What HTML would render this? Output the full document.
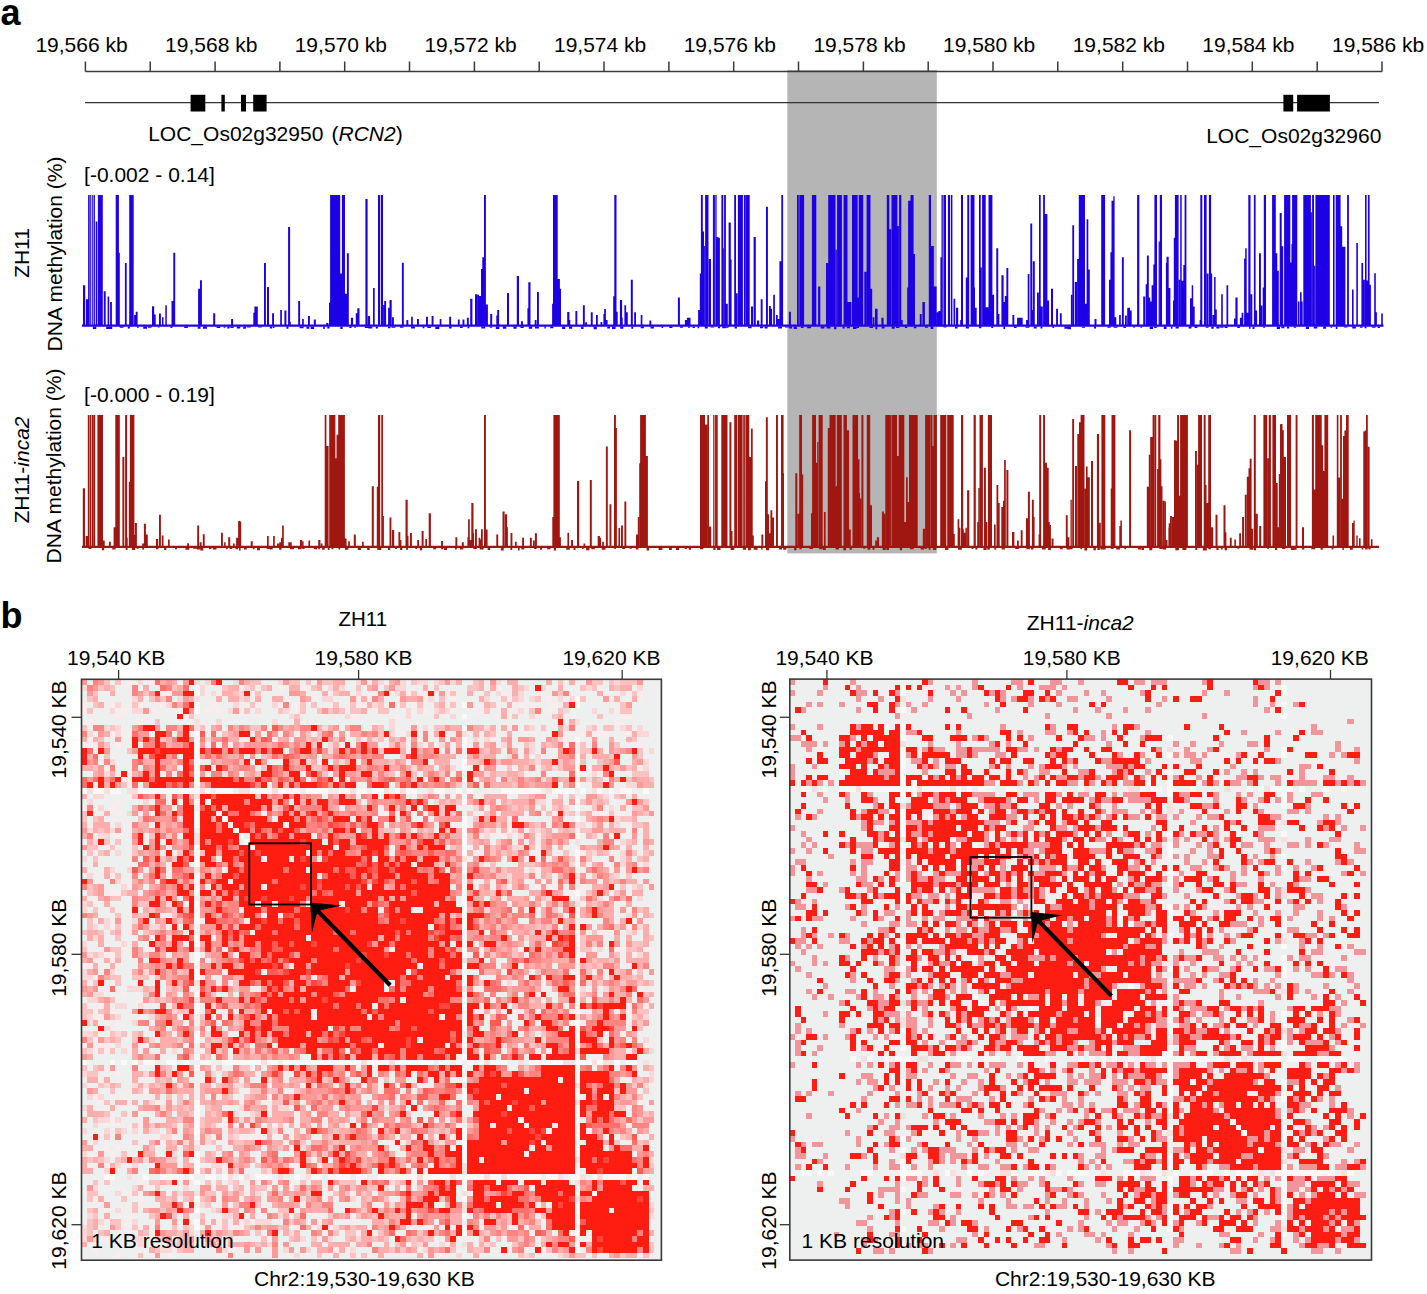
<!DOCTYPE html>
<html><head><meta charset="utf-8"><title>Figure</title>
<style>html,body{margin:0;padding:0;background:#fff;width:1427px;height:1294px;overflow:hidden}svg{display:block;position:absolute;left:0;top:0}text{font-family:"Liberation Sans",sans-serif;fill:#000}</style>
</head><body><svg width="1427" height="1294" viewBox="0 0 1427 1294"><text x="0.5" y="24.5" font-size="36" font-weight="bold" font-family="Liberation Sans, sans-serif">a</text><text x="35.4" y="52" font-size="21" font-family="Liberation Sans, sans-serif">19,566 kb</text><text x="165.1" y="52" font-size="21" font-family="Liberation Sans, sans-serif">19,568 kb</text><text x="294.7" y="52" font-size="21" font-family="Liberation Sans, sans-serif">19,570 kb</text><text x="424.4" y="52" font-size="21" font-family="Liberation Sans, sans-serif">19,572 kb</text><text x="554.0" y="52" font-size="21" font-family="Liberation Sans, sans-serif">19,574 kb</text><text x="683.7" y="52" font-size="21" font-family="Liberation Sans, sans-serif">19,576 kb</text><text x="813.4" y="52" font-size="21" font-family="Liberation Sans, sans-serif">19,578 kb</text><text x="943.0" y="52" font-size="21" font-family="Liberation Sans, sans-serif">19,580 kb</text><text x="1072.7" y="52" font-size="21" font-family="Liberation Sans, sans-serif">19,582 kb</text><text x="1202.3" y="52" font-size="21" font-family="Liberation Sans, sans-serif">19,584 kb</text><text x="1332.0" y="52" font-size="21" font-family="Liberation Sans, sans-serif">19,586 kb</text><rect x="787.3" y="69.9" width="149.5" height="483.5" fill="#b4b5b4"/><path d="M85.4 71.6H1382M85.4 61.6V71.6M150.2 61.6V71.6M215.1 61.6V71.6M279.9 61.6V71.6M344.7 61.6V71.6M409.5 61.6V71.6M474.4 61.6V71.6M539.2 61.6V71.6M604.0 61.6V71.6M668.9 61.6V71.6M733.7 61.6V71.6M798.5 61.6V71.6M863.4 61.6V71.6M928.2 61.6V71.6M993.0 61.6V71.6M1057.8 61.6V71.6M1122.7 61.6V71.6M1187.5 61.6V71.6M1252.3 61.6V71.6M1317.2 61.6V71.6M1382.0 61.6V71.6" stroke="#3a3a3a" stroke-width="1.5" fill="none"/><path d="M85 102.6H1379" stroke="#333" stroke-width="1.4" fill="none"/><rect x="190.6" y="94.8" width="14.7" height="16.7" fill="#000"/><rect x="221.4" y="94.8" width="3.4" height="16.7" fill="#000"/><rect x="241" y="94.8" width="5.0" height="16.7" fill="#000"/><rect x="253.2" y="94.8" width="13.4" height="16.7" fill="#000"/><rect x="1283.4" y="94.8" width="9.8" height="16.7" fill="#000"/><rect x="1297.1" y="94.8" width="32.8" height="16.7" fill="#000"/><text x="148.2" y="140.5" font-size="21" font-family="Liberation Sans, sans-serif">LOC_Os02g32950</text><text x="331.5" y="140.5" font-size="21" font-family="Liberation Sans, sans-serif">(<tspan font-style="italic">RCN2</tspan>)</text><text x="1206.2" y="142.5" font-size="21" font-family="Liberation Sans, sans-serif">LOC_Os02g32960</text><text x="84.1" y="182.4" font-size="21" font-family="Liberation Sans, sans-serif">[-0.002 - 0.14]</text><text x="84.1" y="401.5" font-size="21" font-family="Liberation Sans, sans-serif">[-0.000 - 0.19]</text><text transform="translate(28.9,253) rotate(-90)" text-anchor="middle" font-size="21" font-family="Liberation Sans, sans-serif">ZH11</text><text transform="translate(62,254) rotate(-90)" text-anchor="middle" font-size="21" font-family="Liberation Sans, sans-serif">DNA methylation (%)</text><text transform="translate(29.2,470) rotate(-90)" text-anchor="middle" font-size="21" font-family="Liberation Sans, sans-serif">ZH11-<tspan font-style="italic">inca2</tspan></text><text transform="translate(61.3,466) rotate(-90)" text-anchor="middle" font-size="21" font-family="Liberation Sans, sans-serif">DNA methylation (%)</text><path d="M83.0 285.2h2.2V326.0h-2.2zM86.0 299.3h2.2V326.0h-2.2zM88.1 195.0h1.1V326.0h-1.1zM89.5 195.0h1.3V326.0h-1.3zM91.7 195.0h1.1V326.0h-1.1zM93.5 195.0h1.4V326.0h-1.4zM95.7 221.4h1.6V326.0h-1.6zM97.9 195.0h4.9V326.0h-4.9zM103.8 291.2h1.9V326.0h-1.9zM107.6 296.6h1.6V326.0h-1.6zM110.1 302.0h1.8V326.0h-1.8zM115.7 195.0h3.2V326.0h-3.2zM118.4 252.8h1.4V326.0h-1.4zM124.9 263.1h1.8V326.0h-1.8zM129.2 195.0h4.5V326.0h-4.5zM134.1 315.0h1.6V326.0h-1.6zM135.7 311.8h1.9V326.0h-1.9zM152.0 306.3h2.2V326.0h-2.2zM154.1 314.5h1.6V326.0h-1.6zM159.0 313.4h1.9V326.0h-1.9zM162.0 317.2h1.5V326.0h-1.5zM165.3 305.3h1.5V326.0h-1.5zM171.5 300.9h1.8V326.0h-1.8zM173.3 252.8h1.9V326.0h-1.9zM198.1 288.7h1.9V326.0h-1.9zM200.0 280.3h1.9V326.0h-1.9zM213.2 313.3h2.0V326.0h-2.0zM231.1 318.9h2.0V326.0h-2.0zM253.3 312.8h1.7V326.0h-1.7zM254.4 306.6h3.4V326.0h-3.4zM264.0 262.9h1.9V326.0h-1.9zM267.0 287.0h2.0V326.0h-2.0zM272.1 313.3h1.9V326.0h-1.9zM280.2 310.0h1.7V326.0h-1.7zM284.4 310.5h2.0V326.0h-2.0zM288.1 227.0h2.0V326.0h-2.0zM289.7 321.7h1.1V326.0h-1.1zM298.2 301.0h1.9V326.0h-1.9zM302.1 318.9h1.7V326.0h-1.7zM308.0 316.1h1.9V326.0h-1.9zM313.8 319.5h2.0V326.0h-2.0zM326.2 322.9h2.2V326.0h-2.2zM329.0 302.7h1.7V326.0h-1.7zM330.1 195.0h10.1V326.0h-10.1zM340.2 273.5h1.7V326.0h-1.7zM341.9 195.0h3.1V326.0h-3.1zM345.0 293.7h1.9V326.0h-1.9zM346.9 253.3h1.9V326.0h-1.9zM351.1 317.8h2.0V326.0h-2.0zM350.9 317.8h2.2V326.0h-2.2zM355.8 313.3h1.5V326.0h-1.5zM357.3 308.3h2.2V326.0h-2.2zM365.4 199.0h2.2V326.0h-2.2zM367.9 316.1h2.2V326.0h-2.2zM373.0 288.1h1.7V326.0h-1.7zM378.0 195.0h2.0V326.0h-2.0zM380.8 195.0h2.2V326.0h-2.2zM383.1 304.9h1.1V326.0h-1.1zM384.2 301.0h1.9V326.0h-1.9zM388.1 307.7h1.7V326.0h-1.7zM389.5 299.9h2.2V326.0h-2.2zM392.0 317.3h1.9V326.0h-1.9zM401.9 262.7h1.9V326.0h-1.9zM406.4 320.1h1.9V326.0h-1.9zM411.1 316.7h1.7V326.0h-1.7zM417.0 318.9h1.9V326.0h-1.9zM426.0 316.7h1.9V326.0h-1.9zM431.6 316.1h1.9V326.0h-1.9zM439.7 318.9h1.7V326.0h-1.7zM449.2 316.7h1.9V326.0h-1.9zM457.9 319.5h1.8V326.0h-1.8zM462.5 319.5h1.9V326.0h-1.9zM466.9 317.8h1.9V326.0h-1.9zM470.2 298.8h2.2V326.0h-2.2zM475.0 294.3h2.2V326.0h-2.2zM477.3 294.8h1.7V326.0h-1.7zM478.9 296.0h2.2V326.0h-2.2zM481.0 269.0h1.3V326.0h-1.3zM482.3 257.3h2.2V326.0h-2.2zM484.0 195.0h1.9V326.0h-1.9zM485.9 304.4h2.0V326.0h-2.0zM490.2 313.9h2.0V326.0h-2.0zM496.3 315.6h1.5V326.0h-1.5zM497.2 310.0h1.9V326.0h-1.9zM507.0 292.9h2.0V326.0h-2.0zM507.0 292.9h1.9V326.0h-1.9zM516.8 276.1h2.2V326.0h-2.2zM521.0 321.2h1.9V326.0h-1.9zM527.4 308.3h1.3V326.0h-1.3zM528.3 282.2h2.2V326.0h-2.2zM534.7 320.1h1.9V326.0h-1.9zM537.0 292.0h1.9V326.0h-1.9zM552.1 303.8h1.3V326.0h-1.3zM553.0 195.0h4.7V326.0h-4.7zM557.7 278.9h2.2V326.0h-2.2zM559.7 288.7h1.3V326.0h-1.3zM567.2 312.0h2.2V326.0h-2.2zM568.7 320.1h1.6V326.0h-1.6zM575.4 310.9h1.9V326.0h-1.9zM582.9 305.3h1.9V326.0h-1.9zM585.2 322.3h1.9V326.0h-1.9zM590.8 312.2h1.9V326.0h-1.9zM596.0 315.0h1.8V326.0h-1.8zM600.5 322.1h1.8V326.0h-1.8zM603.4 313.9h1.6V326.0h-1.6zM604.2 309.1h1.7V326.0h-1.7zM605.9 320.1h1.7V326.0h-1.7zM613.2 296.3h1.5V326.0h-1.5zM614.3 195.0h2.2V326.0h-2.2zM616.0 311.7h1.7V326.0h-1.7zM619.9 299.9h2.2V326.0h-2.2zM621.6 317.8h1.1V326.0h-1.1zM624.4 305.3h1.7V326.0h-1.7zM626.1 312.2h1.7V326.0h-1.7zM630.8 279.7h2.0V326.0h-2.0zM634.2 312.2h1.8V326.0h-1.8zM640.7 315.0h1.7V326.0h-1.7zM649.4 320.6h1.9V326.0h-1.9zM677.9 297.6h2.0V326.0h-2.0zM684.9 320.1h2.0V326.0h-2.0zM686.9 317.8h3.6V326.0h-3.6zM698.1 310.0h2.0V326.0h-2.0zM699.8 273.5h1.5V326.0h-1.5zM700.9 195.0h1.9V326.0h-1.9zM702.4 231.5h1.6V326.0h-1.6zM704.0 246.1h0.9V326.0h-0.9zM705.1 195.0h3.4V326.0h-3.4zM708.8 259.0h2.2V326.0h-2.2zM712.9 195.0h2.0V326.0h-2.0zM715.3 195.0h1.3V326.0h-1.3zM716.6 237.1h1.7V326.0h-1.7zM717.7 237.7h2.2V326.0h-2.2zM721.4 195.0h1.9V326.0h-1.9zM722.8 248.3h1.1V326.0h-1.1zM724.1 195.0h1.8V326.0h-1.8zM725.9 303.8h1.9V326.0h-1.9zM728.6 222.5h2.2V326.0h-2.2zM730.1 259.5h1.5V326.0h-1.5zM734.2 195.0h1.8V326.0h-1.8zM735.7 293.2h1.9V326.0h-1.9zM737.9 195.0h5.0V326.0h-5.0zM743.9 195.0h1.1V326.0h-1.1zM745.2 195.0h4.5V326.0h-4.5zM751.0 306.6h2.0V326.0h-2.0zM753.6 237.1h2.2V326.0h-2.2zM757.0 320.6h2.2V326.0h-2.2zM760.7 299.3h1.9V326.0h-1.9zM766.0 206.8h1.9V326.0h-1.9zM769.0 306.0h1.8V326.0h-1.8zM770.8 308.8h1.3V326.0h-1.3zM773.2 294.8h1.7V326.0h-1.7zM776.0 315.0h1.7V326.0h-1.7zM777.7 318.9h1.7V326.0h-1.7zM779.4 261.2h1.9V326.0h-1.9zM781.3 195.0h1.8V326.0h-1.8zM788.9 311.7h2.0V326.0h-2.0zM797.0 195.0h1.8V326.0h-1.8zM799.3 195.0h4.8V326.0h-4.8zM811.9 195.0h4.1V326.0h-4.1zM818.1 286.4h1.9V326.0h-1.9zM815.0 195.0h1.3V326.0h-1.3zM818.1 286.4h2.2V326.0h-2.2zM826.0 262.9h2.2V326.0h-2.2zM828.2 195.0h7.3V326.0h-7.3zM835.7 249.4h1.1V326.0h-1.1zM837.1 195.0h4.8V326.0h-4.8zM843.6 195.0h3.9V326.0h-3.9zM847.5 302.1h3.9V326.0h-3.9zM852.0 195.0h5.6V326.0h-5.6zM857.6 297.6h1.1V326.0h-1.1zM858.7 195.0h4.5V326.0h-4.5zM864.3 271.8h2.2V326.0h-2.2zM866.6 195.0h3.9V326.0h-3.9zM870.5 288.7h1.7V326.0h-1.7zM872.7 317.3h1.7V326.0h-1.7zM875.0 308.8h2.6V326.0h-2.6zM881.4 317.8h2.2V326.0h-2.2zM886.8 195.0h2.5V326.0h-2.5zM889.2 229.2h2.0V326.0h-2.0zM891.5 195.0h5.9V326.0h-5.9zM897.4 225.9h1.5V326.0h-1.5zM899.1 195.0h2.2V326.0h-2.2zM900.2 320.1h2.5V326.0h-2.5zM907.2 287.5h1.8V326.0h-1.8zM908.1 200.7h2.5V326.0h-2.5zM910.5 195.0h3.1V326.0h-3.1zM913.1 253.9h1.9V326.0h-1.9zM919.8 313.9h1.9V326.0h-1.9zM922.4 302.1h2.5V326.0h-2.5zM928.8 195.0h2.2V326.0h-2.2zM930.5 246.1h3.4V326.0h-3.4zM933.8 286.4h2.8V326.0h-2.8zM936.7 312.2h1.7V326.0h-1.7zM938.3 311.1h2.2V326.0h-2.2zM940.4 257.3h1.1V326.0h-1.1zM941.5 195.0h1.3V326.0h-1.3zM943.4 195.0h2.6V326.0h-2.6zM947.9 195.0h2.2V326.0h-2.2zM950.9 195.0h1.5V326.0h-1.5zM953.5 298.8h1.7V326.0h-1.7zM956.0 307.7h2.2V326.0h-2.2zM960.2 320.1h0.9V326.0h-0.9zM961.0 195.0h2.0V326.0h-2.0zM965.8 277.5h1.5V326.0h-1.5zM967.3 195.0h1.9V326.0h-1.9zM970.8 195.0h2.2V326.0h-2.2zM973.1 287.5h1.9V326.0h-1.9zM970.6 195.0h1.7V326.0h-1.7zM972.5 195.0h2.0V326.0h-2.0zM974.5 307.7h2.2V326.0h-2.2zM979.0 195.0h1.7V326.0h-1.7zM980.7 267.4h1.1V326.0h-1.1zM982.1 195.0h3.6V326.0h-3.6zM985.7 307.2h2.8V326.0h-2.8zM988.5 195.0h3.9V326.0h-3.9zM992.4 294.8h1.7V326.0h-1.7zM996.3 248.3h1.9V326.0h-1.9zM997.5 313.9h1.9V326.0h-1.9zM1001.4 275.2h2.2V326.0h-2.2zM1003.4 302.1h1.6V326.0h-1.6zM1004.8 296.0h1.7V326.0h-1.7zM1006.4 267.9h1.9V326.0h-1.9zM1012.4 315.0h1.9V326.0h-1.9zM1017.1 317.8h5.6V326.0h-5.6zM1026.1 320.1h2.0V326.0h-2.0zM1027.7 274.1h1.7V326.0h-1.7zM1030.3 223.6h1.9V326.0h-1.9zM1031.7 310.0h1.7V326.0h-1.7zM1032.8 261.2h2.0V326.0h-2.0zM1037.0 292.6h1.9V326.0h-1.9zM1039.0 195.0h1.7V326.0h-1.7zM1040.6 306.6h2.2V326.0h-2.2zM1043.1 195.0h1.8V326.0h-1.8zM1044.9 214.1h2.5V326.0h-2.5zM1047.4 300.4h1.7V326.0h-1.7zM1051.0 288.7h2.0V326.0h-2.0zM1056.1 308.8h1.9V326.0h-1.9zM1059.9 313.3h1.8V326.0h-1.8zM1070.9 294.8h1.3V326.0h-1.3zM1072.3 225.3h1.8V326.0h-1.8zM1074.8 281.9h2.2V326.0h-2.2zM1077.1 259.0h1.7V326.0h-1.7zM1078.8 195.0h6.2V326.0h-6.2zM1084.9 303.8h1.7V326.0h-1.7zM1086.6 219.2h1.7V326.0h-1.7zM1088.3 269.6h1.5V326.0h-1.5zM1094.5 318.9h2.0V326.0h-2.0zM1101.2 195.0h3.9V326.0h-3.9zM1109.0 279.7h1.7V326.0h-1.7zM1110.4 252.2h1.5V326.0h-1.5zM1111.5 200.7h2.0V326.0h-2.0zM1113.3 196.2h1.3V326.0h-1.3zM1114.6 317.3h1.7V326.0h-1.7zM1119.1 315.0h1.7V326.0h-1.7zM1121.9 257.3h1.9V326.0h-1.9zM1125.3 315.6h1.5V326.0h-1.5zM1127.5 307.7h2.5V326.0h-2.5zM1125.0 315.6h1.7V326.0h-1.7zM1127.2 308.3h2.2V326.0h-2.2zM1129.5 310.5h2.2V326.0h-2.2zM1137.1 195.0h2.2V326.0h-2.2zM1143.2 296.5h2.0V326.0h-2.0zM1145.7 284.2h1.5V326.0h-1.5zM1146.9 255.6h1.9V326.0h-1.9zM1148.5 297.6h1.7V326.0h-1.7zM1149.9 301.6h1.7V326.0h-1.7zM1151.6 285.3h2.0V326.0h-2.0zM1153.3 264.6h1.5V326.0h-1.5zM1154.4 195.0h2.6V326.0h-2.6zM1158.6 241.6h1.1V326.0h-1.1zM1159.8 195.0h2.2V326.0h-2.2zM1165.9 262.9h1.5V326.0h-1.5zM1166.5 256.7h2.2V326.0h-2.2zM1168.2 288.1h2.2V326.0h-2.2zM1173.0 300.4h1.3V326.0h-1.3zM1173.8 237.7h1.7V326.0h-1.7zM1174.9 195.0h3.7V326.0h-3.7zM1178.8 279.7h1.3V326.0h-1.3zM1180.2 195.0h1.5V326.0h-1.5zM1181.6 280.8h1.7V326.0h-1.7zM1183.3 265.1h1.3V326.0h-1.3zM1184.6 195.0h1.8V326.0h-1.8zM1190.0 298.2h1.7V326.0h-1.7zM1191.7 285.3h1.5V326.0h-1.5zM1192.8 306.6h1.9V326.0h-1.9zM1199.6 320.1h1.7V326.0h-1.7zM1200.3 195.0h2.0V326.0h-2.0zM1204.0 195.0h2.6V326.0h-2.6zM1206.8 273.5h1.7V326.0h-1.7zM1208.9 195.0h2.2V326.0h-2.2zM1211.1 273.5h1.1V326.0h-1.1zM1212.5 315.0h1.7V326.0h-1.7zM1214.1 276.9h1.5V326.0h-1.5zM1215.3 309.4h1.5V326.0h-1.5zM1221.2 294.3h1.6V326.0h-1.6zM1226.5 285.3h1.7V326.0h-1.7zM1234.0 318.4h1.5V326.0h-1.5zM1235.4 297.6h2.2V326.0h-2.2zM1239.9 317.8h1.7V326.0h-1.7zM1241.6 312.8h1.7V326.0h-1.7zM1244.1 258.4h1.1V326.0h-1.1zM1245.2 248.3h1.5V326.0h-1.5zM1246.7 312.8h1.7V326.0h-1.7zM1248.3 195.0h2.2V326.0h-2.2zM1250.6 294.3h1.7V326.0h-1.7zM1253.9 195.0h1.7V326.0h-1.7zM1255.6 310.5h1.5V326.0h-1.5zM1259.0 253.3h1.9V326.0h-1.9zM1260.9 305.5h1.5V326.0h-1.5zM1262.7 287.5h1.1V326.0h-1.1zM1263.8 195.0h2.2V326.0h-2.2zM1272.1 195.0h3.7V326.0h-3.7zM1275.8 253.3h1.5V326.0h-1.5zM1276.9 270.7h1.9V326.0h-1.9zM1279.7 213.0h2.0V326.0h-2.0zM1281.4 247.2h1.7V326.0h-1.7zM1283.1 325.1h1.9V326.0h-1.9zM1280.0 213.3h1.6V326.0h-1.6zM1281.6 246.3h1.6V326.0h-1.6zM1284.1 195.0h6.2V326.0h-6.2zM1290.3 262.5h1.1V326.0h-1.1zM1291.4 244.1h0.9V326.0h-0.9zM1292.1 195.0h5.2V326.0h-5.2zM1297.9 301.5h1.6V326.0h-1.6zM1300.0 292.3h1.6V326.0h-1.6zM1301.6 301.5h1.1V326.0h-1.1zM1303.3 195.0h7.6V326.0h-7.6zM1310.8 212.2h1.1V326.0h-1.1zM1312.1 195.0h1.9V326.0h-1.9zM1314.1 265.8h1.1V326.0h-1.1zM1315.4 195.0h14.4V326.0h-14.4zM1333.0 195.0h1.6V326.0h-1.6zM1335.7 195.0h4.9V326.0h-4.9zM1340.6 226.3h1.6V326.0h-1.6zM1342.2 246.8h3.2V326.0h-3.2zM1347.1 195.0h1.8V326.0h-1.8zM1352.0 289.6h1.6V326.0h-1.6zM1356.3 243.0h1.6V326.0h-1.6zM1361.4 263.1h1.7V326.0h-1.7zM1363.1 279.8h1.8V326.0h-1.8zM1365.0 195.0h1.6V326.0h-1.6zM1366.6 280.4h1.3V326.0h-1.3zM1367.9 195.0h1.7V326.0h-1.7zM1369.6 284.7h1.3V326.0h-1.3zM1374.2 273.3h1.6V326.0h-1.6zM1375.8 312.3h1.1V326.0h-1.1zM1381.2 313.4h1.6V326.0h-1.6z" fill="#1e00e6"/><path d="M82 325.6H1383.5" stroke="#1e00e6" stroke-width="2.4"/><path d="M92.9 326.6h3.4v2.3h-3.4zM106.2 326.6h3.3v2.5h-3.3zM109.5 326.6h2.7v2.5h-2.7zM119.7 326.6h3.8v1.2h-3.8zM127.8 326.6h2.1v1.9h-2.1zM137.1 326.6h1.5v1.3h-1.5zM143.2 326.6h3.8v2.2h-3.8zM148.0 326.6h3.5v1.2h-3.5zM157.8 326.6h1.8v1.0h-1.8zM170.4 326.6h2.0v1.3h-2.0zM184.2 326.6h3.7v1.5h-3.7zM197.7 326.6h2.8v2.1h-2.8zM203.0 326.6h3.9v2.1h-3.9zM216.6 326.6h3.7v1.5h-3.7zM223.6 326.6h1.9v1.2h-1.9zM227.3 326.6h2.3v2.0h-2.3zM230.4 326.6h3.2v1.5h-3.2zM236.8 326.6h3.5v1.8h-3.5zM243.2 326.6h2.7v2.1h-2.7zM246.9 326.6h3.9v1.0h-3.9zM258.1 326.6h3.6v1.0h-3.6zM269.8 326.6h2.4v1.9h-2.4zM272.9 326.6h1.6v1.3h-1.6zM286.4 326.6h2.0v2.2h-2.0zM299.6 326.6h3.9v1.6h-3.9zM306.5 326.6h2.8v2.2h-2.8zM310.7 326.6h3.4v2.3h-3.4zM323.2 326.6h1.6v2.5h-1.6zM327.2 326.6h2.4v2.0h-2.4zM340.3 326.6h2.3v2.5h-2.3zM349.3 326.6h2.3v1.5h-2.3zM354.2 326.6h1.7v1.2h-1.7zM364.8 326.6h4.0v1.3h-4.0zM368.3 326.6h4.0v1.9h-4.0zM375.8 326.6h2.1v2.0h-2.1zM387.9 326.6h2.6v1.7h-2.6zM391.5 326.6h3.8v1.1h-3.8zM399.9 326.6h3.6v1.2h-3.6zM411.0 326.6h3.9v2.0h-3.9zM422.6 326.6h1.8v1.7h-1.8zM427.3 326.6h3.6v1.5h-3.6zM435.3 326.6h4.0v2.4h-4.0zM449.0 326.6h2.6v1.8h-2.6zM460.0 326.6h2.7v1.5h-2.7zM467.5 326.6h1.9v1.6h-1.9zM481.3 326.6h3.9v2.0h-3.9zM489.8 326.6h2.3v1.1h-2.3zM495.8 326.6h3.5v2.4h-3.5zM502.8 326.6h3.5v2.2h-3.5zM513.4 326.6h3.2v2.2h-3.2zM520.4 326.6h3.3v1.4h-3.3zM528.8 326.6h3.4v2.1h-3.4zM535.0 326.6h3.9v2.0h-3.9zM544.4 326.6h1.5v1.9h-1.5zM550.2 326.6h3.2v1.7h-3.2zM562.1 326.6h3.1v2.3h-3.1zM569.0 326.6h3.1v2.2h-3.1zM581.1 326.6h2.4v2.3h-2.4zM593.6 326.6h3.2v2.6h-3.2zM607.2 326.6h2.8v1.8h-2.8zM612.0 326.6h3.6v2.5h-3.6zM620.2 326.6h3.2v2.2h-3.2zM631.3 326.6h1.9v2.2h-1.9zM640.7 326.6h3.2v1.7h-3.2zM650.5 326.6h3.4v2.0h-3.4zM661.5 326.6h1.6v1.3h-1.6zM669.3 326.6h3.1v1.4h-3.1zM679.9 326.6h3.1v1.1h-3.1zM688.0 326.6h2.1v1.1h-2.1zM692.5 326.6h2.3v1.3h-2.3zM697.6 326.6h1.6v1.7h-1.6zM704.8 326.6h3.0v1.9h-3.0zM710.4 326.6h3.8v1.0h-3.8zM717.9 326.6h2.2v1.7h-2.2zM722.2 326.6h3.6v1.6h-3.6zM725.6 326.6h3.0v1.2h-3.0zM734.6 326.6h2.3v1.9h-2.3zM748.1 326.6h3.5v1.7h-3.5zM760.0 326.6h3.1v1.6h-3.1zM764.6 326.6h3.0v1.9h-3.0zM778.1 326.6h3.9v2.0h-3.9zM785.0 326.6h3.7v1.0h-3.7zM789.2 326.6h2.9v2.0h-2.9zM793.7 326.6h3.1v2.4h-3.1zM800.9 326.6h2.6v1.4h-2.6zM807.1 326.6h3.9v1.6h-3.9zM820.6 326.6h3.8v2.0h-3.8zM826.5 326.6h4.0v1.8h-4.0zM834.1 326.6h2.3v2.6h-2.3zM842.5 326.6h2.2v1.8h-2.2zM846.8 326.6h3.1v1.7h-3.1zM853.0 326.6h3.5v2.3h-3.5zM856.2 326.6h2.8v1.4h-2.8zM869.5 326.6h3.5v1.4h-3.5zM875.4 326.6h1.9v2.6h-1.9zM881.6 326.6h3.0v1.8h-3.0zM891.7 326.6h3.0v2.2h-3.0zM896.0 326.6h3.4v1.5h-3.4zM904.9 326.6h2.3v1.5h-2.3zM913.7 326.6h2.7v1.6h-2.7zM924.9 326.6h3.0v1.1h-3.0zM930.7 326.6h2.6v2.5h-2.6zM943.5 326.6h2.9v1.0h-2.9zM955.0 326.6h2.6v1.9h-2.6zM965.8 326.6h3.1v1.8h-3.1zM978.9 326.6h2.5v1.6h-2.5zM991.2 326.6h2.0v1.5h-2.0zM1003.4 326.6h1.7v2.3h-1.7zM1014.0 326.6h2.6v1.5h-2.6zM1025.6 326.6h3.8v1.2h-3.8zM1033.8 326.6h2.9v1.8h-2.9zM1040.5 326.6h1.9v1.9h-1.9zM1052.4 326.6h1.7v1.4h-1.7zM1064.4 326.6h3.5v2.1h-3.5zM1067.7 326.6h3.3v2.6h-3.3zM1081.7 326.6h3.3v1.1h-3.3zM1094.0 326.6h2.0v2.0h-2.0zM1107.4 326.6h3.3v1.2h-3.3zM1113.6 326.6h3.8v1.2h-3.8zM1123.4 326.6h2.5v1.3h-2.5zM1133.2 326.6h1.6v1.2h-1.6zM1140.4 326.6h1.7v1.1h-1.7zM1149.7 326.6h3.4v2.4h-3.4zM1154.2 326.6h2.6v1.5h-2.6zM1163.8 326.6h2.7v2.5h-2.7zM1170.9 326.6h1.6v2.1h-1.6zM1175.6 326.6h3.1v1.8h-3.1zM1188.6 326.6h2.9v2.0h-2.9zM1194.5 326.6h2.9v1.4h-2.9zM1205.7 326.6h2.8v1.2h-2.8zM1211.3 326.6h2.4v2.2h-2.4zM1216.3 326.6h3.3v2.0h-3.3zM1220.2 326.6h3.2v1.1h-3.2zM1224.6 326.6h3.0v1.4h-3.0zM1237.2 326.6h2.7v1.5h-2.7zM1249.0 326.6h1.6v2.2h-1.6zM1252.6 326.6h1.9v2.5h-1.9zM1263.1 326.6h2.1v1.2h-2.1zM1276.8 326.6h3.2v2.3h-3.2zM1281.3 326.6h3.1v1.6h-3.1zM1286.9 326.6h2.3v2.0h-2.3zM1293.7 326.6h2.5v1.2h-2.5zM1305.9 326.6h3.1v2.3h-3.1zM1313.7 326.6h3.6v1.8h-3.6zM1323.2 326.6h2.9v2.2h-2.9zM1330.5 326.6h1.7v1.1h-1.7zM1335.8 326.6h1.6v2.4h-1.6zM1344.0 326.6h3.4v1.0h-3.4zM1352.2 326.6h3.7v2.0h-3.7zM1359.9 326.6h2.7v1.2h-2.7zM1364.6 326.6h1.9v1.6h-1.9zM1371.9 326.6h3.7v1.2h-3.7zM1377.7 326.6h2.2v1.3h-2.2z" fill="#1e00e6"/><path d="M82.8 488.3h2.2V547.2h-2.2zM85.6 536.1h2.2V547.2h-2.2zM87.8 415.0h1.7V547.2h-1.7zM89.9 415.0h1.3V547.2h-1.3zM91.8 415.0h1.5V547.2h-1.5zM93.5 415.0h1.7V547.2h-1.7zM97.4 415.0h5.6V547.2h-5.6zM103.0 540.6h1.7V547.2h-1.7zM108.9 541.7h1.9V547.2h-1.9zM113.6 527.2h2.0V547.2h-2.0zM115.3 415.0h4.5V547.2h-4.5zM122.4 457.1h1.9V547.2h-1.9zM125.1 415.0h2.0V547.2h-2.0zM126.0 537.8h1.7V547.2h-1.7zM128.8 481.8h1.1V547.2h-1.1zM129.9 415.0h4.5V547.2h-4.5zM134.0 535.0h1.5V547.2h-1.5zM134.9 523.0h2.0V547.2h-2.0zM142.2 543.4h1.7V547.2h-1.7zM143.9 523.8h2.0V547.2h-2.0zM145.9 534.5h1.9V547.2h-1.9zM156.0 538.9h2.2V547.2h-2.2zM159.0 514.8h1.9V547.2h-1.9zM161.8 535.6h1.7V547.2h-1.7zM168.0 539.5h1.7V547.2h-1.7zM187.1 543.2h1.9V547.2h-1.9zM197.2 525.5h1.9V547.2h-1.9zM199.7 542.3h1.9V547.2h-1.9zM202.8 534.2h1.9V547.2h-1.9zM221.0 532.8h1.9V547.2h-1.9zM224.1 542.3h1.5V547.2h-1.5zM228.2 537.3h2.0V547.2h-2.0zM233.0 543.4h1.7V547.2h-1.7zM236.1 537.8h2.0V547.2h-2.0zM238.1 521.0h1.9V547.2h-1.9zM236.1 538.4h2.0V547.2h-2.0zM239.3 521.6h1.9V547.2h-1.9zM250.7 541.2h2.0V547.2h-2.0zM267.0 536.1h1.7V547.2h-1.7zM273.1 536.1h1.7V547.2h-1.7zM277.0 543.4h2.2V547.2h-2.2zM279.3 542.3h1.9V547.2h-1.9zM281.0 537.8h1.1V547.2h-1.1zM282.1 525.5h1.7V547.2h-1.7zM288.3 542.3h3.4V547.2h-3.4zM300.0 540.1h2.2V547.2h-2.2zM302.3 541.2h1.3V547.2h-1.3zM308.4 540.6h1.7V547.2h-1.7zM318.2 540.1h2.2V547.2h-2.2zM320.8 543.4h1.7V547.2h-1.7zM324.7 415.0h1.7V547.2h-1.7zM326.4 445.9h2.2V547.2h-2.2zM329.2 415.0h6.2V547.2h-6.2zM335.3 458.2h1.7V547.2h-1.7zM336.5 434.7h1.7V547.2h-1.7zM338.2 415.0h6.7V547.2h-6.7zM344.9 538.4h1.7V547.2h-1.7zM348.2 541.2h1.7V547.2h-1.7zM353.8 534.5h2.0V547.2h-2.0zM362.0 541.7h1.7V547.2h-1.7zM371.8 486.2h2.0V547.2h-2.0zM376.8 486.8h1.7V547.2h-1.7zM378.0 415.0h2.2V547.2h-2.2zM381.3 415.0h1.7V547.2h-1.7zM381.9 516.0h2.0V547.2h-2.0zM389.5 517.6h1.9V547.2h-1.9zM392.0 530.0h2.2V547.2h-2.2zM390.0 517.6h1.3V547.2h-1.3zM392.0 530.2h2.2V547.2h-2.2zM398.4 532.0h1.9V547.2h-1.9zM400.1 540.1h1.3V547.2h-1.3zM405.5 499.7h2.2V547.2h-2.2zM406.8 536.1h1.7V547.2h-1.7zM410.0 533.1h1.9V547.2h-1.9zM417.2 540.1h1.9V547.2h-1.9zM421.6 531.1h2.0V547.2h-2.0zM425.3 538.9h1.7V547.2h-1.7zM428.7 513.2h2.2V547.2h-2.2zM441.0 541.0h1.9V547.2h-1.9zM455.4 537.3h1.9V547.2h-1.9zM461.8 542.3h2.0V547.2h-2.0zM467.4 537.3h1.1V547.2h-1.1zM468.1 519.3h1.7V547.2h-1.7zM469.8 540.1h1.5V547.2h-1.5zM471.3 503.1h2.2V547.2h-2.2zM473.0 533.3h1.1V547.2h-1.1zM475.0 529.2h1.9V547.2h-1.9zM478.6 537.8h1.7V547.2h-1.7zM479.7 539.5h1.3V547.2h-1.3zM481.0 529.2h1.8V547.2h-1.8zM484.0 415.0h1.9V547.2h-1.9zM485.9 529.4h1.7V547.2h-1.7zM496.3 534.5h1.9V547.2h-1.9zM502.5 511.5h2.1V547.2h-2.1zM504.9 514.3h2.2V547.2h-2.2zM506.6 527.2h1.3V547.2h-1.3zM510.5 533.1h1.9V547.2h-1.9zM515.0 541.7h1.7V547.2h-1.7zM522.1 537.8h1.9V547.2h-1.9zM529.9 537.8h1.9V547.2h-1.9zM533.0 540.6h1.7V547.2h-1.7zM534.9 533.3h2.0V547.2h-2.0zM552.3 517.1h1.5V547.2h-1.5zM553.4 415.0h6.4V547.2h-6.4zM559.6 537.3h1.3V547.2h-1.3zM567.4 532.8h1.7V547.2h-1.7zM571.1 540.1h1.9V547.2h-1.9zM577.0 480.9h2.2V547.2h-2.2zM583.5 543.4h1.7V547.2h-1.7zM589.8 480.1h2.0V547.2h-2.0zM597.7 536.1h2.2V547.2h-2.2zM599.7 537.8h1.3V547.2h-1.3zM602.2 541.7h1.7V547.2h-1.7zM605.9 446.4h1.9V547.2h-1.9zM609.5 504.2h1.9V547.2h-1.9zM614.0 415.0h1.9V547.2h-1.9zM615.6 427.9h1.3V547.2h-1.3zM618.4 528.0h1.7V547.2h-1.7zM621.0 525.5h1.9V547.2h-1.9zM624.4 501.4h1.9V547.2h-1.9zM636.0 534.5h1.8V547.2h-1.8zM637.8 517.1h1.3V547.2h-1.3zM639.2 463.3h1.1V547.2h-1.1zM640.1 415.0h5.8V547.2h-5.8zM645.9 456.0h2.0V547.2h-2.0zM701.4 415.0h3.6V547.2h-3.6zM700.0 415.0h5.0V547.2h-5.0zM705.0 424.6h2.2V547.2h-2.2zM707.3 415.0h1.7V547.2h-1.7zM709.0 526.6h2.2V547.2h-2.2zM713.2 415.0h1.3V547.2h-1.3zM715.1 415.0h2.6V547.2h-2.6zM721.3 415.0h6.2V547.2h-6.2zM729.4 422.3h2.0V547.2h-2.0zM730.8 531.1h1.7V547.2h-1.7zM734.2 415.0h2.8V547.2h-2.8zM735.3 478.4h1.7V547.2h-1.7zM737.6 415.0h5.0V547.2h-5.0zM743.2 415.0h1.7V547.2h-1.7zM745.4 415.0h3.9V547.2h-3.9zM749.3 457.1h2.2V547.2h-2.2zM751.0 428.5h1.7V547.2h-1.7zM752.5 535.6h1.3V547.2h-1.3zM761.4 534.5h1.9V547.2h-1.9zM765.0 481.2h1.1V547.2h-1.1zM765.9 417.3h1.9V547.2h-1.9zM767.3 514.3h1.7V547.2h-1.7zM769.0 533.3h1.7V547.2h-1.7zM770.4 510.3h1.9V547.2h-1.9zM772.3 517.6h1.7V547.2h-1.7zM776.0 415.0h1.9V547.2h-1.9zM781.0 415.0h2.6V547.2h-2.6zM782.7 473.3h1.3V547.2h-1.3zM795.3 473.3h2.0V547.2h-2.0zM797.5 513.7h1.7V547.2h-1.7zM799.2 415.0h2.8V547.2h-2.8zM801.5 474.5h1.7V547.2h-1.7zM811.0 513.2h1.1V547.2h-1.1zM812.1 415.0h3.9V547.2h-3.9zM816.0 462.7h1.7V547.2h-1.7zM817.2 442.0h1.1V547.2h-1.1zM818.6 415.0h4.1V547.2h-4.1zM823.9 512.0h1.7V547.2h-1.7zM827.8 427.9h1.7V547.2h-1.7zM829.5 415.0h6.2V547.2h-6.2zM835.7 486.2h1.7V547.2h-1.7zM836.8 415.0h5.0V547.2h-5.0zM843.5 415.0h3.4V547.2h-3.4zM846.9 430.2h2.2V547.2h-2.2zM849.1 529.4h1.7V547.2h-1.7zM852.5 415.0h5.6V547.2h-5.6zM858.1 493.0h1.9V547.2h-1.9zM855.0 415.0h2.8V547.2h-2.8zM857.8 459.3h1.7V547.2h-1.7zM859.5 498.6h1.7V547.2h-1.7zM861.4 415.0h2.0V547.2h-2.0zM866.8 415.0h3.4V547.2h-3.4zM870.1 505.3h1.9V547.2h-1.9zM875.2 540.6h1.7V547.2h-1.7zM876.9 537.3h2.2V547.2h-2.2zM881.9 511.5h2.0V547.2h-2.0zM883.9 513.7h1.3V547.2h-1.3zM885.3 415.0h5.6V547.2h-5.6zM891.4 415.0h5.6V547.2h-5.6zM897.0 456.0h1.7V547.2h-1.7zM898.7 415.0h5.6V547.2h-5.6zM904.3 522.1h1.7V547.2h-1.7zM906.0 477.3h1.7V547.2h-1.7zM907.5 501.9h1.6V547.2h-1.6zM909.0 415.0h8.7V547.2h-8.7zM922.8 528.8h2.2V547.2h-2.2zM925.1 415.0h5.3V547.2h-5.3zM930.7 415.0h1.7V547.2h-1.7zM932.4 445.9h1.1V547.2h-1.1zM933.5 415.0h3.4V547.2h-3.4zM940.2 415.0h6.2V547.2h-6.2zM947.2 415.0h6.5V547.2h-6.5zM953.7 533.9h1.1V547.2h-1.1zM957.6 519.3h1.7V547.2h-1.7zM959.3 527.7h1.1V547.2h-1.1zM961.0 415.0h2.2V547.2h-2.2zM962.1 528.8h1.7V547.2h-1.7zM963.8 532.8h1.7V547.2h-1.7zM965.4 527.7h1.5V547.2h-1.5zM967.1 490.2h2.2V547.2h-2.2zM973.6 415.0h2.2V547.2h-2.2zM977.2 522.1h1.1V547.2h-1.1zM978.3 487.9h1.1V547.2h-1.1zM979.5 415.0h3.4V547.2h-3.4zM983.9 467.7h2.0V547.2h-2.0zM985.6 522.1h1.7V547.2h-1.7zM987.9 415.0h4.1V547.2h-4.1zM994.0 524.4h1.7V547.2h-1.7zM996.5 485.1h1.8V547.2h-1.8zM998.0 503.1h1.7V547.2h-1.7zM1001.3 507.0h1.7V547.2h-1.7zM1003.0 500.8h1.7V547.2h-1.7zM1004.1 459.9h1.7V547.2h-1.7zM1006.4 470.0h2.0V547.2h-2.0zM1012.0 532.2h2.2V547.2h-2.2zM1012.2 532.0h2.2V547.2h-2.2zM1017.0 540.6h1.8V547.2h-1.8zM1020.7 530.2h1.9V547.2h-1.9zM1025.9 518.2h2.0V547.2h-2.0zM1027.9 491.8h2.0V547.2h-2.0zM1031.9 499.7h1.9V547.2h-1.9zM1033.3 517.1h1.3V547.2h-1.3zM1038.6 534.5h1.5V547.2h-1.5zM1039.2 415.0h2.0V547.2h-2.0zM1043.1 415.0h1.9V547.2h-1.9zM1045.0 462.7h2.0V547.2h-2.0zM1047.0 467.7h1.7V547.2h-1.7zM1048.1 522.1h1.7V547.2h-1.7zM1049.2 524.9h1.7V547.2h-1.7zM1051.5 538.4h2.0V547.2h-2.0zM1065.8 515.2h1.9V547.2h-1.9zM1067.7 537.3h1.7V547.2h-1.7zM1070.5 499.7h1.3V547.2h-1.3zM1072.2 419.0h1.9V547.2h-1.9zM1075.0 466.1h2.0V547.2h-2.0zM1077.3 434.1h1.7V547.2h-1.7zM1079.0 422.3h1.7V547.2h-1.7zM1080.6 415.0h3.9V547.2h-3.9zM1084.6 488.5h1.7V547.2h-1.7zM1086.0 466.6h1.6V547.2h-1.6zM1087.6 477.3h2.2V547.2h-2.2zM1091.0 461.0h2.0V547.2h-2.0zM1096.9 434.1h2.2V547.2h-2.2zM1098.6 522.7h2.2V547.2h-2.2zM1101.4 415.0h3.9V547.2h-3.9zM1110.7 488.5h1.6V547.2h-1.6zM1111.5 415.0h3.9V547.2h-3.9zM1119.3 526.0h1.7V547.2h-1.7zM1120.4 520.4h1.5V547.2h-1.5zM1129.1 430.2h2.0V547.2h-2.0zM1146.8 486.8h2.0V547.2h-2.0zM1148.8 454.8h1.3V547.2h-1.3zM1150.2 436.9h2.5V547.2h-2.5zM1152.6 415.0h1.5V547.2h-1.5zM1154.3 415.0h2.0V547.2h-2.0zM1157.1 468.9h1.1V547.2h-1.1zM1158.2 415.0h2.2V547.2h-2.2zM1159.7 459.3h1.7V547.2h-1.7zM1160.8 486.2h1.7V547.2h-1.7zM1162.7 500.8h2.2V547.2h-2.2zM1165.6 540.1h1.9V547.2h-1.9zM1168.7 523.2h1.3V547.2h-1.3zM1165.0 501.4h0.9V547.2h-0.9zM1165.9 540.1h1.6V547.2h-1.6zM1168.4 527.7h1.7V547.2h-1.7zM1170.0 516.0h1.9V547.2h-1.9zM1172.0 517.1h2.0V547.2h-2.0zM1174.0 440.3h2.2V547.2h-2.2zM1176.2 440.8h1.7V547.2h-1.7zM1177.1 415.0h1.9V547.2h-1.9zM1179.0 495.8h1.1V547.2h-1.1zM1180.1 415.0h2.8V547.2h-2.8zM1181.8 461.6h1.1V547.2h-1.1zM1182.9 415.0h5.0V547.2h-5.0zM1195.0 450.9h1.9V547.2h-1.9zM1197.0 464.4h1.1V547.2h-1.1zM1198.1 415.0h3.9V547.2h-3.9zM1203.7 415.0h1.9V547.2h-1.9zM1204.8 485.1h1.7V547.2h-1.7zM1206.5 503.1h1.7V547.2h-1.7zM1208.2 415.0h2.8V547.2h-2.8zM1211.0 527.2h2.2V547.2h-2.2zM1215.5 514.8h2.0V547.2h-2.0zM1223.5 505.3h2.0V547.2h-2.0zM1225.5 532.2h0.9V547.2h-0.9zM1229.8 537.8h1.9V547.2h-1.9zM1234.3 539.5h1.6V547.2h-1.6zM1239.2 533.3h1.8V547.2h-1.8zM1242.1 517.1h1.9V547.2h-1.9zM1244.8 494.7h1.8V547.2h-1.8zM1246.8 476.7h1.7V547.2h-1.7zM1248.5 468.3h1.5V547.2h-1.5zM1249.7 458.8h1.9V547.2h-1.9zM1251.6 528.8h1.5V547.2h-1.5zM1253.8 415.0h2.0V547.2h-2.0zM1255.6 513.7h2.2V547.2h-2.2zM1259.2 526.0h2.0V547.2h-2.0zM1263.4 415.0h3.8V547.2h-3.8zM1267.3 458.2h1.5V547.2h-1.5zM1268.7 415.0h2.2V547.2h-2.2zM1272.4 415.0h3.6V547.2h-3.6zM1276.0 482.9h1.7V547.2h-1.7zM1277.1 527.2h1.7V547.2h-1.7zM1278.8 473.9h1.7V547.2h-1.7zM1280.5 424.0h2.0V547.2h-2.0zM1282.5 430.2h1.3V547.2h-1.3zM1283.8 457.1h2.0V547.2h-2.0zM1287.0 415.0h4.1V547.2h-4.1zM1295.6 415.0h1.9V547.2h-1.9zM1302.0 527.2h2.0V547.2h-2.0zM1311.9 415.0h2.0V547.2h-2.0zM1313.9 489.6h1.3V547.2h-1.3zM1315.2 415.0h6.2V547.2h-6.2zM1321.4 445.3h1.7V547.2h-1.7zM1323.1 471.1h1.9V547.2h-1.9zM1280.0 424.6h1.3V547.2h-1.3zM1281.3 430.0h1.4V547.2h-1.4zM1282.7 473.9h1.1V547.2h-1.1zM1283.8 457.1h2.2V547.2h-2.2zM1287.0 415.0h3.8V547.2h-3.8zM1295.7 415.0h1.8V547.2h-1.8zM1302.2 527.4h1.6V547.2h-1.6zM1311.9 415.0h1.8V547.2h-1.8zM1313.8 490.1h1.4V547.2h-1.4zM1315.2 415.0h6.5V547.2h-6.5zM1321.7 446.8h1.1V547.2h-1.1zM1322.7 473.9h1.6V547.2h-1.6zM1324.4 415.0h3.8V547.2h-3.8zM1332.5 535.5h1.6V547.2h-1.6zM1336.8 415.0h1.6V547.2h-1.6zM1338.4 477.6h1.6V547.2h-1.6zM1340.1 415.0h1.8V547.2h-1.8zM1341.9 498.7h1.1V547.2h-1.1zM1343.0 436.0h1.4V547.2h-1.4zM1344.4 430.6h1.6V547.2h-1.6zM1346.0 415.0h2.7V547.2h-2.7zM1352.0 523.1h1.4V547.2h-1.4zM1353.4 520.4h1.3V547.2h-1.3zM1356.3 535.5h1.4V547.2h-1.4zM1359.0 538.2h1.6V547.2h-1.6zM1363.3 431.6h1.3V547.2h-1.3zM1364.6 430.6h1.4V547.2h-1.4zM1366.0 415.0h1.8V547.2h-1.8zM1367.9 446.8h1.7V547.2h-1.7zM1370.9 539.3h1.6V547.2h-1.6z" fill="#a01610"/><path d="M82 546.8000000000001H1379" stroke="#a01610" stroke-width="2.2"/><path d="M88.6 547.8h2.7v1.1h-2.7zM101.8 547.8h2.4v2.5h-2.4zM112.3 547.8h3.2v1.8h-3.2zM125.7 547.8h1.8v2.1h-1.8zM131.9 547.8h3.2v2.2h-3.2zM136.7 547.8h2.0v1.0h-2.0zM142.3 547.8h1.7v1.6h-1.7zM156.0 547.8h2.4v1.5h-2.4zM164.1 547.8h2.2v2.2h-2.2zM175.0 547.8h1.9v1.4h-1.9zM185.4 547.8h3.9v2.0h-3.9zM193.1 547.8h3.9v1.0h-3.9zM196.8 547.8h3.4v1.7h-3.4zM200.3 547.8h2.9v2.6h-2.9zM209.0 547.8h2.4v1.2h-2.4zM212.8 547.8h3.7v1.8h-3.7zM226.1 547.8h1.6v1.4h-1.6zM229.6 547.8h2.5v1.1h-2.5zM235.5 547.8h2.5v1.5h-2.5zM239.0 547.8h1.6v2.6h-1.6zM244.0 547.8h2.8v1.6h-2.8zM252.8 547.8h1.7v1.5h-1.7zM257.0 547.8h2.9v2.5h-2.9zM266.6 547.8h3.6v1.3h-3.6zM269.8 547.8h2.8v1.8h-2.8zM279.1 547.8h2.4v2.0h-2.4zM290.1 547.8h3.8v1.5h-3.8zM298.0 547.8h3.6v1.4h-3.6zM302.3 547.8h2.3v1.1h-2.3zM313.8 547.8h3.5v1.5h-3.5zM318.2 547.8h1.7v1.4h-1.7zM322.1 547.8h2.6v1.9h-2.6zM327.8 547.8h1.7v2.1h-1.7zM331.4 547.8h2.0v1.5h-2.0zM338.5 547.8h1.7v1.7h-1.7zM344.9 547.8h3.4v1.9h-3.4zM357.8 547.8h3.1v2.2h-3.1zM367.1 547.8h2.6v2.3h-2.6zM377.3 547.8h3.9v2.2h-3.9zM388.0 547.8h2.2v2.3h-2.2zM395.2 547.8h1.8v1.1h-1.8zM400.1 547.8h2.2v2.1h-2.2zM406.2 547.8h1.7v2.2h-1.7zM415.4 547.8h1.6v1.1h-1.6zM419.8 547.8h2.4v2.4h-2.4zM433.2 547.8h3.0v1.4h-3.0zM441.0 547.8h2.4v1.5h-2.4zM444.1 547.8h3.0v2.3h-3.0zM455.1 547.8h1.7v1.8h-1.7zM460.0 547.8h3.3v1.7h-3.3zM473.3 547.8h3.5v1.2h-3.5zM479.8 547.8h3.8v1.7h-3.8zM487.6 547.8h2.6v2.2h-2.6zM500.9 547.8h2.8v2.6h-2.8zM510.4 547.8h1.8v2.3h-1.8zM518.0 547.8h1.6v2.6h-1.6zM521.4 547.8h2.9v1.8h-2.9zM534.1 547.8h2.5v1.3h-2.5zM540.1 547.8h2.0v1.9h-2.0zM547.1 547.8h3.4v1.4h-3.4zM553.9 547.8h2.1v2.6h-2.1zM566.2 547.8h3.6v2.0h-3.6zM573.6 547.8h1.9v2.3h-1.9zM582.0 547.8h1.6v1.3h-1.6zM586.1 547.8h3.3v2.4h-3.3zM591.3 547.8h3.5v1.5h-3.5zM601.8 547.8h3.7v2.0h-3.7zM613.6 547.8h2.4v1.0h-2.4zM622.2 547.8h3.0v1.3h-3.0zM629.5 547.8h2.3v1.0h-2.3zM635.9 547.8h2.5v1.8h-2.5zM646.6 547.8h2.5v2.6h-2.5zM658.6 547.8h3.8v2.1h-3.8zM669.0 547.8h2.8v2.3h-2.8zM676.0 547.8h3.0v2.1h-3.0zM684.7 547.8h2.2v1.1h-2.2zM688.7 547.8h2.4v1.9h-2.4zM700.0 547.8h3.3v1.5h-3.3zM713.3 547.8h2.2v2.1h-2.2zM717.1 547.8h3.4v2.1h-3.4zM730.6 547.8h3.7v2.1h-3.7zM742.8 547.8h3.3v2.0h-3.3zM748.1 547.8h2.8v2.4h-2.8zM753.7 547.8h3.9v1.9h-3.9zM761.1 547.8h1.5v1.6h-1.5zM766.0 547.8h3.1v2.4h-3.1zM779.0 547.8h3.0v1.6h-3.0zM783.2 547.8h3.2v1.9h-3.2zM794.1 547.8h2.4v2.4h-2.4zM799.4 547.8h2.3v1.4h-2.3zM809.3 547.8h3.7v1.3h-3.7zM819.2 547.8h3.4v1.4h-3.4zM822.9 547.8h2.9v2.3h-2.9zM835.6 547.8h3.3v1.7h-3.3zM843.3 547.8h2.8v2.4h-2.8zM849.6 547.8h2.2v2.0h-2.2zM863.2 547.8h2.0v1.0h-2.0zM867.5 547.8h2.9v2.0h-2.9zM872.5 547.8h2.0v2.0h-2.0zM882.6 547.8h3.2v2.2h-3.2zM886.3 547.8h2.7v2.3h-2.7zM899.8 547.8h2.3v2.4h-2.3zM909.9 547.8h3.8v1.4h-3.8zM920.6 547.8h3.6v1.8h-3.6zM924.7 547.8h2.0v1.3h-2.0zM928.7 547.8h1.9v2.0h-1.9zM932.9 547.8h3.4v2.2h-3.4zM944.9 547.8h3.5v2.1h-3.5zM958.0 547.8h3.9v2.0h-3.9zM971.6 547.8h1.8v1.2h-1.8zM975.4 547.8h2.0v1.6h-2.0zM983.4 547.8h3.2v2.2h-3.2zM987.3 547.8h2.5v1.9h-2.5zM994.4 547.8h1.8v2.0h-1.8zM1001.6 547.8h3.2v1.8h-3.2zM1015.2 547.8h3.9v1.1h-3.9zM1026.5 547.8h3.3v1.5h-3.3zM1030.8 547.8h2.7v1.6h-2.7zM1041.9 547.8h3.8v1.6h-3.8zM1048.1 547.8h2.7v2.1h-2.7zM1059.8 547.8h2.9v1.5h-2.9zM1066.5 547.8h3.6v1.8h-3.6zM1070.0 547.8h2.6v1.4h-2.6zM1080.4 547.8h1.7v1.4h-1.7zM1084.4 547.8h2.7v2.6h-2.7zM1093.4 547.8h2.5v2.5h-2.5zM1097.4 547.8h2.4v2.3h-2.4zM1100.4 547.8h3.4v1.6h-3.4zM1103.6 547.8h2.1v1.7h-2.1zM1110.8 547.8h2.8v1.1h-2.8zM1116.2 547.8h3.9v1.7h-3.9zM1124.4 547.8h1.7v1.4h-1.7zM1137.9 547.8h3.2v1.8h-3.2zM1141.5 547.8h2.5v2.2h-2.5zM1149.3 547.8h3.0v2.4h-3.0zM1159.4 547.8h3.1v1.1h-3.1zM1162.7 547.8h3.4v1.7h-3.4zM1175.3 547.8h3.6v2.5h-3.6zM1182.4 547.8h4.0v2.2h-4.0zM1195.3 547.8h1.9v2.2h-1.9zM1202.9 547.8h3.9v2.6h-3.9zM1208.3 547.8h2.6v1.4h-2.6zM1216.4 547.8h2.2v2.1h-2.2zM1220.8 547.8h1.9v1.7h-1.9zM1224.6 547.8h2.5v2.4h-2.5zM1237.4 547.8h2.0v1.0h-2.0zM1249.5 547.8h3.9v2.0h-3.9zM1254.0 547.8h2.1v2.5h-2.1zM1267.3 547.8h1.6v1.3h-1.6zM1275.0 547.8h2.2v2.2h-2.2zM1282.1 547.8h3.4v1.2h-3.4zM1290.8 547.8h3.9v2.1h-3.9zM1294.8 547.8h1.8v2.0h-1.8zM1301.9 547.8h2.4v1.8h-2.4zM1311.3 547.8h3.9v1.4h-3.9zM1320.6 547.8h2.2v1.9h-2.2zM1331.6 547.8h1.8v1.8h-1.8zM1342.4 547.8h1.5v2.2h-1.5zM1350.0 547.8h2.8v2.0h-2.8zM1361.7 547.8h1.6v1.8h-1.6zM1365.1 547.8h2.5v1.6h-2.5zM1368.4 547.8h2.2v1.7h-2.2z" fill="#a01610"/><text x="0.4" y="627.5" font-size="36" font-weight="bold" font-family="Liberation Sans, sans-serif">b</text><text x="338.5" y="626" font-size="20.5" font-family="Liberation Sans, sans-serif">ZH11</text><text x="1026.8" y="629.5" font-size="21" font-family="Liberation Sans, sans-serif">ZH11-<tspan font-style="italic">inca2</tspan></text><rect x="81.5" y="679.3" width="579.9" height="580.9" fill="#eef0ef"/><g shape-rendering="crispEdges"><path fill="#fcecee" d="M126.5 679.3H132.2V685.0H126.5zM143.4 679.3H154.7V685.0H143.4zM366.8 679.3H372.4V685.0H366.8zM277.7 685.0H283.2V690.7H277.7zM299.9 685.0H305.5V690.7H299.9zM495.5 685.0H501.1V690.7H495.5zM405.8 690.7H411.4V696.4H405.8zM416.9 690.7H422.5V696.4H416.9zM444.8 690.7H450.4V696.4H444.8zM501.1 690.7H506.8V696.4H501.1zM637.1 690.7H642.8V696.4H637.1zM355.7 696.4H361.2V702.2H355.7zM450.4 696.4H455.9V702.2H450.4zM546.4 696.4H552.1V702.2H546.4zM608.8 696.4H614.4V702.2H608.8zM637.1 696.4H642.8V702.2H637.1zM81.5 702.2H87.1V707.9H81.5zM109.7 702.2H115.3V707.9H109.7zM137.8 702.2H143.4V707.9H137.8zM160.3 702.2H165.9V707.9H160.3zM210.8 702.2H216.4V707.9H210.8zM277.7 702.2H283.2V707.9H277.7zM294.4 702.2H299.9V707.9H294.4zM327.8 702.2H333.4V707.9H327.8zM355.7 702.2H366.8V707.9H355.7zM411.4 702.2H416.9V707.9H411.4zM495.5 702.2H501.1V707.9H495.5zM518.1 702.2H523.8V707.9H518.1zM552.1 702.2H557.7V707.9H552.1zM81.5 707.9H87.1V713.6H81.5zM120.9 707.9H126.5V713.6H120.9zM149.1 707.9H154.7V713.6H149.1zM177.2 707.9H182.8V713.6H177.2zM205.2 707.9H210.8V713.6H205.2zM216.4 707.9H222.0V713.6H216.4zM238.7 707.9H244.2V713.6H238.7zM294.4 707.9H299.9V713.6H294.4zM422.5 707.9H428.1V713.6H422.5zM472.8 707.9H478.5V713.6H472.8zM546.4 707.9H552.1V713.6H546.4zM115.3 713.6H120.9V719.3H115.3zM350.1 713.6H355.7V719.3H350.1zM394.6 713.6H400.2V719.3H394.6zM495.5 713.6H501.1V719.3H495.5zM620.1 713.6H631.5V719.3H620.1zM87.1 719.3H92.8V725.0H87.1zM137.8 719.3H143.4V725.0H137.8zM299.9 719.3H305.5V725.0H299.9zM614.4 719.3H620.1V725.0H614.4zM109.7 730.7H115.3V736.5H109.7zM126.5 730.7H132.2V736.5H126.5zM400.2 730.7H405.8V736.5H400.2zM523.8 730.7H529.4V736.5H523.8zM580.4 730.7H586.1V736.5H580.4zM597.4 730.7H608.8V736.5H597.4zM625.8 730.7H631.5V736.5H625.8zM87.1 736.5H92.8V742.2H87.1zM489.8 736.5H495.5V742.2H489.8zM87.1 742.2H92.8V747.9H87.1zM115.3 742.2H120.9V747.9H115.3zM637.1 742.2H642.8V747.9H637.1zM109.7 753.6H115.3V759.3H109.7zM540.7 753.6H546.4V759.3H540.7zM115.3 770.8H120.9V776.5H115.3zM450.4 793.6H455.9V799.2H450.4zM478.5 793.6H484.1V799.2H478.5zM115.3 799.2H120.9V804.9H115.3zM81.5 804.9H87.1V810.5H81.5zM109.7 804.9H115.3V810.5H109.7zM115.3 810.5H120.9V816.2H115.3zM495.5 810.5H501.1V816.2H495.5zM620.1 810.5H625.8V816.2H620.1zM523.8 816.2H529.4V821.9H523.8zM648.5 816.2H654.0V821.9H648.5zM115.3 833.2H120.9V838.9H115.3zM501.1 833.2H506.8V838.9H501.1zM535.1 833.2H540.7V838.9H535.1zM535.1 844.5H540.7V850.2H535.1zM535.1 850.2H540.7V855.9H535.1zM580.4 850.2H586.1V855.9H580.4zM535.1 867.2H540.7V872.8H535.1zM92.8 872.8H98.4V878.5H92.8zM109.7 872.8H115.3V878.5H109.7zM648.5 878.5H654.0V884.2H648.5zM535.1 884.2H540.7V889.8H535.1zM546.4 884.2H552.1V889.8H546.4zM580.4 884.2H586.1V889.8H580.4zM109.7 889.8H120.9V895.5H109.7zM92.8 895.5H98.4V901.1H92.8zM126.5 895.5H132.2V901.1H126.5zM614.4 918.1H620.1V923.8H614.4zM642.8 918.1H648.5V923.8H642.8zM109.7 923.8H115.3V929.5H109.7zM625.8 923.8H631.5V929.5H625.8zM597.4 929.5H603.1V935.1H597.4zM648.5 929.5H654.0V935.1H648.5zM120.9 946.5H126.5V952.1H120.9zM614.4 946.5H625.8V952.1H614.4zM648.5 946.5H654.0V952.1H648.5zM104.0 952.1H115.3V957.8H104.0zM631.5 952.1H637.1V957.8H631.5zM109.7 957.8H115.3V963.4H109.7zM81.5 963.4H92.8V969.1H81.5zM631.5 969.1H637.1V974.8H631.5zM540.7 986.1H546.4V991.8H540.7zM120.9 991.8H126.5V997.4H120.9zM137.8 997.4H143.4V1003.1H137.8zM98.4 1003.1H104.0V1008.7H98.4zM642.8 1003.1H648.5V1008.7H642.8zM109.7 1008.7H115.3V1014.4H109.7zM98.4 1014.4H104.0V1020.1H98.4zM115.3 1020.1H120.9V1025.7H115.3zM535.1 1031.4H540.7V1037.0H535.1zM81.5 1042.7H87.1V1048.4H81.5zM98.4 1042.7H104.0V1048.4H98.4zM642.8 1042.7H648.5V1048.4H642.8zM104.0 1048.4H109.7V1054.0H104.0zM199.7 1048.4H205.2V1054.0H199.7zM115.3 1071.1H120.9V1076.8H115.3zM199.7 1076.8H205.2V1082.5H199.7zM143.4 1088.2H149.1V1094.0H143.4zM92.8 1094.0H98.4V1099.7H92.8zM109.7 1094.0H115.3V1099.7H109.7zM120.9 1094.0H126.5V1099.7H120.9zM216.4 1094.0H222.0V1099.7H216.4zM98.4 1099.7H104.0V1105.4H98.4zM238.7 1099.7H244.2V1105.4H238.7zM637.1 1099.7H642.8V1105.4H637.1zM648.5 1105.4H654.0V1111.1H648.5zM109.7 1116.8H115.3V1122.5H109.7zM137.8 1122.5H143.4V1128.2H137.8zM222.0 1122.5H227.5V1128.2H222.0zM238.7 1133.9H244.2V1139.6H238.7zM249.8 1133.9H260.9V1139.6H249.8zM272.1 1133.9H277.7V1139.6H272.1zM288.8 1133.9H294.4V1139.6H288.8zM433.6 1133.9H439.2V1139.6H433.6zM637.1 1133.9H642.8V1139.6H637.1zM160.3 1139.6H165.9V1145.4H160.3zM389.1 1139.6H394.6V1145.4H389.1zM104.0 1145.4H109.7V1151.1H104.0zM115.3 1145.4H120.9V1151.1H115.3zM288.8 1145.4H294.4V1151.1H288.8zM109.7 1151.1H115.3V1156.8H109.7zM137.8 1179.5H143.4V1185.2H137.8zM255.4 1179.5H260.9V1185.2H255.4zM288.8 1179.5H294.4V1185.2H288.8zM81.5 1190.8H87.1V1196.4H81.5zM137.8 1196.4H143.4V1202.1H137.8zM333.4 1196.4H338.9V1202.1H333.4zM137.8 1202.1H143.4V1207.7H137.8zM104.0 1207.7H109.7V1213.3H104.0zM126.5 1213.3H132.2V1219.0H126.5zM322.2 1213.3H327.8V1219.0H322.2zM350.1 1213.3H355.7V1219.0H350.1zM120.9 1219.0H126.5V1224.6H120.9zM216.4 1219.0H222.0V1224.6H216.4zM350.1 1219.0H355.7V1224.6H350.1zM648.5 1219.0H654.0V1224.6H648.5zM120.9 1224.6H126.5V1230.3H120.9zM137.8 1224.6H143.4V1230.3H137.8zM327.8 1224.6H333.4V1230.3H327.8zM648.5 1224.6H654.0V1230.3H648.5zM355.7 1230.3H361.2V1235.9H355.7zM372.4 1230.3H377.9V1235.9H372.4zM98.4 1235.9H109.7V1241.5H98.4zM149.1 1235.9H154.7V1241.5H149.1zM501.1 1235.9H506.8V1241.5H501.1zM535.1 1235.9H540.7V1241.5H535.1zM322.2 1241.5H327.8V1247.2H322.2zM405.8 1241.5H411.4V1247.2H405.8zM444.8 1241.5H450.4V1247.2H444.8zM92.8 1247.2H98.4V1252.8H92.8zM333.4 1247.2H338.9V1252.8H333.4zM506.8 1247.2H512.4V1252.8H506.8zM523.8 1247.2H529.4V1252.8H523.8zM115.3 1252.8H120.9V1258.4H115.3zM165.9 1252.8H171.6V1258.4H165.9zM222.0 1252.8H227.5V1258.4H222.0zM439.2 1252.8H444.8V1258.4H439.2z"/><path fill="#fcd7d8" d="M137.8 679.3H143.4V685.0H137.8zM205.2 679.3H210.8V685.0H205.2zM233.1 679.3H238.7V685.0H233.1zM277.7 679.3H283.2V685.0H277.7zM355.7 679.3H361.2V685.0H355.7zM377.9 679.3H383.5V685.0H377.9zM400.2 679.3H405.8V685.0H400.2zM416.9 679.3H428.1V685.0H416.9zM433.6 679.3H439.2V685.0H433.6zM450.4 679.3H455.9V685.0H450.4zM495.5 679.3H501.1V685.0H495.5zM614.4 679.3H620.1V685.0H614.4zM81.5 685.0H87.1V690.7H81.5zM199.7 685.0H205.2V690.7H199.7zM244.2 685.0H249.8V690.7H244.2zM327.8 685.0H333.4V690.7H327.8zM338.9 685.0H344.5V690.7H338.9zM394.6 685.0H405.8V690.7H394.6zM523.8 685.0H529.4V690.7H523.8zM540.7 685.0H546.4V690.7H540.7zM586.1 685.0H591.7V690.7H586.1zM637.1 685.0H642.8V690.7H637.1zM199.7 690.7H205.2V696.4H199.7zM210.8 690.7H216.4V696.4H210.8zM238.7 690.7H244.2V696.4H238.7zM355.7 690.7H361.2V696.4H355.7zM394.6 690.7H400.2V696.4H394.6zM495.5 690.7H501.1V696.4H495.5zM518.1 690.7H523.8V696.4H518.1zM620.1 690.7H625.8V696.4H620.1zM132.2 696.4H137.8V702.2H132.2zM177.2 696.4H182.8V702.2H177.2zM238.7 696.4H244.2V702.2H238.7zM322.2 696.4H333.4V702.2H322.2zM428.1 696.4H433.6V702.2H428.1zM484.1 696.4H489.8V702.2H484.1zM518.1 696.4H523.8V702.2H518.1zM529.4 696.4H535.1V702.2H529.4zM557.7 696.4H563.4V702.2H557.7zM569.0 696.4H574.7V702.2H569.0zM115.3 702.2H120.9V707.9H115.3zM165.9 702.2H171.6V707.9H165.9zM233.1 702.2H238.7V707.9H233.1zM272.1 702.2H277.7V707.9H272.1zM372.4 702.2H377.9V707.9H372.4zM109.7 707.9H115.3V713.6H109.7zM132.2 707.9H143.4V713.6H132.2zM227.5 707.9H233.1V713.6H227.5zM255.4 707.9H260.9V713.6H255.4zM283.2 707.9H288.8V713.6H283.2zM405.8 707.9H411.4V713.6H405.8zM416.9 707.9H422.5V713.6H416.9zM433.6 707.9H439.2V713.6H433.6zM444.8 707.9H450.4V713.6H444.8zM518.1 707.9H523.8V713.6H518.1zM563.4 707.9H569.0V713.6H563.4zM591.7 707.9H597.4V713.6H591.7zM608.8 707.9H614.4V713.6H608.8zM288.8 713.6H294.4V719.3H288.8zM344.5 713.6H350.1V719.3H344.5zM405.8 713.6H411.4V719.3H405.8zM450.4 713.6H455.9V719.3H450.4zM529.4 713.6H535.1V719.3H529.4zM216.4 719.3H222.0V725.0H216.4zM272.1 719.3H277.7V725.0H272.1zM389.1 719.3H394.6V725.0H389.1zM104.0 725.0H109.7V730.7H104.0zM115.3 725.0H120.9V730.7H115.3zM322.2 725.0H327.8V730.7H322.2zM389.1 725.0H394.6V730.7H389.1zM422.5 725.0H428.1V730.7H422.5zM484.1 725.0H489.8V730.7H484.1zM529.4 725.0H535.1V730.7H529.4zM563.4 725.0H569.0V730.7H563.4zM586.1 725.0H591.7V730.7H586.1zM620.1 725.0H625.8V730.7H620.1zM637.1 725.0H642.8V730.7H637.1zM87.1 730.7H92.8V736.5H87.1zM115.3 730.7H120.9V736.5H115.3zM389.1 730.7H394.6V736.5H389.1zM405.8 730.7H411.4V736.5H405.8zM637.1 730.7H648.5V736.5H637.1zM205.2 736.5H210.8V742.2H205.2zM372.4 736.5H377.9V742.2H372.4zM472.8 736.5H478.5V742.2H472.8zM484.1 736.5H489.8V742.2H484.1zM557.7 736.5H563.4V742.2H557.7zM327.8 742.2H333.4V747.9H327.8zM416.9 742.2H422.5V747.9H416.9zM439.2 742.2H444.8V747.9H439.2zM501.1 742.2H506.8V747.9H501.1zM529.4 742.2H535.1V747.9H529.4zM327.8 747.9H333.4V753.6H327.8zM529.4 747.9H535.1V753.6H529.4zM648.5 747.9H654.0V753.6H648.5zM506.8 753.6H512.4V759.3H506.8zM535.1 753.6H540.7V759.3H535.1zM109.7 759.3H115.3V765.0H109.7zM305.5 759.3H311.1V765.0H305.5zM338.9 759.3H344.5V765.0H338.9zM535.1 759.3H540.7V765.0H535.1zM642.8 759.3H648.5V765.0H642.8zM411.4 765.0H416.9V770.8H411.4zM450.4 765.0H455.9V770.8H450.4zM552.1 765.0H557.7V770.8H552.1zM642.8 765.0H648.5V770.8H642.8zM104.0 770.8H109.7V776.5H104.0zM222.0 770.8H227.5V776.5H222.0zM484.1 770.8H489.8V776.5H484.1zM591.7 770.8H597.4V776.5H591.7zM540.7 776.5H546.4V782.2H540.7zM586.1 776.5H591.7V782.2H586.1zM625.8 782.2H637.1V787.9H625.8zM92.8 793.6H104.0V799.2H92.8zM603.1 793.6H608.8V799.2H603.1zM87.1 799.2H92.8V804.9H87.1zM143.4 799.2H149.1V804.9H143.4zM433.6 799.2H439.2V804.9H433.6zM535.1 799.2H546.4V804.9H535.1zM98.4 804.9H104.0V810.5H98.4zM405.8 804.9H411.4V810.5H405.8zM472.8 804.9H478.5V810.5H472.8zM563.4 804.9H569.0V810.5H563.4zM608.8 804.9H614.4V810.5H608.8zM126.5 810.5H132.2V816.2H126.5zM563.4 810.5H569.0V816.2H563.4zM177.2 816.2H182.8V821.9H177.2zM614.4 816.2H620.1V821.9H614.4zM115.3 821.9H120.9V827.5H115.3zM580.4 821.9H586.1V827.5H580.4zM614.4 821.9H620.1V827.5H614.4zM87.1 827.5H92.8V833.2H87.1zM109.7 827.5H115.3V833.2H109.7zM484.1 827.5H489.8V833.2H484.1zM512.4 827.5H518.1V833.2H512.4zM535.1 827.5H540.7V833.2H535.1zM98.4 833.2H109.7V838.9H98.4zM484.1 833.2H489.8V838.9H484.1zM506.8 833.2H512.4V838.9H506.8zM518.1 833.2H523.8V838.9H518.1zM92.8 838.9H98.4V844.5H92.8zM620.1 838.9H625.8V844.5H620.1zM512.4 844.5H523.8V850.2H512.4zM115.3 850.2H120.9V855.9H115.3zM591.7 850.2H597.4V855.9H591.7zM620.1 850.2H625.8V855.9H620.1zM81.5 855.9H87.1V861.5H81.5zM620.1 855.9H625.8V861.5H620.1zM478.5 861.5H484.1V867.2H478.5zM569.0 861.5H574.7V867.2H569.0zM620.1 861.5H625.8V867.2H620.1zM642.8 861.5H648.5V867.2H642.8zM109.7 867.2H115.3V872.8H109.7zM126.5 867.2H132.2V872.8H126.5zM529.4 867.2H535.1V872.8H529.4zM87.1 872.8H92.8V878.5H87.1zM506.8 872.8H512.4V878.5H506.8zM614.4 872.8H620.1V878.5H614.4zM115.3 878.5H120.9V884.2H115.3zM506.8 878.5H512.4V884.2H506.8zM120.9 884.2H126.5V889.8H120.9zM631.5 884.2H637.1V889.8H631.5zM546.4 895.5H552.1V901.1H546.4zM597.4 895.5H603.1V901.1H597.4zM637.1 895.5H642.8V901.1H637.1zM81.5 901.1H87.1V906.8H81.5zM165.9 901.1H171.6V906.8H165.9zM81.5 906.8H87.1V912.5H81.5zM484.1 906.8H489.8V912.5H484.1zM625.8 912.5H631.5V918.1H625.8zM104.0 918.1H109.7V923.8H104.0zM132.2 918.1H137.8V923.8H132.2zM92.8 923.8H98.4V929.5H92.8zM104.0 923.8H109.7V929.5H104.0zM149.1 923.8H160.3V929.5H149.1zM637.1 923.8H642.8V929.5H637.1zM625.8 929.5H631.5V935.1H625.8zM92.8 935.1H98.4V940.8H92.8zM165.9 935.1H171.6V940.8H165.9zM523.8 935.1H529.4V940.8H523.8zM81.5 940.8H87.1V946.5H81.5zM120.9 940.8H126.5V946.5H120.9zM597.4 946.5H603.1V952.1H597.4zM87.1 952.1H92.8V957.8H87.1zM98.4 952.1H104.0V957.8H98.4zM637.1 952.1H642.8V957.8H637.1zM81.5 969.1H87.1V974.8H81.5zM109.7 969.1H115.3V974.8H109.7zM143.4 969.1H149.1V974.8H143.4zM81.5 974.8H92.8V980.4H81.5zM506.8 980.4H512.4V986.1H506.8zM586.1 980.4H591.7V986.1H586.1zM126.5 986.1H143.4V991.8H126.5zM580.4 986.1H586.1V991.8H580.4zM603.1 986.1H608.8V991.8H603.1zM92.8 991.8H104.0V997.4H92.8zM87.1 997.4H98.4V1003.1H87.1zM115.3 1003.1H126.5V1008.7H115.3zM137.8 1003.1H143.4V1008.7H137.8zM210.8 1003.1H216.4V1008.7H210.8zM171.6 1008.7H177.2V1014.4H171.6zM87.1 1014.4H92.8V1020.1H87.1zM115.3 1014.4H120.9V1020.1H115.3zM149.1 1014.4H154.7V1020.1H149.1zM642.8 1014.4H648.5V1020.1H642.8zM87.1 1020.1H92.8V1025.7H87.1zM132.2 1020.1H137.8V1025.7H132.2zM104.0 1025.7H109.7V1031.4H104.0zM81.5 1031.4H92.8V1037.0H81.5zM115.3 1031.4H120.9V1037.0H115.3zM205.2 1031.4H210.8V1037.0H205.2zM149.1 1037.0H154.7V1042.7H149.1zM540.7 1037.0H546.4V1042.7H540.7zM642.8 1037.0H648.5V1042.7H642.8zM115.3 1042.7H120.9V1048.4H115.3zM501.1 1042.7H506.8V1048.4H501.1zM87.1 1048.4H92.8V1054.0H87.1zM120.9 1048.4H126.5V1054.0H120.9zM171.6 1048.4H177.2V1054.0H171.6zM648.5 1048.4H654.0V1054.0H648.5zM81.5 1071.1H87.1V1076.8H81.5zM143.4 1071.1H149.1V1076.8H143.4zM210.8 1071.1H216.4V1076.8H210.8zM648.5 1071.1H654.0V1076.8H648.5zM266.5 1076.8H272.1V1082.5H266.5zM648.5 1076.8H654.0V1082.5H648.5zM81.5 1082.5H87.1V1088.2H81.5zM104.0 1082.5H109.7V1088.2H104.0zM132.2 1082.5H137.8V1088.2H132.2zM143.4 1082.5H149.1V1088.2H143.4zM177.2 1082.5H182.8V1088.2H177.2zM233.1 1082.5H244.2V1088.2H233.1zM311.1 1082.5H316.7V1088.2H311.1zM642.8 1082.5H648.5V1088.2H642.8zM87.1 1094.0H92.8V1099.7H87.1zM98.4 1094.0H104.0V1099.7H98.4zM149.1 1099.7H154.7V1105.4H149.1zM444.8 1099.7H450.4V1105.4H444.8zM81.5 1105.4H87.1V1111.1H81.5zM160.3 1105.4H165.9V1111.1H160.3zM238.7 1105.4H244.2V1111.1H238.7zM277.7 1105.4H288.8V1111.1H277.7zM383.5 1105.4H389.1V1111.1H383.5zM233.1 1111.1H238.7V1116.8H233.1zM249.8 1111.1H255.4V1116.8H249.8zM98.4 1116.8H109.7V1122.5H98.4zM115.3 1116.8H120.9V1122.5H115.3zM238.7 1116.8H244.2V1122.5H238.7zM249.8 1116.8H255.4V1122.5H249.8zM92.8 1122.5H98.4V1128.2H92.8zM338.9 1122.5H344.5V1128.2H338.9zM81.5 1128.2H87.1V1133.9H81.5zM104.0 1128.2H109.7V1133.9H104.0zM120.9 1128.2H126.5V1133.9H120.9zM132.2 1128.2H137.8V1133.9H132.2zM149.1 1128.2H160.3V1133.9H149.1zM272.1 1128.2H277.7V1133.9H272.1zM160.3 1133.9H171.6V1139.6H160.3zM205.2 1133.9H210.8V1139.6H205.2zM233.1 1133.9H238.7V1139.6H233.1zM92.8 1139.6H98.4V1145.4H92.8zM182.8 1139.6H188.5V1145.4H182.8zM205.2 1139.6H210.8V1145.4H205.2zM439.2 1139.6H444.8V1145.4H439.2zM299.9 1145.4H305.5V1151.1H299.9zM81.5 1151.1H87.1V1156.8H81.5zM171.6 1151.1H177.2V1156.8H171.6zM104.0 1156.8H109.7V1162.5H104.0zM143.4 1156.8H149.1V1162.5H143.4zM648.5 1156.8H654.0V1162.5H648.5zM115.3 1162.5H120.9V1168.2H115.3zM132.2 1162.5H137.8V1168.2H132.2zM210.8 1162.5H222.0V1168.2H210.8zM104.0 1168.2H109.7V1173.9H104.0zM266.5 1168.2H272.1V1173.9H266.5zM227.5 1179.5H233.1V1185.2H227.5zM389.1 1179.5H394.6V1185.2H389.1zM92.8 1185.2H98.4V1190.8H92.8zM132.2 1185.2H137.8V1190.8H132.2zM182.8 1185.2H188.5V1190.8H182.8zM383.5 1185.2H389.1V1190.8H383.5zM115.3 1190.8H120.9V1196.4H115.3zM177.2 1190.8H182.8V1196.4H177.2zM255.4 1190.8H260.9V1196.4H255.4zM299.9 1196.4H305.5V1202.1H299.9zM350.1 1196.4H355.7V1202.1H350.1zM199.7 1202.1H205.2V1207.7H199.7zM389.1 1202.1H394.6V1207.7H389.1zM648.5 1202.1H654.0V1207.7H648.5zM115.3 1207.7H120.9V1213.3H115.3zM210.8 1207.7H216.4V1213.3H210.8zM87.1 1213.3H92.8V1219.0H87.1zM222.0 1213.3H233.1V1219.0H222.0zM277.7 1213.3H283.2V1219.0H277.7zM648.5 1213.3H654.0V1219.0H648.5zM98.4 1219.0H104.0V1224.6H98.4zM132.2 1219.0H137.8V1224.6H132.2zM244.2 1219.0H249.8V1224.6H244.2zM255.4 1219.0H272.1V1224.6H255.4zM81.5 1224.6H87.1V1230.3H81.5zM188.5 1224.6H194.1V1230.3H188.5zM316.7 1224.6H322.2V1230.3H316.7zM333.4 1224.6H338.9V1230.3H333.4zM81.5 1230.3H87.1V1235.9H81.5zM188.5 1230.3H194.1V1235.9H188.5zM288.8 1230.3H294.4V1235.9H288.8zM81.5 1235.9H87.1V1241.5H81.5zM92.8 1235.9H98.4V1241.5H92.8zM132.2 1235.9H143.4V1241.5H132.2zM299.9 1235.9H305.5V1241.5H299.9zM327.8 1235.9H333.4V1241.5H327.8zM355.7 1235.9H361.2V1241.5H355.7zM137.8 1241.5H143.4V1247.2H137.8zM165.9 1241.5H177.2V1247.2H165.9zM266.5 1241.5H272.1V1247.2H266.5zM416.9 1241.5H422.5V1247.2H416.9zM439.2 1241.5H444.8V1247.2H439.2zM484.1 1241.5H489.8V1247.2H484.1zM160.3 1247.2H171.6V1252.8H160.3zM222.0 1247.2H227.5V1252.8H222.0zM283.2 1247.2H288.8V1252.8H283.2zM305.5 1247.2H311.1V1252.8H305.5zM350.1 1247.2H355.7V1252.8H350.1zM422.5 1247.2H428.1V1252.8H422.5zM294.4 1252.8H299.9V1258.4H294.4zM455.9 1252.8H461.5V1258.4H455.9zM523.8 1252.8H529.4V1258.4H523.8zM557.7 1252.8H563.4V1258.4H557.7z"/><path fill="#ff1d12" d="M188.5 679.3H194.1V685.0H188.5zM216.4 679.3H222.0V685.0H216.4zM535.1 685.0H540.7V690.7H535.1zM154.7 690.7H160.3V696.4H154.7zM182.8 690.7H194.1V696.4H182.8zM244.2 690.7H249.8V696.4H244.2zM383.5 690.7H389.1V696.4H383.5zM428.1 690.7H433.6V696.4H428.1zM188.5 702.2H194.1V707.9H188.5zM569.0 702.2H574.7V707.9H569.0zM182.8 707.9H188.5V713.6H182.8zM177.2 713.6H182.8V719.3H177.2zM557.7 719.3H563.4V725.0H557.7zM143.4 725.0H154.7V730.7H143.4zM182.8 725.0H188.5V730.7H182.8zM311.1 725.0H316.7V730.7H311.1zM154.7 730.7H165.9V736.5H154.7zM182.8 730.7H188.5V736.5H182.8zM238.7 730.7H249.8V736.5H238.7zM383.5 730.7H389.1V736.5H383.5zM411.4 730.7H416.9V736.5H411.4zM439.2 730.7H444.8V736.5H439.2zM552.1 730.7H557.7V736.5H552.1zM132.2 736.5H137.8V742.2H132.2zM143.4 736.5H149.1V742.2H143.4zM154.7 736.5H160.3V742.2H154.7zM177.2 736.5H188.5V742.2H177.2zM249.8 736.5H255.4V742.2H249.8zM322.2 736.5H327.8V742.2H322.2zM132.2 742.2H137.8V747.9H132.2zM154.7 742.2H160.3V747.9H154.7zM188.5 742.2H194.1V747.9H188.5zM305.5 742.2H311.1V747.9H305.5zM316.7 742.2H322.2V747.9H316.7zM344.5 742.2H350.1V747.9H344.5zM361.2 742.2H366.8V747.9H361.2zM81.5 747.9H87.1V753.6H81.5zM98.4 747.9H104.0V753.6H98.4zM137.8 747.9H154.7V753.6H137.8zM160.3 747.9H194.1V753.6H160.3zM199.7 747.9H205.2V753.6H199.7zM210.8 747.9H222.0V753.6H210.8zM227.5 747.9H233.1V753.6H227.5zM238.7 747.9H255.4V753.6H238.7zM260.9 747.9H266.5V753.6H260.9zM272.1 747.9H283.2V753.6H272.1zM299.9 747.9H311.1V753.6H299.9zM338.9 747.9H344.5V753.6H338.9zM361.2 747.9H366.8V753.6H361.2zM372.4 747.9H377.9V753.6H372.4zM383.5 747.9H400.2V753.6H383.5zM411.4 747.9H416.9V753.6H411.4zM433.6 747.9H439.2V753.6H433.6zM467.2 747.9H478.5V753.6H467.2zM563.4 747.9H569.0V753.6H563.4zM591.7 747.9H597.4V753.6H591.7zM631.5 747.9H637.1V753.6H631.5zM81.5 753.6H87.1V759.3H81.5zM137.8 753.6H143.4V759.3H137.8zM154.7 753.6H165.9V759.3H154.7zM182.8 753.6H194.1V759.3H182.8zM411.4 753.6H416.9V759.3H411.4zM614.4 753.6H620.1V759.3H614.4zM81.5 759.3H87.1V765.0H81.5zM154.7 759.3H160.3V765.0H154.7zM182.8 759.3H188.5V765.0H182.8zM244.2 759.3H249.8V765.0H244.2zM255.4 759.3H260.9V765.0H255.4zM283.2 759.3H288.8V765.0H283.2zM299.9 759.3H305.5V765.0H299.9zM322.2 759.3H327.8V765.0H322.2zM350.1 759.3H355.7V765.0H350.1zM366.8 759.3H372.4V765.0H366.8zM422.5 759.3H428.1V765.0H422.5zM484.1 759.3H489.8V765.0H484.1zM552.1 759.3H557.7V765.0H552.1zM154.7 765.0H160.3V770.8H154.7zM182.8 765.0H188.5V770.8H182.8zM205.2 765.0H210.8V770.8H205.2zM216.4 765.0H222.0V770.8H216.4zM266.5 765.0H272.1V770.8H266.5zM283.2 765.0H288.8V770.8H283.2zM305.5 765.0H311.1V770.8H305.5zM327.8 765.0H333.4V770.8H327.8zM338.9 765.0H355.7V770.8H338.9zM383.5 765.0H389.1V770.8H383.5zM472.8 765.0H478.5V770.8H472.8zM580.4 765.0H586.1V770.8H580.4zM603.1 765.0H608.8V770.8H603.1zM120.9 770.8H126.5V776.5H120.9zM143.4 770.8H149.1V776.5H143.4zM154.7 770.8H160.3V776.5H154.7zM182.8 770.8H188.5V776.5H182.8zM260.9 770.8H272.1V776.5H260.9zM288.8 770.8H299.9V776.5H288.8zM311.1 770.8H316.7V776.5H311.1zM338.9 770.8H344.5V776.5H338.9zM361.2 770.8H372.4V776.5H361.2zM405.8 770.8H411.4V776.5H405.8zM467.2 770.8H472.8V776.5H467.2zM608.8 770.8H614.4V776.5H608.8zM98.4 776.5H104.0V782.2H98.4zM115.3 776.5H120.9V782.2H115.3zM132.2 776.5H149.1V782.2H132.2zM154.7 776.5H194.1V782.2H154.7zM199.7 776.5H233.1V782.2H199.7zM238.7 776.5H244.2V782.2H238.7zM255.4 776.5H260.9V782.2H255.4zM294.4 776.5H299.9V782.2H294.4zM327.8 776.5H333.4V782.2H327.8zM338.9 776.5H344.5V782.2H338.9zM416.9 776.5H422.5V782.2H416.9zM433.6 776.5H439.2V782.2H433.6zM467.2 776.5H472.8V782.2H467.2zM569.0 776.5H574.7V782.2H569.0zM620.1 776.5H625.8V782.2H620.1zM87.1 782.2H92.8V787.9H87.1zM98.4 782.2H104.0V787.9H98.4zM109.7 782.2H115.3V787.9H109.7zM149.1 782.2H165.9V787.9H149.1zM182.8 782.2H188.5V787.9H182.8zM210.8 782.2H249.8V787.9H210.8zM260.9 782.2H266.5V787.9H260.9zM277.7 782.2H283.2V787.9H277.7zM288.8 782.2H294.4V787.9H288.8zM299.9 782.2H316.7V787.9H299.9zM333.4 782.2H338.9V787.9H333.4zM344.5 782.2H355.7V787.9H344.5zM372.4 782.2H383.5V787.9H372.4zM411.4 782.2H416.9V787.9H411.4zM552.1 782.2H557.7V787.9H552.1zM603.1 782.2H608.8V787.9H603.1zM154.7 793.6H160.3V799.2H154.7zM182.8 793.6H188.5V799.2H182.8zM199.7 793.6H210.8V799.2H199.7zM216.4 793.6H255.4V799.2H216.4zM260.9 793.6H266.5V799.2H260.9zM283.2 793.6H288.8V799.2H283.2zM294.4 793.6H299.9V799.2H294.4zM338.9 793.6H344.5V799.2H338.9zM372.4 793.6H377.9V799.2H372.4zM383.5 793.6H389.1V799.2H383.5zM394.6 793.6H400.2V799.2H394.6zM171.6 799.2H177.2V804.9H171.6zM182.8 799.2H188.5V804.9H182.8zM199.7 799.2H205.2V804.9H199.7zM210.8 799.2H244.2V804.9H210.8zM249.8 799.2H272.1V804.9H249.8zM277.7 799.2H283.2V804.9H277.7zM294.4 799.2H299.9V804.9H294.4zM305.5 799.2H311.1V804.9H305.5zM316.7 799.2H327.8V804.9H316.7zM338.9 799.2H355.7V804.9H338.9zM405.8 799.2H411.4V804.9H405.8zM416.9 799.2H422.5V804.9H416.9zM478.5 799.2H484.1V804.9H478.5zM631.5 799.2H637.1V804.9H631.5zM154.7 804.9H160.3V810.5H154.7zM182.8 804.9H194.1V810.5H182.8zM205.2 804.9H210.8V810.5H205.2zM216.4 804.9H222.0V810.5H216.4zM227.5 804.9H260.9V810.5H227.5zM266.5 804.9H272.1V810.5H266.5zM288.8 804.9H294.4V810.5H288.8zM322.2 804.9H327.8V810.5H322.2zM366.8 804.9H372.4V810.5H366.8zM389.1 804.9H394.6V810.5H389.1zM411.4 804.9H416.9V810.5H411.4zM428.1 804.9H439.2V810.5H428.1zM444.8 804.9H455.9V810.5H444.8zM87.1 810.5H92.8V816.2H87.1zM154.7 810.5H160.3V816.2H154.7zM171.6 810.5H177.2V816.2H171.6zM182.8 810.5H194.1V816.2H182.8zM199.7 810.5H216.4V816.2H199.7zM222.0 810.5H227.5V816.2H222.0zM238.7 810.5H249.8V816.2H238.7zM283.2 810.5H288.8V816.2H283.2zM294.4 810.5H299.9V816.2H294.4zM311.1 810.5H316.7V816.2H311.1zM327.8 810.5H333.4V816.2H327.8zM400.2 810.5H405.8V816.2H400.2zM433.6 810.5H439.2V816.2H433.6zM444.8 810.5H450.4V816.2H444.8zM557.7 810.5H563.4V816.2H557.7zM182.8 816.2H194.1V821.9H182.8zM199.7 816.2H210.8V821.9H199.7zM216.4 816.2H222.0V821.9H216.4zM227.5 816.2H266.5V821.9H227.5zM277.7 816.2H294.4V821.9H277.7zM299.9 816.2H305.5V821.9H299.9zM333.4 816.2H350.1V821.9H333.4zM355.7 816.2H361.2V821.9H355.7zM366.8 816.2H372.4V821.9H366.8zM389.1 816.2H394.6V821.9H389.1zM478.5 816.2H484.1V821.9H478.5zM489.8 816.2H495.5V821.9H489.8zM608.8 816.2H614.4V821.9H608.8zM154.7 821.9H160.3V827.5H154.7zM182.8 821.9H194.1V827.5H182.8zM199.7 821.9H216.4V827.5H199.7zM222.0 821.9H227.5V827.5H222.0zM233.1 821.9H244.2V827.5H233.1zM255.4 821.9H283.2V827.5H255.4zM288.8 821.9H305.5V827.5H288.8zM366.8 821.9H377.9V827.5H366.8zM416.9 821.9H422.5V827.5H416.9zM444.8 821.9H450.4V827.5H444.8zM512.4 821.9H523.8V827.5H512.4zM563.4 821.9H569.0V827.5H563.4zM188.5 827.5H194.1V833.2H188.5zM199.7 827.5H216.4V833.2H199.7zM222.0 827.5H233.1V833.2H222.0zM238.7 827.5H249.8V833.2H238.7zM255.4 827.5H260.9V833.2H255.4zM272.1 827.5H277.7V833.2H272.1zM283.2 827.5H294.4V833.2H283.2zM333.4 827.5H344.5V833.2H333.4zM350.1 827.5H355.7V833.2H350.1zM372.4 827.5H377.9V833.2H372.4zM439.2 827.5H444.8V833.2H439.2zM450.4 827.5H455.9V833.2H450.4zM137.8 833.2H143.4V838.9H137.8zM154.7 833.2H160.3V838.9H154.7zM182.8 833.2H194.1V838.9H182.8zM199.7 833.2H238.7V838.9H199.7zM249.8 833.2H255.4V838.9H249.8zM260.9 833.2H266.5V838.9H260.9zM277.7 833.2H288.8V838.9H277.7zM294.4 833.2H311.1V838.9H294.4zM327.8 833.2H333.4V838.9H327.8zM355.7 833.2H361.2V838.9H355.7zM372.4 833.2H377.9V838.9H372.4zM383.5 833.2H389.1V838.9H383.5zM400.2 833.2H405.8V838.9H400.2zM411.4 833.2H416.9V838.9H411.4zM433.6 833.2H439.2V838.9H433.6zM614.4 833.2H620.1V838.9H614.4zM98.4 838.9H104.0V844.5H98.4zM137.8 838.9H143.4V844.5H137.8zM154.7 838.9H160.3V844.5H154.7zM165.9 838.9H171.6V844.5H165.9zM188.5 838.9H194.1V844.5H188.5zM199.7 838.9H205.2V844.5H199.7zM210.8 838.9H227.5V844.5H210.8zM233.1 838.9H238.7V844.5H233.1zM249.8 838.9H299.9V844.5H249.8zM305.5 838.9H322.2V844.5H305.5zM327.8 838.9H333.4V844.5H327.8zM338.9 838.9H350.1V844.5H338.9zM355.7 838.9H389.1V844.5H355.7zM422.5 838.9H433.6V844.5H422.5zM143.4 844.5H149.1V850.2H143.4zM154.7 844.5H160.3V850.2H154.7zM199.7 844.5H216.4V850.2H199.7zM222.0 844.5H227.5V850.2H222.0zM238.7 844.5H249.8V850.2H238.7zM255.4 844.5H333.4V850.2H255.4zM338.9 844.5H350.1V850.2H338.9zM366.8 844.5H383.5V850.2H366.8zM400.2 844.5H405.8V850.2H400.2zM416.9 844.5H422.5V850.2H416.9zM428.1 844.5H444.8V850.2H428.1zM603.1 844.5H608.8V850.2H603.1zM165.9 850.2H171.6V855.9H165.9zM182.8 850.2H188.5V855.9H182.8zM205.2 850.2H216.4V855.9H205.2zM222.0 850.2H238.7V855.9H222.0zM244.2 850.2H255.4V855.9H244.2zM260.9 850.2H305.5V855.9H260.9zM311.1 850.2H316.7V855.9H311.1zM322.2 850.2H327.8V855.9H322.2zM333.4 850.2H344.5V855.9H333.4zM361.2 850.2H372.4V855.9H361.2zM377.9 850.2H383.5V855.9H377.9zM540.7 850.2H546.4V855.9H540.7zM154.7 855.9H160.3V861.5H154.7zM177.2 855.9H182.8V861.5H177.2zM188.5 855.9H194.1V861.5H188.5zM199.7 855.9H210.8V861.5H199.7zM222.0 855.9H233.1V861.5H222.0zM238.7 855.9H260.9V861.5H238.7zM266.5 855.9H288.8V861.5H266.5zM294.4 855.9H299.9V861.5H294.4zM305.5 855.9H311.1V861.5H305.5zM327.8 855.9H361.2V861.5H327.8zM366.8 855.9H372.4V861.5H366.8zM377.9 855.9H389.1V861.5H377.9zM394.6 855.9H400.2V861.5H394.6zM405.8 855.9H416.9V861.5H405.8zM422.5 855.9H439.2V861.5H422.5zM478.5 855.9H484.1V861.5H478.5zM512.4 855.9H518.1V861.5H512.4zM529.4 855.9H535.1V861.5H529.4zM171.6 861.5H182.8V867.2H171.6zM205.2 861.5H216.4V867.2H205.2zM227.5 861.5H233.1V867.2H227.5zM244.2 861.5H355.7V867.2H244.2zM366.8 861.5H372.4V867.2H366.8zM377.9 861.5H383.5V867.2H377.9zM389.1 861.5H394.6V867.2H389.1zM400.2 861.5H411.4V867.2H400.2zM416.9 861.5H433.6V867.2H416.9zM444.8 861.5H450.4V867.2H444.8zM154.7 867.2H160.3V872.8H154.7zM227.5 867.2H238.7V872.8H227.5zM244.2 867.2H283.2V872.8H244.2zM288.8 867.2H305.5V872.8H288.8zM311.1 867.2H333.4V872.8H311.1zM338.9 867.2H344.5V872.8H338.9zM355.7 867.2H366.8V872.8H355.7zM377.9 867.2H389.1V872.8H377.9zM394.6 867.2H416.9V872.8H394.6zM433.6 867.2H439.2V872.8H433.6zM631.5 867.2H637.1V872.8H631.5zM154.7 872.8H160.3V878.5H154.7zM188.5 872.8H194.1V878.5H188.5zM205.2 872.8H210.8V878.5H205.2zM222.0 872.8H233.1V878.5H222.0zM238.7 872.8H316.7V878.5H238.7zM327.8 872.8H350.1V878.5H327.8zM355.7 872.8H361.2V878.5H355.7zM366.8 872.8H372.4V878.5H366.8zM377.9 872.8H394.6V878.5H377.9zM400.2 872.8H428.1V878.5H400.2zM433.6 872.8H450.4V878.5H433.6zM467.2 872.8H472.8V878.5H467.2zM569.0 872.8H574.7V878.5H569.0zM81.5 878.5H87.1V884.2H81.5zM165.9 878.5H177.2V884.2H165.9zM199.7 878.5H205.2V884.2H199.7zM216.4 878.5H227.5V884.2H216.4zM233.1 878.5H272.1V884.2H233.1zM277.7 878.5H316.7V884.2H277.7zM322.2 878.5H361.2V884.2H322.2zM377.9 878.5H383.5V884.2H377.9zM394.6 878.5H411.4V884.2H394.6zM416.9 878.5H428.1V884.2H416.9zM439.2 878.5H450.4V884.2H439.2zM569.0 878.5H574.7V884.2H569.0zM177.2 884.2H182.8V889.8H177.2zM188.5 884.2H194.1V889.8H188.5zM210.8 884.2H216.4V889.8H210.8zM222.0 884.2H238.7V889.8H222.0zM244.2 884.2H260.9V889.8H244.2zM266.5 884.2H299.9V889.8H266.5zM305.5 884.2H316.7V889.8H305.5zM322.2 884.2H344.5V889.8H322.2zM350.1 884.2H355.7V889.8H350.1zM361.2 884.2H366.8V889.8H361.2zM372.4 884.2H383.5V889.8H372.4zM394.6 884.2H400.2V889.8H394.6zM405.8 884.2H450.4V889.8H405.8zM467.2 884.2H472.8V889.8H467.2zM608.8 884.2H614.4V889.8H608.8zM177.2 889.8H188.5V895.5H177.2zM199.7 889.8H210.8V895.5H199.7zM216.4 889.8H222.0V895.5H216.4zM227.5 889.8H233.1V895.5H227.5zM238.7 889.8H311.1V895.5H238.7zM316.7 889.8H322.2V895.5H316.7zM333.4 889.8H355.7V895.5H333.4zM361.2 889.8H411.4V895.5H361.2zM416.9 889.8H450.4V895.5H416.9zM495.5 889.8H501.1V895.5H495.5zM546.4 889.8H552.1V895.5H546.4zM597.4 889.8H603.1V895.5H597.4zM154.7 895.5H160.3V901.1H154.7zM165.9 895.5H171.6V901.1H165.9zM188.5 895.5H194.1V901.1H188.5zM222.0 895.5H233.1V901.1H222.0zM238.7 895.5H244.2V901.1H238.7zM249.8 895.5H260.9V901.1H249.8zM266.5 895.5H288.8V901.1H266.5zM294.4 895.5H305.5V901.1H294.4zM311.1 895.5H377.9V901.1H311.1zM383.5 895.5H389.1V901.1H383.5zM394.6 895.5H400.2V901.1H394.6zM405.8 895.5H444.8V901.1H405.8zM467.2 895.5H472.8V901.1H467.2zM552.1 895.5H569.0V901.1H552.1zM149.1 901.1H160.3V906.8H149.1zM171.6 901.1H177.2V906.8H171.6zM188.5 901.1H194.1V906.8H188.5zM205.2 901.1H210.8V906.8H205.2zM238.7 901.1H255.4V906.8H238.7zM260.9 901.1H272.1V906.8H260.9zM277.7 901.1H299.9V906.8H277.7zM311.1 901.1H338.9V906.8H311.1zM344.5 901.1H366.8V906.8H344.5zM389.1 901.1H433.6V906.8H389.1zM439.2 901.1H455.9V906.8H439.2zM472.8 901.1H478.5V906.8H472.8zM484.1 901.1H489.8V906.8H484.1zM132.2 906.8H137.8V912.5H132.2zM177.2 906.8H182.8V912.5H177.2zM188.5 906.8H194.1V912.5H188.5zM216.4 906.8H222.0V912.5H216.4zM244.2 906.8H260.9V912.5H244.2zM266.5 906.8H294.4V912.5H266.5zM299.9 906.8H344.5V912.5H299.9zM350.1 906.8H361.2V912.5H350.1zM366.8 906.8H377.9V912.5H366.8zM389.1 906.8H394.6V912.5H389.1zM400.2 906.8H411.4V912.5H400.2zM422.5 906.8H461.5V912.5H422.5zM529.4 906.8H535.1V912.5H529.4zM569.0 906.8H574.7V912.5H569.0zM591.7 906.8H597.4V912.5H591.7zM149.1 912.5H154.7V918.1H149.1zM205.2 912.5H210.8V918.1H205.2zM244.2 912.5H255.4V918.1H244.2zM266.5 912.5H277.7V918.1H266.5zM294.4 912.5H377.9V918.1H294.4zM389.1 912.5H439.2V918.1H389.1zM444.8 912.5H450.4V918.1H444.8zM467.2 912.5H484.1V918.1H467.2zM591.7 912.5H597.4V918.1H591.7zM143.4 918.1H149.1V923.8H143.4zM165.9 918.1H171.6V923.8H165.9zM205.2 918.1H216.4V923.8H205.2zM249.8 918.1H260.9V923.8H249.8zM266.5 918.1H277.7V923.8H266.5zM283.2 918.1H294.4V923.8H283.2zM299.9 918.1H377.9V923.8H299.9zM389.1 918.1H400.2V923.8H389.1zM405.8 918.1H433.6V923.8H405.8zM444.8 918.1H450.4V923.8H444.8zM455.9 918.1H461.5V923.8H455.9zM467.2 918.1H472.8V923.8H467.2zM557.7 918.1H563.4V923.8H557.7zM625.8 918.1H631.5V923.8H625.8zM171.6 923.8H177.2V929.5H171.6zM182.8 923.8H188.5V929.5H182.8zM216.4 923.8H222.0V929.5H216.4zM238.7 923.8H255.4V929.5H238.7zM260.9 923.8H294.4V929.5H260.9zM299.9 923.8H428.1V929.5H299.9zM433.6 923.8H439.2V929.5H433.6zM444.8 923.8H450.4V929.5H444.8zM467.2 923.8H472.8V929.5H467.2zM569.0 923.8H574.7V929.5H569.0zM580.4 923.8H586.1V929.5H580.4zM188.5 929.5H194.1V935.1H188.5zM222.0 929.5H227.5V935.1H222.0zM233.1 929.5H238.7V935.1H233.1zM255.4 929.5H272.1V935.1H255.4zM277.7 929.5H333.4V935.1H277.7zM338.9 929.5H350.1V935.1H338.9zM355.7 929.5H394.6V935.1H355.7zM400.2 929.5H405.8V935.1H400.2zM411.4 929.5H428.1V935.1H411.4zM444.8 929.5H461.5V935.1H444.8zM478.5 929.5H484.1V935.1H478.5zM535.1 929.5H540.7V935.1H535.1zM552.1 929.5H557.7V935.1H552.1zM154.7 935.1H160.3V940.8H154.7zM171.6 935.1H188.5V940.8H171.6zM199.7 935.1H210.8V940.8H199.7zM222.0 935.1H227.5V940.8H222.0zM233.1 935.1H238.7V940.8H233.1zM244.2 935.1H305.5V940.8H244.2zM311.1 935.1H377.9V940.8H311.1zM383.5 935.1H394.6V940.8H383.5zM400.2 935.1H428.1V940.8H400.2zM439.2 935.1H450.4V940.8H439.2zM501.1 935.1H506.8V940.8H501.1zM546.4 935.1H552.1V940.8H546.4zM557.7 935.1H563.4V940.8H557.7zM569.0 935.1H574.7V940.8H569.0zM149.1 940.8H154.7V946.5H149.1zM171.6 940.8H177.2V946.5H171.6zM188.5 940.8H194.1V946.5H188.5zM205.2 940.8H210.8V946.5H205.2zM222.0 940.8H227.5V946.5H222.0zM244.2 940.8H255.4V946.5H244.2zM260.9 940.8H272.1V946.5H260.9zM277.7 940.8H288.8V946.5H277.7zM294.4 940.8H311.1V946.5H294.4zM316.7 940.8H366.8V946.5H316.7zM377.9 940.8H389.1V946.5H377.9zM394.6 940.8H439.2V946.5H394.6zM444.8 940.8H450.4V946.5H444.8zM455.9 940.8H461.5V946.5H455.9zM467.2 940.8H472.8V946.5H467.2zM484.1 940.8H495.5V946.5H484.1zM569.0 940.8H574.7V946.5H569.0zM608.8 940.8H614.4V946.5H608.8zM165.9 946.5H177.2V952.1H165.9zM188.5 946.5H194.1V952.1H188.5zM205.2 946.5H210.8V952.1H205.2zM233.1 946.5H238.7V952.1H233.1zM260.9 946.5H272.1V952.1H260.9zM283.2 946.5H333.4V952.1H283.2zM338.9 946.5H383.5V952.1H338.9zM394.6 946.5H428.1V952.1H394.6zM433.6 946.5H444.8V952.1H433.6zM523.8 946.5H529.4V952.1H523.8zM535.1 946.5H540.7V952.1H535.1zM563.4 946.5H574.7V952.1H563.4zM222.0 952.1H227.5V957.8H222.0zM238.7 952.1H249.8V957.8H238.7zM260.9 952.1H266.5V957.8H260.9zM272.1 952.1H288.8V957.8H272.1zM299.9 952.1H361.2V957.8H299.9zM366.8 952.1H383.5V957.8H366.8zM389.1 952.1H405.8V957.8H389.1zM411.4 952.1H428.1V957.8H411.4zM433.6 952.1H450.4V957.8H433.6zM455.9 952.1H461.5V957.8H455.9zM569.0 952.1H574.7V957.8H569.0zM149.1 957.8H160.3V963.4H149.1zM177.2 957.8H182.8V963.4H177.2zM244.2 957.8H249.8V963.4H244.2zM255.4 957.8H260.9V963.4H255.4zM272.1 957.8H277.7V963.4H272.1zM288.8 957.8H311.1V963.4H288.8zM316.7 957.8H355.7V963.4H316.7zM361.2 957.8H411.4V963.4H361.2zM416.9 957.8H439.2V963.4H416.9zM444.8 957.8H461.5V963.4H444.8zM478.5 957.8H484.1V963.4H478.5zM580.4 957.8H586.1V963.4H580.4zM165.9 963.4H171.6V969.1H165.9zM177.2 963.4H182.8V969.1H177.2zM210.8 963.4H216.4V969.1H210.8zM222.0 963.4H233.1V969.1H222.0zM244.2 963.4H272.1V969.1H244.2zM277.7 963.4H283.2V969.1H277.7zM294.4 963.4H305.5V969.1H294.4zM311.1 963.4H344.5V969.1H311.1zM350.1 963.4H416.9V969.1H350.1zM422.5 963.4H439.2V969.1H422.5zM444.8 963.4H461.5V969.1H444.8zM467.2 963.4H478.5V969.1H467.2zM512.4 963.4H518.1V969.1H512.4zM631.5 963.4H637.1V969.1H631.5zM154.7 969.1H160.3V974.8H154.7zM188.5 969.1H194.1V974.8H188.5zM199.7 969.1H205.2V974.8H199.7zM227.5 969.1H255.4V974.8H227.5zM288.8 969.1H305.5V974.8H288.8zM311.1 969.1H344.5V974.8H311.1zM350.1 969.1H405.8V974.8H350.1zM416.9 969.1H450.4V974.8H416.9zM608.8 969.1H614.4V974.8H608.8zM188.5 974.8H194.1V980.4H188.5zM244.2 974.8H299.9V980.4H244.2zM327.8 974.8H338.9V980.4H327.8zM344.5 974.8H400.2V980.4H344.5zM405.8 974.8H416.9V980.4H405.8zM422.5 974.8H444.8V980.4H422.5zM450.4 974.8H461.5V980.4H450.4zM467.2 974.8H472.8V980.4H467.2zM529.4 974.8H535.1V980.4H529.4zM546.4 974.8H552.1V980.4H546.4zM563.4 974.8H574.7V980.4H563.4zM586.1 974.8H591.7V980.4H586.1zM614.4 974.8H620.1V980.4H614.4zM98.4 980.4H104.0V986.1H98.4zM137.8 980.4H143.4V986.1H137.8zM154.7 980.4H160.3V986.1H154.7zM171.6 980.4H177.2V986.1H171.6zM199.7 980.4H205.2V986.1H199.7zM238.7 980.4H249.8V986.1H238.7zM260.9 980.4H266.5V986.1H260.9zM272.1 980.4H283.2V986.1H272.1zM294.4 980.4H305.5V986.1H294.4zM327.8 980.4H350.1V986.1H327.8zM361.2 980.4H383.5V986.1H361.2zM394.6 980.4H400.2V986.1H394.6zM411.4 980.4H455.9V986.1H411.4zM467.2 980.4H472.8V986.1H467.2zM484.1 980.4H489.8V986.1H484.1zM154.7 986.1H160.3V991.8H154.7zM210.8 986.1H216.4V991.8H210.8zM222.0 986.1H227.5V991.8H222.0zM266.5 986.1H272.1V991.8H266.5zM277.7 986.1H283.2V991.8H277.7zM294.4 986.1H299.9V991.8H294.4zM305.5 986.1H344.5V991.8H305.5zM355.7 986.1H383.5V991.8H355.7zM394.6 986.1H400.2V991.8H394.6zM405.8 986.1H428.1V991.8H405.8zM433.6 986.1H455.9V991.8H433.6zM557.7 986.1H569.0V991.8H557.7zM625.8 986.1H631.5V991.8H625.8zM154.7 991.8H160.3V997.4H154.7zM199.7 991.8H205.2V997.4H199.7zM260.9 991.8H266.5V997.4H260.9zM272.1 991.8H277.7V997.4H272.1zM283.2 991.8H311.1V997.4H283.2zM316.7 991.8H333.4V997.4H316.7zM344.5 991.8H422.5V997.4H344.5zM433.6 991.8H461.5V997.4H433.6zM467.2 991.8H472.8V997.4H467.2zM529.4 991.8H535.1V997.4H529.4zM540.7 991.8H546.4V997.4H540.7zM608.8 991.8H614.4V997.4H608.8zM637.1 991.8H642.8V997.4H637.1zM216.4 997.4H222.0V1003.1H216.4zM238.7 997.4H244.2V1003.1H238.7zM249.8 997.4H255.4V1003.1H249.8zM266.5 997.4H288.8V1003.1H266.5zM294.4 997.4H299.9V1003.1H294.4zM305.5 997.4H322.2V1003.1H305.5zM327.8 997.4H377.9V1003.1H327.8zM394.6 997.4H400.2V1003.1H394.6zM405.8 997.4H450.4V1003.1H405.8zM512.4 997.4H518.1V1003.1H512.4zM569.0 997.4H574.7V1003.1H569.0zM620.1 997.4H625.8V1003.1H620.1zM177.2 1003.1H182.8V1008.7H177.2zM205.2 1003.1H210.8V1008.7H205.2zM260.9 1003.1H333.4V1008.7H260.9zM338.9 1003.1H355.7V1008.7H338.9zM361.2 1003.1H372.4V1008.7H361.2zM377.9 1003.1H383.5V1008.7H377.9zM389.1 1003.1H439.2V1008.7H389.1zM450.4 1003.1H461.5V1008.7H450.4zM467.2 1003.1H478.5V1008.7H467.2zM484.1 1003.1H489.8V1008.7H484.1zM501.1 1003.1H506.8V1008.7H501.1zM546.4 1003.1H552.1V1008.7H546.4zM580.4 1003.1H586.1V1008.7H580.4zM591.7 1003.1H597.4V1008.7H591.7zM603.1 1003.1H625.8V1008.7H603.1zM137.8 1008.7H143.4V1014.4H137.8zM154.7 1008.7H165.9V1014.4H154.7zM188.5 1008.7H194.1V1014.4H188.5zM210.8 1008.7H216.4V1014.4H210.8zM238.7 1008.7H244.2V1014.4H238.7zM260.9 1008.7H266.5V1014.4H260.9zM272.1 1008.7H283.2V1014.4H272.1zM288.8 1008.7H294.4V1014.4H288.8zM299.9 1008.7H311.1V1014.4H299.9zM316.7 1008.7H361.2V1014.4H316.7zM366.8 1008.7H372.4V1014.4H366.8zM377.9 1008.7H428.1V1014.4H377.9zM433.6 1008.7H461.5V1014.4H433.6zM467.2 1008.7H472.8V1014.4H467.2zM506.8 1008.7H512.4V1014.4H506.8zM603.1 1008.7H608.8V1014.4H603.1zM182.8 1014.4H188.5V1020.1H182.8zM205.2 1014.4H210.8V1020.1H205.2zM227.5 1014.4H233.1V1020.1H227.5zM249.8 1014.4H255.4V1020.1H249.8zM266.5 1014.4H272.1V1020.1H266.5zM277.7 1014.4H311.1V1020.1H277.7zM316.7 1014.4H366.8V1020.1H316.7zM372.4 1014.4H377.9V1020.1H372.4zM383.5 1014.4H439.2V1020.1H383.5zM444.8 1014.4H455.9V1020.1H444.8zM467.2 1014.4H472.8V1020.1H467.2zM478.5 1014.4H484.1V1020.1H478.5zM535.1 1014.4H540.7V1020.1H535.1zM557.7 1014.4H563.4V1020.1H557.7zM569.0 1014.4H574.7V1020.1H569.0zM603.1 1014.4H608.8V1020.1H603.1zM620.1 1014.4H625.8V1020.1H620.1zM81.5 1020.1H87.1V1025.7H81.5zM165.9 1020.1H171.6V1025.7H165.9zM244.2 1020.1H249.8V1025.7H244.2zM260.9 1020.1H272.1V1025.7H260.9zM277.7 1020.1H394.6V1025.7H277.7zM400.2 1020.1H461.5V1025.7H400.2zM467.2 1020.1H472.8V1025.7H467.2zM523.8 1020.1H529.4V1025.7H523.8zM540.7 1020.1H552.1V1025.7H540.7zM597.4 1020.1H603.1V1025.7H597.4zM98.4 1025.7H104.0V1031.4H98.4zM210.8 1025.7H216.4V1031.4H210.8zM244.2 1025.7H255.4V1031.4H244.2zM260.9 1025.7H272.1V1031.4H260.9zM288.8 1025.7H327.8V1031.4H288.8zM344.5 1025.7H350.1V1031.4H344.5zM361.2 1025.7H389.1V1031.4H361.2zM400.2 1025.7H411.4V1031.4H400.2zM416.9 1025.7H461.5V1031.4H416.9zM472.8 1025.7H478.5V1031.4H472.8zM546.4 1025.7H557.7V1031.4H546.4zM569.0 1025.7H574.7V1031.4H569.0zM591.7 1025.7H608.8V1031.4H591.7zM631.5 1025.7H637.1V1031.4H631.5zM154.7 1031.4H160.3V1037.0H154.7zM182.8 1031.4H188.5V1037.0H182.8zM210.8 1031.4H222.0V1037.0H210.8zM238.7 1031.4H244.2V1037.0H238.7zM249.8 1031.4H255.4V1037.0H249.8zM260.9 1031.4H266.5V1037.0H260.9zM272.1 1031.4H283.2V1037.0H272.1zM288.8 1031.4H305.5V1037.0H288.8zM311.1 1031.4H322.2V1037.0H311.1zM327.8 1031.4H333.4V1037.0H327.8zM344.5 1031.4H450.4V1037.0H344.5zM455.9 1031.4H461.5V1037.0H455.9zM472.8 1031.4H484.1V1037.0H472.8zM512.4 1031.4H518.1V1037.0H512.4zM557.7 1031.4H574.7V1037.0H557.7zM580.4 1031.4H586.1V1037.0H580.4zM597.4 1031.4H603.1V1037.0H597.4zM137.8 1037.0H143.4V1042.7H137.8zM233.1 1037.0H238.7V1042.7H233.1zM249.8 1037.0H255.4V1042.7H249.8zM277.7 1037.0H316.7V1042.7H277.7zM338.9 1037.0H344.5V1042.7H338.9zM350.1 1037.0H361.2V1042.7H350.1zM372.4 1037.0H405.8V1042.7H372.4zM411.4 1037.0H416.9V1042.7H411.4zM422.5 1037.0H450.4V1042.7H422.5zM455.9 1037.0H461.5V1042.7H455.9zM467.2 1037.0H472.8V1042.7H467.2zM495.5 1037.0H501.1V1042.7H495.5zM535.1 1037.0H540.7V1042.7H535.1zM569.0 1037.0H574.7V1042.7H569.0zM580.4 1037.0H597.4V1042.7H580.4zM608.8 1037.0H614.4V1042.7H608.8zM210.8 1042.7H222.0V1048.4H210.8zM227.5 1042.7H233.1V1048.4H227.5zM266.5 1042.7H272.1V1048.4H266.5zM277.7 1042.7H299.9V1048.4H277.7zM305.5 1042.7H350.1V1048.4H305.5zM355.7 1042.7H377.9V1048.4H355.7zM383.5 1042.7H405.8V1048.4H383.5zM411.4 1042.7H444.8V1048.4H411.4zM450.4 1042.7H455.9V1048.4H450.4zM472.8 1042.7H478.5V1048.4H472.8zM495.5 1042.7H501.1V1048.4H495.5zM546.4 1042.7H557.7V1048.4H546.4zM569.0 1042.7H574.7V1048.4H569.0zM591.7 1042.7H597.4V1048.4H591.7zM608.8 1042.7H614.4V1048.4H608.8zM625.8 1042.7H631.5V1048.4H625.8zM210.8 1048.4H216.4V1054.0H210.8zM233.1 1048.4H238.7V1054.0H233.1zM305.5 1048.4H316.7V1054.0H305.5zM333.4 1048.4H338.9V1054.0H333.4zM361.2 1048.4H372.4V1054.0H361.2zM377.9 1048.4H400.2V1054.0H377.9zM405.8 1048.4H433.6V1054.0H405.8zM444.8 1048.4H461.5V1054.0H444.8zM467.2 1048.4H472.8V1054.0H467.2zM552.1 1048.4H557.7V1054.0H552.1zM569.0 1048.4H574.7V1054.0H569.0zM580.4 1048.4H608.8V1054.0H580.4zM637.1 1048.4H642.8V1054.0H637.1zM311.1 1054.0H316.7V1059.7H311.1zM322.2 1054.0H327.8V1059.7H322.2zM333.4 1054.0H338.9V1059.7H333.4zM344.5 1054.0H350.1V1059.7H344.5zM355.7 1054.0H372.4V1059.7H355.7zM377.9 1054.0H383.5V1059.7H377.9zM394.6 1054.0H400.2V1059.7H394.6zM405.8 1054.0H416.9V1059.7H405.8zM422.5 1054.0H444.8V1059.7H422.5zM450.4 1054.0H455.9V1059.7H450.4zM467.2 1054.0H478.5V1059.7H467.2zM484.1 1054.0H489.8V1059.7H484.1zM512.4 1054.0H518.1V1059.7H512.4zM529.4 1054.0H540.7V1059.7H529.4zM546.4 1054.0H574.7V1059.7H546.4zM625.8 1054.0H637.1V1059.7H625.8zM154.7 1065.4H160.3V1071.1H154.7zM177.2 1065.4H188.5V1071.1H177.2zM277.7 1065.4H283.2V1071.1H277.7zM288.8 1065.4H294.4V1071.1H288.8zM299.9 1065.4H305.5V1071.1H299.9zM316.7 1065.4H333.4V1071.1H316.7zM344.5 1065.4H350.1V1071.1H344.5zM366.8 1065.4H372.4V1071.1H366.8zM377.9 1065.4H389.1V1071.1H377.9zM394.6 1065.4H400.2V1071.1H394.6zM405.8 1065.4H428.1V1071.1H405.8zM439.2 1065.4H444.8V1071.1H439.2zM450.4 1065.4H461.5V1071.1H450.4zM472.8 1065.4H478.5V1071.1H472.8zM484.1 1065.4H495.5V1071.1H484.1zM540.7 1065.4H574.7V1071.1H540.7zM608.8 1065.4H614.4V1071.1H608.8zM625.8 1065.4H631.5V1071.1H625.8zM154.7 1071.1H160.3V1076.8H154.7zM171.6 1071.1H177.2V1076.8H171.6zM305.5 1071.1H311.1V1076.8H305.5zM316.7 1071.1H322.2V1076.8H316.7zM366.8 1071.1H372.4V1076.8H366.8zM405.8 1071.1H411.4V1076.8H405.8zM428.1 1071.1H439.2V1076.8H428.1zM444.8 1071.1H450.4V1076.8H444.8zM455.9 1071.1H461.5V1076.8H455.9zM467.2 1071.1H472.8V1076.8H467.2zM484.1 1071.1H489.8V1076.8H484.1zM495.5 1071.1H501.1V1076.8H495.5zM512.4 1071.1H518.1V1076.8H512.4zM540.7 1071.1H574.7V1076.8H540.7zM580.4 1071.1H608.8V1076.8H580.4zM631.5 1071.1H637.1V1076.8H631.5zM205.2 1076.8H210.8V1082.5H205.2zM222.0 1076.8H227.5V1082.5H222.0zM260.9 1076.8H266.5V1082.5H260.9zM316.7 1076.8H322.2V1082.5H316.7zM333.4 1076.8H338.9V1082.5H333.4zM361.2 1076.8H366.8V1082.5H361.2zM416.9 1076.8H422.5V1082.5H416.9zM433.6 1076.8H439.2V1082.5H433.6zM478.5 1076.8H557.7V1082.5H478.5zM563.4 1076.8H574.7V1082.5H563.4zM580.4 1076.8H608.8V1082.5H580.4zM165.9 1082.5H171.6V1088.2H165.9zM305.5 1082.5H311.1V1088.2H305.5zM344.5 1082.5H350.1V1088.2H344.5zM383.5 1082.5H389.1V1088.2H383.5zM405.8 1082.5H411.4V1088.2H405.8zM455.9 1082.5H461.5V1088.2H455.9zM467.2 1082.5H501.1V1088.2H467.2zM506.8 1082.5H574.7V1088.2H506.8zM580.4 1082.5H586.1V1088.2H580.4zM603.1 1082.5H614.4V1088.2H603.1zM620.1 1082.5H625.8V1088.2H620.1zM222.0 1088.2H227.5V1094.0H222.0zM344.5 1088.2H350.1V1094.0H344.5zM467.2 1088.2H472.8V1094.0H467.2zM478.5 1088.2H523.8V1094.0H478.5zM529.4 1088.2H574.7V1094.0H529.4zM580.4 1088.2H591.7V1094.0H580.4zM597.4 1088.2H614.4V1094.0H597.4zM620.1 1088.2H625.8V1094.0H620.1zM294.4 1094.0H299.9V1099.7H294.4zM439.2 1094.0H450.4V1099.7H439.2zM472.8 1094.0H495.5V1099.7H472.8zM501.1 1094.0H574.7V1099.7H501.1zM586.1 1094.0H591.7V1099.7H586.1zM597.4 1094.0H603.1V1099.7H597.4zM608.8 1094.0H614.4V1099.7H608.8zM338.9 1099.7H344.5V1105.4H338.9zM405.8 1099.7H411.4V1105.4H405.8zM478.5 1099.7H484.1V1105.4H478.5zM489.8 1099.7H512.4V1105.4H489.8zM518.1 1099.7H540.7V1105.4H518.1zM546.4 1099.7H574.7V1105.4H546.4zM580.4 1099.7H591.7V1105.4H580.4zM597.4 1099.7H614.4V1105.4H597.4zM411.4 1105.4H416.9V1111.1H411.4zM478.5 1105.4H506.8V1111.1H478.5zM512.4 1105.4H529.4V1111.1H512.4zM535.1 1105.4H574.7V1111.1H535.1zM580.4 1105.4H586.1V1111.1H580.4zM597.4 1105.4H614.4V1111.1H597.4zM227.5 1111.1H233.1V1116.8H227.5zM260.9 1111.1H266.5V1116.8H260.9zM366.8 1111.1H372.4V1116.8H366.8zM400.2 1111.1H405.8V1116.8H400.2zM433.6 1111.1H439.2V1116.8H433.6zM455.9 1111.1H461.5V1116.8H455.9zM472.8 1111.1H501.1V1116.8H472.8zM506.8 1111.1H574.7V1116.8H506.8zM580.4 1111.1H586.1V1116.8H580.4zM591.7 1111.1H608.8V1116.8H591.7zM614.4 1111.1H625.8V1116.8H614.4zM227.5 1116.8H233.1V1122.5H227.5zM478.5 1116.8H518.1V1122.5H478.5zM523.8 1116.8H574.7V1122.5H523.8zM591.7 1116.8H597.4V1122.5H591.7zM603.1 1116.8H608.8V1122.5H603.1zM350.1 1122.5H355.7V1128.2H350.1zM422.5 1122.5H428.1V1128.2H422.5zM478.5 1122.5H489.8V1128.2H478.5zM495.5 1122.5H523.8V1128.2H495.5zM529.4 1122.5H552.1V1128.2H529.4zM557.7 1122.5H574.7V1128.2H557.7zM580.4 1122.5H586.1V1128.2H580.4zM260.9 1128.2H266.5V1133.9H260.9zM311.1 1128.2H316.7V1133.9H311.1zM377.9 1128.2H383.5V1133.9H377.9zM394.6 1128.2H400.2V1133.9H394.6zM455.9 1128.2H461.5V1133.9H455.9zM478.5 1128.2H506.8V1133.9H478.5zM512.4 1128.2H529.4V1133.9H512.4zM535.1 1128.2H540.7V1133.9H535.1zM552.1 1128.2H574.7V1133.9H552.1zM580.4 1128.2H586.1V1133.9H580.4zM603.1 1128.2H608.8V1133.9H603.1zM92.8 1133.9H98.4V1139.6H92.8zM333.4 1133.9H338.9V1139.6H333.4zM350.1 1133.9H355.7V1139.6H350.1zM416.9 1133.9H422.5V1139.6H416.9zM439.2 1133.9H444.8V1139.6H439.2zM455.9 1133.9H461.5V1139.6H455.9zM478.5 1133.9H535.1V1139.6H478.5zM540.7 1133.9H574.7V1139.6H540.7zM580.4 1133.9H597.4V1139.6H580.4zM608.8 1133.9H614.4V1139.6H608.8zM255.4 1139.6H260.9V1145.4H255.4zM394.6 1139.6H400.2V1145.4H394.6zM422.5 1139.6H428.1V1145.4H422.5zM467.2 1139.6H501.1V1145.4H467.2zM506.8 1139.6H529.4V1145.4H506.8zM535.1 1139.6H540.7V1145.4H535.1zM546.4 1139.6H574.7V1145.4H546.4zM586.1 1139.6H603.1V1145.4H586.1zM608.8 1139.6H614.4V1145.4H608.8zM294.4 1145.4H299.9V1151.1H294.4zM338.9 1145.4H344.5V1151.1H338.9zM377.9 1145.4H383.5V1151.1H377.9zM405.8 1145.4H411.4V1151.1H405.8zM422.5 1145.4H433.6V1151.1H422.5zM444.8 1145.4H450.4V1151.1H444.8zM455.9 1145.4H461.5V1151.1H455.9zM467.2 1145.4H529.4V1151.1H467.2zM535.1 1145.4H546.4V1151.1H535.1zM552.1 1145.4H574.7V1151.1H552.1zM580.4 1145.4H603.1V1151.1H580.4zM614.4 1145.4H620.1V1151.1H614.4zM642.8 1145.4H648.5V1151.1H642.8zM137.8 1151.1H143.4V1156.8H137.8zM165.9 1151.1H171.6V1156.8H165.9zM188.5 1151.1H194.1V1156.8H188.5zM299.9 1151.1H305.5V1156.8H299.9zM333.4 1151.1H338.9V1156.8H333.4zM428.1 1151.1H433.6V1156.8H428.1zM444.8 1151.1H461.5V1156.8H444.8zM467.2 1151.1H523.8V1156.8H467.2zM529.4 1151.1H574.7V1156.8H529.4zM580.4 1151.1H631.5V1156.8H580.4zM126.5 1156.8H132.2V1162.5H126.5zM216.4 1156.8H222.0V1162.5H216.4zM299.9 1156.8H305.5V1162.5H299.9zM322.2 1156.8H327.8V1162.5H322.2zM338.9 1156.8H344.5V1162.5H338.9zM389.1 1156.8H394.6V1162.5H389.1zM416.9 1156.8H422.5V1162.5H416.9zM433.6 1156.8H439.2V1162.5H433.6zM455.9 1156.8H461.5V1162.5H455.9zM467.2 1156.8H478.5V1162.5H467.2zM484.1 1156.8H574.7V1162.5H484.1zM580.4 1156.8H591.7V1162.5H580.4zM597.4 1156.8H603.1V1162.5H597.4zM608.8 1156.8H631.5V1162.5H608.8zM642.8 1156.8H648.5V1162.5H642.8zM154.7 1162.5H160.3V1168.2H154.7zM227.5 1162.5H233.1V1168.2H227.5zM299.9 1162.5H305.5V1168.2H299.9zM350.1 1162.5H355.7V1168.2H350.1zM377.9 1162.5H383.5V1168.2H377.9zM389.1 1162.5H394.6V1168.2H389.1zM433.6 1162.5H439.2V1168.2H433.6zM455.9 1162.5H461.5V1168.2H455.9zM467.2 1162.5H574.7V1168.2H467.2zM580.4 1162.5H637.1V1168.2H580.4zM642.8 1162.5H648.5V1168.2H642.8zM109.7 1168.2H115.3V1173.9H109.7zM182.8 1168.2H188.5V1173.9H182.8zM277.7 1168.2H288.8V1173.9H277.7zM311.1 1168.2H316.7V1173.9H311.1zM327.8 1168.2H333.4V1173.9H327.8zM338.9 1168.2H361.2V1173.9H338.9zM377.9 1168.2H383.5V1173.9H377.9zM400.2 1168.2H405.8V1173.9H400.2zM416.9 1168.2H422.5V1173.9H416.9zM428.1 1168.2H461.5V1173.9H428.1zM467.2 1168.2H574.7V1173.9H467.2zM586.1 1168.2H597.4V1173.9H586.1zM603.1 1168.2H631.5V1173.9H603.1zM171.6 1179.5H177.2V1185.2H171.6zM327.8 1179.5H333.4V1185.2H327.8zM361.2 1179.5H366.8V1185.2H361.2zM405.8 1179.5H411.4V1185.2H405.8zM433.6 1179.5H444.8V1185.2H433.6zM450.4 1179.5H455.9V1185.2H450.4zM472.8 1179.5H495.5V1185.2H472.8zM501.1 1179.5H518.1V1185.2H501.1zM523.8 1179.5H540.7V1185.2H523.8zM546.4 1179.5H569.0V1185.2H546.4zM591.7 1179.5H597.4V1185.2H591.7zM603.1 1179.5H620.1V1185.2H603.1zM625.8 1179.5H637.1V1185.2H625.8zM642.8 1179.5H648.5V1185.2H642.8zM377.9 1185.2H383.5V1190.8H377.9zM439.2 1185.2H444.8V1190.8H439.2zM450.4 1185.2H455.9V1190.8H450.4zM472.8 1185.2H484.1V1190.8H472.8zM489.8 1185.2H506.8V1190.8H489.8zM535.1 1185.2H574.7V1190.8H535.1zM591.7 1185.2H597.4V1190.8H591.7zM603.1 1185.2H631.5V1190.8H603.1zM154.7 1190.8H160.3V1196.4H154.7zM311.1 1190.8H322.2V1196.4H311.1zM405.8 1190.8H411.4V1196.4H405.8zM428.1 1190.8H433.6V1196.4H428.1zM439.2 1190.8H455.9V1196.4H439.2zM472.8 1190.8H484.1V1196.4H472.8zM512.4 1190.8H523.8V1196.4H512.4zM535.1 1190.8H557.7V1196.4H535.1zM563.4 1190.8H574.7V1196.4H563.4zM580.4 1190.8H591.7V1196.4H580.4zM597.4 1190.8H648.5V1196.4H597.4zM294.4 1196.4H299.9V1202.1H294.4zM422.5 1196.4H439.2V1202.1H422.5zM450.4 1196.4H455.9V1202.1H450.4zM472.8 1196.4H484.1V1202.1H472.8zM489.8 1196.4H518.1V1202.1H489.8zM540.7 1196.4H569.0V1202.1H540.7zM591.7 1196.4H637.1V1202.1H591.7zM642.8 1196.4H648.5V1202.1H642.8zM171.6 1202.1H177.2V1207.7H171.6zM188.5 1202.1H194.1V1207.7H188.5zM249.8 1202.1H255.4V1207.7H249.8zM405.8 1202.1H422.5V1207.7H405.8zM428.1 1202.1H433.6V1207.7H428.1zM450.4 1202.1H455.9V1207.7H450.4zM472.8 1202.1H495.5V1207.7H472.8zM501.1 1202.1H523.8V1207.7H501.1zM529.4 1202.1H535.1V1207.7H529.4zM552.1 1202.1H557.7V1207.7H552.1zM563.4 1202.1H574.7V1207.7H563.4zM580.4 1202.1H648.5V1207.7H580.4zM177.2 1207.7H182.8V1213.3H177.2zM222.0 1207.7H227.5V1213.3H222.0zM288.8 1207.7H294.4V1213.3H288.8zM344.5 1207.7H350.1V1213.3H344.5zM372.4 1207.7H377.9V1213.3H372.4zM394.6 1207.7H400.2V1213.3H394.6zM405.8 1207.7H411.4V1213.3H405.8zM439.2 1207.7H450.4V1213.3H439.2zM467.2 1207.7H472.8V1213.3H467.2zM484.1 1207.7H512.4V1213.3H484.1zM535.1 1207.7H546.4V1213.3H535.1zM552.1 1207.7H574.7V1213.3H552.1zM580.4 1207.7H608.8V1213.3H580.4zM614.4 1207.7H648.5V1213.3H614.4zM160.3 1213.3H165.9V1219.0H160.3zM238.7 1213.3H244.2V1219.0H238.7zM377.9 1213.3H383.5V1219.0H377.9zM405.8 1213.3H411.4V1219.0H405.8zM512.4 1213.3H518.1V1219.0H512.4zM546.4 1213.3H574.7V1219.0H546.4zM580.4 1213.3H648.5V1219.0H580.4zM182.8 1219.0H188.5V1224.6H182.8zM400.2 1219.0H411.4V1224.6H400.2zM416.9 1219.0H422.5V1224.6H416.9zM484.1 1219.0H495.5V1224.6H484.1zM512.4 1219.0H518.1V1224.6H512.4zM552.1 1219.0H574.7V1224.6H552.1zM586.1 1219.0H648.5V1224.6H586.1zM322.2 1224.6H327.8V1230.3H322.2zM389.1 1224.6H394.6V1230.3H389.1zM444.8 1224.6H450.4V1230.3H444.8zM455.9 1224.6H461.5V1230.3H455.9zM467.2 1224.6H472.8V1230.3H467.2zM552.1 1224.6H574.7V1230.3H552.1zM580.4 1224.6H648.5V1230.3H580.4zM154.7 1230.3H160.3V1235.9H154.7zM205.2 1230.3H210.8V1235.9H205.2zM272.1 1230.3H277.7V1235.9H272.1zM366.8 1230.3H372.4V1235.9H366.8zM428.1 1230.3H433.6V1235.9H428.1zM455.9 1230.3H461.5V1235.9H455.9zM472.8 1230.3H478.5V1235.9H472.8zM563.4 1230.3H569.0V1235.9H563.4zM580.4 1230.3H586.1V1235.9H580.4zM591.7 1230.3H637.1V1235.9H591.7zM642.8 1230.3H648.5V1235.9H642.8zM394.6 1235.9H400.2V1241.5H394.6zM450.4 1235.9H455.9V1241.5H450.4zM591.7 1235.9H597.4V1241.5H591.7zM603.1 1235.9H631.5V1241.5H603.1zM637.1 1235.9H648.5V1241.5H637.1zM546.4 1241.5H552.1V1247.2H546.4zM557.7 1241.5H569.0V1247.2H557.7zM580.4 1241.5H586.1V1247.2H580.4zM591.7 1241.5H648.5V1247.2H591.7zM501.1 1247.2H506.8V1252.8H501.1zM535.1 1247.2H540.7V1252.8H535.1zM569.0 1247.2H574.7V1252.8H569.0zM591.7 1247.2H597.4V1252.8H591.7zM603.1 1247.2H637.1V1252.8H603.1zM642.8 1247.2H648.5V1252.8H642.8z"/><path fill="#fcc2c2" d="M104.0 679.3H109.7V685.0H104.0zM115.3 679.3H120.9V685.0H115.3zM249.8 679.3H260.9V685.0H249.8zM288.8 679.3H299.9V685.0H288.8zM305.5 679.3H311.1V685.0H305.5zM322.2 679.3H333.4V685.0H322.2zM411.4 679.3H416.9V685.0H411.4zM439.2 679.3H444.8V685.0H439.2zM472.8 679.3H478.5V685.0H472.8zM557.7 679.3H563.4V685.0H557.7zM591.7 679.3H603.1V685.0H591.7zM608.8 679.3H614.4V685.0H608.8zM620.1 679.3H637.1V685.0H620.1zM98.4 685.0H104.0V690.7H98.4zM109.7 685.0H115.3V690.7H109.7zM171.6 685.0H177.2V690.7H171.6zM222.0 685.0H227.5V690.7H222.0zM249.8 685.0H255.4V690.7H249.8zM260.9 685.0H266.5V690.7H260.9zM311.1 685.0H316.7V690.7H311.1zM355.7 685.0H361.2V690.7H355.7zM383.5 685.0H389.1V690.7H383.5zM433.6 685.0H439.2V690.7H433.6zM467.2 685.0H478.5V690.7H467.2zM518.1 685.0H523.8V690.7H518.1zM580.4 685.0H586.1V690.7H580.4zM591.7 685.0H597.4V690.7H591.7zM614.4 685.0H620.1V690.7H614.4zM92.8 690.7H98.4V696.4H92.8zM143.4 690.7H149.1V696.4H143.4zM233.1 690.7H238.7V696.4H233.1zM255.4 690.7H260.9V696.4H255.4zM333.4 690.7H338.9V696.4H333.4zM411.4 690.7H416.9V696.4H411.4zM450.4 690.7H455.9V696.4H450.4zM484.1 690.7H489.8V696.4H484.1zM557.7 690.7H563.4V696.4H557.7zM631.5 690.7H637.1V696.4H631.5zM87.1 696.4H92.8V702.2H87.1zM149.1 696.4H154.7V702.2H149.1zM160.3 696.4H165.9V702.2H160.3zM244.2 696.4H249.8V702.2H244.2zM439.2 696.4H444.8V702.2H439.2zM501.1 696.4H506.8V702.2H501.1zM512.4 696.4H518.1V702.2H512.4zM535.1 696.4H540.7V702.2H535.1zM580.4 696.4H586.1V702.2H580.4zM92.8 702.2H98.4V707.9H92.8zM132.2 702.2H137.8V707.9H132.2zM249.8 702.2H255.4V707.9H249.8zM299.9 702.2H305.5V707.9H299.9zM311.1 702.2H316.7V707.9H311.1zM333.4 702.2H338.9V707.9H333.4zM350.1 702.2H355.7V707.9H350.1zM377.9 702.2H383.5V707.9H377.9zM400.2 702.2H405.8V707.9H400.2zM416.9 702.2H422.5V707.9H416.9zM433.6 702.2H439.2V707.9H433.6zM450.4 702.2H455.9V707.9H450.4zM489.8 702.2H495.5V707.9H489.8zM620.1 702.2H625.8V707.9H620.1zM87.1 707.9H92.8V713.6H87.1zM244.2 707.9H249.8V713.6H244.2zM277.7 707.9H283.2V713.6H277.7zM299.9 707.9H305.5V713.6H299.9zM316.7 707.9H322.2V713.6H316.7zM327.8 707.9H333.4V713.6H327.8zM338.9 707.9H344.5V713.6H338.9zM350.1 707.9H361.2V713.6H350.1zM377.9 707.9H389.1V713.6H377.9zM439.2 707.9H444.8V713.6H439.2zM484.1 707.9H489.8V713.6H484.1zM529.4 707.9H535.1V713.6H529.4zM557.7 707.9H563.4V713.6H557.7zM620.1 707.9H631.5V713.6H620.1zM188.5 713.6H194.1V719.3H188.5zM294.4 713.6H299.9V719.3H294.4zM433.6 713.6H439.2V719.3H433.6zM512.4 713.6H518.1V719.3H512.4zM552.1 713.6H557.7V719.3H552.1zM597.4 713.6H603.1V719.3H597.4zM154.7 719.3H160.3V725.0H154.7zM81.5 725.0H87.1V730.7H81.5zM109.7 725.0H115.3V730.7H109.7zM199.7 725.0H205.2V730.7H199.7zM249.8 725.0H260.9V730.7H249.8zM377.9 725.0H383.5V730.7H377.9zM433.6 725.0H444.8V730.7H433.6zM523.8 725.0H529.4V730.7H523.8zM540.7 725.0H546.4V730.7H540.7zM591.7 725.0H597.4V730.7H591.7zM603.1 725.0H614.4V730.7H603.1zM625.8 725.0H631.5V730.7H625.8zM222.0 730.7H227.5V736.5H222.0zM305.5 730.7H311.1V736.5H305.5zM316.7 730.7H322.2V736.5H316.7zM377.9 730.7H383.5V736.5H377.9zM489.8 730.7H495.5V736.5H489.8zM98.4 736.5H104.0V742.2H98.4zM160.3 736.5H165.9V742.2H160.3zM305.5 736.5H311.1V742.2H305.5zM316.7 736.5H322.2V742.2H316.7zM333.4 736.5H338.9V742.2H333.4zM355.7 736.5H361.2V742.2H355.7zM377.9 736.5H383.5V742.2H377.9zM394.6 736.5H400.2V742.2H394.6zM631.5 736.5H637.1V742.2H631.5zM104.0 742.2H109.7V747.9H104.0zM238.7 742.2H244.2V747.9H238.7zM311.1 742.2H316.7V747.9H311.1zM389.1 742.2H394.6V747.9H389.1zM400.2 742.2H405.8V747.9H400.2zM523.8 742.2H529.4V747.9H523.8zM546.4 742.2H552.1V747.9H546.4zM580.4 742.2H586.1V747.9H580.4zM614.4 742.2H620.1V747.9H614.4zM126.5 747.9H132.2V753.6H126.5zM377.9 747.9H383.5V753.6H377.9zM484.1 747.9H489.8V753.6H484.1zM580.4 747.9H591.7V753.6H580.4zM637.1 747.9H642.8V753.6H637.1zM104.0 753.6H109.7V759.3H104.0zM143.4 753.6H149.1V759.3H143.4zM260.9 753.6H266.5V759.3H260.9zM400.2 753.6H405.8V759.3H400.2zM478.5 753.6H484.1V759.3H478.5zM608.8 753.6H614.4V759.3H608.8zM637.1 753.6H642.8V759.3H637.1zM238.7 759.3H244.2V765.0H238.7zM389.1 759.3H394.6V765.0H389.1zM467.2 759.3H478.5V765.0H467.2zM495.5 759.3H501.1V765.0H495.5zM529.4 759.3H535.1V765.0H529.4zM557.7 759.3H563.4V765.0H557.7zM580.4 759.3H586.1V765.0H580.4zM597.4 759.3H603.1V765.0H597.4zM92.8 765.0H98.4V770.8H92.8zM260.9 765.0H266.5V770.8H260.9zM311.1 765.0H322.2V770.8H311.1zM506.8 765.0H512.4V770.8H506.8zM523.8 765.0H529.4V770.8H523.8zM540.7 765.0H546.4V770.8H540.7zM557.7 765.0H563.4V770.8H557.7zM614.4 765.0H620.1V770.8H614.4zM625.8 765.0H631.5V770.8H625.8zM255.4 770.8H260.9V776.5H255.4zM322.2 770.8H327.8V776.5H322.2zM372.4 770.8H377.9V776.5H372.4zM389.1 770.8H394.6V776.5H389.1zM411.4 770.8H416.9V776.5H411.4zM439.2 770.8H444.8V776.5H439.2zM495.5 770.8H506.8V776.5H495.5zM518.1 770.8H523.8V776.5H518.1zM631.5 770.8H648.5V776.5H631.5zM411.4 776.5H416.9V782.2H411.4zM506.8 776.5H512.4V782.2H506.8zM597.4 776.5H603.1V782.2H597.4zM625.8 776.5H631.5V782.2H625.8zM648.5 776.5H654.0V782.2H648.5zM120.9 782.2H126.5V787.9H120.9zM455.9 782.2H461.5V787.9H455.9zM512.4 782.2H518.1V787.9H512.4zM132.2 793.6H137.8V799.2H132.2zM255.4 793.6H260.9V799.2H255.4zM416.9 793.6H422.5V799.2H416.9zM518.1 793.6H529.4V799.2H518.1zM557.7 793.6H563.4V799.2H557.7zM569.0 793.6H574.7V799.2H569.0zM597.4 793.6H603.1V799.2H597.4zM614.4 793.6H620.1V799.2H614.4zM444.8 799.2H450.4V804.9H444.8zM455.9 799.2H461.5V804.9H455.9zM506.8 799.2H512.4V804.9H506.8zM580.4 799.2H586.1V804.9H580.4zM591.7 799.2H597.4V804.9H591.7zM603.1 799.2H608.8V804.9H603.1zM642.8 799.2H648.5V804.9H642.8zM272.1 804.9H277.7V810.5H272.1zM394.6 804.9H400.2V810.5H394.6zM439.2 804.9H444.8V810.5H439.2zM512.4 804.9H518.1V810.5H512.4zM523.8 804.9H529.4V810.5H523.8zM540.7 804.9H546.4V810.5H540.7zM552.1 804.9H557.7V810.5H552.1zM591.7 804.9H597.4V810.5H591.7zM631.5 804.9H642.8V810.5H631.5zM81.5 810.5H87.1V816.2H81.5zM439.2 810.5H444.8V816.2H439.2zM450.4 810.5H455.9V816.2H450.4zM467.2 810.5H472.8V816.2H467.2zM484.1 810.5H489.8V816.2H484.1zM546.4 810.5H552.1V816.2H546.4zM569.0 810.5H574.7V816.2H569.0zM580.4 810.5H586.1V816.2H580.4zM608.8 810.5H614.4V816.2H608.8zM642.8 810.5H648.5V816.2H642.8zM81.5 816.2H87.1V821.9H81.5zM92.8 816.2H98.4V821.9H92.8zM137.8 816.2H143.4V821.9H137.8zM472.8 816.2H478.5V821.9H472.8zM620.1 816.2H631.5V821.9H620.1zM495.5 821.9H501.1V827.5H495.5zM535.1 821.9H540.7V827.5H535.1zM591.7 821.9H597.4V827.5H591.7zM631.5 821.9H642.8V827.5H631.5zM98.4 827.5H104.0V833.2H98.4zM383.5 827.5H394.6V833.2H383.5zM422.5 827.5H428.1V833.2H422.5zM444.8 827.5H450.4V833.2H444.8zM489.8 827.5H495.5V833.2H489.8zM529.4 827.5H535.1V833.2H529.4zM540.7 827.5H546.4V833.2H540.7zM557.7 827.5H563.4V833.2H557.7zM569.0 827.5H574.7V833.2H569.0zM580.4 827.5H591.7V833.2H580.4zM603.1 827.5H608.8V833.2H603.1zM149.1 833.2H154.7V838.9H149.1zM165.9 833.2H171.6V838.9H165.9zM467.2 833.2H472.8V838.9H467.2zM540.7 833.2H546.4V838.9H540.7zM591.7 833.2H597.4V838.9H591.7zM104.0 838.9H109.7V844.5H104.0zM115.3 838.9H120.9V844.5H115.3zM467.2 838.9H472.8V844.5H467.2zM495.5 838.9H501.1V844.5H495.5zM625.8 838.9H631.5V844.5H625.8zM87.1 844.5H98.4V850.2H87.1zM109.7 844.5H115.3V850.2H109.7zM132.2 844.5H137.8V850.2H132.2zM450.4 844.5H455.9V850.2H450.4zM489.8 844.5H495.5V850.2H489.8zM529.4 844.5H535.1V850.2H529.4zM87.1 850.2H92.8V855.9H87.1zM98.4 850.2H104.0V855.9H98.4zM132.2 850.2H137.8V855.9H132.2zM177.2 850.2H182.8V855.9H177.2zM199.7 850.2H205.2V855.9H199.7zM489.8 850.2H495.5V855.9H489.8zM501.1 850.2H506.8V855.9H501.1zM512.4 850.2H518.1V855.9H512.4zM563.4 850.2H569.0V855.9H563.4zM586.1 850.2H591.7V855.9H586.1zM603.1 850.2H608.8V855.9H603.1zM631.5 850.2H637.1V855.9H631.5zM642.8 850.2H648.5V855.9H642.8zM92.8 855.9H98.4V861.5H92.8zM160.3 855.9H165.9V861.5H160.3zM171.6 855.9H177.2V861.5H171.6zM569.0 855.9H574.7V861.5H569.0zM586.1 855.9H591.7V861.5H586.1zM637.1 855.9H642.8V861.5H637.1zM439.2 861.5H444.8V867.2H439.2zM489.8 861.5H495.5V867.2H489.8zM523.8 861.5H535.1V867.2H523.8zM210.8 867.2H216.4V872.8H210.8zM489.8 867.2H495.5V872.8H489.8zM501.1 867.2H506.8V872.8H501.1zM115.3 872.8H120.9V878.5H115.3zM495.5 872.8H506.8V878.5H495.5zM523.8 872.8H529.4V878.5H523.8zM546.4 872.8H552.1V878.5H546.4zM591.7 872.8H597.4V878.5H591.7zM608.8 872.8H614.4V878.5H608.8zM625.8 872.8H631.5V878.5H625.8zM608.8 878.5H614.4V884.2H608.8zM87.1 884.2H92.8V889.8H87.1zM501.1 884.2H506.8V889.8H501.1zM620.1 884.2H625.8V889.8H620.1zM637.1 884.2H642.8V889.8H637.1zM87.1 889.8H92.8V895.5H87.1zM120.9 889.8H126.5V895.5H120.9zM489.8 889.8H495.5V895.5H489.8zM586.1 889.8H591.7V895.5H586.1zM614.4 889.8H620.1V895.5H614.4zM109.7 895.5H120.9V901.1H109.7zM540.7 895.5H546.4V901.1H540.7zM580.4 895.5H586.1V901.1H580.4zM87.1 901.1H92.8V906.8H87.1zM137.8 901.1H149.1V906.8H137.8zM557.7 901.1H563.4V906.8H557.7zM591.7 901.1H597.4V906.8H591.7zM92.8 906.8H98.4V912.5H92.8zM109.7 906.8H115.3V912.5H109.7zM149.1 906.8H154.7V912.5H149.1zM171.6 906.8H177.2V912.5H171.6zM552.1 906.8H557.7V912.5H552.1zM637.1 906.8H642.8V912.5H637.1zM115.3 912.5H120.9V918.1H115.3zM137.8 912.5H149.1V918.1H137.8zM171.6 912.5H177.2V918.1H171.6zM450.4 912.5H455.9V918.1H450.4zM648.5 912.5H654.0V918.1H648.5zM87.1 918.1H92.8V923.8H87.1zM177.2 918.1H182.8V923.8H177.2zM478.5 918.1H484.1V923.8H478.5zM552.1 918.1H557.7V923.8H552.1zM87.1 923.8H92.8V929.5H87.1zM115.3 923.8H120.9V929.5H115.3zM495.5 923.8H501.1V929.5H495.5zM535.1 923.8H540.7V929.5H535.1zM546.4 923.8H552.1V929.5H546.4zM614.4 923.8H620.1V929.5H614.4zM81.5 929.5H87.1V935.1H81.5zM98.4 929.5H104.0V935.1H98.4zM109.7 929.5H115.3V935.1H109.7zM143.4 929.5H149.1V935.1H143.4zM529.4 929.5H535.1V935.1H529.4zM540.7 929.5H546.4V935.1H540.7zM591.7 929.5H597.4V935.1H591.7zM631.5 929.5H637.1V935.1H631.5zM115.3 935.1H120.9V940.8H115.3zM580.4 935.1H586.1V940.8H580.4zM648.5 935.1H654.0V940.8H648.5zM580.4 940.8H586.1V946.5H580.4zM591.7 940.8H597.4V946.5H591.7zM631.5 940.8H642.8V946.5H631.5zM81.5 946.5H87.1V952.1H81.5zM109.7 946.5H120.9V952.1H109.7zM512.4 946.5H518.1V952.1H512.4zM580.4 946.5H591.7V952.1H580.4zM625.8 946.5H637.1V952.1H625.8zM92.8 952.1H98.4V957.8H92.8zM115.3 952.1H120.9V957.8H115.3zM143.4 952.1H149.1V957.8H143.4zM489.8 952.1H495.5V957.8H489.8zM512.4 952.1H518.1V957.8H512.4zM614.4 952.1H620.1V957.8H614.4zM591.7 957.8H597.4V963.4H591.7zM608.8 957.8H614.4V963.4H608.8zM586.1 963.4H591.7V969.1H586.1zM597.4 963.4H603.1V969.1H597.4zM177.2 969.1H182.8V974.8H177.2zM535.1 969.1H540.7V974.8H535.1zM586.1 969.1H591.7V974.8H586.1zM614.4 969.1H620.1V974.8H614.4zM637.1 969.1H642.8V974.8H637.1zM109.7 974.8H120.9V980.4H109.7zM132.2 974.8H149.1V980.4H132.2zM154.7 974.8H160.3V980.4H154.7zM631.5 974.8H637.1V980.4H631.5zM92.8 980.4H98.4V986.1H92.8zM115.3 980.4H120.9V986.1H115.3zM233.1 980.4H238.7V986.1H233.1zM478.5 980.4H484.1V986.1H478.5zM597.4 980.4H603.1V986.1H597.4zM620.1 980.4H625.8V986.1H620.1zM637.1 980.4H642.8V986.1H637.1zM648.5 980.4H654.0V986.1H648.5zM149.1 986.1H154.7V991.8H149.1zM165.9 986.1H171.6V991.8H165.9zM177.2 986.1H182.8V991.8H177.2zM233.1 986.1H238.7V991.8H233.1zM143.4 991.8H149.1V997.4H143.4zM210.8 991.8H216.4V997.4H210.8zM580.4 991.8H586.1V997.4H580.4zM642.8 991.8H648.5V997.4H642.8zM109.7 997.4H115.3V1003.1H109.7zM149.1 997.4H154.7V1003.1H149.1zM160.3 997.4H165.9V1003.1H160.3zM529.4 997.4H535.1V1003.1H529.4zM81.5 1003.1H87.1V1008.7H81.5zM512.4 1003.1H518.1V1008.7H512.4zM540.7 1003.1H546.4V1008.7H540.7zM81.5 1008.7H92.8V1014.4H81.5zM98.4 1008.7H104.0V1014.4H98.4zM177.2 1008.7H188.5V1014.4H177.2zM637.1 1008.7H648.5V1014.4H637.1zM81.5 1014.4H87.1V1020.1H81.5zM109.7 1014.4H115.3V1020.1H109.7zM199.7 1014.4H205.2V1020.1H199.7zM523.8 1014.4H529.4V1020.1H523.8zM586.1 1014.4H591.7V1020.1H586.1zM631.5 1014.4H637.1V1020.1H631.5zM233.1 1020.1H238.7V1025.7H233.1zM637.1 1020.1H642.8V1025.7H637.1zM637.1 1025.7H642.8V1031.4H637.1zM92.8 1031.4H98.4V1037.0H92.8zM109.7 1031.4H115.3V1037.0H109.7zM120.9 1031.4H126.5V1037.0H120.9zM132.2 1031.4H137.8V1037.0H132.2zM529.4 1031.4H535.1V1037.0H529.4zM540.7 1031.4H546.4V1037.0H540.7zM87.1 1037.0H92.8V1042.7H87.1zM104.0 1037.0H109.7V1042.7H104.0zM115.3 1037.0H120.9V1042.7H115.3zM132.2 1037.0H137.8V1042.7H132.2zM177.2 1037.0H182.8V1042.7H177.2zM210.8 1037.0H222.0V1042.7H210.8zM266.5 1037.0H272.1V1042.7H266.5zM597.4 1037.0H603.1V1042.7H597.4zM205.2 1042.7H210.8V1048.4H205.2zM233.1 1042.7H238.7V1048.4H233.1zM529.4 1042.7H535.1V1048.4H529.4zM81.5 1048.4H87.1V1054.0H81.5zM98.4 1048.4H104.0V1054.0H98.4zM109.7 1048.4H115.3V1054.0H109.7zM216.4 1048.4H222.0V1054.0H216.4zM249.8 1048.4H255.4V1054.0H249.8zM316.7 1048.4H322.2V1054.0H316.7zM188.5 1054.0H194.1V1059.7H188.5zM205.2 1054.0H210.8V1059.7H205.2zM81.5 1065.4H87.1V1071.1H81.5zM92.8 1065.4H98.4V1071.1H92.8zM165.9 1065.4H171.6V1071.1H165.9zM216.4 1065.4H222.0V1071.1H216.4zM238.7 1065.4H249.8V1071.1H238.7zM523.8 1065.4H529.4V1071.1H523.8zM648.5 1065.4H654.0V1071.1H648.5zM87.1 1071.1H98.4V1076.8H87.1zM165.9 1071.1H171.6V1076.8H165.9zM222.0 1071.1H227.5V1076.8H222.0zM160.3 1076.8H165.9V1082.5H160.3zM322.2 1076.8H327.8V1082.5H322.2zM383.5 1076.8H389.1V1082.5H383.5zM637.1 1076.8H642.8V1082.5H637.1zM98.4 1082.5H104.0V1088.2H98.4zM115.3 1082.5H120.9V1088.2H115.3zM154.7 1082.5H160.3V1088.2H154.7zM216.4 1082.5H222.0V1088.2H216.4zM631.5 1082.5H637.1V1088.2H631.5zM109.7 1088.2H115.3V1094.0H109.7zM137.8 1088.2H143.4V1094.0H137.8zM233.1 1088.2H238.7V1094.0H233.1zM249.8 1088.2H260.9V1094.0H249.8zM266.5 1088.2H277.7V1094.0H266.5zM294.4 1088.2H299.9V1094.0H294.4zM355.7 1088.2H361.2V1094.0H355.7zM614.4 1088.2H620.1V1094.0H614.4zM642.8 1088.2H648.5V1094.0H642.8zM165.9 1094.0H171.6V1099.7H165.9zM177.2 1094.0H182.8V1099.7H177.2zM227.5 1094.0H233.1V1099.7H227.5zM244.2 1094.0H249.8V1099.7H244.2zM277.7 1094.0H283.2V1099.7H277.7zM327.8 1094.0H333.4V1099.7H327.8zM625.8 1094.0H631.5V1099.7H625.8zM637.1 1094.0H642.8V1099.7H637.1zM104.0 1099.7H109.7V1105.4H104.0zM177.2 1099.7H182.8V1105.4H177.2zM255.4 1099.7H260.9V1105.4H255.4zM272.1 1099.7H283.2V1105.4H272.1zM288.8 1099.7H294.4V1105.4H288.8zM171.6 1105.4H177.2V1111.1H171.6zM182.8 1105.4H188.5V1111.1H182.8zM205.2 1105.4H210.8V1111.1H205.2zM614.4 1105.4H625.8V1111.1H614.4zM104.0 1111.1H109.7V1116.8H104.0zM120.9 1111.1H126.5V1116.8H120.9zM188.5 1111.1H194.1V1116.8H188.5zM210.8 1111.1H216.4V1116.8H210.8zM255.4 1111.1H260.9V1116.8H255.4zM350.1 1111.1H361.2V1116.8H350.1zM405.8 1111.1H411.4V1116.8H405.8zM642.8 1111.1H648.5V1116.8H642.8zM92.8 1116.8H98.4V1122.5H92.8zM177.2 1116.8H182.8V1122.5H177.2zM199.7 1116.8H205.2V1122.5H199.7zM637.1 1116.8H642.8V1122.5H637.1zM132.2 1122.5H137.8V1128.2H132.2zM149.1 1122.5H154.7V1128.2H149.1zM171.6 1122.5H177.2V1128.2H171.6zM199.7 1122.5H205.2V1128.2H199.7zM210.8 1122.5H216.4V1128.2H210.8zM266.5 1122.5H272.1V1128.2H266.5zM277.7 1122.5H283.2V1128.2H277.7zM416.9 1122.5H422.5V1128.2H416.9zM467.2 1122.5H472.8V1128.2H467.2zM115.3 1128.2H120.9V1133.9H115.3zM165.9 1128.2H171.6V1133.9H165.9zM233.1 1128.2H238.7V1133.9H233.1zM249.8 1128.2H255.4V1133.9H249.8zM266.5 1128.2H272.1V1133.9H266.5zM333.4 1128.2H338.9V1133.9H333.4zM400.2 1128.2H405.8V1133.9H400.2zM433.6 1128.2H439.2V1133.9H433.6zM444.8 1128.2H450.4V1133.9H444.8zM104.0 1133.9H109.7V1139.6H104.0zM227.5 1133.9H233.1V1139.6H227.5zM327.8 1133.9H333.4V1139.6H327.8zM372.4 1133.9H377.9V1139.6H372.4zM620.1 1133.9H625.8V1139.6H620.1zM132.2 1139.6H137.8V1145.4H132.2zM171.6 1139.6H177.2V1145.4H171.6zM210.8 1139.6H216.4V1145.4H210.8zM233.1 1139.6H244.2V1145.4H233.1zM299.9 1139.6H305.5V1145.4H299.9zM333.4 1139.6H338.9V1145.4H333.4zM405.8 1139.6H411.4V1145.4H405.8zM433.6 1139.6H439.2V1145.4H433.6zM614.4 1139.6H620.1V1145.4H614.4zM637.1 1139.6H642.8V1145.4H637.1zM149.1 1145.4H154.7V1151.1H149.1zM216.4 1145.4H222.0V1151.1H216.4zM277.7 1145.4H283.2V1151.1H277.7zM327.8 1145.4H333.4V1151.1H327.8zM120.9 1151.1H126.5V1156.8H120.9zM210.8 1151.1H216.4V1156.8H210.8zM311.1 1151.1H316.7V1156.8H311.1zM322.2 1151.1H327.8V1156.8H322.2zM87.1 1156.8H92.8V1162.5H87.1zM98.4 1156.8H104.0V1162.5H98.4zM115.3 1156.8H120.9V1162.5H115.3zM165.9 1156.8H177.2V1162.5H165.9zM199.7 1156.8H205.2V1162.5H199.7zM233.1 1156.8H238.7V1162.5H233.1zM305.5 1156.8H311.1V1162.5H305.5zM255.4 1162.5H260.9V1168.2H255.4zM648.5 1162.5H654.0V1168.2H648.5zM199.7 1168.2H205.2V1173.9H199.7zM216.4 1168.2H222.0V1173.9H216.4zM233.1 1168.2H238.7V1173.9H233.1zM260.9 1168.2H266.5V1173.9H260.9zM92.8 1179.5H98.4V1185.2H92.8zM104.0 1179.5H109.7V1185.2H104.0zM149.1 1179.5H160.3V1185.2H149.1zM165.9 1179.5H171.6V1185.2H165.9zM205.2 1179.5H210.8V1185.2H205.2zM216.4 1179.5H222.0V1185.2H216.4zM233.1 1179.5H238.7V1185.2H233.1zM299.9 1179.5H305.5V1185.2H299.9zM338.9 1179.5H355.7V1185.2H338.9zM394.6 1179.5H400.2V1185.2H394.6zM154.7 1185.2H160.3V1190.8H154.7zM233.1 1185.2H238.7V1190.8H233.1zM255.4 1185.2H266.5V1190.8H255.4zM294.4 1185.2H299.9V1190.8H294.4zM350.1 1185.2H355.7V1190.8H350.1zM366.8 1185.2H377.9V1190.8H366.8zM416.9 1185.2H422.5V1190.8H416.9zM87.1 1190.8H98.4V1196.4H87.1zM132.2 1190.8H137.8V1196.4H132.2zM205.2 1190.8H216.4V1196.4H205.2zM227.5 1190.8H233.1V1196.4H227.5zM238.7 1190.8H244.2V1196.4H238.7zM277.7 1190.8H283.2V1196.4H277.7zM305.5 1190.8H311.1V1196.4H305.5zM333.4 1190.8H338.9V1196.4H333.4zM344.5 1190.8H350.1V1196.4H344.5zM361.2 1190.8H366.8V1196.4H361.2zM87.1 1196.4H92.8V1202.1H87.1zM120.9 1196.4H126.5V1202.1H120.9zM165.9 1196.4H171.6V1202.1H165.9zM182.8 1196.4H188.5V1202.1H182.8zM199.7 1196.4H205.2V1202.1H199.7zM366.8 1196.4H372.4V1202.1H366.8zM383.5 1196.4H389.1V1202.1H383.5zM439.2 1196.4H444.8V1202.1H439.2zM132.2 1202.1H137.8V1207.7H132.2zM205.2 1202.1H210.8V1207.7H205.2zM233.1 1202.1H238.7V1207.7H233.1zM255.4 1202.1H260.9V1207.7H255.4zM87.1 1207.7H92.8V1213.3H87.1zM132.2 1207.7H137.8V1213.3H132.2zM160.3 1207.7H165.9V1213.3H160.3zM216.4 1207.7H222.0V1213.3H216.4zM277.7 1207.7H288.8V1213.3H277.7zM361.2 1207.7H366.8V1213.3H361.2zM648.5 1207.7H654.0V1213.3H648.5zM92.8 1213.3H98.4V1219.0H92.8zM149.1 1213.3H154.7V1219.0H149.1zM171.6 1213.3H177.2V1219.0H171.6zM199.7 1213.3H205.2V1219.0H199.7zM294.4 1213.3H299.9V1219.0H294.4zM327.8 1213.3H333.4V1219.0H327.8zM355.7 1213.3H361.2V1219.0H355.7zM372.4 1213.3H377.9V1219.0H372.4zM489.8 1213.3H495.5V1219.0H489.8zM506.8 1213.3H512.4V1219.0H506.8zM540.7 1213.3H546.4V1219.0H540.7zM87.1 1219.0H92.8V1224.6H87.1zM109.7 1219.0H120.9V1224.6H109.7zM222.0 1219.0H227.5V1224.6H222.0zM288.8 1219.0H294.4V1224.6H288.8zM383.5 1219.0H389.1V1224.6H383.5zM506.8 1219.0H512.4V1224.6H506.8zM535.1 1219.0H540.7V1224.6H535.1zM87.1 1224.6H92.8V1230.3H87.1zM115.3 1224.6H120.9V1230.3H115.3zM132.2 1224.6H137.8V1230.3H132.2zM171.6 1224.6H177.2V1230.3H171.6zM182.8 1224.6H188.5V1230.3H182.8zM222.0 1224.6H227.5V1230.3H222.0zM244.2 1224.6H249.8V1230.3H244.2zM277.7 1224.6H283.2V1230.3H277.7zM350.1 1224.6H355.7V1230.3H350.1zM495.5 1224.6H501.1V1230.3H495.5zM87.1 1230.3H92.8V1235.9H87.1zM98.4 1230.3H104.0V1235.9H98.4zM143.4 1230.3H149.1V1235.9H143.4zM177.2 1230.3H182.8V1235.9H177.2zM210.8 1230.3H216.4V1235.9H210.8zM227.5 1230.3H233.1V1235.9H227.5zM255.4 1230.3H260.9V1235.9H255.4zM333.4 1230.3H338.9V1235.9H333.4zM344.5 1230.3H355.7V1235.9H344.5zM377.9 1230.3H383.5V1235.9H377.9zM416.9 1230.3H422.5V1235.9H416.9zM484.1 1230.3H489.8V1235.9H484.1zM154.7 1235.9H165.9V1241.5H154.7zM177.2 1235.9H182.8V1241.5H177.2zM210.8 1235.9H216.4V1241.5H210.8zM227.5 1235.9H233.1V1241.5H227.5zM260.9 1235.9H266.5V1241.5H260.9zM288.8 1235.9H294.4V1241.5H288.8zM311.1 1235.9H316.7V1241.5H311.1zM344.5 1235.9H350.1V1241.5H344.5zM372.4 1235.9H377.9V1241.5H372.4zM383.5 1235.9H389.1V1241.5H383.5zM411.4 1235.9H416.9V1241.5H411.4zM422.5 1235.9H433.6V1241.5H422.5zM478.5 1235.9H484.1V1241.5H478.5zM495.5 1235.9H501.1V1241.5H495.5zM518.1 1235.9H523.8V1241.5H518.1zM540.7 1235.9H546.4V1241.5H540.7zM177.2 1241.5H182.8V1247.2H177.2zM205.2 1241.5H210.8V1247.2H205.2zM216.4 1241.5H222.0V1247.2H216.4zM255.4 1241.5H260.9V1247.2H255.4zM394.6 1241.5H400.2V1247.2H394.6zM411.4 1241.5H416.9V1247.2H411.4zM489.8 1241.5H495.5V1247.2H489.8zM512.4 1241.5H518.1V1247.2H512.4zM648.5 1241.5H654.0V1247.2H648.5zM154.7 1247.2H160.3V1252.8H154.7zM177.2 1247.2H182.8V1252.8H177.2zM389.1 1247.2H394.6V1252.8H389.1zM400.2 1247.2H405.8V1252.8H400.2zM450.4 1247.2H455.9V1252.8H450.4zM472.8 1247.2H484.1V1252.8H472.8zM546.4 1247.2H552.1V1252.8H546.4zM648.5 1247.2H654.0V1252.8H648.5zM137.8 1252.8H143.4V1258.4H137.8zM316.7 1252.8H322.2V1258.4H316.7zM350.1 1252.8H355.7V1258.4H350.1zM361.2 1252.8H366.8V1258.4H361.2zM518.1 1252.8H523.8V1258.4H518.1zM529.4 1252.8H535.1V1258.4H529.4zM563.4 1252.8H569.0V1258.4H563.4zM574.7 1252.8H586.1V1258.4H574.7zM591.7 1252.8H597.4V1258.4H591.7zM620.1 1252.8H625.8V1258.4H620.1zM642.8 1252.8H648.5V1258.4H642.8z"/><path fill="#fcadac" d="M160.3 679.3H165.9V685.0H160.3zM171.6 679.3H177.2V685.0H171.6zM244.2 679.3H249.8V685.0H244.2zM333.4 679.3H344.5V685.0H333.4zM372.4 679.3H377.9V685.0H372.4zM389.1 679.3H394.6V685.0H389.1zM455.9 679.3H461.5V685.0H455.9zM478.5 679.3H484.1V685.0H478.5zM506.8 679.3H518.1V685.0H506.8zM546.4 679.3H552.1V685.0H546.4zM569.0 679.3H574.7V685.0H569.0zM104.0 685.0H109.7V690.7H104.0zM143.4 685.0H149.1V690.7H143.4zM177.2 685.0H182.8V690.7H177.2zM227.5 685.0H238.7V690.7H227.5zM266.5 685.0H272.1V690.7H266.5zM288.8 685.0H299.9V690.7H288.8zM316.7 685.0H322.2V690.7H316.7zM333.4 685.0H338.9V690.7H333.4zM366.8 685.0H372.4V690.7H366.8zM422.5 685.0H428.1V690.7H422.5zM478.5 685.0H484.1V690.7H478.5zM489.8 685.0H495.5V690.7H489.8zM512.4 685.0H518.1V690.7H512.4zM557.7 685.0H563.4V690.7H557.7zM608.8 685.0H614.4V690.7H608.8zM620.1 685.0H631.5V690.7H620.1zM109.7 690.7H115.3V696.4H109.7zM222.0 690.7H233.1V696.4H222.0zM299.9 690.7H305.5V696.4H299.9zM322.2 690.7H327.8V696.4H322.2zM338.9 690.7H350.1V696.4H338.9zM400.2 690.7H405.8V696.4H400.2zM467.2 690.7H472.8V696.4H467.2zM512.4 690.7H518.1V696.4H512.4zM597.4 690.7H603.1V696.4H597.4zM92.8 696.4H98.4V702.2H92.8zM137.8 696.4H143.4V702.2H137.8zM188.5 696.4H194.1V702.2H188.5zM216.4 696.4H222.0V702.2H216.4zM227.5 696.4H238.7V702.2H227.5zM255.4 696.4H260.9V702.2H255.4zM272.1 696.4H283.2V702.2H272.1zM305.5 696.4H311.1V702.2H305.5zM361.2 696.4H366.8V702.2H361.2zM377.9 696.4H383.5V702.2H377.9zM405.8 696.4H416.9V702.2H405.8zM478.5 696.4H484.1V702.2H478.5zM614.4 696.4H620.1V702.2H614.4zM631.5 696.4H637.1V702.2H631.5zM98.4 702.2H104.0V707.9H98.4zM177.2 702.2H182.8V707.9H177.2zM366.8 702.2H372.4V707.9H366.8zM439.2 702.2H444.8V707.9H439.2zM484.1 702.2H489.8V707.9H484.1zM506.8 702.2H512.4V707.9H506.8zM563.4 702.2H569.0V707.9H563.4zM333.4 707.9H338.9V713.6H333.4zM361.2 707.9H366.8V713.6H361.2zM501.1 707.9H506.8V713.6H501.1zM501.1 713.6H506.8V719.3H501.1zM557.7 713.6H563.4V719.3H557.7zM294.4 719.3H299.9V725.0H294.4zM569.0 719.3H574.7V725.0H569.0zM177.2 725.0H182.8V730.7H177.2zM210.8 725.0H216.4V730.7H210.8zM233.1 725.0H238.7V730.7H233.1zM283.2 725.0H288.8V730.7H283.2zM294.4 725.0H299.9V730.7H294.4zM316.7 725.0H322.2V730.7H316.7zM327.8 725.0H333.4V730.7H327.8zM344.5 725.0H350.1V730.7H344.5zM372.4 725.0H377.9V730.7H372.4zM450.4 725.0H461.5V730.7H450.4zM472.8 725.0H484.1V730.7H472.8zM489.8 725.0H495.5V730.7H489.8zM501.1 725.0H506.8V730.7H501.1zM557.7 725.0H563.4V730.7H557.7zM104.0 730.7H109.7V736.5H104.0zM227.5 730.7H233.1V736.5H227.5zM288.8 730.7H294.4V736.5H288.8zM350.1 730.7H361.2V736.5H350.1zM433.6 730.7H439.2V736.5H433.6zM472.8 730.7H478.5V736.5H472.8zM484.1 730.7H489.8V736.5H484.1zM506.8 730.7H512.4V736.5H506.8zM586.1 730.7H591.7V736.5H586.1zM631.5 730.7H637.1V736.5H631.5zM81.5 736.5H87.1V742.2H81.5zM92.8 736.5H98.4V742.2H92.8zM165.9 736.5H171.6V742.2H165.9zM227.5 736.5H238.7V742.2H227.5zM255.4 736.5H260.9V742.2H255.4zM277.7 736.5H288.8V742.2H277.7zM311.1 736.5H316.7V742.2H311.1zM366.8 736.5H372.4V742.2H366.8zM389.1 736.5H394.6V742.2H389.1zM455.9 736.5H461.5V742.2H455.9zM501.1 736.5H506.8V742.2H501.1zM529.4 736.5H535.1V742.2H529.4zM552.1 736.5H557.7V742.2H552.1zM608.8 736.5H614.4V742.2H608.8zM625.8 736.5H631.5V742.2H625.8zM165.9 742.2H171.6V747.9H165.9zM266.5 742.2H272.1V747.9H266.5zM288.8 742.2H294.4V747.9H288.8zM299.9 742.2H305.5V747.9H299.9zM333.4 742.2H338.9V747.9H333.4zM428.1 742.2H433.6V747.9H428.1zM455.9 742.2H461.5V747.9H455.9zM484.1 742.2H489.8V747.9H484.1zM540.7 742.2H546.4V747.9H540.7zM552.1 742.2H557.7V747.9H552.1zM400.2 747.9H405.8V753.6H400.2zM416.9 747.9H422.5V753.6H416.9zM478.5 747.9H484.1V753.6H478.5zM495.5 747.9H501.1V753.6H495.5zM512.4 747.9H518.1V753.6H512.4zM597.4 747.9H603.1V753.6H597.4zM614.4 747.9H620.1V753.6H614.4zM87.1 753.6H92.8V759.3H87.1zM227.5 753.6H238.7V759.3H227.5zM266.5 753.6H272.1V759.3H266.5zM299.9 753.6H305.5V759.3H299.9zM322.2 753.6H333.4V759.3H322.2zM355.7 753.6H361.2V759.3H355.7zM439.2 753.6H455.9V759.3H439.2zM467.2 753.6H472.8V759.3H467.2zM484.1 753.6H495.5V759.3H484.1zM523.8 753.6H529.4V759.3H523.8zM580.4 753.6H586.1V759.3H580.4zM591.7 753.6H608.8V759.3H591.7zM143.4 759.3H154.7V765.0H143.4zM171.6 759.3H177.2V765.0H171.6zM216.4 759.3H222.0V765.0H216.4zM294.4 759.3H299.9V765.0H294.4zM311.1 759.3H316.7V765.0H311.1zM333.4 759.3H338.9V765.0H333.4zM344.5 759.3H350.1V765.0H344.5zM372.4 759.3H389.1V765.0H372.4zM400.2 759.3H405.8V765.0H400.2zM433.6 759.3H450.4V765.0H433.6zM478.5 759.3H484.1V765.0H478.5zM512.4 759.3H529.4V765.0H512.4zM540.7 759.3H552.1V765.0H540.7zM569.0 759.3H574.7V765.0H569.0zM603.1 759.3H608.8V765.0H603.1zM631.5 759.3H637.1V765.0H631.5zM81.5 765.0H92.8V770.8H81.5zM165.9 765.0H171.6V770.8H165.9zM227.5 765.0H233.1V770.8H227.5zM361.2 765.0H366.8V770.8H361.2zM389.1 765.0H400.2V770.8H389.1zM405.8 765.0H411.4V770.8H405.8zM422.5 765.0H433.6V770.8H422.5zM439.2 765.0H444.8V770.8H439.2zM518.1 765.0H523.8V770.8H518.1zM546.4 765.0H552.1V770.8H546.4zM591.7 765.0H603.1V770.8H591.7zM608.8 765.0H614.4V770.8H608.8zM631.5 765.0H637.1V770.8H631.5zM92.8 770.8H98.4V776.5H92.8zM109.7 770.8H115.3V776.5H109.7zM132.2 770.8H137.8V776.5H132.2zM244.2 770.8H249.8V776.5H244.2zM283.2 770.8H288.8V776.5H283.2zM355.7 770.8H361.2V776.5H355.7zM383.5 770.8H389.1V776.5H383.5zM422.5 770.8H428.1V776.5H422.5zM489.8 770.8H495.5V776.5H489.8zM506.8 770.8H518.1V776.5H506.8zM311.1 776.5H316.7V782.2H311.1zM372.4 776.5H377.9V782.2H372.4zM478.5 776.5H484.1V782.2H478.5zM489.8 776.5H495.5V782.2H489.8zM512.4 776.5H518.1V782.2H512.4zM523.8 776.5H529.4V782.2H523.8zM546.4 776.5H552.1V782.2H546.4zM557.7 776.5H569.0V782.2H557.7zM591.7 776.5H597.4V782.2H591.7zM614.4 776.5H620.1V782.2H614.4zM637.1 776.5H648.5V782.2H637.1zM104.0 782.2H109.7V787.9H104.0zM199.7 782.2H205.2V787.9H199.7zM283.2 782.2H288.8V787.9H283.2zM394.6 782.2H400.2V787.9H394.6zM489.8 782.2H512.4V787.9H489.8zM529.4 782.2H535.1V787.9H529.4zM563.4 782.2H569.0V787.9H563.4zM591.7 782.2H603.1V787.9H591.7zM642.8 782.2H654.0V787.9H642.8zM81.5 793.6H87.1V799.2H81.5zM188.5 793.6H194.1V799.2H188.5zM333.4 793.6H338.9V799.2H333.4zM344.5 793.6H350.1V799.2H344.5zM422.5 793.6H428.1V799.2H422.5zM455.9 793.6H461.5V799.2H455.9zM484.1 793.6H506.8V799.2H484.1zM529.4 793.6H535.1V799.2H529.4zM620.1 793.6H625.8V799.2H620.1zM631.5 793.6H637.1V799.2H631.5zM299.9 799.2H305.5V804.9H299.9zM355.7 799.2H361.2V804.9H355.7zM439.2 799.2H444.8V804.9H439.2zM450.4 799.2H455.9V804.9H450.4zM467.2 799.2H472.8V804.9H467.2zM484.1 799.2H489.8V804.9H484.1zM501.1 799.2H506.8V804.9H501.1zM512.4 799.2H529.4V804.9H512.4zM552.1 799.2H563.4V804.9H552.1zM597.4 799.2H603.1V804.9H597.4zM132.2 804.9H137.8V810.5H132.2zM222.0 804.9H227.5V810.5H222.0zM277.7 804.9H283.2V810.5H277.7zM294.4 804.9H299.9V810.5H294.4zM333.4 804.9H338.9V810.5H333.4zM350.1 804.9H355.7V810.5H350.1zM361.2 804.9H366.8V810.5H361.2zM506.8 804.9H512.4V810.5H506.8zM518.1 804.9H523.8V810.5H518.1zM557.7 804.9H563.4V810.5H557.7zM620.1 804.9H625.8V810.5H620.1zM104.0 810.5H109.7V816.2H104.0zM165.9 810.5H171.6V816.2H165.9zM299.9 810.5H305.5V816.2H299.9zM316.7 810.5H322.2V816.2H316.7zM501.1 810.5H523.8V816.2H501.1zM586.1 810.5H591.7V816.2H586.1zM637.1 810.5H642.8V816.2H637.1zM98.4 816.2H104.0V821.9H98.4zM210.8 816.2H216.4V821.9H210.8zM433.6 816.2H439.2V821.9H433.6zM484.1 816.2H489.8V821.9H484.1zM495.5 816.2H506.8V821.9H495.5zM586.1 816.2H591.7V821.9H586.1zM631.5 816.2H637.1V821.9H631.5zM81.5 821.9H87.1V827.5H81.5zM92.8 821.9H109.7V827.5H92.8zM137.8 821.9H149.1V827.5H137.8zM160.3 821.9H165.9V827.5H160.3zM171.6 821.9H177.2V827.5H171.6zM394.6 821.9H400.2V827.5H394.6zM405.8 821.9H411.4V827.5H405.8zM529.4 821.9H535.1V827.5H529.4zM608.8 821.9H614.4V827.5H608.8zM642.8 821.9H648.5V827.5H642.8zM92.8 827.5H98.4V833.2H92.8zM104.0 827.5H109.7V833.2H104.0zM132.2 827.5H137.8V833.2H132.2zM143.4 827.5H149.1V833.2H143.4zM160.3 827.5H165.9V833.2H160.3zM299.9 827.5H305.5V833.2H299.9zM327.8 827.5H333.4V833.2H327.8zM377.9 827.5H383.5V833.2H377.9zM405.8 827.5H411.4V833.2H405.8zM416.9 827.5H422.5V833.2H416.9zM428.1 827.5H433.6V833.2H428.1zM455.9 827.5H461.5V833.2H455.9zM478.5 827.5H484.1V833.2H478.5zM501.1 827.5H506.8V833.2H501.1zM546.4 827.5H552.1V833.2H546.4zM563.4 827.5H569.0V833.2H563.4zM608.8 827.5H625.8V833.2H608.8zM642.8 827.5H648.5V833.2H642.8zM81.5 833.2H87.1V838.9H81.5zM366.8 833.2H372.4V838.9H366.8zM377.9 833.2H383.5V838.9H377.9zM422.5 833.2H428.1V838.9H422.5zM450.4 833.2H461.5V838.9H450.4zM529.4 833.2H535.1V838.9H529.4zM546.4 833.2H552.1V838.9H546.4zM586.1 833.2H591.7V838.9H586.1zM642.8 833.2H648.5V838.9H642.8zM87.1 838.9H92.8V844.5H87.1zM177.2 838.9H182.8V844.5H177.2zM350.1 838.9H355.7V844.5H350.1zM411.4 838.9H416.9V844.5H411.4zM444.8 838.9H450.4V844.5H444.8zM472.8 838.9H478.5V844.5H472.8zM484.1 838.9H489.8V844.5H484.1zM529.4 838.9H535.1V844.5H529.4zM540.7 838.9H546.4V844.5H540.7zM552.1 838.9H557.7V844.5H552.1zM563.4 838.9H569.0V844.5H563.4zM597.4 838.9H603.1V844.5H597.4zM631.5 838.9H637.1V844.5H631.5zM648.5 838.9H654.0V844.5H648.5zM411.4 844.5H416.9V850.2H411.4zM455.9 844.5H461.5V850.2H455.9zM472.8 844.5H478.5V850.2H472.8zM495.5 844.5H501.1V850.2H495.5zM506.8 844.5H512.4V850.2H506.8zM540.7 844.5H546.4V850.2H540.7zM557.7 844.5H563.4V850.2H557.7zM586.1 844.5H597.4V850.2H586.1zM614.4 844.5H620.1V850.2H614.4zM625.8 844.5H631.5V850.2H625.8zM642.8 844.5H648.5V850.2H642.8zM104.0 850.2H109.7V855.9H104.0zM143.4 850.2H149.1V855.9H143.4zM455.9 850.2H461.5V855.9H455.9zM467.2 850.2H472.8V855.9H467.2zM506.8 850.2H512.4V855.9H506.8zM546.4 850.2H552.1V855.9H546.4zM597.4 850.2H603.1V855.9H597.4zM648.5 850.2H654.0V855.9H648.5zM416.9 855.9H422.5V861.5H416.9zM450.4 855.9H455.9V861.5H450.4zM552.1 855.9H557.7V861.5H552.1zM625.8 855.9H631.5V861.5H625.8zM642.8 855.9H648.5V861.5H642.8zM92.8 861.5H98.4V867.2H92.8zM149.1 861.5H154.7V867.2H149.1zM160.3 861.5H165.9V867.2H160.3zM433.6 861.5H439.2V867.2H433.6zM455.9 861.5H461.5V867.2H455.9zM518.1 861.5H523.8V867.2H518.1zM535.1 861.5H540.7V867.2H535.1zM580.4 861.5H586.1V867.2H580.4zM591.7 861.5H597.4V867.2H591.7zM81.5 867.2H87.1V872.8H81.5zM104.0 867.2H109.7V872.8H104.0zM506.8 867.2H523.8V872.8H506.8zM540.7 867.2H552.1V872.8H540.7zM603.1 867.2H608.8V872.8H603.1zM104.0 872.8H109.7V878.5H104.0zM143.4 872.8H149.1V878.5H143.4zM210.8 872.8H216.4V878.5H210.8zM450.4 872.8H455.9V878.5H450.4zM512.4 872.8H523.8V878.5H512.4zM540.7 872.8H546.4V878.5H540.7zM557.7 872.8H563.4V878.5H557.7zM132.2 878.5H137.8V884.2H132.2zM143.4 878.5H149.1V884.2H143.4zM177.2 878.5H182.8V884.2H177.2zM188.5 878.5H194.1V884.2H188.5zM484.1 878.5H489.8V884.2H484.1zM512.4 878.5H518.1V884.2H512.4zM563.4 878.5H569.0V884.2H563.4zM614.4 878.5H620.1V884.2H614.4zM625.8 878.5H637.1V884.2H625.8zM92.8 884.2H98.4V889.8H92.8zM137.8 884.2H143.4V889.8H137.8zM149.1 884.2H154.7V889.8H149.1zM383.5 884.2H389.1V889.8H383.5zM478.5 884.2H484.1V889.8H478.5zM512.4 884.2H518.1V889.8H512.4zM523.8 884.2H529.4V889.8H523.8zM591.7 884.2H603.1V889.8H591.7zM92.8 889.8H98.4V895.5H92.8zM126.5 889.8H137.8V895.5H126.5zM165.9 889.8H171.6V895.5H165.9zM210.8 889.8H216.4V895.5H210.8zM478.5 889.8H489.8V895.5H478.5zM529.4 889.8H540.7V895.5H529.4zM557.7 889.8H563.4V895.5H557.7zM603.1 889.8H608.8V895.5H603.1zM631.5 889.8H642.8V895.5H631.5zM81.5 895.5H87.1V901.1H81.5zM98.4 895.5H104.0V901.1H98.4zM149.1 895.5H154.7V901.1H149.1zM160.3 895.5H165.9V901.1H160.3zM205.2 895.5H210.8V901.1H205.2zM216.4 895.5H222.0V901.1H216.4zM233.1 895.5H238.7V901.1H233.1zM389.1 895.5H394.6V901.1H389.1zM472.8 895.5H484.1V901.1H472.8zM489.8 895.5H495.5V901.1H489.8zM506.8 895.5H523.8V901.1H506.8zM620.1 895.5H625.8V901.1H620.1zM104.0 901.1H109.7V906.8H104.0zM433.6 901.1H439.2V906.8H433.6zM518.1 901.1H529.4V906.8H518.1zM535.1 901.1H540.7V906.8H535.1zM546.4 901.1H552.1V906.8H546.4zM569.0 901.1H574.7V906.8H569.0zM586.1 901.1H591.7V906.8H586.1zM597.4 901.1H603.1V906.8H597.4zM608.8 901.1H614.4V906.8H608.8zM625.8 901.1H631.5V906.8H625.8zM143.4 906.8H149.1V912.5H143.4zM165.9 906.8H171.6V912.5H165.9zM182.8 906.8H188.5V912.5H182.8zM467.2 906.8H472.8V912.5H467.2zM540.7 906.8H546.4V912.5H540.7zM580.4 906.8H586.1V912.5H580.4zM603.1 906.8H614.4V912.5H603.1zM642.8 906.8H648.5V912.5H642.8zM92.8 912.5H98.4V918.1H92.8zM132.2 912.5H137.8V918.1H132.2zM216.4 912.5H222.0V918.1H216.4zM495.5 912.5H501.1V918.1H495.5zM506.8 912.5H512.4V918.1H506.8zM540.7 912.5H546.4V918.1H540.7zM557.7 912.5H563.4V918.1H557.7zM580.4 912.5H586.1V918.1H580.4zM603.1 912.5H614.4V918.1H603.1zM642.8 912.5H648.5V918.1H642.8zM98.4 918.1H104.0V923.8H98.4zM160.3 918.1H165.9V923.8H160.3zM501.1 918.1H506.8V923.8H501.1zM535.1 918.1H540.7V923.8H535.1zM563.4 918.1H569.0V923.8H563.4zM608.8 918.1H614.4V923.8H608.8zM620.1 918.1H625.8V923.8H620.1zM132.2 923.8H137.8V929.5H132.2zM160.3 923.8H165.9V929.5H160.3zM233.1 923.8H238.7V929.5H233.1zM478.5 923.8H484.1V929.5H478.5zM512.4 923.8H518.1V929.5H512.4zM523.8 923.8H535.1V929.5H523.8zM540.7 923.8H546.4V929.5H540.7zM563.4 923.8H569.0V929.5H563.4zM597.4 923.8H603.1V929.5H597.4zM642.8 923.8H648.5V929.5H642.8zM87.1 929.5H98.4V935.1H87.1zM115.3 929.5H120.9V935.1H115.3zM149.1 929.5H154.7V935.1H149.1zM165.9 929.5H171.6V935.1H165.9zM199.7 929.5H205.2V935.1H199.7zM210.8 929.5H216.4V935.1H210.8zM512.4 929.5H523.8V935.1H512.4zM642.8 929.5H648.5V935.1H642.8zM87.1 935.1H92.8V940.8H87.1zM98.4 935.1H104.0V940.8H98.4zM377.9 935.1H383.5V940.8H377.9zM529.4 935.1H546.4V940.8H529.4zM552.1 935.1H557.7V940.8H552.1zM614.4 935.1H620.1V940.8H614.4zM625.8 935.1H631.5V940.8H625.8zM642.8 935.1H648.5V940.8H642.8zM98.4 940.8H104.0V946.5H98.4zM132.2 940.8H137.8V946.5H132.2zM165.9 940.8H171.6V946.5H165.9zM199.7 940.8H205.2V946.5H199.7zM478.5 940.8H484.1V946.5H478.5zM495.5 940.8H501.1V946.5H495.5zM518.1 940.8H523.8V946.5H518.1zM529.4 940.8H535.1V946.5H529.4zM540.7 940.8H546.4V946.5H540.7zM642.8 940.8H648.5V946.5H642.8zM137.8 946.5H143.4V952.1H137.8zM210.8 946.5H216.4V952.1H210.8zM244.2 946.5H249.8V952.1H244.2zM455.9 946.5H461.5V952.1H455.9zM484.1 946.5H489.8V952.1H484.1zM501.1 946.5H506.8V952.1H501.1zM540.7 946.5H546.4V952.1H540.7zM637.1 946.5H642.8V952.1H637.1zM137.8 952.1H143.4V957.8H137.8zM160.3 952.1H165.9V957.8H160.3zM177.2 952.1H182.8V957.8H177.2zM205.2 952.1H210.8V957.8H205.2zM518.1 952.1H523.8V957.8H518.1zM540.7 952.1H546.4V957.8H540.7zM552.1 952.1H557.7V957.8H552.1zM625.8 952.1H631.5V957.8H625.8zM642.8 952.1H648.5V957.8H642.8zM81.5 957.8H87.1V963.4H81.5zM104.0 957.8H109.7V963.4H104.0zM115.3 957.8H120.9V963.4H115.3zM171.6 957.8H177.2V963.4H171.6zM210.8 957.8H216.4V963.4H210.8zM552.1 957.8H569.0V963.4H552.1zM597.4 957.8H608.8V963.4H597.4zM625.8 957.8H648.5V963.4H625.8zM92.8 963.4H98.4V969.1H92.8zM109.7 963.4H115.3V969.1H109.7zM143.4 963.4H149.1V969.1H143.4zM238.7 963.4H244.2V969.1H238.7zM501.1 963.4H506.8V969.1H501.1zM529.4 963.4H535.1V969.1H529.4zM540.7 963.4H546.4V969.1H540.7zM580.4 963.4H586.1V969.1H580.4zM591.7 963.4H597.4V969.1H591.7zM614.4 963.4H620.1V969.1H614.4zM637.1 963.4H642.8V969.1H637.1zM87.1 969.1H92.8V974.8H87.1zM132.2 969.1H137.8V974.8H132.2zM165.9 969.1H171.6V974.8H165.9zM182.8 969.1H188.5V974.8H182.8zM455.9 969.1H461.5V974.8H455.9zM484.1 969.1H495.5V974.8H484.1zM523.8 969.1H529.4V974.8H523.8zM557.7 969.1H563.4V974.8H557.7zM620.1 969.1H625.8V974.8H620.1zM104.0 974.8H109.7V980.4H104.0zM165.9 974.8H171.6V980.4H165.9zM233.1 974.8H244.2V980.4H233.1zM338.9 974.8H344.5V980.4H338.9zM506.8 974.8H512.4V980.4H506.8zM591.7 974.8H597.4V980.4H591.7zM608.8 974.8H614.4V980.4H608.8zM620.1 974.8H631.5V980.4H620.1zM637.1 974.8H642.8V980.4H637.1zM81.5 980.4H87.1V986.1H81.5zM165.9 980.4H171.6V986.1H165.9zM177.2 980.4H182.8V986.1H177.2zM288.8 980.4H294.4V986.1H288.8zM529.4 980.4H535.1V986.1H529.4zM546.4 980.4H552.1V986.1H546.4zM642.8 980.4H648.5V986.1H642.8zM87.1 986.1H92.8V991.8H87.1zM143.4 986.1H149.1V991.8H143.4zM171.6 986.1H177.2V991.8H171.6zM299.9 986.1H305.5V991.8H299.9zM506.8 986.1H512.4V991.8H506.8zM535.1 986.1H540.7V991.8H535.1zM552.1 986.1H557.7V991.8H552.1zM614.4 986.1H620.1V991.8H614.4zM81.5 991.8H87.1V997.4H81.5zM171.6 991.8H177.2V997.4H171.6zM188.5 991.8H194.1V997.4H188.5zM227.5 991.8H233.1V997.4H227.5zM506.8 991.8H512.4V997.4H506.8zM586.1 991.8H591.7V997.4H586.1zM614.4 991.8H625.8V997.4H614.4zM648.5 991.8H654.0V997.4H648.5zM98.4 997.4H104.0V1003.1H98.4zM154.7 997.4H160.3V1003.1H154.7zM165.9 997.4H171.6V1003.1H165.9zM501.1 997.4H506.8V1003.1H501.1zM535.1 997.4H540.7V1003.1H535.1zM546.4 997.4H552.1V1003.1H546.4zM557.7 997.4H569.0V1003.1H557.7zM580.4 997.4H586.1V1003.1H580.4zM597.4 997.4H608.8V1003.1H597.4zM614.4 997.4H620.1V1003.1H614.4zM625.8 997.4H631.5V1003.1H625.8zM104.0 1003.1H109.7V1008.7H104.0zM171.6 1003.1H177.2V1008.7H171.6zM227.5 1003.1H238.7V1008.7H227.5zM529.4 1003.1H540.7V1008.7H529.4zM637.1 1003.1H642.8V1008.7H637.1zM648.5 1003.1H654.0V1008.7H648.5zM104.0 1008.7H109.7V1014.4H104.0zM244.2 1008.7H255.4V1014.4H244.2zM484.1 1008.7H489.8V1014.4H484.1zM495.5 1008.7H501.1V1014.4H495.5zM523.8 1008.7H529.4V1014.4H523.8zM557.7 1008.7H563.4V1014.4H557.7zM597.4 1008.7H603.1V1014.4H597.4zM154.7 1014.4H160.3V1020.1H154.7zM233.1 1014.4H238.7V1020.1H233.1zM260.9 1014.4H266.5V1020.1H260.9zM489.8 1014.4H495.5V1020.1H489.8zM637.1 1014.4H642.8V1020.1H637.1zM92.8 1020.1H98.4V1025.7H92.8zM171.6 1020.1H182.8V1025.7H171.6zM199.7 1020.1H205.2V1025.7H199.7zM238.7 1020.1H244.2V1025.7H238.7zM557.7 1020.1H563.4V1025.7H557.7zM149.1 1025.7H154.7V1031.4H149.1zM171.6 1025.7H177.2V1031.4H171.6zM233.1 1025.7H238.7V1031.4H233.1zM501.1 1025.7H506.8V1031.4H501.1zM529.4 1025.7H540.7V1031.4H529.4zM137.8 1031.4H143.4V1037.0H137.8zM165.9 1031.4H171.6V1037.0H165.9zM222.0 1031.4H227.5V1037.0H222.0zM266.5 1031.4H272.1V1037.0H266.5zM305.5 1031.4H311.1V1037.0H305.5zM501.1 1031.4H506.8V1037.0H501.1zM631.5 1031.4H637.1V1037.0H631.5zM109.7 1037.0H115.3V1042.7H109.7zM160.3 1037.0H177.2V1042.7H160.3zM205.2 1037.0H210.8V1042.7H205.2zM472.8 1037.0H484.1V1042.7H472.8zM523.8 1037.0H535.1V1042.7H523.8zM160.3 1042.7H171.6V1048.4H160.3zM244.2 1042.7H249.8V1048.4H244.2zM512.4 1042.7H518.1V1048.4H512.4zM535.1 1042.7H540.7V1048.4H535.1zM603.1 1042.7H608.8V1048.4H603.1zM132.2 1048.4H137.8V1054.0H132.2zM160.3 1048.4H165.9V1054.0H160.3zM205.2 1048.4H210.8V1054.0H205.2zM238.7 1048.4H244.2V1054.0H238.7zM260.9 1048.4H266.5V1054.0H260.9zM277.7 1048.4H283.2V1054.0H277.7zM506.8 1048.4H512.4V1054.0H506.8zM518.1 1048.4H523.8V1054.0H518.1zM614.4 1048.4H625.8V1054.0H614.4zM631.5 1048.4H637.1V1054.0H631.5zM642.8 1048.4H648.5V1054.0H642.8zM87.1 1054.0H92.8V1059.7H87.1zM132.2 1054.0H137.8V1059.7H132.2zM143.4 1054.0H154.7V1059.7H143.4zM199.7 1054.0H205.2V1059.7H199.7zM233.1 1054.0H244.2V1059.7H233.1zM249.8 1054.0H260.9V1059.7H249.8zM266.5 1054.0H272.1V1059.7H266.5zM350.1 1054.0H355.7V1059.7H350.1zM372.4 1054.0H377.9V1059.7H372.4zM614.4 1054.0H625.8V1059.7H614.4zM98.4 1065.4H104.0V1071.1H98.4zM160.3 1065.4H165.9V1071.1H160.3zM205.2 1065.4H210.8V1071.1H205.2zM255.4 1065.4H260.9V1071.1H255.4zM311.1 1065.4H316.7V1071.1H311.1zM642.8 1065.4H648.5V1071.1H642.8zM132.2 1071.1H143.4V1076.8H132.2zM244.2 1071.1H255.4V1076.8H244.2zM299.9 1071.1H305.5V1076.8H299.9zM439.2 1071.1H444.8V1076.8H439.2zM87.1 1076.8H98.4V1082.5H87.1zM104.0 1076.8H109.7V1082.5H104.0zM132.2 1076.8H137.8V1082.5H132.2zM154.7 1076.8H160.3V1082.5H154.7zM165.9 1076.8H171.6V1082.5H165.9zM182.8 1076.8H188.5V1082.5H182.8zM233.1 1076.8H238.7V1082.5H233.1zM288.8 1076.8H305.5V1082.5H288.8zM327.8 1076.8H333.4V1082.5H327.8zM344.5 1076.8H350.1V1082.5H344.5zM439.2 1076.8H444.8V1082.5H439.2zM614.4 1076.8H620.1V1082.5H614.4zM631.5 1076.8H637.1V1082.5H631.5zM642.8 1076.8H648.5V1082.5H642.8zM109.7 1082.5H115.3V1088.2H109.7zM137.8 1082.5H143.4V1088.2H137.8zM149.1 1082.5H154.7V1088.2H149.1zM160.3 1082.5H165.9V1088.2H160.3zM199.7 1082.5H210.8V1088.2H199.7zM222.0 1082.5H227.5V1088.2H222.0zM244.2 1082.5H249.8V1088.2H244.2zM283.2 1082.5H288.8V1088.2H283.2zM294.4 1082.5H299.9V1088.2H294.4zM350.1 1082.5H355.7V1088.2H350.1zM372.4 1082.5H377.9V1088.2H372.4zM411.4 1082.5H416.9V1088.2H411.4zM92.8 1088.2H98.4V1094.0H92.8zM132.2 1088.2H137.8V1094.0H132.2zM160.3 1088.2H165.9V1094.0H160.3zM177.2 1088.2H194.1V1094.0H177.2zM199.7 1088.2H205.2V1094.0H199.7zM299.9 1088.2H305.5V1094.0H299.9zM372.4 1088.2H377.9V1094.0H372.4zM416.9 1088.2H422.5V1094.0H416.9zM154.7 1094.0H160.3V1099.7H154.7zM188.5 1094.0H194.1V1099.7H188.5zM199.7 1094.0H205.2V1099.7H199.7zM222.0 1094.0H227.5V1099.7H222.0zM249.8 1094.0H255.4V1099.7H249.8zM316.7 1094.0H322.2V1099.7H316.7zM344.5 1094.0H350.1V1099.7H344.5zM411.4 1094.0H416.9V1099.7H411.4zM620.1 1094.0H625.8V1099.7H620.1zM115.3 1099.7H126.5V1105.4H115.3zM132.2 1099.7H137.8V1105.4H132.2zM143.4 1099.7H149.1V1105.4H143.4zM188.5 1099.7H194.1V1105.4H188.5zM199.7 1099.7H210.8V1105.4H199.7zM216.4 1099.7H227.5V1105.4H216.4zM233.1 1099.7H238.7V1105.4H233.1zM322.2 1099.7H327.8V1105.4H322.2zM350.1 1099.7H355.7V1105.4H350.1zM366.8 1099.7H372.4V1105.4H366.8zM400.2 1099.7H405.8V1105.4H400.2zM428.1 1099.7H439.2V1105.4H428.1zM614.4 1099.7H620.1V1105.4H614.4zM631.5 1099.7H637.1V1105.4H631.5zM87.1 1105.4H92.8V1111.1H87.1zM109.7 1105.4H115.3V1111.1H109.7zM137.8 1105.4H143.4V1111.1H137.8zM177.2 1105.4H182.8V1111.1H177.2zM188.5 1105.4H194.1V1111.1H188.5zM210.8 1105.4H222.0V1111.1H210.8zM249.8 1105.4H260.9V1111.1H249.8zM272.1 1105.4H277.7V1111.1H272.1zM299.9 1105.4H305.5V1111.1H299.9zM316.7 1105.4H322.2V1111.1H316.7zM377.9 1105.4H383.5V1111.1H377.9zM389.1 1105.4H400.2V1111.1H389.1zM450.4 1105.4H455.9V1111.1H450.4zM87.1 1111.1H104.0V1116.8H87.1zM154.7 1111.1H160.3V1116.8H154.7zM165.9 1111.1H171.6V1116.8H165.9zM177.2 1111.1H188.5V1116.8H177.2zM205.2 1111.1H210.8V1116.8H205.2zM216.4 1111.1H222.0V1116.8H216.4zM272.1 1111.1H294.4V1116.8H272.1zM299.9 1111.1H305.5V1116.8H299.9zM327.8 1111.1H338.9V1116.8H327.8zM444.8 1111.1H450.4V1116.8H444.8zM648.5 1111.1H654.0V1116.8H648.5zM81.5 1116.8H87.1V1122.5H81.5zM165.9 1116.8H177.2V1122.5H165.9zM205.2 1116.8H222.0V1122.5H205.2zM266.5 1116.8H283.2V1122.5H266.5zM299.9 1116.8H311.1V1122.5H299.9zM333.4 1116.8H338.9V1122.5H333.4zM344.5 1116.8H350.1V1122.5H344.5zM355.7 1116.8H361.2V1122.5H355.7zM450.4 1116.8H455.9V1122.5H450.4zM620.1 1116.8H625.8V1122.5H620.1zM160.3 1122.5H171.6V1128.2H160.3zM182.8 1122.5H188.5V1128.2H182.8zM205.2 1122.5H210.8V1128.2H205.2zM288.8 1122.5H294.4V1128.2H288.8zM305.5 1122.5H311.1V1128.2H305.5zM327.8 1122.5H333.4V1128.2H327.8zM372.4 1122.5H377.9V1128.2H372.4zM411.4 1122.5H416.9V1128.2H411.4zM439.2 1122.5H444.8V1128.2H439.2zM143.4 1128.2H149.1V1133.9H143.4zM188.5 1128.2H194.1V1133.9H188.5zM199.7 1128.2H205.2V1133.9H199.7zM227.5 1128.2H233.1V1133.9H227.5zM238.7 1128.2H249.8V1133.9H238.7zM294.4 1128.2H299.9V1133.9H294.4zM327.8 1128.2H333.4V1133.9H327.8zM338.9 1128.2H350.1V1133.9H338.9zM366.8 1128.2H372.4V1133.9H366.8zM383.5 1128.2H389.1V1133.9H383.5zM405.8 1128.2H411.4V1133.9H405.8zM428.1 1128.2H433.6V1133.9H428.1zM439.2 1128.2H444.8V1133.9H439.2zM625.8 1128.2H631.5V1133.9H625.8zM642.8 1128.2H648.5V1133.9H642.8zM266.5 1133.9H272.1V1139.6H266.5zM294.4 1133.9H299.9V1139.6H294.4zM305.5 1133.9H311.1V1139.6H305.5zM322.2 1133.9H327.8V1139.6H322.2zM338.9 1133.9H344.5V1139.6H338.9zM389.1 1133.9H394.6V1139.6H389.1zM400.2 1133.9H411.4V1139.6H400.2zM428.1 1133.9H433.6V1139.6H428.1zM444.8 1133.9H450.4V1139.6H444.8zM625.8 1133.9H631.5V1139.6H625.8zM648.5 1133.9H654.0V1139.6H648.5zM149.1 1139.6H154.7V1145.4H149.1zM165.9 1139.6H171.6V1145.4H165.9zM244.2 1139.6H255.4V1145.4H244.2zM272.1 1139.6H283.2V1145.4H272.1zM311.1 1139.6H322.2V1145.4H311.1zM327.8 1139.6H333.4V1145.4H327.8zM338.9 1139.6H361.2V1145.4H338.9zM366.8 1139.6H372.4V1145.4H366.8zM603.1 1139.6H608.8V1145.4H603.1zM642.8 1139.6H648.5V1145.4H642.8zM81.5 1145.4H92.8V1151.1H81.5zM165.9 1145.4H177.2V1151.1H165.9zM182.8 1145.4H188.5V1151.1H182.8zM233.1 1145.4H244.2V1151.1H233.1zM255.4 1145.4H260.9V1151.1H255.4zM272.1 1145.4H277.7V1151.1H272.1zM305.5 1145.4H311.1V1151.1H305.5zM383.5 1145.4H389.1V1151.1H383.5zM400.2 1145.4H405.8V1151.1H400.2zM631.5 1145.4H642.8V1151.1H631.5zM143.4 1151.1H154.7V1156.8H143.4zM205.2 1151.1H210.8V1156.8H205.2zM244.2 1151.1H249.8V1156.8H244.2zM260.9 1151.1H266.5V1156.8H260.9zM338.9 1151.1H344.5V1156.8H338.9zM355.7 1151.1H366.8V1156.8H355.7zM389.1 1151.1H394.6V1156.8H389.1zM648.5 1151.1H654.0V1156.8H648.5zM81.5 1156.8H87.1V1162.5H81.5zM92.8 1156.8H98.4V1162.5H92.8zM120.9 1156.8H126.5V1162.5H120.9zM132.2 1156.8H137.8V1162.5H132.2zM182.8 1156.8H188.5V1162.5H182.8zM205.2 1156.8H216.4V1162.5H205.2zM249.8 1156.8H255.4V1162.5H249.8zM277.7 1156.8H283.2V1162.5H277.7zM294.4 1156.8H299.9V1162.5H294.4zM316.7 1156.8H322.2V1162.5H316.7zM361.2 1156.8H366.8V1162.5H361.2zM372.4 1156.8H377.9V1162.5H372.4zM400.2 1156.8H405.8V1162.5H400.2zM411.4 1156.8H416.9V1162.5H411.4zM422.5 1156.8H428.1V1162.5H422.5zM81.5 1162.5H87.1V1168.2H81.5zM109.7 1162.5H115.3V1168.2H109.7zM182.8 1162.5H194.1V1168.2H182.8zM233.1 1162.5H238.7V1168.2H233.1zM244.2 1162.5H249.8V1168.2H244.2zM283.2 1162.5H288.8V1168.2H283.2zM322.2 1162.5H333.4V1168.2H322.2zM361.2 1162.5H366.8V1168.2H361.2zM400.2 1162.5H405.8V1168.2H400.2zM81.5 1168.2H92.8V1173.9H81.5zM126.5 1168.2H132.2V1173.9H126.5zM165.9 1168.2H171.6V1173.9H165.9zM305.5 1168.2H311.1V1173.9H305.5zM648.5 1168.2H654.0V1173.9H648.5zM160.3 1179.5H165.9V1185.2H160.3zM266.5 1179.5H272.1V1185.2H266.5zM311.1 1179.5H322.2V1185.2H311.1zM366.8 1179.5H372.4V1185.2H366.8zM400.2 1179.5H405.8V1185.2H400.2zM137.8 1185.2H143.4V1190.8H137.8zM216.4 1185.2H227.5V1190.8H216.4zM238.7 1185.2H244.2V1190.8H238.7zM249.8 1185.2H255.4V1190.8H249.8zM305.5 1185.2H311.1V1190.8H305.5zM394.6 1185.2H400.2V1190.8H394.6zM642.8 1185.2H654.0V1190.8H642.8zM160.3 1190.8H165.9V1196.4H160.3zM171.6 1190.8H177.2V1196.4H171.6zM182.8 1190.8H194.1V1196.4H182.8zM249.8 1190.8H255.4V1196.4H249.8zM266.5 1190.8H272.1V1196.4H266.5zM288.8 1190.8H294.4V1196.4H288.8zM366.8 1190.8H372.4V1196.4H366.8zM377.9 1190.8H383.5V1196.4H377.9zM98.4 1196.4H104.0V1202.1H98.4zM154.7 1196.4H165.9V1202.1H154.7zM171.6 1196.4H177.2V1202.1H171.6zM188.5 1196.4H194.1V1202.1H188.5zM205.2 1196.4H210.8V1202.1H205.2zM244.2 1196.4H249.8V1202.1H244.2zM255.4 1196.4H260.9V1202.1H255.4zM288.8 1196.4H294.4V1202.1H288.8zM305.5 1196.4H311.1V1202.1H305.5zM327.8 1196.4H333.4V1202.1H327.8zM361.2 1196.4H366.8V1202.1H361.2zM400.2 1196.4H405.8V1202.1H400.2zM411.4 1196.4H416.9V1202.1H411.4zM160.3 1202.1H171.6V1207.7H160.3zM272.1 1202.1H277.7V1207.7H272.1zM294.4 1202.1H299.9V1207.7H294.4zM311.1 1202.1H322.2V1207.7H311.1zM361.2 1202.1H366.8V1207.7H361.2zM400.2 1202.1H405.8V1207.7H400.2zM444.8 1202.1H450.4V1207.7H444.8zM540.7 1202.1H546.4V1207.7H540.7zM92.8 1207.7H98.4V1213.3H92.8zM143.4 1207.7H149.1V1213.3H143.4zM171.6 1207.7H177.2V1213.3H171.6zM227.5 1207.7H238.7V1213.3H227.5zM305.5 1207.7H327.8V1213.3H305.5zM377.9 1207.7H383.5V1213.3H377.9zM104.0 1213.3H109.7V1219.0H104.0zM154.7 1213.3H160.3V1219.0H154.7zM182.8 1213.3H188.5V1219.0H182.8zM233.1 1213.3H238.7V1219.0H233.1zM249.8 1213.3H255.4V1219.0H249.8zM283.2 1213.3H288.8V1219.0H283.2zM338.9 1213.3H344.5V1219.0H338.9zM366.8 1213.3H372.4V1219.0H366.8zM389.1 1213.3H405.8V1219.0H389.1zM450.4 1213.3H461.5V1219.0H450.4zM478.5 1213.3H484.1V1219.0H478.5zM501.1 1213.3H506.8V1219.0H501.1zM92.8 1219.0H98.4V1224.6H92.8zM199.7 1219.0H205.2V1224.6H199.7zM210.8 1219.0H216.4V1224.6H210.8zM233.1 1219.0H238.7V1224.6H233.1zM299.9 1219.0H305.5V1224.6H299.9zM322.2 1219.0H327.8V1224.6H322.2zM372.4 1219.0H383.5V1224.6H372.4zM394.6 1219.0H400.2V1224.6H394.6zM450.4 1219.0H461.5V1224.6H450.4zM495.5 1219.0H501.1V1224.6H495.5zM518.1 1219.0H523.8V1224.6H518.1zM92.8 1224.6H98.4V1230.3H92.8zM143.4 1224.6H149.1V1230.3H143.4zM249.8 1224.6H255.4V1230.3H249.8zM260.9 1224.6H266.5V1230.3H260.9zM283.2 1224.6H288.8V1230.3H283.2zM305.5 1224.6H311.1V1230.3H305.5zM338.9 1224.6H344.5V1230.3H338.9zM355.7 1224.6H366.8V1230.3H355.7zM377.9 1224.6H383.5V1230.3H377.9zM400.2 1224.6H405.8V1230.3H400.2zM529.4 1224.6H540.7V1230.3H529.4zM104.0 1230.3H109.7V1235.9H104.0zM137.8 1230.3H143.4V1235.9H137.8zM165.9 1230.3H177.2V1235.9H165.9zM199.7 1230.3H205.2V1235.9H199.7zM222.0 1230.3H227.5V1235.9H222.0zM244.2 1230.3H249.8V1235.9H244.2zM283.2 1230.3H288.8V1235.9H283.2zM294.4 1230.3H299.9V1235.9H294.4zM361.2 1230.3H366.8V1235.9H361.2zM433.6 1230.3H439.2V1235.9H433.6zM450.4 1230.3H455.9V1235.9H450.4zM478.5 1230.3H484.1V1235.9H478.5zM501.1 1230.3H506.8V1235.9H501.1zM546.4 1230.3H552.1V1235.9H546.4zM648.5 1230.3H654.0V1235.9H648.5zM182.8 1235.9H188.5V1241.5H182.8zM216.4 1235.9H222.0V1241.5H216.4zM294.4 1235.9H299.9V1241.5H294.4zM350.1 1235.9H355.7V1241.5H350.1zM361.2 1235.9H372.4V1241.5H361.2zM377.9 1235.9H383.5V1241.5H377.9zM405.8 1235.9H411.4V1241.5H405.8zM416.9 1235.9H422.5V1241.5H416.9zM546.4 1235.9H552.1V1241.5H546.4zM81.5 1241.5H87.1V1247.2H81.5zM182.8 1241.5H194.1V1247.2H182.8zM227.5 1241.5H244.2V1247.2H227.5zM249.8 1241.5H255.4V1247.2H249.8zM260.9 1241.5H266.5V1247.2H260.9zM311.1 1241.5H322.2V1247.2H311.1zM327.8 1241.5H350.1V1247.2H327.8zM355.7 1241.5H366.8V1247.2H355.7zM383.5 1241.5H389.1V1247.2H383.5zM450.4 1241.5H455.9V1247.2H450.4zM467.2 1241.5H472.8V1247.2H467.2zM478.5 1241.5H484.1V1247.2H478.5zM529.4 1241.5H535.1V1247.2H529.4zM540.7 1241.5H546.4V1247.2H540.7zM586.1 1241.5H591.7V1247.2H586.1zM149.1 1247.2H154.7V1252.8H149.1zM182.8 1247.2H194.1V1252.8H182.8zM316.7 1247.2H327.8V1252.8H316.7zM338.9 1247.2H344.5V1252.8H338.9zM377.9 1247.2H389.1V1252.8H377.9zM411.4 1247.2H416.9V1252.8H411.4zM433.6 1247.2H439.2V1252.8H433.6zM467.2 1247.2H472.8V1252.8H467.2zM557.7 1247.2H563.4V1252.8H557.7zM333.4 1252.8H338.9V1258.4H333.4zM377.9 1252.8H383.5V1258.4H377.9zM416.9 1252.8H422.5V1258.4H416.9zM472.8 1252.8H478.5V1258.4H472.8zM608.8 1252.8H614.4V1258.4H608.8zM625.8 1252.8H637.1V1258.4H625.8z"/><path fill="#fd9996" d="M81.5 679.3H87.1V685.0H81.5zM98.4 679.3H104.0V685.0H98.4zM165.9 679.3H171.6V685.0H165.9zM182.8 679.3H188.5V685.0H182.8zM283.2 679.3H288.8V685.0H283.2zM316.7 679.3H322.2V685.0H316.7zM361.2 679.3H366.8V685.0H361.2zM394.6 679.3H400.2V685.0H394.6zM444.8 679.3H450.4V685.0H444.8zM489.8 679.3H495.5V685.0H489.8zM586.1 679.3H591.7V685.0H586.1zM637.1 679.3H642.8V685.0H637.1zM92.8 685.0H98.4V690.7H92.8zM372.4 685.0H377.9V690.7H372.4zM389.1 685.0H394.6V690.7H389.1zM87.1 690.7H92.8V696.4H87.1zM137.8 690.7H143.4V696.4H137.8zM149.1 690.7H154.7V696.4H149.1zM171.6 690.7H182.8V696.4H171.6zM288.8 690.7H299.9V696.4H288.8zM439.2 690.7H444.8V696.4H439.2zM552.1 690.7H557.7V696.4H552.1zM154.7 696.4H160.3V702.2H154.7zM182.8 696.4H188.5V702.2H182.8zM299.9 696.4H305.5V702.2H299.9zM350.1 696.4H355.7V702.2H350.1zM400.2 696.4H405.8V702.2H400.2zM416.9 696.4H422.5V702.2H416.9zM603.1 696.4H608.8V702.2H603.1zM467.2 702.2H472.8V707.9H467.2zM625.8 702.2H631.5V707.9H625.8zM143.4 707.9H149.1V713.6H143.4zM188.5 707.9H194.1V713.6H188.5zM233.1 707.9H238.7V713.6H233.1zM322.2 707.9H327.8V713.6H322.2zM132.2 725.0H137.8V730.7H132.2zM154.7 725.0H160.3V730.7H154.7zM216.4 725.0H222.0V730.7H216.4zM244.2 725.0H249.8V730.7H244.2zM288.8 725.0H294.4V730.7H288.8zM333.4 725.0H338.9V730.7H333.4zM411.4 725.0H416.9V730.7H411.4zM444.8 725.0H450.4V730.7H444.8zM512.4 725.0H518.1V730.7H512.4zM98.4 730.7H104.0V736.5H98.4zM137.8 730.7H149.1V736.5H137.8zM177.2 730.7H182.8V736.5H177.2zM233.1 730.7H238.7V736.5H233.1zM255.4 730.7H260.9V736.5H255.4zM272.1 730.7H277.7V736.5H272.1zM299.9 730.7H305.5V736.5H299.9zM338.9 730.7H344.5V736.5H338.9zM366.8 730.7H372.4V736.5H366.8zM557.7 730.7H563.4V736.5H557.7zM115.3 736.5H120.9V742.2H115.3zM137.8 736.5H143.4V742.2H137.8zM188.5 736.5H194.1V742.2H188.5zM210.8 736.5H222.0V742.2H210.8zM294.4 736.5H305.5V742.2H294.4zM327.8 736.5H333.4V742.2H327.8zM400.2 736.5H405.8V742.2H400.2zM411.4 736.5H416.9V742.2H411.4zM439.2 736.5H444.8V742.2H439.2zM450.4 736.5H455.9V742.2H450.4zM506.8 736.5H512.4V742.2H506.8zM518.1 736.5H529.4V742.2H518.1zM546.4 736.5H552.1V742.2H546.4zM591.7 736.5H597.4V742.2H591.7zM98.4 742.2H104.0V747.9H98.4zM171.6 742.2H182.8V747.9H171.6zM199.7 742.2H205.2V747.9H199.7zM233.1 742.2H238.7V747.9H233.1zM244.2 742.2H266.5V747.9H244.2zM272.1 742.2H277.7V747.9H272.1zM366.8 742.2H377.9V747.9H366.8zM444.8 742.2H450.4V747.9H444.8zM472.8 742.2H478.5V747.9H472.8zM489.8 742.2H495.5V747.9H489.8zM506.8 742.2H512.4V747.9H506.8zM608.8 742.2H614.4V747.9H608.8zM104.0 747.9H109.7V753.6H104.0zM132.2 747.9H137.8V753.6H132.2zM222.0 747.9H227.5V753.6H222.0zM288.8 747.9H294.4V753.6H288.8zM311.1 747.9H316.7V753.6H311.1zM322.2 747.9H327.8V753.6H322.2zM333.4 747.9H338.9V753.6H333.4zM344.5 747.9H350.1V753.6H344.5zM428.1 747.9H433.6V753.6H428.1zM489.8 747.9H495.5V753.6H489.8zM523.8 747.9H529.4V753.6H523.8zM557.7 747.9H563.4V753.6H557.7zM608.8 747.9H614.4V753.6H608.8zM620.1 747.9H625.8V753.6H620.1zM165.9 753.6H171.6V759.3H165.9zM199.7 753.6H205.2V759.3H199.7zM210.8 753.6H216.4V759.3H210.8zM222.0 753.6H227.5V759.3H222.0zM249.8 753.6H255.4V759.3H249.8zM277.7 753.6H283.2V759.3H277.7zM305.5 753.6H316.7V759.3H305.5zM350.1 753.6H355.7V759.3H350.1zM366.8 753.6H372.4V759.3H366.8zM416.9 753.6H422.5V759.3H416.9zM433.6 753.6H439.2V759.3H433.6zM557.7 753.6H569.0V759.3H557.7zM631.5 753.6H637.1V759.3H631.5zM87.1 759.3H92.8V765.0H87.1zM160.3 759.3H171.6V765.0H160.3zM210.8 759.3H216.4V765.0H210.8zM222.0 759.3H233.1V765.0H222.0zM260.9 759.3H266.5V765.0H260.9zM288.8 759.3H294.4V765.0H288.8zM361.2 759.3H366.8V765.0H361.2zM394.6 759.3H400.2V765.0H394.6zM501.1 759.3H512.4V765.0H501.1zM563.4 759.3H569.0V765.0H563.4zM608.8 759.3H614.4V765.0H608.8zM637.1 759.3H642.8V765.0H637.1zM98.4 765.0H104.0V770.8H98.4zM149.1 765.0H154.7V770.8H149.1zM171.6 765.0H177.2V770.8H171.6zM233.1 765.0H238.7V770.8H233.1zM249.8 765.0H255.4V770.8H249.8zM294.4 765.0H305.5V770.8H294.4zM322.2 765.0H327.8V770.8H322.2zM355.7 765.0H361.2V770.8H355.7zM377.9 765.0H383.5V770.8H377.9zM416.9 765.0H422.5V770.8H416.9zM444.8 765.0H450.4V770.8H444.8zM484.1 765.0H495.5V770.8H484.1zM563.4 765.0H574.7V770.8H563.4zM620.1 765.0H625.8V770.8H620.1zM98.4 770.8H104.0V776.5H98.4zM137.8 770.8H143.4V776.5H137.8zM149.1 770.8H154.7V776.5H149.1zM199.7 770.8H205.2V776.5H199.7zM233.1 770.8H238.7V776.5H233.1zM249.8 770.8H255.4V776.5H249.8zM333.4 770.8H338.9V776.5H333.4zM344.5 770.8H355.7V776.5H344.5zM400.2 770.8H405.8V776.5H400.2zM433.6 770.8H439.2V776.5H433.6zM472.8 770.8H484.1V776.5H472.8zM87.1 776.5H92.8V782.2H87.1zM104.0 776.5H109.7V782.2H104.0zM272.1 776.5H277.7V782.2H272.1zM288.8 776.5H294.4V782.2H288.8zM355.7 776.5H366.8V782.2H355.7zM439.2 776.5H444.8V782.2H439.2zM484.1 776.5H489.8V782.2H484.1zM529.4 776.5H535.1V782.2H529.4zM580.4 776.5H586.1V782.2H580.4zM631.5 776.5H637.1V782.2H631.5zM115.3 782.2H120.9V787.9H115.3zM143.4 782.2H149.1V787.9H143.4zM272.1 782.2H277.7V787.9H272.1zM327.8 782.2H333.4V787.9H327.8zM416.9 782.2H422.5V787.9H416.9zM428.1 782.2H433.6V787.9H428.1zM450.4 782.2H455.9V787.9H450.4zM467.2 782.2H472.8V787.9H467.2zM523.8 782.2H529.4V787.9H523.8zM535.1 782.2H552.1V787.9H535.1zM608.8 782.2H614.4V787.9H608.8zM637.1 782.2H642.8V787.9H637.1zM149.1 793.6H154.7V799.2H149.1zM160.3 793.6H165.9V799.2H160.3zM177.2 793.6H182.8V799.2H177.2zM266.5 793.6H272.1V799.2H266.5zM277.7 793.6H283.2V799.2H277.7zM299.9 793.6H305.5V799.2H299.9zM311.1 793.6H322.2V799.2H311.1zM327.8 793.6H333.4V799.2H327.8zM350.1 793.6H355.7V799.2H350.1zM366.8 793.6H372.4V799.2H366.8zM433.6 793.6H439.2V799.2H433.6zM444.8 793.6H450.4V799.2H444.8zM467.2 793.6H472.8V799.2H467.2zM535.1 793.6H546.4V799.2H535.1zM586.1 793.6H597.4V799.2H586.1zM272.1 799.2H277.7V804.9H272.1zM311.1 799.2H316.7V804.9H311.1zM327.8 799.2H333.4V804.9H327.8zM366.8 799.2H372.4V804.9H366.8zM377.9 799.2H394.6V804.9H377.9zM489.8 799.2H495.5V804.9H489.8zM569.0 799.2H574.7V804.9H569.0zM586.1 799.2H591.7V804.9H586.1zM625.8 799.2H631.5V804.9H625.8zM637.1 799.2H642.8V804.9H637.1zM143.4 804.9H149.1V810.5H143.4zM160.3 804.9H171.6V810.5H160.3zM260.9 804.9H266.5V810.5H260.9zM327.8 804.9H333.4V810.5H327.8zM344.5 804.9H350.1V810.5H344.5zM355.7 804.9H361.2V810.5H355.7zM383.5 804.9H389.1V810.5H383.5zM478.5 804.9H484.1V810.5H478.5zM489.8 804.9H495.5V810.5H489.8zM501.1 804.9H506.8V810.5H501.1zM529.4 804.9H535.1V810.5H529.4zM642.8 804.9H648.5V810.5H642.8zM132.2 810.5H137.8V816.2H132.2zM143.4 810.5H149.1V816.2H143.4zM255.4 810.5H260.9V816.2H255.4zM272.1 810.5H277.7V816.2H272.1zM288.8 810.5H294.4V816.2H288.8zM338.9 810.5H350.1V816.2H338.9zM355.7 810.5H372.4V816.2H355.7zM428.1 810.5H433.6V816.2H428.1zM489.8 810.5H495.5V816.2H489.8zM529.4 810.5H535.1V816.2H529.4zM631.5 810.5H637.1V816.2H631.5zM648.5 810.5H654.0V816.2H648.5zM154.7 816.2H171.6V821.9H154.7zM266.5 816.2H272.1V821.9H266.5zM305.5 816.2H311.1V821.9H305.5zM327.8 816.2H333.4V821.9H327.8zM400.2 816.2H405.8V821.9H400.2zM439.2 816.2H461.5V821.9H439.2zM552.1 816.2H557.7V821.9H552.1zM591.7 816.2H597.4V821.9H591.7zM603.1 816.2H608.8V821.9H603.1zM165.9 821.9H171.6V827.5H165.9zM344.5 821.9H350.1V827.5H344.5zM355.7 821.9H361.2V827.5H355.7zM389.1 821.9H394.6V827.5H389.1zM400.2 821.9H405.8V827.5H400.2zM428.1 821.9H433.6V827.5H428.1zM472.8 821.9H478.5V827.5H472.8zM484.1 821.9H495.5V827.5H484.1zM501.1 821.9H506.8V827.5H501.1zM540.7 821.9H546.4V827.5H540.7zM557.7 821.9H563.4V827.5H557.7zM597.4 821.9H603.1V827.5H597.4zM81.5 827.5H87.1V833.2H81.5zM115.3 827.5H120.9V833.2H115.3zM137.8 827.5H143.4V833.2H137.8zM149.1 827.5H154.7V833.2H149.1zM171.6 827.5H182.8V833.2H171.6zM316.7 827.5H322.2V833.2H316.7zM366.8 827.5H372.4V833.2H366.8zM400.2 827.5H405.8V833.2H400.2zM518.1 827.5H523.8V833.2H518.1zM591.7 827.5H603.1V833.2H591.7zM266.5 833.2H272.1V838.9H266.5zM288.8 833.2H294.4V838.9H288.8zM322.2 833.2H327.8V838.9H322.2zM338.9 833.2H355.7V838.9H338.9zM389.1 833.2H394.6V838.9H389.1zM405.8 833.2H411.4V838.9H405.8zM428.1 833.2H433.6V838.9H428.1zM439.2 833.2H444.8V838.9H439.2zM552.1 833.2H569.0V838.9H552.1zM631.5 833.2H637.1V838.9H631.5zM132.2 838.9H137.8V844.5H132.2zM149.1 838.9H154.7V844.5H149.1zM389.1 838.9H405.8V844.5H389.1zM433.6 838.9H439.2V844.5H433.6zM455.9 838.9H461.5V844.5H455.9zM478.5 838.9H484.1V844.5H478.5zM501.1 838.9H506.8V844.5H501.1zM518.1 838.9H523.8V844.5H518.1zM642.8 838.9H648.5V844.5H642.8zM81.5 844.5H87.1V850.2H81.5zM149.1 844.5H154.7V850.2H149.1zM160.3 844.5H165.9V850.2H160.3zM171.6 844.5H182.8V850.2H171.6zM546.4 844.5H552.1V850.2H546.4zM580.4 844.5H586.1V850.2H580.4zM597.4 844.5H603.1V850.2H597.4zM608.8 844.5H614.4V850.2H608.8zM137.8 850.2H143.4V855.9H137.8zM149.1 850.2H154.7V855.9H149.1zM216.4 850.2H222.0V855.9H216.4zM355.7 850.2H361.2V855.9H355.7zM495.5 850.2H501.1V855.9H495.5zM523.8 850.2H529.4V855.9H523.8zM149.1 855.9H154.7V861.5H149.1zM165.9 855.9H171.6V861.5H165.9zM210.8 855.9H216.4V861.5H210.8zM389.1 855.9H394.6V861.5H389.1zM439.2 855.9H444.8V861.5H439.2zM472.8 855.9H478.5V861.5H472.8zM495.5 855.9H501.1V861.5H495.5zM506.8 855.9H512.4V861.5H506.8zM518.1 855.9H523.8V861.5H518.1zM563.4 855.9H569.0V861.5H563.4zM199.7 861.5H205.2V867.2H199.7zM222.0 861.5H227.5V867.2H222.0zM238.7 861.5H244.2V867.2H238.7zM467.2 861.5H472.8V867.2H467.2zM546.4 861.5H552.1V867.2H546.4zM557.7 861.5H563.4V867.2H557.7zM597.4 861.5H603.1V867.2H597.4zM625.8 861.5H631.5V867.2H625.8zM137.8 867.2H143.4V872.8H137.8zM149.1 867.2H154.7V872.8H149.1zM182.8 867.2H194.1V872.8H182.8zM205.2 867.2H210.8V872.8H205.2zM216.4 867.2H222.0V872.8H216.4zM478.5 867.2H489.8V872.8H478.5zM563.4 867.2H569.0V872.8H563.4zM586.1 867.2H591.7V872.8H586.1zM597.4 867.2H603.1V872.8H597.4zM614.4 867.2H620.1V872.8H614.4zM625.8 867.2H631.5V872.8H625.8zM637.1 867.2H642.8V872.8H637.1zM160.3 872.8H165.9V878.5H160.3zM199.7 872.8H205.2V878.5H199.7zM394.6 872.8H400.2V878.5H394.6zM455.9 872.8H461.5V878.5H455.9zM484.1 872.8H489.8V878.5H484.1zM580.4 872.8H586.1V878.5H580.4zM603.1 872.8H608.8V878.5H603.1zM87.1 878.5H92.8V884.2H87.1zM366.8 878.5H372.4V884.2H366.8zM455.9 878.5H461.5V884.2H455.9zM467.2 878.5H472.8V884.2H467.2zM518.1 878.5H523.8V884.2H518.1zM535.1 878.5H540.7V884.2H535.1zM546.4 878.5H552.1V884.2H546.4zM586.1 878.5H597.4V884.2H586.1zM603.1 878.5H608.8V884.2H603.1zM642.8 878.5H648.5V884.2H642.8zM98.4 884.2H104.0V889.8H98.4zM132.2 884.2H137.8V889.8H132.2zM154.7 884.2H160.3V889.8H154.7zM165.9 884.2H171.6V889.8H165.9zM182.8 884.2H188.5V889.8H182.8zM216.4 884.2H222.0V889.8H216.4zM238.7 884.2H244.2V889.8H238.7zM389.1 884.2H394.6V889.8H389.1zM484.1 884.2H489.8V889.8H484.1zM495.5 884.2H501.1V889.8H495.5zM540.7 884.2H546.4V889.8H540.7zM603.1 884.2H608.8V889.8H603.1zM648.5 884.2H654.0V889.8H648.5zM98.4 889.8H104.0V895.5H98.4zM143.4 889.8H149.1V895.5H143.4zM171.6 889.8H177.2V895.5H171.6zM355.7 889.8H361.2V895.5H355.7zM455.9 889.8H461.5V895.5H455.9zM467.2 889.8H472.8V895.5H467.2zM501.1 889.8H506.8V895.5H501.1zM552.1 889.8H557.7V895.5H552.1zM591.7 889.8H597.4V895.5H591.7zM620.1 889.8H625.8V895.5H620.1zM104.0 895.5H109.7V901.1H104.0zM137.8 895.5H149.1V901.1H137.8zM171.6 895.5H177.2V901.1H171.6zM199.7 895.5H205.2V901.1H199.7zM377.9 895.5H383.5V901.1H377.9zM400.2 895.5H405.8V901.1H400.2zM444.8 895.5H450.4V901.1H444.8zM495.5 895.5H501.1V901.1H495.5zM523.8 895.5H529.4V901.1H523.8zM535.1 895.5H540.7V901.1H535.1zM591.7 895.5H597.4V901.1H591.7zM608.8 895.5H614.4V901.1H608.8zM160.3 901.1H165.9V906.8H160.3zM222.0 901.1H227.5V906.8H222.0zM366.8 901.1H372.4V906.8H366.8zM467.2 901.1H472.8V906.8H467.2zM495.5 901.1H506.8V906.8H495.5zM512.4 901.1H518.1V906.8H512.4zM154.7 906.8H165.9V912.5H154.7zM199.7 906.8H210.8V912.5H199.7zM489.8 906.8H501.1V912.5H489.8zM597.4 906.8H603.1V912.5H597.4zM620.1 906.8H625.8V912.5H620.1zM87.1 912.5H92.8V918.1H87.1zM199.7 912.5H205.2V918.1H199.7zM233.1 912.5H238.7V918.1H233.1zM439.2 912.5H444.8V918.1H439.2zM455.9 912.5H461.5V918.1H455.9zM489.8 912.5H495.5V918.1H489.8zM523.8 912.5H529.4V918.1H523.8zM586.1 912.5H591.7V918.1H586.1zM631.5 912.5H637.1V918.1H631.5zM115.3 918.1H120.9V923.8H115.3zM154.7 918.1H160.3V923.8H154.7zM171.6 918.1H177.2V923.8H171.6zM238.7 918.1H244.2V923.8H238.7zM489.8 918.1H495.5V923.8H489.8zM506.8 918.1H512.4V923.8H506.8zM569.0 918.1H574.7V923.8H569.0zM637.1 918.1H642.8V923.8H637.1zM143.4 923.8H149.1V929.5H143.4zM188.5 923.8H194.1V929.5H188.5zM199.7 923.8H216.4V929.5H199.7zM222.0 923.8H227.5V929.5H222.0zM484.1 923.8H489.8V929.5H484.1zM506.8 923.8H512.4V929.5H506.8zM518.1 923.8H523.8V929.5H518.1zM586.1 923.8H591.7V929.5H586.1zM620.1 923.8H625.8V929.5H620.1zM132.2 929.5H137.8V935.1H132.2zM154.7 929.5H160.3V935.1H154.7zM177.2 929.5H182.8V935.1H177.2zM467.2 929.5H478.5V935.1H467.2zM495.5 929.5H506.8V935.1H495.5zM523.8 929.5H529.4V935.1H523.8zM580.4 929.5H586.1V935.1H580.4zM614.4 929.5H620.1V935.1H614.4zM137.8 935.1H143.4V940.8H137.8zM216.4 935.1H222.0V940.8H216.4zM238.7 935.1H244.2V940.8H238.7zM467.2 935.1H472.8V940.8H467.2zM484.1 935.1H489.8V940.8H484.1zM506.8 935.1H512.4V940.8H506.8zM518.1 935.1H523.8V940.8H518.1zM586.1 935.1H603.1V940.8H586.1zM154.7 940.8H160.3V946.5H154.7zM177.2 940.8H182.8V946.5H177.2zM210.8 940.8H222.0V946.5H210.8zM227.5 940.8H233.1V946.5H227.5zM238.7 940.8H244.2V946.5H238.7zM372.4 940.8H377.9V946.5H372.4zM439.2 940.8H444.8V946.5H439.2zM501.1 940.8H506.8V946.5H501.1zM512.4 940.8H518.1V946.5H512.4zM614.4 940.8H620.1V946.5H614.4zM625.8 940.8H631.5V946.5H625.8zM104.0 946.5H109.7V952.1H104.0zM160.3 946.5H165.9V952.1H160.3zM177.2 946.5H182.8V952.1H177.2zM199.7 946.5H205.2V952.1H199.7zM238.7 946.5H244.2V952.1H238.7zM383.5 946.5H389.1V952.1H383.5zM495.5 946.5H501.1V952.1H495.5zM506.8 946.5H512.4V952.1H506.8zM529.4 946.5H535.1V952.1H529.4zM546.4 946.5H552.1V952.1H546.4zM81.5 952.1H87.1V957.8H81.5zM171.6 952.1H177.2V957.8H171.6zM182.8 952.1H188.5V957.8H182.8zM210.8 952.1H222.0V957.8H210.8zM227.5 952.1H233.1V957.8H227.5zM255.4 952.1H260.9V957.8H255.4zM294.4 952.1H299.9V957.8H294.4zM495.5 952.1H501.1V957.8H495.5zM506.8 952.1H512.4V957.8H506.8zM586.1 952.1H597.4V957.8H586.1zM608.8 952.1H614.4V957.8H608.8zM87.1 957.8H92.8V963.4H87.1zM165.9 957.8H171.6V963.4H165.9zM182.8 957.8H188.5V963.4H182.8zM216.4 957.8H222.0V963.4H216.4zM467.2 957.8H478.5V963.4H467.2zM489.8 957.8H495.5V963.4H489.8zM506.8 957.8H512.4V963.4H506.8zM540.7 957.8H552.1V963.4H540.7zM586.1 957.8H591.7V963.4H586.1zM614.4 957.8H620.1V963.4H614.4zM137.8 963.4H143.4V969.1H137.8zM149.1 963.4H154.7V969.1H149.1zM160.3 963.4H165.9V969.1H160.3zM199.7 963.4H210.8V969.1H199.7zM216.4 963.4H222.0V969.1H216.4zM233.1 963.4H238.7V969.1H233.1zM283.2 963.4H288.8V969.1H283.2zM305.5 963.4H311.1V969.1H305.5zM506.8 963.4H512.4V969.1H506.8zM523.8 963.4H529.4V969.1H523.8zM535.1 963.4H540.7V969.1H535.1zM546.4 963.4H552.1V969.1H546.4zM557.7 963.4H574.7V969.1H557.7zM92.8 969.1H98.4V974.8H92.8zM149.1 969.1H154.7V974.8H149.1zM344.5 969.1H350.1V974.8H344.5zM495.5 969.1H501.1V974.8H495.5zM512.4 969.1H518.1V974.8H512.4zM546.4 969.1H557.7V974.8H546.4zM648.5 969.1H654.0V974.8H648.5zM171.6 974.8H177.2V980.4H171.6zM205.2 974.8H210.8V980.4H205.2zM299.9 974.8H305.5V980.4H299.9zM501.1 974.8H506.8V980.4H501.1zM518.1 974.8H523.8V980.4H518.1zM597.4 974.8H603.1V980.4H597.4zM205.2 980.4H216.4V986.1H205.2zM350.1 980.4H355.7V986.1H350.1zM472.8 980.4H478.5V986.1H472.8zM518.1 980.4H523.8V986.1H518.1zM535.1 980.4H540.7V986.1H535.1zM591.7 980.4H597.4V986.1H591.7zM603.1 980.4H608.8V986.1H603.1zM614.4 980.4H620.1V986.1H614.4zM625.8 980.4H637.1V986.1H625.8zM81.5 986.1H87.1V991.8H81.5zM92.8 986.1H98.4V991.8H92.8zM205.2 986.1H210.8V991.8H205.2zM227.5 986.1H233.1V991.8H227.5zM238.7 986.1H249.8V991.8H238.7zM260.9 986.1H266.5V991.8H260.9zM288.8 986.1H294.4V991.8H288.8zM512.4 986.1H529.4V991.8H512.4zM569.0 986.1H574.7V991.8H569.0zM591.7 986.1H597.4V991.8H591.7zM608.8 986.1H614.4V991.8H608.8zM87.1 991.8H92.8V997.4H87.1zM165.9 991.8H171.6V997.4H165.9zM244.2 991.8H249.8V997.4H244.2zM277.7 991.8H283.2V997.4H277.7zM478.5 991.8H484.1V997.4H478.5zM557.7 991.8H563.4V997.4H557.7zM603.1 991.8H608.8V997.4H603.1zM104.0 997.4H109.7V1003.1H104.0zM143.4 997.4H149.1V1003.1H143.4zM177.2 997.4H182.8V1003.1H177.2zM222.0 997.4H238.7V1003.1H222.0zM244.2 997.4H249.8V1003.1H244.2zM299.9 997.4H305.5V1003.1H299.9zM467.2 997.4H472.8V1003.1H467.2zM478.5 997.4H484.1V1003.1H478.5zM518.1 997.4H523.8V1003.1H518.1zM642.8 997.4H648.5V1003.1H642.8zM238.7 1003.1H244.2V1008.7H238.7zM495.5 1003.1H501.1V1008.7H495.5zM552.1 1003.1H557.7V1008.7H552.1zM132.2 1008.7H137.8V1014.4H132.2zM143.4 1008.7H149.1V1014.4H143.4zM546.4 1008.7H552.1V1014.4H546.4zM591.7 1008.7H597.4V1014.4H591.7zM608.8 1008.7H614.4V1014.4H608.8zM620.1 1008.7H625.8V1014.4H620.1zM104.0 1014.4H109.7V1020.1H104.0zM160.3 1014.4H165.9V1020.1H160.3zM171.6 1014.4H177.2V1020.1H171.6zM188.5 1014.4H194.1V1020.1H188.5zM580.4 1014.4H586.1V1020.1H580.4zM591.7 1014.4H597.4V1020.1H591.7zM614.4 1014.4H620.1V1020.1H614.4zM472.8 1020.1H478.5V1025.7H472.8zM506.8 1020.1H512.4V1025.7H506.8zM631.5 1020.1H637.1V1025.7H631.5zM642.8 1020.1H648.5V1025.7H642.8zM154.7 1025.7H160.3V1031.4H154.7zM188.5 1025.7H194.1V1031.4H188.5zM216.4 1025.7H222.0V1031.4H216.4zM227.5 1025.7H233.1V1031.4H227.5zM238.7 1025.7H244.2V1031.4H238.7zM495.5 1025.7H501.1V1031.4H495.5zM540.7 1025.7H546.4V1031.4H540.7zM614.4 1025.7H625.8V1031.4H614.4zM160.3 1031.4H165.9V1037.0H160.3zM177.2 1031.4H182.8V1037.0H177.2zM199.7 1031.4H205.2V1037.0H199.7zM244.2 1031.4H249.8V1037.0H244.2zM484.1 1031.4H489.8V1037.0H484.1zM495.5 1031.4H501.1V1037.0H495.5zM523.8 1031.4H529.4V1037.0H523.8zM546.4 1031.4H552.1V1037.0H546.4zM614.4 1031.4H620.1V1037.0H614.4zM625.8 1031.4H631.5V1037.0H625.8zM98.4 1037.0H104.0V1042.7H98.4zM143.4 1037.0H149.1V1042.7H143.4zM182.8 1037.0H188.5V1042.7H182.8zM222.0 1037.0H227.5V1042.7H222.0zM238.7 1037.0H244.2V1042.7H238.7zM260.9 1037.0H266.5V1042.7H260.9zM316.7 1037.0H322.2V1042.7H316.7zM344.5 1037.0H350.1V1042.7H344.5zM484.1 1037.0H489.8V1042.7H484.1zM512.4 1037.0H523.8V1042.7H512.4zM614.4 1037.0H620.1V1042.7H614.4zM87.1 1042.7H92.8V1048.4H87.1zM132.2 1042.7H137.8V1048.4H132.2zM149.1 1042.7H154.7V1048.4H149.1zM171.6 1042.7H177.2V1048.4H171.6zM199.7 1042.7H205.2V1048.4H199.7zM222.0 1042.7H227.5V1048.4H222.0zM299.9 1042.7H305.5V1048.4H299.9zM506.8 1042.7H512.4V1048.4H506.8zM540.7 1042.7H546.4V1048.4H540.7zM563.4 1042.7H569.0V1048.4H563.4zM580.4 1042.7H586.1V1048.4H580.4zM637.1 1042.7H642.8V1048.4H637.1zM143.4 1048.4H149.1V1054.0H143.4zM188.5 1048.4H194.1V1054.0H188.5zM222.0 1048.4H227.5V1054.0H222.0zM472.8 1048.4H478.5V1054.0H472.8zM523.8 1048.4H529.4V1054.0H523.8zM540.7 1048.4H546.4V1054.0H540.7zM608.8 1048.4H614.4V1054.0H608.8zM81.5 1054.0H87.1V1059.7H81.5zM222.0 1054.0H227.5V1059.7H222.0zM244.2 1054.0H249.8V1059.7H244.2zM277.7 1054.0H288.8V1059.7H277.7zM294.4 1054.0H299.9V1059.7H294.4zM316.7 1054.0H322.2V1059.7H316.7zM489.8 1054.0H495.5V1059.7H489.8zM608.8 1054.0H614.4V1059.7H608.8zM109.7 1065.4H115.3V1071.1H109.7zM188.5 1065.4H194.1V1071.1H188.5zM199.7 1065.4H205.2V1071.1H199.7zM266.5 1065.4H272.1V1071.1H266.5zM283.2 1065.4H288.8V1071.1H283.2zM294.4 1065.4H299.9V1071.1H294.4zM305.5 1065.4H311.1V1071.1H305.5zM333.4 1065.4H344.5V1071.1H333.4zM361.2 1065.4H366.8V1071.1H361.2zM400.2 1065.4H405.8V1071.1H400.2zM478.5 1065.4H484.1V1071.1H478.5zM518.1 1065.4H523.8V1071.1H518.1zM529.4 1065.4H535.1V1071.1H529.4zM597.4 1065.4H603.1V1071.1H597.4zM631.5 1065.4H637.1V1071.1H631.5zM149.1 1071.1H154.7V1076.8H149.1zM177.2 1071.1H182.8V1076.8H177.2zM227.5 1071.1H233.1V1076.8H227.5zM260.9 1071.1H266.5V1076.8H260.9zM333.4 1071.1H338.9V1076.8H333.4zM361.2 1071.1H366.8V1076.8H361.2zM383.5 1071.1H389.1V1076.8H383.5zM422.5 1071.1H428.1V1076.8H422.5zM450.4 1071.1H455.9V1076.8H450.4zM472.8 1071.1H478.5V1076.8H472.8zM501.1 1071.1H512.4V1076.8H501.1zM523.8 1071.1H529.4V1076.8H523.8zM620.1 1071.1H625.8V1076.8H620.1zM177.2 1076.8H182.8V1082.5H177.2zM210.8 1076.8H216.4V1082.5H210.8zM244.2 1076.8H249.8V1082.5H244.2zM272.1 1076.8H277.7V1082.5H272.1zM394.6 1076.8H405.8V1082.5H394.6zM467.2 1076.8H472.8V1082.5H467.2zM171.6 1082.5H177.2V1088.2H171.6zM182.8 1082.5H188.5V1088.2H182.8zM227.5 1082.5H233.1V1088.2H227.5zM272.1 1082.5H283.2V1088.2H272.1zM288.8 1082.5H294.4V1088.2H288.8zM327.8 1082.5H333.4V1088.2H327.8zM338.9 1082.5H344.5V1088.2H338.9zM433.6 1082.5H444.8V1088.2H433.6zM591.7 1082.5H597.4V1088.2H591.7zM625.8 1082.5H631.5V1088.2H625.8zM87.1 1088.2H92.8V1094.0H87.1zM149.1 1088.2H160.3V1094.0H149.1zM171.6 1088.2H177.2V1094.0H171.6zM205.2 1088.2H222.0V1094.0H205.2zM227.5 1088.2H233.1V1094.0H227.5zM311.1 1088.2H327.8V1094.0H311.1zM361.2 1088.2H366.8V1094.0H361.2zM455.9 1088.2H461.5V1094.0H455.9zM591.7 1088.2H597.4V1094.0H591.7zM625.8 1088.2H637.1V1094.0H625.8zM255.4 1094.0H266.5V1099.7H255.4zM288.8 1094.0H294.4V1099.7H288.8zM299.9 1094.0H316.7V1099.7H299.9zM333.4 1094.0H338.9V1099.7H333.4zM350.1 1094.0H361.2V1099.7H350.1zM372.4 1094.0H377.9V1099.7H372.4zM405.8 1094.0H411.4V1099.7H405.8zM428.1 1094.0H439.2V1099.7H428.1zM165.9 1099.7H171.6V1105.4H165.9zM210.8 1099.7H216.4V1105.4H210.8zM227.5 1099.7H233.1V1105.4H227.5zM244.2 1099.7H249.8V1105.4H244.2zM294.4 1099.7H299.9V1105.4H294.4zM305.5 1099.7H311.1V1105.4H305.5zM333.4 1099.7H338.9V1105.4H333.4zM344.5 1099.7H350.1V1105.4H344.5zM377.9 1099.7H383.5V1105.4H377.9zM472.8 1099.7H478.5V1105.4H472.8zM540.7 1099.7H546.4V1105.4H540.7zM620.1 1099.7H631.5V1105.4H620.1zM648.5 1099.7H654.0V1105.4H648.5zM143.4 1105.4H154.7V1111.1H143.4zM165.9 1105.4H171.6V1111.1H165.9zM260.9 1105.4H266.5V1111.1H260.9zM322.2 1105.4H333.4V1111.1H322.2zM338.9 1105.4H344.5V1111.1H338.9zM350.1 1105.4H372.4V1111.1H350.1zM422.5 1105.4H428.1V1111.1H422.5zM444.8 1105.4H450.4V1111.1H444.8zM472.8 1105.4H478.5V1111.1H472.8zM637.1 1105.4H642.8V1111.1H637.1zM132.2 1111.1H137.8V1116.8H132.2zM305.5 1111.1H311.1V1116.8H305.5zM344.5 1111.1H350.1V1116.8H344.5zM372.4 1111.1H377.9V1116.8H372.4zM389.1 1111.1H394.6V1116.8H389.1zM439.2 1111.1H444.8V1116.8H439.2zM586.1 1111.1H591.7V1116.8H586.1zM637.1 1111.1H642.8V1116.8H637.1zM143.4 1116.8H149.1V1122.5H143.4zM233.1 1116.8H238.7V1122.5H233.1zM244.2 1116.8H249.8V1122.5H244.2zM260.9 1116.8H266.5V1122.5H260.9zM283.2 1116.8H288.8V1122.5H283.2zM327.8 1116.8H333.4V1122.5H327.8zM338.9 1116.8H344.5V1122.5H338.9zM377.9 1116.8H394.6V1122.5H377.9zM400.2 1116.8H405.8V1122.5H400.2zM439.2 1116.8H444.8V1122.5H439.2zM467.2 1116.8H472.8V1122.5H467.2zM614.4 1116.8H620.1V1122.5H614.4zM631.5 1116.8H637.1V1122.5H631.5zM642.8 1116.8H654.0V1122.5H642.8zM143.4 1122.5H149.1V1128.2H143.4zM154.7 1122.5H160.3V1128.2H154.7zM188.5 1122.5H194.1V1128.2H188.5zM255.4 1122.5H260.9V1128.2H255.4zM299.9 1122.5H305.5V1128.2H299.9zM316.7 1122.5H322.2V1128.2H316.7zM333.4 1122.5H338.9V1128.2H333.4zM366.8 1122.5H372.4V1128.2H366.8zM389.1 1122.5H394.6V1128.2H389.1zM433.6 1122.5H439.2V1128.2H433.6zM450.4 1122.5H455.9V1128.2H450.4zM472.8 1122.5H478.5V1128.2H472.8zM620.1 1122.5H625.8V1128.2H620.1zM182.8 1128.2H188.5V1133.9H182.8zM210.8 1128.2H222.0V1133.9H210.8zM350.1 1128.2H355.7V1133.9H350.1zM467.2 1128.2H472.8V1133.9H467.2zM597.4 1128.2H603.1V1133.9H597.4zM614.4 1128.2H620.1V1133.9H614.4zM637.1 1128.2H642.8V1133.9H637.1zM188.5 1133.9H194.1V1139.6H188.5zM199.7 1133.9H205.2V1139.6H199.7zM283.2 1133.9H288.8V1139.6H283.2zM299.9 1133.9H305.5V1139.6H299.9zM366.8 1133.9H372.4V1139.6H366.8zM383.5 1133.9H389.1V1139.6H383.5zM81.5 1139.6H87.1V1145.4H81.5zM188.5 1139.6H194.1V1145.4H188.5zM199.7 1139.6H205.2V1145.4H199.7zM227.5 1139.6H233.1V1145.4H227.5zM288.8 1139.6H294.4V1145.4H288.8zM361.2 1139.6H366.8V1145.4H361.2zM428.1 1139.6H433.6V1145.4H428.1zM444.8 1139.6H455.9V1145.4H444.8zM501.1 1139.6H506.8V1145.4H501.1zM143.4 1145.4H149.1V1151.1H143.4zM188.5 1145.4H194.1V1151.1H188.5zM249.8 1145.4H255.4V1151.1H249.8zM266.5 1145.4H272.1V1151.1H266.5zM283.2 1145.4H288.8V1151.1H283.2zM350.1 1145.4H355.7V1151.1H350.1zM361.2 1145.4H377.9V1151.1H361.2zM411.4 1145.4H416.9V1151.1H411.4zM433.6 1145.4H439.2V1151.1H433.6zM546.4 1145.4H552.1V1151.1H546.4zM608.8 1145.4H614.4V1151.1H608.8zM98.4 1151.1H104.0V1156.8H98.4zM222.0 1151.1H227.5V1156.8H222.0zM238.7 1151.1H244.2V1156.8H238.7zM294.4 1151.1H299.9V1156.8H294.4zM372.4 1151.1H377.9V1156.8H372.4zM405.8 1151.1H411.4V1156.8H405.8zM637.1 1151.1H642.8V1156.8H637.1zM137.8 1156.8H143.4V1162.5H137.8zM154.7 1156.8H165.9V1162.5H154.7zM227.5 1156.8H233.1V1162.5H227.5zM238.7 1156.8H244.2V1162.5H238.7zM266.5 1156.8H272.1V1162.5H266.5zM366.8 1156.8H372.4V1162.5H366.8zM394.6 1156.8H400.2V1162.5H394.6zM160.3 1162.5H177.2V1168.2H160.3zM238.7 1162.5H244.2V1168.2H238.7zM260.9 1162.5H266.5V1168.2H260.9zM272.1 1162.5H277.7V1168.2H272.1zM366.8 1162.5H372.4V1168.2H366.8zM444.8 1162.5H450.4V1168.2H444.8zM171.6 1168.2H177.2V1173.9H171.6zM205.2 1168.2H210.8V1173.9H205.2zM322.2 1168.2H327.8V1173.9H322.2zM366.8 1168.2H372.4V1173.9H366.8zM389.1 1168.2H394.6V1173.9H389.1zM642.8 1168.2H648.5V1173.9H642.8zM182.8 1179.5H188.5V1185.2H182.8zM249.8 1179.5H255.4V1185.2H249.8zM277.7 1179.5H283.2V1185.2H277.7zM333.4 1179.5H338.9V1185.2H333.4zM416.9 1179.5H422.5V1185.2H416.9zM444.8 1179.5H450.4V1185.2H444.8zM586.1 1179.5H591.7V1185.2H586.1zM87.1 1185.2H92.8V1190.8H87.1zM199.7 1185.2H210.8V1190.8H199.7zM272.1 1185.2H277.7V1190.8H272.1zM283.2 1185.2H288.8V1190.8H283.2zM316.7 1185.2H322.2V1190.8H316.7zM327.8 1185.2H333.4V1190.8H327.8zM338.9 1185.2H344.5V1190.8H338.9zM355.7 1185.2H366.8V1190.8H355.7zM512.4 1185.2H518.1V1190.8H512.4zM580.4 1185.2H586.1V1190.8H580.4zM597.4 1185.2H603.1V1190.8H597.4zM143.4 1190.8H149.1V1196.4H143.4zM199.7 1190.8H205.2V1196.4H199.7zM222.0 1190.8H227.5V1196.4H222.0zM233.1 1190.8H238.7V1196.4H233.1zM283.2 1190.8H288.8V1196.4H283.2zM294.4 1190.8H305.5V1196.4H294.4zM338.9 1190.8H344.5V1196.4H338.9zM355.7 1190.8H361.2V1196.4H355.7zM383.5 1190.8H394.6V1196.4H383.5zM411.4 1190.8H422.5V1196.4H411.4zM484.1 1190.8H495.5V1196.4H484.1zM227.5 1196.4H238.7V1202.1H227.5zM249.8 1196.4H255.4V1202.1H249.8zM266.5 1196.4H277.7V1202.1H266.5zM311.1 1196.4H316.7V1202.1H311.1zM338.9 1196.4H344.5V1202.1H338.9zM377.9 1196.4H383.5V1202.1H377.9zM467.2 1196.4H472.8V1202.1H467.2zM529.4 1196.4H535.1V1202.1H529.4zM586.1 1196.4H591.7V1202.1H586.1zM104.0 1202.1H109.7V1207.7H104.0zM222.0 1202.1H227.5V1207.7H222.0zM277.7 1202.1H294.4V1207.7H277.7zM383.5 1202.1H389.1V1207.7H383.5zM394.6 1202.1H400.2V1207.7H394.6zM149.1 1207.7H160.3V1213.3H149.1zM165.9 1207.7H171.6V1213.3H165.9zM188.5 1207.7H194.1V1213.3H188.5zM249.8 1207.7H255.4V1213.3H249.8zM299.9 1207.7H305.5V1213.3H299.9zM355.7 1207.7H361.2V1213.3H355.7zM389.1 1207.7H394.6V1213.3H389.1zM411.4 1207.7H416.9V1213.3H411.4zM450.4 1207.7H461.5V1213.3H450.4zM546.4 1207.7H552.1V1213.3H546.4zM272.1 1213.3H277.7V1219.0H272.1zM333.4 1213.3H338.9V1219.0H333.4zM344.5 1213.3H350.1V1219.0H344.5zM361.2 1213.3H366.8V1219.0H361.2zM383.5 1213.3H389.1V1219.0H383.5zM416.9 1213.3H422.5V1219.0H416.9zM428.1 1213.3H444.8V1219.0H428.1zM518.1 1213.3H523.8V1219.0H518.1zM529.4 1213.3H535.1V1219.0H529.4zM154.7 1219.0H160.3V1224.6H154.7zM171.6 1219.0H177.2V1224.6H171.6zM294.4 1219.0H299.9V1224.6H294.4zM311.1 1219.0H316.7V1224.6H311.1zM327.8 1219.0H333.4V1224.6H327.8zM411.4 1219.0H416.9V1224.6H411.4zM428.1 1219.0H433.6V1224.6H428.1zM472.8 1219.0H478.5V1224.6H472.8zM501.1 1219.0H506.8V1224.6H501.1zM523.8 1219.0H529.4V1224.6H523.8zM109.7 1224.6H115.3V1230.3H109.7zM205.2 1224.6H210.8V1230.3H205.2zM266.5 1224.6H277.7V1230.3H266.5zM344.5 1224.6H350.1V1230.3H344.5zM383.5 1224.6H389.1V1230.3H383.5zM433.6 1224.6H439.2V1230.3H433.6zM484.1 1224.6H495.5V1230.3H484.1zM501.1 1224.6H506.8V1230.3H501.1zM160.3 1230.3H165.9V1235.9H160.3zM182.8 1230.3H188.5V1235.9H182.8zM216.4 1230.3H222.0V1235.9H216.4zM238.7 1230.3H244.2V1235.9H238.7zM316.7 1230.3H322.2V1235.9H316.7zM383.5 1230.3H389.1V1235.9H383.5zM422.5 1230.3H428.1V1235.9H422.5zM467.2 1230.3H472.8V1235.9H467.2zM489.8 1230.3H495.5V1235.9H489.8zM518.1 1230.3H523.8V1235.9H518.1zM87.1 1235.9H92.8V1241.5H87.1zM165.9 1235.9H171.6V1241.5H165.9zM188.5 1235.9H194.1V1241.5H188.5zM205.2 1235.9H210.8V1241.5H205.2zM272.1 1235.9H277.7V1241.5H272.1zM322.2 1235.9H327.8V1241.5H322.2zM444.8 1235.9H450.4V1241.5H444.8zM506.8 1235.9H518.1V1241.5H506.8zM529.4 1235.9H535.1V1241.5H529.4zM552.1 1235.9H557.7V1241.5H552.1zM210.8 1241.5H216.4V1247.2H210.8zM244.2 1241.5H249.8V1247.2H244.2zM283.2 1241.5H288.8V1247.2H283.2zM400.2 1241.5H405.8V1247.2H400.2zM422.5 1241.5H428.1V1247.2H422.5zM518.1 1241.5H523.8V1247.2H518.1zM569.0 1241.5H574.7V1247.2H569.0zM244.2 1247.2H249.8V1252.8H244.2zM255.4 1247.2H260.9V1252.8H255.4zM272.1 1247.2H277.7V1252.8H272.1zM288.8 1247.2H294.4V1252.8H288.8zM299.9 1247.2H305.5V1252.8H299.9zM327.8 1247.2H333.4V1252.8H327.8zM394.6 1247.2H400.2V1252.8H394.6zM405.8 1247.2H411.4V1252.8H405.8zM428.1 1247.2H433.6V1252.8H428.1zM439.2 1247.2H444.8V1252.8H439.2zM512.4 1247.2H518.1V1252.8H512.4zM563.4 1247.2H569.0V1252.8H563.4zM154.7 1252.8H160.3V1258.4H154.7zM272.1 1252.8H277.7V1258.4H272.1zM428.1 1252.8H433.6V1258.4H428.1zM569.0 1252.8H574.7V1258.4H569.0zM614.4 1252.8H620.1V1258.4H614.4z"/><path fill="#fd8480" d="M92.8 679.3H98.4V685.0H92.8zM210.8 679.3H216.4V685.0H210.8zM238.7 679.3H244.2V685.0H238.7zM87.1 685.0H92.8V690.7H87.1zM132.2 685.0H137.8V690.7H132.2zM165.9 685.0H171.6V690.7H165.9zM132.2 690.7H137.8V696.4H132.2zM377.9 690.7H383.5V696.4H377.9zM563.4 690.7H569.0V696.4H563.4zM165.9 696.4H171.6V702.2H165.9zM372.4 696.4H377.9V702.2H372.4zM171.6 702.2H177.2V707.9H171.6zM283.2 702.2H288.8V707.9H283.2zM535.1 707.9H540.7V713.6H535.1zM92.8 725.0H104.0V730.7H92.8zM165.9 725.0H177.2V730.7H165.9zM227.5 725.0H233.1V730.7H227.5zM238.7 725.0H244.2V730.7H238.7zM260.9 725.0H266.5V730.7H260.9zM277.7 725.0H283.2V730.7H277.7zM299.9 725.0H311.1V730.7H299.9zM350.1 725.0H361.2V730.7H350.1zM467.2 725.0H472.8V730.7H467.2zM569.0 725.0H574.7V730.7H569.0zM81.5 730.7H87.1V736.5H81.5zM283.2 730.7H288.8V736.5H283.2zM322.2 730.7H327.8V736.5H322.2zM361.2 730.7H366.8V736.5H361.2zM372.4 730.7H377.9V736.5H372.4zM422.5 730.7H428.1V736.5H422.5zM455.9 730.7H461.5V736.5H455.9zM149.1 736.5H154.7V742.2H149.1zM171.6 736.5H177.2V742.2H171.6zM199.7 736.5H205.2V742.2H199.7zM338.9 736.5H344.5V742.2H338.9zM422.5 736.5H428.1V742.2H422.5zM143.4 742.2H154.7V747.9H143.4zM222.0 742.2H227.5V747.9H222.0zM283.2 742.2H288.8V747.9H283.2zM294.4 742.2H299.9V747.9H294.4zM355.7 742.2H361.2V747.9H355.7zM394.6 742.2H400.2V747.9H394.6zM411.4 742.2H416.9V747.9H411.4zM557.7 742.2H563.4V747.9H557.7zM591.7 742.2H597.4V747.9H591.7zM233.1 747.9H238.7V753.6H233.1zM255.4 747.9H260.9V753.6H255.4zM266.5 747.9H272.1V753.6H266.5zM355.7 747.9H361.2V753.6H355.7zM366.8 747.9H372.4V753.6H366.8zM422.5 747.9H428.1V753.6H422.5zM444.8 747.9H450.4V753.6H444.8zM506.8 747.9H512.4V753.6H506.8zM540.7 747.9H546.4V753.6H540.7zM625.8 747.9H631.5V753.6H625.8zM238.7 753.6H244.2V759.3H238.7zM294.4 753.6H299.9V759.3H294.4zM333.4 753.6H338.9V759.3H333.4zM344.5 753.6H350.1V759.3H344.5zM361.2 753.6H366.8V759.3H361.2zM372.4 753.6H383.5V759.3H372.4zM422.5 753.6H433.6V759.3H422.5zM472.8 753.6H478.5V759.3H472.8zM512.4 753.6H518.1V759.3H512.4zM569.0 753.6H574.7V759.3H569.0zM92.8 759.3H98.4V765.0H92.8zM104.0 759.3H109.7V765.0H104.0zM132.2 759.3H137.8V765.0H132.2zM177.2 759.3H182.8V765.0H177.2zM233.1 759.3H238.7V765.0H233.1zM411.4 759.3H422.5V765.0H411.4zM109.7 765.0H115.3V770.8H109.7zM132.2 765.0H137.8V770.8H132.2zM143.4 765.0H149.1V770.8H143.4zM238.7 765.0H249.8V770.8H238.7zM277.7 765.0H283.2V770.8H277.7zM288.8 765.0H294.4V770.8H288.8zM333.4 765.0H338.9V770.8H333.4zM366.8 765.0H377.9V770.8H366.8zM400.2 765.0H405.8V770.8H400.2zM529.4 765.0H535.1V770.8H529.4zM165.9 770.8H171.6V776.5H165.9zM210.8 770.8H222.0V776.5H210.8zM227.5 770.8H233.1V776.5H227.5zM277.7 770.8H283.2V776.5H277.7zM316.7 770.8H322.2V776.5H316.7zM377.9 770.8H383.5V776.5H377.9zM428.1 770.8H433.6V776.5H428.1zM444.8 770.8H450.4V776.5H444.8zM455.9 770.8H461.5V776.5H455.9zM540.7 770.8H546.4V776.5H540.7zM603.1 770.8H608.8V776.5H603.1zM244.2 776.5H255.4V782.2H244.2zM350.1 776.5H355.7V782.2H350.1zM377.9 776.5H383.5V782.2H377.9zM394.6 776.5H405.8V782.2H394.6zM450.4 776.5H455.9V782.2H450.4zM501.1 776.5H506.8V782.2H501.1zM518.1 776.5H523.8V782.2H518.1zM535.1 776.5H540.7V782.2H535.1zM608.8 776.5H614.4V782.2H608.8zM188.5 782.2H194.1V787.9H188.5zM205.2 782.2H210.8V787.9H205.2zM255.4 782.2H260.9V787.9H255.4zM294.4 782.2H299.9V787.9H294.4zM422.5 782.2H428.1V787.9H422.5zM433.6 782.2H444.8V787.9H433.6zM518.1 782.2H523.8V787.9H518.1zM569.0 782.2H574.7V787.9H569.0zM143.4 793.6H149.1V799.2H143.4zM272.1 793.6H277.7V799.2H272.1zM288.8 793.6H294.4V799.2H288.8zM305.5 793.6H311.1V799.2H305.5zM361.2 793.6H366.8V799.2H361.2zM400.2 793.6H405.8V799.2H400.2zM428.1 793.6H433.6V799.2H428.1zM188.5 799.2H194.1V804.9H188.5zM244.2 799.2H249.8V804.9H244.2zM283.2 799.2H288.8V804.9H283.2zM333.4 799.2H338.9V804.9H333.4zM372.4 799.2H377.9V804.9H372.4zM394.6 799.2H405.8V804.9H394.6zM422.5 799.2H428.1V804.9H422.5zM472.8 799.2H478.5V804.9H472.8zM529.4 799.2H535.1V804.9H529.4zM87.1 804.9H92.8V810.5H87.1zM177.2 804.9H182.8V810.5H177.2zM299.9 804.9H322.2V810.5H299.9zM372.4 804.9H377.9V810.5H372.4zM400.2 804.9H405.8V810.5H400.2zM495.5 804.9H501.1V810.5H495.5zM597.4 804.9H603.1V810.5H597.4zM177.2 810.5H182.8V816.2H177.2zM277.7 810.5H283.2V816.2H277.7zM333.4 810.5H338.9V816.2H333.4zM372.4 810.5H377.9V816.2H372.4zM405.8 810.5H411.4V816.2H405.8zM535.1 810.5H540.7V816.2H535.1zM149.1 816.2H154.7V821.9H149.1zM294.4 816.2H299.9V821.9H294.4zM361.2 816.2H366.8V821.9H361.2zM377.9 816.2H389.1V821.9H377.9zM557.7 816.2H563.4V821.9H557.7zM597.4 816.2H603.1V821.9H597.4zM132.2 821.9H137.8V827.5H132.2zM177.2 821.9H182.8V827.5H177.2zM305.5 821.9H316.7V827.5H305.5zM322.2 821.9H327.8V827.5H322.2zM377.9 821.9H383.5V827.5H377.9zM422.5 821.9H428.1V827.5H422.5zM478.5 821.9H484.1V827.5H478.5zM523.8 821.9H529.4V827.5H523.8zM552.1 821.9H557.7V827.5H552.1zM569.0 821.9H574.7V827.5H569.0zM154.7 827.5H160.3V833.2H154.7zM165.9 827.5H171.6V833.2H165.9zM249.8 827.5H255.4V833.2H249.8zM266.5 827.5H272.1V833.2H266.5zM305.5 827.5H316.7V833.2H305.5zM344.5 827.5H350.1V833.2H344.5zM361.2 827.5H366.8V833.2H361.2zM467.2 827.5H472.8V833.2H467.2zM631.5 827.5H637.1V833.2H631.5zM87.1 833.2H92.8V838.9H87.1zM132.2 833.2H137.8V838.9H132.2zM160.3 833.2H165.9V838.9H160.3zM171.6 833.2H177.2V838.9H171.6zM416.9 833.2H422.5V838.9H416.9zM472.8 833.2H478.5V838.9H472.8zM523.8 833.2H529.4V838.9H523.8zM603.1 833.2H608.8V838.9H603.1zM171.6 838.9H177.2V844.5H171.6zM182.8 838.9H188.5V844.5H182.8zM205.2 838.9H210.8V844.5H205.2zM450.4 838.9H455.9V844.5H450.4zM506.8 838.9H512.4V844.5H506.8zM546.4 838.9H552.1V844.5H546.4zM557.7 838.9H563.4V844.5H557.7zM603.1 838.9H614.4V844.5H603.1zM182.8 844.5H188.5V850.2H182.8zM233.1 844.5H238.7V850.2H233.1zM355.7 844.5H361.2V850.2H355.7zM394.6 844.5H400.2V850.2H394.6zM405.8 844.5H411.4V850.2H405.8zM422.5 844.5H428.1V850.2H422.5zM484.1 844.5H489.8V850.2H484.1zM501.1 844.5H506.8V850.2H501.1zM154.7 850.2H160.3V855.9H154.7zM188.5 850.2H194.1V855.9H188.5zM316.7 850.2H322.2V855.9H316.7zM344.5 850.2H355.7V855.9H344.5zM383.5 850.2H389.1V855.9H383.5zM411.4 850.2H428.1V855.9H411.4zM433.6 850.2H444.8V855.9H433.6zM484.1 850.2H489.8V855.9H484.1zM518.1 850.2H523.8V855.9H518.1zM625.8 850.2H631.5V855.9H625.8zM132.2 855.9H137.8V861.5H132.2zM311.1 855.9H316.7V861.5H311.1zM400.2 855.9H405.8V861.5H400.2zM455.9 855.9H461.5V861.5H455.9zM489.8 855.9H495.5V861.5H489.8zM580.4 855.9H586.1V861.5H580.4zM608.8 855.9H614.4V861.5H608.8zM154.7 861.5H160.3V867.2H154.7zM233.1 861.5H238.7V867.2H233.1zM450.4 861.5H455.9V867.2H450.4zM472.8 861.5H478.5V867.2H472.8zM540.7 861.5H546.4V867.2H540.7zM552.1 861.5H557.7V867.2H552.1zM563.4 861.5H569.0V867.2H563.4zM614.4 861.5H620.1V867.2H614.4zM631.5 861.5H637.1V867.2H631.5zM199.7 867.2H205.2V872.8H199.7zM416.9 867.2H422.5V872.8H416.9zM428.1 867.2H433.6V872.8H428.1zM455.9 867.2H461.5V872.8H455.9zM467.2 867.2H472.8V872.8H467.2zM495.5 867.2H501.1V872.8H495.5zM569.0 867.2H574.7V872.8H569.0zM642.8 867.2H648.5V872.8H642.8zM132.2 872.8H137.8V878.5H132.2zM171.6 872.8H182.8V878.5H171.6zM216.4 872.8H222.0V878.5H216.4zM361.2 872.8H366.8V878.5H361.2zM428.1 872.8H433.6V878.5H428.1zM472.8 872.8H484.1V878.5H472.8zM489.8 872.8H495.5V878.5H489.8zM529.4 872.8H535.1V878.5H529.4zM563.4 872.8H569.0V878.5H563.4zM597.4 872.8H603.1V878.5H597.4zM109.7 878.5H115.3V884.2H109.7zM137.8 878.5H143.4V884.2H137.8zM149.1 878.5H154.7V884.2H149.1zM205.2 878.5H210.8V884.2H205.2zM389.1 878.5H394.6V884.2H389.1zM428.1 878.5H433.6V884.2H428.1zM450.4 878.5H455.9V884.2H450.4zM495.5 878.5H501.1V884.2H495.5zM580.4 878.5H586.1V884.2H580.4zM620.1 878.5H625.8V884.2H620.1zM81.5 884.2H87.1V889.8H81.5zM171.6 884.2H177.2V889.8H171.6zM199.7 884.2H205.2V889.8H199.7zM455.9 884.2H461.5V889.8H455.9zM518.1 884.2H523.8V889.8H518.1zM557.7 884.2H563.4V889.8H557.7zM569.0 884.2H574.7V889.8H569.0zM149.1 889.8H154.7V895.5H149.1zM160.3 889.8H165.9V895.5H160.3zM188.5 889.8H194.1V895.5H188.5zM222.0 889.8H227.5V895.5H222.0zM450.4 889.8H455.9V895.5H450.4zM132.2 895.5H137.8V901.1H132.2zM210.8 895.5H216.4V901.1H210.8zM305.5 895.5H311.1V901.1H305.5zM132.2 901.1H137.8V906.8H132.2zM199.7 901.1H205.2V906.8H199.7zM210.8 901.1H216.4V906.8H210.8zM227.5 901.1H238.7V906.8H227.5zM299.9 901.1H305.5V906.8H299.9zM383.5 901.1H389.1V906.8H383.5zM478.5 901.1H484.1V906.8H478.5zM489.8 901.1H495.5V906.8H489.8zM529.4 901.1H535.1V906.8H529.4zM552.1 901.1H557.7V906.8H552.1zM603.1 901.1H608.8V906.8H603.1zM210.8 906.8H216.4V912.5H210.8zM227.5 906.8H238.7V912.5H227.5zM260.9 906.8H266.5V912.5H260.9zM361.2 906.8H366.8V912.5H361.2zM394.6 906.8H400.2V912.5H394.6zM472.8 906.8H478.5V912.5H472.8zM501.1 906.8H506.8V912.5H501.1zM518.1 906.8H523.8V912.5H518.1zM563.4 906.8H569.0V912.5H563.4zM586.1 906.8H591.7V912.5H586.1zM631.5 906.8H637.1V912.5H631.5zM81.5 912.5H87.1V918.1H81.5zM177.2 912.5H182.8V918.1H177.2zM210.8 912.5H216.4V918.1H210.8zM255.4 912.5H260.9V918.1H255.4zM377.9 912.5H383.5V918.1H377.9zM512.4 912.5H523.8V918.1H512.4zM552.1 912.5H557.7V918.1H552.1zM597.4 912.5H603.1V918.1H597.4zM137.8 918.1H143.4V923.8H137.8zM227.5 918.1H233.1V923.8H227.5zM383.5 918.1H389.1V923.8H383.5zM439.2 918.1H444.8V923.8H439.2zM472.8 918.1H478.5V923.8H472.8zM484.1 918.1H489.8V923.8H484.1zM512.4 918.1H518.1V923.8H512.4zM529.4 918.1H535.1V923.8H529.4zM540.7 918.1H552.1V923.8H540.7zM603.1 918.1H608.8V923.8H603.1zM455.9 923.8H461.5V929.5H455.9zM489.8 923.8H495.5V929.5H489.8zM501.1 923.8H506.8V929.5H501.1zM552.1 923.8H557.7V929.5H552.1zM603.1 923.8H608.8V929.5H603.1zM631.5 923.8H637.1V929.5H631.5zM160.3 929.5H165.9V935.1H160.3zM171.6 929.5H177.2V935.1H171.6zM205.2 929.5H210.8V935.1H205.2zM216.4 929.5H222.0V935.1H216.4zM546.4 929.5H552.1V935.1H546.4zM557.7 929.5H569.0V935.1H557.7zM143.4 935.1H149.1V940.8H143.4zM394.6 935.1H400.2V940.8H394.6zM428.1 935.1H433.6V940.8H428.1zM472.8 935.1H484.1V940.8H472.8zM489.8 935.1H501.1V940.8H489.8zM160.3 940.8H165.9V946.5H160.3zM233.1 940.8H238.7V946.5H233.1zM255.4 940.8H260.9V946.5H255.4zM506.8 940.8H512.4V946.5H506.8zM586.1 940.8H591.7V946.5H586.1zM597.4 940.8H603.1V946.5H597.4zM132.2 946.5H137.8V952.1H132.2zM182.8 946.5H188.5V952.1H182.8zM255.4 946.5H260.9V952.1H255.4zM428.1 946.5H433.6V952.1H428.1zM467.2 946.5H478.5V952.1H467.2zM552.1 946.5H563.4V952.1H552.1zM132.2 952.1H137.8V957.8H132.2zM149.1 952.1H160.3V957.8H149.1zM249.8 952.1H255.4V957.8H249.8zM428.1 952.1H433.6V957.8H428.1zM484.1 952.1H489.8V957.8H484.1zM501.1 952.1H506.8V957.8H501.1zM535.1 952.1H540.7V957.8H535.1zM546.4 952.1H552.1V957.8H546.4zM563.4 952.1H569.0V957.8H563.4zM137.8 957.8H143.4V963.4H137.8zM160.3 957.8H165.9V963.4H160.3zM199.7 957.8H205.2V963.4H199.7zM222.0 957.8H227.5V963.4H222.0zM233.1 957.8H238.7V963.4H233.1zM277.7 957.8H283.2V963.4H277.7zM311.1 957.8H316.7V963.4H311.1zM518.1 957.8H523.8V963.4H518.1zM529.4 957.8H540.7V963.4H529.4zM154.7 963.4H160.3V969.1H154.7zM171.6 963.4H177.2V969.1H171.6zM478.5 963.4H495.5V969.1H478.5zM603.1 963.4H614.4V969.1H603.1zM642.8 963.4H648.5V969.1H642.8zM104.0 969.1H109.7V974.8H104.0zM137.8 969.1H143.4V974.8H137.8zM160.3 969.1H165.9V974.8H160.3zM171.6 969.1H177.2V974.8H171.6zM205.2 969.1H222.0V974.8H205.2zM518.1 969.1H523.8V974.8H518.1zM540.7 969.1H546.4V974.8H540.7zM597.4 969.1H603.1V974.8H597.4zM625.8 969.1H631.5V974.8H625.8zM98.4 974.8H104.0V980.4H98.4zM160.3 974.8H165.9V980.4H160.3zM177.2 974.8H188.5V980.4H177.2zM222.0 974.8H233.1V980.4H222.0zM316.7 974.8H322.2V980.4H316.7zM416.9 974.8H422.5V980.4H416.9zM472.8 974.8H478.5V980.4H472.8zM495.5 974.8H501.1V980.4H495.5zM512.4 974.8H518.1V980.4H512.4zM552.1 974.8H563.4V980.4H552.1zM580.4 974.8H586.1V980.4H580.4zM222.0 980.4H227.5V986.1H222.0zM255.4 980.4H260.9V986.1H255.4zM305.5 980.4H311.1V986.1H305.5zM322.2 980.4H327.8V986.1H322.2zM495.5 980.4H501.1V986.1H495.5zM557.7 980.4H563.4V986.1H557.7zM569.0 980.4H574.7V986.1H569.0zM608.8 980.4H614.4V986.1H608.8zM283.2 986.1H288.8V991.8H283.2zM400.2 986.1H405.8V991.8H400.2zM428.1 986.1H433.6V991.8H428.1zM467.2 986.1H472.8V991.8H467.2zM501.1 986.1H506.8V991.8H501.1zM529.4 986.1H535.1V991.8H529.4zM620.1 986.1H625.8V991.8H620.1zM149.1 991.8H154.7V997.4H149.1zM182.8 991.8H188.5V997.4H182.8zM205.2 991.8H210.8V997.4H205.2zM249.8 991.8H255.4V997.4H249.8zM311.1 991.8H316.7V997.4H311.1zM338.9 991.8H344.5V997.4H338.9zM422.5 991.8H428.1V997.4H422.5zM489.8 991.8H495.5V997.4H489.8zM512.4 991.8H518.1V997.4H512.4zM591.7 991.8H597.4V997.4H591.7zM625.8 991.8H631.5V997.4H625.8zM171.6 997.4H177.2V1003.1H171.6zM182.8 997.4H188.5V1003.1H182.8zM199.7 997.4H216.4V1003.1H199.7zM260.9 997.4H266.5V1003.1H260.9zM389.1 997.4H394.6V1003.1H389.1zM450.4 997.4H461.5V1003.1H450.4zM472.8 997.4H478.5V1003.1H472.8zM495.5 997.4H501.1V1003.1H495.5zM506.8 997.4H512.4V1003.1H506.8zM523.8 997.4H529.4V1003.1H523.8zM608.8 997.4H614.4V1003.1H608.8zM216.4 1003.1H222.0V1008.7H216.4zM249.8 1003.1H255.4V1008.7H249.8zM489.8 1003.1H495.5V1008.7H489.8zM518.1 1003.1H529.4V1008.7H518.1zM569.0 1003.1H574.7V1008.7H569.0zM149.1 1008.7H154.7V1014.4H149.1zM165.9 1008.7H171.6V1014.4H165.9zM255.4 1008.7H260.9V1014.4H255.4zM552.1 1008.7H557.7V1014.4H552.1zM563.4 1008.7H569.0V1014.4H563.4zM631.5 1008.7H637.1V1014.4H631.5zM165.9 1014.4H171.6V1020.1H165.9zM238.7 1014.4H244.2V1020.1H238.7zM255.4 1014.4H260.9V1020.1H255.4zM272.1 1014.4H277.7V1020.1H272.1zM377.9 1014.4H383.5V1020.1H377.9zM455.9 1014.4H461.5V1020.1H455.9zM529.4 1014.4H535.1V1020.1H529.4zM540.7 1014.4H557.7V1020.1H540.7zM597.4 1014.4H603.1V1020.1H597.4zM608.8 1014.4H614.4V1020.1H608.8zM137.8 1020.1H149.1V1025.7H137.8zM154.7 1020.1H165.9V1025.7H154.7zM188.5 1020.1H194.1V1025.7H188.5zM205.2 1020.1H210.8V1025.7H205.2zM227.5 1020.1H233.1V1025.7H227.5zM249.8 1020.1H260.9V1025.7H249.8zM394.6 1020.1H400.2V1025.7H394.6zM478.5 1020.1H484.1V1025.7H478.5zM529.4 1020.1H535.1V1025.7H529.4zM552.1 1020.1H557.7V1025.7H552.1zM563.4 1020.1H569.0V1025.7H563.4zM586.1 1020.1H597.4V1025.7H586.1zM603.1 1020.1H625.8V1025.7H603.1zM160.3 1025.7H165.9V1031.4H160.3zM177.2 1025.7H182.8V1031.4H177.2zM199.7 1025.7H205.2V1031.4H199.7zM272.1 1025.7H288.8V1031.4H272.1zM338.9 1025.7H344.5V1031.4H338.9zM350.1 1025.7H361.2V1031.4H350.1zM389.1 1025.7H394.6V1031.4H389.1zM506.8 1025.7H512.4V1031.4H506.8zM518.1 1025.7H523.8V1031.4H518.1zM586.1 1025.7H591.7V1031.4H586.1zM188.5 1031.4H194.1V1037.0H188.5zM255.4 1031.4H260.9V1037.0H255.4zM467.2 1031.4H472.8V1037.0H467.2zM489.8 1031.4H495.5V1037.0H489.8zM552.1 1031.4H557.7V1037.0H552.1zM591.7 1031.4H597.4V1037.0H591.7zM81.5 1037.0H87.1V1042.7H81.5zM188.5 1037.0H194.1V1042.7H188.5zM255.4 1037.0H260.9V1042.7H255.4zM322.2 1037.0H327.8V1042.7H322.2zM489.8 1037.0H495.5V1042.7H489.8zM506.8 1037.0H512.4V1042.7H506.8zM546.4 1037.0H569.0V1042.7H546.4zM620.1 1037.0H625.8V1042.7H620.1zM631.5 1037.0H637.1V1042.7H631.5zM154.7 1042.7H160.3V1048.4H154.7zM177.2 1042.7H182.8V1048.4H177.2zM455.9 1042.7H461.5V1048.4H455.9zM467.2 1042.7H472.8V1048.4H467.2zM614.4 1042.7H620.1V1048.4H614.4zM182.8 1048.4H188.5V1054.0H182.8zM244.2 1048.4H249.8V1054.0H244.2zM266.5 1048.4H272.1V1054.0H266.5zM283.2 1048.4H288.8V1054.0H283.2zM294.4 1048.4H299.9V1054.0H294.4zM400.2 1048.4H405.8V1054.0H400.2zM529.4 1048.4H535.1V1054.0H529.4zM557.7 1048.4H563.4V1054.0H557.7zM137.8 1054.0H143.4V1059.7H137.8zM177.2 1054.0H182.8V1059.7H177.2zM260.9 1054.0H266.5V1059.7H260.9zM272.1 1054.0H277.7V1059.7H272.1zM288.8 1054.0H294.4V1059.7H288.8zM327.8 1054.0H333.4V1059.7H327.8zM400.2 1054.0H405.8V1059.7H400.2zM416.9 1054.0H422.5V1059.7H416.9zM444.8 1054.0H450.4V1059.7H444.8zM506.8 1054.0H512.4V1059.7H506.8zM603.1 1054.0H608.8V1059.7H603.1zM132.2 1065.4H137.8V1071.1H132.2zM233.1 1065.4H238.7V1071.1H233.1zM272.1 1065.4H277.7V1071.1H272.1zM350.1 1065.4H355.7V1071.1H350.1zM389.1 1065.4H394.6V1071.1H389.1zM433.6 1065.4H439.2V1071.1H433.6zM444.8 1065.4H450.4V1071.1H444.8zM501.1 1065.4H506.8V1071.1H501.1zM580.4 1065.4H586.1V1071.1H580.4zM620.1 1065.4H625.8V1071.1H620.1zM160.3 1071.1H165.9V1076.8H160.3zM205.2 1071.1H210.8V1076.8H205.2zM238.7 1071.1H244.2V1076.8H238.7zM266.5 1071.1H272.1V1076.8H266.5zM277.7 1071.1H283.2V1076.8H277.7zM311.1 1071.1H316.7V1076.8H311.1zM322.2 1071.1H327.8V1076.8H322.2zM338.9 1071.1H344.5V1076.8H338.9zM350.1 1071.1H355.7V1076.8H350.1zM377.9 1071.1H383.5V1076.8H377.9zM400.2 1071.1H405.8V1076.8H400.2zM478.5 1071.1H484.1V1076.8H478.5zM529.4 1071.1H540.7V1076.8H529.4zM608.8 1071.1H620.1V1076.8H608.8zM625.8 1071.1H631.5V1076.8H625.8zM227.5 1076.8H233.1V1082.5H227.5zM277.7 1076.8H283.2V1082.5H277.7zM305.5 1076.8H311.1V1082.5H305.5zM338.9 1076.8H344.5V1082.5H338.9zM366.8 1076.8H372.4V1082.5H366.8zM422.5 1076.8H428.1V1082.5H422.5zM472.8 1076.8H478.5V1082.5H472.8zM249.8 1082.5H260.9V1088.2H249.8zM322.2 1082.5H327.8V1088.2H322.2zM355.7 1082.5H361.2V1088.2H355.7zM366.8 1082.5H372.4V1088.2H366.8zM614.4 1082.5H620.1V1088.2H614.4zM637.1 1082.5H642.8V1088.2H637.1zM260.9 1088.2H266.5V1094.0H260.9zM277.7 1088.2H283.2V1094.0H277.7zM305.5 1088.2H311.1V1094.0H305.5zM327.8 1088.2H333.4V1094.0H327.8zM338.9 1088.2H344.5V1094.0H338.9zM366.8 1088.2H372.4V1094.0H366.8zM394.6 1088.2H400.2V1094.0H394.6zM405.8 1088.2H411.4V1094.0H405.8zM433.6 1088.2H444.8V1094.0H433.6zM210.8 1094.0H216.4V1099.7H210.8zM272.1 1094.0H277.7V1099.7H272.1zM283.2 1094.0H288.8V1099.7H283.2zM338.9 1094.0H344.5V1099.7H338.9zM377.9 1094.0H389.1V1099.7H377.9zM400.2 1094.0H405.8V1099.7H400.2zM591.7 1094.0H597.4V1099.7H591.7zM614.4 1094.0H620.1V1099.7H614.4zM631.5 1094.0H637.1V1099.7H631.5zM182.8 1099.7H188.5V1105.4H182.8zM249.8 1099.7H255.4V1105.4H249.8zM311.1 1099.7H316.7V1105.4H311.1zM327.8 1099.7H333.4V1105.4H327.8zM355.7 1099.7H361.2V1105.4H355.7zM389.1 1099.7H394.6V1105.4H389.1zM467.2 1099.7H472.8V1105.4H467.2zM154.7 1105.4H160.3V1111.1H154.7zM244.2 1105.4H249.8V1111.1H244.2zM344.5 1105.4H350.1V1111.1H344.5zM400.2 1105.4H405.8V1111.1H400.2zM428.1 1105.4H433.6V1111.1H428.1zM439.2 1105.4H444.8V1111.1H439.2zM455.9 1105.4H461.5V1111.1H455.9zM631.5 1105.4H637.1V1111.1H631.5zM160.3 1111.1H165.9V1116.8H160.3zM316.7 1111.1H327.8V1116.8H316.7zM377.9 1111.1H383.5V1116.8H377.9zM394.6 1111.1H400.2V1116.8H394.6zM631.5 1111.1H637.1V1116.8H631.5zM182.8 1116.8H194.1V1122.5H182.8zM255.4 1116.8H260.9V1122.5H255.4zM288.8 1116.8H294.4V1122.5H288.8zM311.1 1116.8H322.2V1122.5H311.1zM361.2 1116.8H366.8V1122.5H361.2zM372.4 1116.8H377.9V1122.5H372.4zM405.8 1116.8H411.4V1122.5H405.8zM428.1 1116.8H433.6V1122.5H428.1zM586.1 1116.8H591.7V1122.5H586.1zM227.5 1122.5H233.1V1128.2H227.5zM238.7 1122.5H244.2V1128.2H238.7zM400.2 1122.5H411.4V1128.2H400.2zM631.5 1122.5H648.5V1128.2H631.5zM171.6 1128.2H177.2V1133.9H171.6zM205.2 1128.2H210.8V1133.9H205.2zM277.7 1128.2H283.2V1133.9H277.7zM305.5 1128.2H311.1V1133.9H305.5zM322.2 1128.2H327.8V1133.9H322.2zM361.2 1128.2H366.8V1133.9H361.2zM389.1 1128.2H394.6V1133.9H389.1zM416.9 1128.2H428.1V1133.9H416.9zM450.4 1128.2H455.9V1133.9H450.4zM472.8 1128.2H478.5V1133.9H472.8zM591.7 1128.2H597.4V1133.9H591.7zM608.8 1128.2H614.4V1133.9H608.8zM620.1 1128.2H625.8V1133.9H620.1zM115.3 1133.9H120.9V1139.6H115.3zM182.8 1133.9H188.5V1139.6H182.8zM216.4 1133.9H222.0V1139.6H216.4zM355.7 1133.9H366.8V1139.6H355.7zM472.8 1133.9H478.5V1139.6H472.8zM597.4 1133.9H603.1V1139.6H597.4zM154.7 1139.6H160.3V1145.4H154.7zM177.2 1139.6H182.8V1145.4H177.2zM266.5 1139.6H272.1V1145.4H266.5zM322.2 1139.6H327.8V1145.4H322.2zM372.4 1139.6H377.9V1145.4H372.4zM416.9 1139.6H422.5V1145.4H416.9zM244.2 1145.4H249.8V1151.1H244.2zM322.2 1145.4H327.8V1151.1H322.2zM333.4 1145.4H338.9V1151.1H333.4zM355.7 1145.4H361.2V1151.1H355.7zM416.9 1145.4H422.5V1151.1H416.9zM439.2 1145.4H444.8V1151.1H439.2zM227.5 1151.1H233.1V1156.8H227.5zM266.5 1151.1H272.1V1156.8H266.5zM305.5 1151.1H311.1V1156.8H305.5zM316.7 1151.1H322.2V1156.8H316.7zM327.8 1151.1H333.4V1156.8H327.8zM350.1 1151.1H355.7V1156.8H350.1zM377.9 1151.1H383.5V1156.8H377.9zM411.4 1151.1H428.1V1156.8H411.4zM433.6 1151.1H444.8V1156.8H433.6zM642.8 1151.1H648.5V1156.8H642.8zM149.1 1156.8H154.7V1162.5H149.1zM222.0 1156.8H227.5V1162.5H222.0zM244.2 1156.8H249.8V1162.5H244.2zM288.8 1156.8H294.4V1162.5H288.8zM333.4 1156.8H338.9V1162.5H333.4zM350.1 1156.8H355.7V1162.5H350.1zM377.9 1156.8H389.1V1162.5H377.9zM439.2 1156.8H444.8V1162.5H439.2zM450.4 1156.8H455.9V1162.5H450.4zM637.1 1156.8H642.8V1162.5H637.1zM98.4 1162.5H104.0V1168.2H98.4zM266.5 1162.5H272.1V1168.2H266.5zM277.7 1162.5H283.2V1168.2H277.7zM311.1 1162.5H316.7V1168.2H311.1zM333.4 1162.5H338.9V1168.2H333.4zM355.7 1162.5H361.2V1168.2H355.7zM411.4 1162.5H416.9V1168.2H411.4zM422.5 1162.5H428.1V1168.2H422.5zM439.2 1162.5H444.8V1168.2H439.2zM637.1 1162.5H642.8V1168.2H637.1zM132.2 1168.2H137.8V1173.9H132.2zM160.3 1168.2H165.9V1173.9H160.3zM188.5 1168.2H194.1V1173.9H188.5zM227.5 1168.2H233.1V1173.9H227.5zM272.1 1168.2H277.7V1173.9H272.1zM288.8 1168.2H294.4V1173.9H288.8zM383.5 1168.2H389.1V1173.9H383.5zM405.8 1168.2H411.4V1173.9H405.8zM260.9 1179.5H266.5V1185.2H260.9zM283.2 1179.5H288.8V1185.2H283.2zM377.9 1179.5H383.5V1185.2H377.9zM467.2 1179.5H472.8V1185.2H467.2zM580.4 1179.5H586.1V1185.2H580.4zM597.4 1179.5H603.1V1185.2H597.4zM311.1 1185.2H316.7V1190.8H311.1zM344.5 1185.2H350.1V1190.8H344.5zM422.5 1185.2H433.6V1190.8H422.5zM518.1 1185.2H523.8V1190.8H518.1zM586.1 1185.2H591.7V1190.8H586.1zM149.1 1190.8H154.7V1196.4H149.1zM394.6 1190.8H400.2V1196.4H394.6zM422.5 1190.8H428.1V1196.4H422.5zM433.6 1190.8H439.2V1196.4H433.6zM495.5 1190.8H501.1V1196.4H495.5zM529.4 1190.8H535.1V1196.4H529.4zM210.8 1196.4H216.4V1202.1H210.8zM222.0 1196.4H227.5V1202.1H222.0zM277.7 1196.4H283.2V1202.1H277.7zM316.7 1196.4H322.2V1202.1H316.7zM344.5 1196.4H350.1V1202.1H344.5zM372.4 1196.4H377.9V1202.1H372.4zM416.9 1196.4H422.5V1202.1H416.9zM535.1 1196.4H540.7V1202.1H535.1zM580.4 1196.4H586.1V1202.1H580.4zM177.2 1202.1H182.8V1207.7H177.2zM238.7 1202.1H249.8V1207.7H238.7zM305.5 1202.1H311.1V1207.7H305.5zM322.2 1202.1H333.4V1207.7H322.2zM366.8 1202.1H372.4V1207.7H366.8zM422.5 1202.1H428.1V1207.7H422.5zM455.9 1202.1H461.5V1207.7H455.9zM182.8 1207.7H188.5V1213.3H182.8zM244.2 1207.7H249.8V1213.3H244.2zM260.9 1207.7H266.5V1213.3H260.9zM366.8 1207.7H372.4V1213.3H366.8zM383.5 1207.7H389.1V1213.3H383.5zM400.2 1207.7H405.8V1213.3H400.2zM416.9 1207.7H428.1V1213.3H416.9zM472.8 1207.7H478.5V1213.3H472.8zM529.4 1207.7H535.1V1213.3H529.4zM266.5 1213.3H272.1V1219.0H266.5zM422.5 1213.3H428.1V1219.0H422.5zM444.8 1213.3H450.4V1219.0H444.8zM472.8 1213.3H478.5V1219.0H472.8zM484.1 1213.3H489.8V1219.0H484.1zM495.5 1213.3H501.1V1219.0H495.5zM283.2 1219.0H288.8V1224.6H283.2zM389.1 1219.0H394.6V1224.6H389.1zM422.5 1219.0H428.1V1224.6H422.5zM439.2 1219.0H444.8V1224.6H439.2zM467.2 1219.0H472.8V1224.6H467.2zM529.4 1219.0H535.1V1224.6H529.4zM154.7 1224.6H160.3V1230.3H154.7zM255.4 1224.6H260.9V1230.3H255.4zM372.4 1224.6H377.9V1230.3H372.4zM394.6 1224.6H400.2V1230.3H394.6zM472.8 1224.6H478.5V1230.3H472.8zM233.1 1230.3H238.7V1235.9H233.1zM266.5 1230.3H272.1V1235.9H266.5zM311.1 1230.3H316.7V1235.9H311.1zM327.8 1230.3H333.4V1235.9H327.8zM411.4 1230.3H416.9V1235.9H411.4zM439.2 1230.3H444.8V1235.9H439.2zM495.5 1230.3H501.1V1235.9H495.5zM506.8 1230.3H518.1V1235.9H506.8zM523.8 1230.3H529.4V1235.9H523.8zM637.1 1230.3H642.8V1235.9H637.1zM484.1 1235.9H489.8V1241.5H484.1zM523.8 1235.9H529.4V1241.5H523.8zM557.7 1235.9H569.0V1241.5H557.7zM631.5 1235.9H637.1V1241.5H631.5zM272.1 1241.5H277.7V1247.2H272.1zM366.8 1241.5H372.4V1247.2H366.8zM523.8 1241.5H529.4V1247.2H523.8zM552.1 1241.5H557.7V1247.2H552.1zM216.4 1247.2H222.0V1252.8H216.4zM372.4 1247.2H377.9V1252.8H372.4zM484.1 1247.2H489.8V1252.8H484.1zM518.1 1247.2H523.8V1252.8H518.1zM552.1 1247.2H557.7V1252.8H552.1zM586.1 1247.2H591.7V1252.8H586.1zM637.1 1247.2H642.8V1252.8H637.1zM227.5 1252.8H233.1V1258.4H227.5z"/><path fill="#fd6f6a" d="M154.7 679.3H160.3V685.0H154.7zM160.3 685.0H165.9V690.7H160.3zM182.8 685.0H188.5V690.7H182.8zM182.8 702.2H188.5V707.9H182.8zM389.1 702.2H394.6V707.9H389.1zM137.8 725.0H143.4V730.7H137.8zM188.5 725.0H194.1V730.7H188.5zM132.2 730.7H137.8V736.5H132.2zM165.9 730.7H171.6V736.5H165.9zM210.8 730.7H216.4V736.5H210.8zM266.5 730.7H272.1V736.5H266.5zM327.8 730.7H333.4V736.5H327.8zM222.0 736.5H227.5V742.2H222.0zM266.5 736.5H272.1V742.2H266.5zM182.8 742.2H188.5V747.9H182.8zM210.8 742.2H216.4V747.9H210.8zM277.7 742.2H283.2V747.9H277.7zM569.0 742.2H574.7V747.9H569.0zM87.1 747.9H92.8V753.6H87.1zM205.2 747.9H210.8V753.6H205.2zM294.4 747.9H299.9V753.6H294.4zM455.9 747.9H461.5V753.6H455.9zM92.8 753.6H98.4V759.3H92.8zM171.6 753.6H177.2V759.3H171.6zM205.2 753.6H210.8V759.3H205.2zM216.4 753.6H222.0V759.3H216.4zM272.1 753.6H277.7V759.3H272.1zM288.8 753.6H294.4V759.3H288.8zM338.9 753.6H344.5V759.3H338.9zM137.8 759.3H143.4V765.0H137.8zM188.5 759.3H194.1V765.0H188.5zM489.8 759.3H495.5V765.0H489.8zM160.3 765.0H165.9V770.8H160.3zM272.1 765.0H277.7V770.8H272.1zM177.2 770.8H182.8V776.5H177.2zM188.5 770.8H194.1V776.5H188.5zM272.1 770.8H277.7V776.5H272.1zM569.0 770.8H574.7V776.5H569.0zM81.5 776.5H87.1V782.2H81.5zM92.8 776.5H98.4V782.2H92.8zM109.7 776.5H115.3V782.2H109.7zM149.1 776.5H154.7V782.2H149.1zM233.1 776.5H238.7V782.2H233.1zM260.9 776.5H266.5V782.2H260.9zM283.2 776.5H288.8V782.2H283.2zM299.9 776.5H305.5V782.2H299.9zM322.2 776.5H327.8V782.2H322.2zM366.8 776.5H372.4V782.2H366.8zM383.5 776.5H389.1V782.2H383.5zM405.8 776.5H411.4V782.2H405.8zM428.1 776.5H433.6V782.2H428.1zM81.5 782.2H87.1V787.9H81.5zM132.2 782.2H137.8V787.9H132.2zM165.9 782.2H171.6V787.9H165.9zM177.2 782.2H182.8V787.9H177.2zM338.9 782.2H344.5V787.9H338.9zM366.8 782.2H372.4V787.9H366.8zM405.8 782.2H411.4V787.9H405.8zM444.8 782.2H450.4V787.9H444.8zM484.1 782.2H489.8V787.9H484.1zM154.7 799.2H165.9V804.9H154.7zM411.4 799.2H416.9V804.9H411.4zM137.8 804.9H143.4V810.5H137.8zM149.1 804.9H154.7V810.5H149.1zM210.8 804.9H216.4V810.5H210.8zM160.3 810.5H165.9V816.2H160.3zM227.5 810.5H238.7V816.2H227.5zM249.8 810.5H255.4V816.2H249.8zM266.5 810.5H272.1V816.2H266.5zM322.2 810.5H327.8V816.2H322.2zM350.1 810.5H355.7V816.2H350.1zM389.1 810.5H394.6V816.2H389.1zM416.9 810.5H422.5V816.2H416.9zM455.9 810.5H461.5V816.2H455.9zM143.4 816.2H149.1V821.9H143.4zM311.1 816.2H316.7V821.9H311.1zM322.2 816.2H327.8V821.9H322.2zM422.5 816.2H428.1V821.9H422.5zM512.4 816.2H518.1V821.9H512.4zM216.4 821.9H222.0V827.5H216.4zM249.8 821.9H255.4V827.5H249.8zM316.7 821.9H322.2V827.5H316.7zM338.9 821.9H344.5V827.5H338.9zM361.2 821.9H366.8V827.5H361.2zM182.8 827.5H188.5V833.2H182.8zM216.4 827.5H222.0V833.2H216.4zM260.9 827.5H266.5V833.2H260.9zM322.2 827.5H327.8V833.2H322.2zM472.8 827.5H478.5V833.2H472.8zM272.1 833.2H277.7V838.9H272.1zM316.7 833.2H322.2V838.9H316.7zM333.4 833.2H338.9V838.9H333.4zM394.6 833.2H400.2V838.9H394.6zM444.8 833.2H450.4V838.9H444.8zM569.0 833.2H574.7V838.9H569.0zM405.8 838.9H411.4V844.5H405.8zM216.4 844.5H222.0V850.2H216.4zM227.5 844.5H233.1V850.2H227.5zM350.1 844.5H355.7V850.2H350.1zM327.8 850.2H333.4V855.9H327.8zM394.6 850.2H400.2V855.9H394.6zM405.8 850.2H411.4V855.9H405.8zM444.8 850.2H455.9V855.9H444.8zM182.8 855.9H188.5V861.5H182.8zM233.1 855.9H238.7V861.5H233.1zM361.2 855.9H366.8V861.5H361.2zM444.8 855.9H450.4V861.5H444.8zM484.1 855.9H489.8V861.5H484.1zM540.7 855.9H546.4V861.5H540.7zM137.8 861.5H149.1V867.2H137.8zM216.4 861.5H222.0V867.2H216.4zM355.7 861.5H361.2V867.2H355.7zM383.5 861.5H389.1V867.2H383.5zM394.6 861.5H400.2V867.2H394.6zM160.3 867.2H165.9V872.8H160.3zM171.6 867.2H182.8V872.8H171.6zM238.7 867.2H244.2V872.8H238.7zM283.2 867.2H288.8V872.8H283.2zM333.4 867.2H338.9V872.8H333.4zM422.5 867.2H428.1V872.8H422.5zM439.2 867.2H444.8V872.8H439.2zM552.1 867.2H563.4V872.8H552.1zM591.7 867.2H597.4V872.8H591.7zM149.1 872.8H154.7V878.5H149.1zM322.2 872.8H327.8V878.5H322.2zM372.4 872.8H377.9V878.5H372.4zM182.8 878.5H188.5V884.2H182.8zM272.1 878.5H277.7V884.2H272.1zM433.6 878.5H439.2V884.2H433.6zM557.7 878.5H563.4V884.2H557.7zM160.3 884.2H165.9V889.8H160.3zM400.2 884.2H405.8V889.8H400.2zM154.7 889.8H160.3V895.5H154.7zM311.1 889.8H316.7V895.5H311.1zM327.8 889.8H333.4V895.5H327.8zM540.7 889.8H546.4V895.5H540.7zM182.8 895.5H188.5V901.1H182.8zM450.4 895.5H455.9V901.1H450.4zM586.1 895.5H591.7V901.1H586.1zM614.4 895.5H620.1V901.1H614.4zM625.8 895.5H631.5V901.1H625.8zM377.9 901.1H383.5V906.8H377.9zM563.4 901.1H569.0V906.8H563.4zM222.0 906.8H227.5V912.5H222.0zM294.4 906.8H299.9V912.5H294.4zM478.5 906.8H484.1V912.5H478.5zM506.8 906.8H512.4V912.5H506.8zM546.4 906.8H552.1V912.5H546.4zM227.5 912.5H233.1V918.1H227.5zM238.7 912.5H244.2V918.1H238.7zM484.1 912.5H489.8V918.1H484.1zM501.1 912.5H506.8V918.1H501.1zM529.4 912.5H535.1V918.1H529.4zM546.4 912.5H552.1V918.1H546.4zM182.8 918.1H188.5V923.8H182.8zM216.4 918.1H227.5V923.8H216.4zM233.1 918.1H238.7V923.8H233.1zM277.7 918.1H283.2V923.8H277.7zM377.9 918.1H383.5V923.8H377.9zM433.6 918.1H439.2V923.8H433.6zM450.4 918.1H455.9V923.8H450.4zM495.5 918.1H501.1V923.8H495.5zM137.8 923.8H143.4V929.5H137.8zM255.4 923.8H260.9V929.5H255.4zM294.4 923.8H299.9V929.5H294.4zM450.4 923.8H455.9V929.5H450.4zM608.8 923.8H614.4V929.5H608.8zM238.7 929.5H244.2V935.1H238.7zM272.1 929.5H277.7V935.1H272.1zM333.4 929.5H338.9V935.1H333.4zM350.1 929.5H355.7V935.1H350.1zM405.8 929.5H411.4V935.1H405.8zM433.6 929.5H439.2V935.1H433.6zM489.8 929.5H495.5V935.1H489.8zM569.0 929.5H574.7V935.1H569.0zM160.3 935.1H165.9V940.8H160.3zM188.5 935.1H194.1V940.8H188.5zM227.5 935.1H233.1V940.8H227.5zM450.4 935.1H455.9V940.8H450.4zM389.1 940.8H394.6V946.5H389.1zM535.1 940.8H540.7V946.5H535.1zM563.4 940.8H569.0V946.5H563.4zM216.4 946.5H222.0V952.1H216.4zM249.8 946.5H255.4V952.1H249.8zM333.4 946.5H338.9V952.1H333.4zM444.8 946.5H450.4V952.1H444.8zM489.8 946.5H495.5V952.1H489.8zM608.8 946.5H614.4V952.1H608.8zM266.5 952.1H272.1V957.8H266.5zM405.8 952.1H411.4V957.8H405.8zM450.4 952.1H455.9V957.8H450.4zM529.4 952.1H535.1V957.8H529.4zM227.5 957.8H233.1V963.4H227.5zM260.9 957.8H266.5V963.4H260.9zM411.4 957.8H416.9V963.4H411.4zM512.4 957.8H518.1V963.4H512.4zM569.0 957.8H574.7V963.4H569.0zM182.8 963.4H194.1V969.1H182.8zM439.2 963.4H444.8V969.1H439.2zM277.7 969.1H283.2V974.8H277.7zM450.4 969.1H455.9V974.8H450.4zM478.5 969.1H484.1V974.8H478.5zM563.4 969.1H569.0V974.8H563.4zM580.4 969.1H586.1V974.8H580.4zM305.5 974.8H311.1V980.4H305.5zM322.2 974.8H327.8V980.4H322.2zM400.2 974.8H405.8V980.4H400.2zM535.1 974.8H540.7V980.4H535.1zM182.8 980.4H188.5V986.1H182.8zM266.5 980.4H272.1V986.1H266.5zM400.2 980.4H411.4V986.1H400.2zM455.9 980.4H461.5V986.1H455.9zM489.8 980.4H495.5V986.1H489.8zM523.8 980.4H529.4V986.1H523.8zM552.1 980.4H557.7V986.1H552.1zM580.4 980.4H586.1V986.1H580.4zM109.7 986.1H115.3V991.8H109.7zM216.4 986.1H222.0V991.8H216.4zM344.5 986.1H350.1V991.8H344.5zM389.1 986.1H394.6V991.8H389.1zM484.1 986.1H501.1V991.8H484.1zM631.5 986.1H637.1V991.8H631.5zM238.7 991.8H244.2V997.4H238.7zM255.4 991.8H260.9V997.4H255.4zM266.5 991.8H272.1V997.4H266.5zM428.1 991.8H433.6V997.4H428.1zM472.8 991.8H478.5V997.4H472.8zM523.8 991.8H529.4V997.4H523.8zM563.4 991.8H574.7V997.4H563.4zM288.8 997.4H294.4V1003.1H288.8zM377.9 997.4H389.1V1003.1H377.9zM484.1 997.4H489.8V1003.1H484.1zM637.1 997.4H642.8V1003.1H637.1zM182.8 1003.1H194.1V1008.7H182.8zM244.2 1003.1H249.8V1008.7H244.2zM255.4 1003.1H260.9V1008.7H255.4zM333.4 1003.1H338.9V1008.7H333.4zM355.7 1003.1H361.2V1008.7H355.7zM383.5 1003.1H389.1V1008.7H383.5zM557.7 1003.1H563.4V1008.7H557.7zM586.1 1003.1H591.7V1008.7H586.1zM631.5 1003.1H637.1V1008.7H631.5zM205.2 1008.7H210.8V1014.4H205.2zM361.2 1008.7H366.8V1014.4H361.2zM529.4 1008.7H535.1V1014.4H529.4zM540.7 1008.7H546.4V1014.4H540.7zM216.4 1014.4H222.0V1020.1H216.4zM472.8 1014.4H478.5V1020.1H472.8zM501.1 1014.4H506.8V1020.1H501.1zM563.4 1014.4H569.0V1020.1H563.4zM222.0 1020.1H227.5V1025.7H222.0zM272.1 1020.1H277.7V1025.7H272.1zM182.8 1025.7H188.5V1031.4H182.8zM394.6 1025.7H400.2V1031.4H394.6zM467.2 1025.7H472.8V1031.4H467.2zM489.8 1025.7H495.5V1031.4H489.8zM523.8 1025.7H529.4V1031.4H523.8zM557.7 1025.7H563.4V1031.4H557.7zM283.2 1031.4H288.8V1037.0H283.2zM322.2 1031.4H327.8V1037.0H322.2zM333.4 1031.4H338.9V1037.0H333.4zM450.4 1031.4H455.9V1037.0H450.4zM506.8 1031.4H512.4V1037.0H506.8zM586.1 1031.4H591.7V1037.0H586.1zM608.8 1031.4H614.4V1037.0H608.8zM272.1 1037.0H277.7V1042.7H272.1zM366.8 1037.0H372.4V1042.7H366.8zM501.1 1037.0H506.8V1042.7H501.1zM188.5 1042.7H194.1V1048.4H188.5zM238.7 1042.7H244.2V1048.4H238.7zM255.4 1042.7H266.5V1048.4H255.4zM350.1 1042.7H355.7V1048.4H350.1zM478.5 1042.7H484.1V1048.4H478.5zM489.8 1042.7H495.5V1048.4H489.8zM523.8 1042.7H529.4V1048.4H523.8zM557.7 1042.7H563.4V1048.4H557.7zM586.1 1042.7H591.7V1048.4H586.1zM597.4 1042.7H603.1V1048.4H597.4zM631.5 1042.7H637.1V1048.4H631.5zM255.4 1048.4H260.9V1054.0H255.4zM299.9 1048.4H305.5V1054.0H299.9zM322.2 1048.4H333.4V1054.0H322.2zM338.9 1048.4H344.5V1054.0H338.9zM355.7 1048.4H361.2V1054.0H355.7zM372.4 1048.4H377.9V1054.0H372.4zM433.6 1048.4H439.2V1054.0H433.6zM489.8 1048.4H501.1V1054.0H489.8zM563.4 1048.4H569.0V1054.0H563.4zM154.7 1054.0H160.3V1059.7H154.7zM216.4 1054.0H222.0V1059.7H216.4zM383.5 1054.0H389.1V1059.7H383.5zM501.1 1054.0H506.8V1059.7H501.1zM518.1 1054.0H523.8V1059.7H518.1zM428.1 1065.4H433.6V1071.1H428.1zM495.5 1065.4H501.1V1071.1H495.5zM535.1 1065.4H540.7V1071.1H535.1zM586.1 1065.4H591.7V1071.1H586.1zM603.1 1065.4H608.8V1071.1H603.1zM233.1 1071.1H238.7V1076.8H233.1zM394.6 1071.1H400.2V1076.8H394.6zM416.9 1071.1H422.5V1076.8H416.9zM311.1 1076.8H316.7V1082.5H311.1zM372.4 1076.8H377.9V1082.5H372.4zM444.8 1076.8H450.4V1082.5H444.8zM608.8 1076.8H614.4V1082.5H608.8zM188.5 1082.5H194.1V1088.2H188.5zM260.9 1082.5H266.5V1088.2H260.9zM316.7 1082.5H322.2V1088.2H316.7zM389.1 1082.5H394.6V1088.2H389.1zM400.2 1082.5H405.8V1088.2H400.2zM586.1 1082.5H591.7V1088.2H586.1zM597.4 1082.5H603.1V1088.2H597.4zM165.9 1088.2H171.6V1094.0H165.9zM333.4 1088.2H338.9V1094.0H333.4zM350.1 1088.2H355.7V1094.0H350.1zM383.5 1088.2H394.6V1094.0H383.5zM428.1 1088.2H433.6V1094.0H428.1zM444.8 1088.2H455.9V1094.0H444.8zM322.2 1094.0H327.8V1099.7H322.2zM389.1 1094.0H394.6V1099.7H389.1zM450.4 1094.0H455.9V1099.7H450.4zM467.2 1094.0H472.8V1099.7H467.2zM316.7 1099.7H322.2V1105.4H316.7zM416.9 1099.7H422.5V1105.4H416.9zM439.2 1099.7H444.8V1105.4H439.2zM455.9 1099.7H461.5V1105.4H455.9zM311.1 1105.4H316.7V1111.1H311.1zM433.6 1105.4H439.2V1111.1H433.6zM586.1 1105.4H597.4V1111.1H586.1zM222.0 1111.1H227.5V1116.8H222.0zM361.2 1111.1H366.8V1116.8H361.2zM608.8 1111.1H614.4V1116.8H608.8zM455.9 1116.8H461.5V1122.5H455.9zM597.4 1116.8H603.1V1122.5H597.4zM608.8 1116.8H614.4V1122.5H608.8zM625.8 1116.8H631.5V1122.5H625.8zM383.5 1122.5H389.1V1128.2H383.5zM394.6 1122.5H400.2V1128.2H394.6zM428.1 1122.5H433.6V1128.2H428.1zM444.8 1122.5H450.4V1128.2H444.8zM591.7 1122.5H620.1V1128.2H591.7zM316.7 1128.2H322.2V1133.9H316.7zM355.7 1128.2H361.2V1133.9H355.7zM411.4 1128.2H416.9V1133.9H411.4zM344.5 1133.9H350.1V1139.6H344.5zM377.9 1133.9H383.5V1139.6H377.9zM467.2 1133.9H472.8V1139.6H467.2zM260.9 1139.6H266.5V1145.4H260.9zM294.4 1139.6H299.9V1145.4H294.4zM411.4 1139.6H416.9V1145.4H411.4zM631.5 1139.6H637.1V1145.4H631.5zM311.1 1145.4H322.2V1151.1H311.1zM620.1 1145.4H631.5V1151.1H620.1zM272.1 1151.1H277.7V1156.8H272.1zM383.5 1151.1H389.1V1156.8H383.5zM272.1 1156.8H277.7V1162.5H272.1zM283.2 1156.8H288.8V1162.5H283.2zM405.8 1156.8H411.4V1162.5H405.8zM428.1 1156.8H433.6V1162.5H428.1zM444.8 1156.8H450.4V1162.5H444.8zM591.7 1156.8H597.4V1162.5H591.7zM631.5 1156.8H637.1V1162.5H631.5zM305.5 1162.5H311.1V1168.2H305.5zM344.5 1162.5H350.1V1168.2H344.5zM372.4 1162.5H377.9V1168.2H372.4zM394.6 1162.5H400.2V1168.2H394.6zM416.9 1162.5H422.5V1168.2H416.9zM450.4 1162.5H455.9V1168.2H450.4zM149.1 1168.2H154.7V1173.9H149.1zM177.2 1168.2H182.8V1173.9H177.2zM238.7 1168.2H244.2V1173.9H238.7zM333.4 1168.2H338.9V1173.9H333.4zM361.2 1168.2H366.8V1173.9H361.2zM394.6 1168.2H400.2V1173.9H394.6zM372.4 1179.5H377.9V1185.2H372.4zM383.5 1179.5H389.1V1185.2H383.5zM299.9 1185.2H305.5V1190.8H299.9zM405.8 1185.2H411.4V1190.8H405.8zM433.6 1185.2H439.2V1190.8H433.6zM444.8 1185.2H450.4V1190.8H444.8zM467.2 1185.2H472.8V1190.8H467.2zM484.1 1185.2H489.8V1190.8H484.1zM506.8 1185.2H512.4V1190.8H506.8zM272.1 1190.8H277.7V1196.4H272.1zM506.8 1190.8H512.4V1196.4H506.8zM523.8 1190.8H529.4V1196.4H523.8zM557.7 1190.8H563.4V1196.4H557.7zM444.8 1196.4H450.4V1202.1H444.8zM484.1 1196.4H489.8V1202.1H484.1zM518.1 1196.4H529.4V1202.1H518.1zM467.2 1202.1H472.8V1207.7H467.2zM523.8 1202.1H529.4V1207.7H523.8zM327.8 1207.7H333.4V1213.3H327.8zM350.1 1207.7H355.7V1213.3H350.1zM433.6 1207.7H439.2V1213.3H433.6zM478.5 1207.7H484.1V1213.3H478.5zM512.4 1207.7H529.4V1213.3H512.4zM299.9 1213.3H305.5V1219.0H299.9zM523.8 1213.3H529.4V1219.0H523.8zM546.4 1219.0H552.1V1224.6H546.4zM299.9 1224.6H305.5V1230.3H299.9zM518.1 1224.6H523.8V1230.3H518.1zM546.4 1224.6H552.1V1230.3H546.4zM389.1 1230.3H394.6V1235.9H389.1zM405.8 1230.3H411.4V1235.9H405.8zM444.8 1230.3H450.4V1235.9H444.8zM540.7 1230.3H546.4V1235.9H540.7zM557.7 1230.3H563.4V1235.9H557.7zM400.2 1235.9H405.8V1241.5H400.2zM444.8 1247.2H450.4V1252.8H444.8z"/><path fill="#fe5b54" d="M272.1 725.0H277.7V730.7H272.1zM199.7 730.7H205.2V736.5H199.7zM260.9 736.5H266.5V742.2H260.9zM160.3 742.2H165.9V747.9H160.3zM569.0 747.9H574.7V753.6H569.0zM149.1 753.6H154.7V759.3H149.1zM283.2 753.6H288.8V759.3H283.2zM614.4 759.3H620.1V765.0H614.4zM199.7 765.0H205.2V770.8H199.7zM222.0 765.0H227.5V770.8H222.0zM305.5 770.8H311.1V776.5H305.5zM266.5 776.5H272.1V782.2H266.5zM277.7 776.5H283.2V782.2H277.7zM316.7 776.5H322.2V782.2H316.7zM389.1 776.5H394.6V782.2H389.1zM455.9 776.5H461.5V782.2H455.9zM552.1 776.5H557.7V782.2H552.1zM322.2 782.2H327.8V787.9H322.2zM472.8 782.2H478.5V787.9H472.8zM137.8 793.6H143.4V799.2H137.8zM171.6 793.6H177.2V799.2H171.6zM210.8 793.6H216.4V799.2H210.8zM389.1 793.6H394.6V799.2H389.1zM199.7 804.9H205.2V810.5H199.7zM283.2 804.9H288.8V810.5H283.2zM422.5 804.9H428.1V810.5H422.5zM171.6 816.2H177.2V821.9H171.6zM405.8 816.2H411.4V821.9H405.8zM333.4 821.9H338.9V827.5H333.4zM350.1 821.9H355.7V827.5H350.1zM411.4 821.9H416.9V827.5H411.4zM439.2 821.9H444.8V827.5H439.2zM277.7 827.5H283.2V833.2H277.7zM294.4 827.5H299.9V833.2H294.4zM255.4 833.2H260.9V838.9H255.4zM333.4 838.9H338.9V844.5H333.4zM416.9 838.9H422.5V844.5H416.9zM439.2 838.9H444.8V844.5H439.2zM361.2 844.5H366.8V850.2H361.2zM383.5 844.5H389.1V850.2H383.5zM238.7 850.2H244.2V855.9H238.7zM400.2 850.2H405.8V855.9H400.2zM428.1 850.2H433.6V855.9H428.1zM143.4 855.9H149.1V861.5H143.4zM557.7 855.9H563.4V861.5H557.7zM182.8 861.5H188.5V867.2H182.8zM361.2 861.5H366.8V867.2H361.2zM372.4 861.5H377.9V867.2H372.4zM132.2 867.2H137.8V872.8H132.2zM344.5 867.2H355.7V872.8H344.5zM372.4 867.2H377.9V872.8H372.4zM389.1 867.2H394.6V872.8H389.1zM450.4 867.2H455.9V872.8H450.4zM182.8 872.8H188.5V878.5H182.8zM233.1 872.8H238.7V878.5H233.1zM350.1 872.8H355.7V878.5H350.1zM160.3 878.5H165.9V884.2H160.3zM210.8 878.5H216.4V884.2H210.8zM383.5 878.5H389.1V884.2H383.5zM411.4 878.5H416.9V884.2H411.4zM501.1 878.5H506.8V884.2H501.1zM316.7 884.2H322.2V889.8H316.7zM344.5 884.2H350.1V889.8H344.5zM355.7 884.2H361.2V889.8H355.7zM233.1 889.8H238.7V895.5H233.1zM322.2 889.8H327.8V895.5H322.2zM411.4 889.8H416.9V895.5H411.4zM506.8 889.8H512.4V895.5H506.8zM177.2 901.1H182.8V906.8H177.2zM182.8 912.5H188.5V918.1H182.8zM288.8 912.5H294.4V918.1H288.8zM383.5 912.5H389.1V918.1H383.5zM569.0 912.5H574.7V918.1H569.0zM188.5 918.1H194.1V923.8H188.5zM294.4 918.1H299.9V923.8H294.4zM472.8 923.8H478.5V929.5H472.8zM227.5 929.5H233.1V935.1H227.5zM244.2 929.5H249.8V935.1H244.2zM394.6 929.5H400.2V935.1H394.6zM439.2 929.5H444.8V935.1H439.2zM455.9 935.1H461.5V940.8H455.9zM272.1 940.8H277.7V946.5H272.1zM288.8 940.8H294.4V946.5H288.8zM557.7 940.8H563.4V946.5H557.7zM227.5 946.5H233.1V952.1H227.5zM272.1 946.5H283.2V952.1H272.1zM288.8 952.1H294.4V957.8H288.8zM472.8 952.1H478.5V957.8H472.8zM249.8 957.8H255.4V963.4H249.8zM266.5 957.8H272.1V963.4H266.5zM439.2 957.8H444.8V963.4H439.2zM266.5 969.1H277.7V974.8H266.5zM411.4 969.1H416.9V974.8H411.4zM249.8 980.4H255.4V986.1H249.8zM283.2 980.4H288.8V986.1H283.2zM316.7 980.4H322.2V986.1H316.7zM563.4 980.4H569.0V986.1H563.4zM182.8 986.1H188.5V991.8H182.8zM199.7 986.1H205.2V991.8H199.7zM272.1 986.1H277.7V991.8H272.1zM455.9 986.1H461.5V991.8H455.9zM333.4 991.8H338.9V997.4H333.4zM255.4 997.4H260.9V1003.1H255.4zM591.7 997.4H597.4V1003.1H591.7zM222.0 1003.1H227.5V1008.7H222.0zM227.5 1008.7H233.1V1014.4H227.5zM283.2 1008.7H288.8V1014.4H283.2zM294.4 1008.7H299.9V1014.4H294.4zM372.4 1008.7H377.9V1014.4H372.4zM428.1 1008.7H433.6V1014.4H428.1zM244.2 1014.4H249.8V1020.1H244.2zM495.5 1014.4H501.1V1020.1H495.5zM518.1 1014.4H523.8V1020.1H518.1zM210.8 1020.1H216.4V1025.7H210.8zM489.8 1020.1H501.1V1025.7H489.8zM255.4 1025.7H260.9V1031.4H255.4zM411.4 1025.7H416.9V1031.4H411.4zM580.4 1025.7H586.1V1031.4H580.4zM227.5 1037.0H233.1V1042.7H227.5zM244.2 1037.0H249.8V1042.7H244.2zM333.4 1037.0H338.9V1042.7H333.4zM361.2 1037.0H366.8V1042.7H361.2zM450.4 1037.0H455.9V1042.7H450.4zM484.1 1042.7H489.8V1048.4H484.1zM620.1 1042.7H625.8V1048.4H620.1zM272.1 1048.4H277.7V1054.0H272.1zM439.2 1048.4H444.8V1054.0H439.2zM484.1 1048.4H489.8V1054.0H484.1zM512.4 1048.4H518.1V1054.0H512.4zM182.8 1054.0H188.5V1059.7H182.8zM338.9 1054.0H344.5V1059.7H338.9zM389.1 1054.0H394.6V1059.7H389.1zM580.4 1054.0H586.1V1059.7H580.4zM188.5 1071.1H194.1V1076.8H188.5zM327.8 1071.1H333.4V1076.8H327.8zM355.7 1071.1H361.2V1076.8H355.7zM518.1 1071.1H523.8V1076.8H518.1zM444.8 1082.5H455.9V1088.2H444.8zM501.1 1082.5H506.8V1088.2H501.1zM422.5 1088.2H428.1V1094.0H422.5zM416.9 1094.0H428.1V1099.7H416.9zM283.2 1099.7H288.8V1105.4H283.2zM484.1 1099.7H489.8V1105.4H484.1zM294.4 1105.4H299.9V1111.1H294.4zM529.4 1105.4H535.1V1111.1H529.4zM450.4 1111.1H455.9V1116.8H450.4zM416.9 1116.8H422.5V1122.5H416.9zM472.8 1116.8H478.5V1122.5H472.8zM586.1 1122.5H591.7V1128.2H586.1zM506.8 1128.2H512.4V1133.9H506.8zM631.5 1133.9H637.1V1139.6H631.5zM182.8 1151.1H188.5V1156.8H182.8zM260.9 1156.8H266.5V1162.5H260.9zM344.5 1156.8H350.1V1162.5H344.5zM383.5 1162.5H389.1V1168.2H383.5zM154.7 1168.2H160.3V1173.9H154.7zM316.7 1168.2H322.2V1173.9H316.7zM637.1 1168.2H642.8V1173.9H637.1zM428.1 1179.5H433.6V1185.2H428.1zM455.9 1179.5H461.5V1185.2H455.9zM620.1 1179.5H625.8V1185.2H620.1zM523.8 1185.2H529.4V1190.8H523.8zM400.2 1190.8H405.8V1196.4H400.2zM165.9 1213.3H171.6V1219.0H165.9zM444.8 1219.0H450.4V1224.6H444.8zM580.4 1219.0H586.1V1224.6H580.4zM535.1 1230.3H540.7V1235.9H535.1zM569.0 1235.9H574.7V1241.5H569.0z"/><path fill="#fe463e" d="M154.7 747.9H160.3V753.6H154.7zM316.7 747.9H322.2V753.6H316.7zM350.1 747.9H355.7V753.6H350.1zM405.8 753.6H411.4V759.3H405.8zM188.5 765.0H194.1V770.8H188.5zM171.6 782.2H177.2V787.9H171.6zM249.8 782.2H255.4V787.9H249.8zM316.7 782.2H322.2V787.9H316.7zM383.5 782.2H389.1V787.9H383.5zM400.2 782.2H405.8V787.9H400.2zM305.5 810.5H311.1V816.2H305.5zM316.7 816.2H322.2V821.9H316.7zM244.2 821.9H249.8V827.5H244.2zM327.8 821.9H333.4V827.5H327.8zM361.2 833.2H366.8V838.9H361.2zM227.5 838.9H233.1V844.5H227.5zM299.9 838.9H305.5V844.5H299.9zM188.5 844.5H194.1V850.2H188.5zM523.8 844.5H529.4V850.2H523.8zM255.4 850.2H260.9V855.9H255.4zM372.4 850.2H377.9V855.9H372.4zM299.9 855.9H305.5V861.5H299.9zM322.2 855.9H327.8V861.5H322.2zM366.8 867.2H372.4V872.8H366.8zM472.8 867.2H478.5V872.8H472.8zM316.7 878.5H322.2V884.2H316.7zM361.2 878.5H366.8V884.2H361.2zM372.4 878.5H377.9V884.2H372.4zM299.9 884.2H305.5V889.8H299.9zM472.8 889.8H478.5V895.5H472.8zM244.2 895.5H249.8V901.1H244.2zM260.9 895.5H266.5V901.1H260.9zM288.8 895.5H294.4V901.1H288.8zM216.4 901.1H222.0V906.8H216.4zM372.4 901.1H377.9V906.8H372.4zM344.5 906.8H350.1V912.5H344.5zM383.5 906.8H389.1V912.5H383.5zM154.7 912.5H160.3V918.1H154.7zM188.5 912.5H194.1V918.1H188.5zM222.0 912.5H227.5V918.1H222.0zM283.2 912.5H288.8V918.1H283.2zM260.9 918.1H266.5V923.8H260.9zM400.2 918.1H405.8V923.8H400.2zM227.5 923.8H233.1V929.5H227.5zM439.2 923.8H444.8V929.5H439.2zM428.1 929.5H433.6V935.1H428.1zM433.6 935.1H439.2V940.8H433.6zM563.4 935.1H569.0V940.8H563.4zM311.1 940.8H316.7V946.5H311.1zM366.8 940.8H372.4V946.5H366.8zM552.1 940.8H557.7V946.5H552.1zM154.7 946.5H160.3V952.1H154.7zM450.4 946.5H455.9V952.1H450.4zM361.2 952.1H366.8V957.8H361.2zM383.5 952.1H389.1V957.8H383.5zM557.7 952.1H563.4V957.8H557.7zM238.7 957.8H244.2V963.4H238.7zM283.2 957.8H288.8V963.4H283.2zM355.7 957.8H361.2V963.4H355.7zM523.8 957.8H529.4V963.4H523.8zM272.1 963.4H277.7V969.1H272.1zM344.5 963.4H350.1V969.1H344.5zM255.4 969.1H260.9V974.8H255.4zM283.2 969.1H288.8V974.8H283.2zM305.5 969.1H311.1V974.8H305.5zM506.8 969.1H512.4V974.8H506.8zM188.5 980.4H194.1V986.1H188.5zM311.1 980.4H316.7V986.1H311.1zM355.7 980.4H361.2V986.1H355.7zM188.5 997.4H194.1V1003.1H188.5zM322.2 997.4H327.8V1003.1H322.2zM160.3 1003.1H165.9V1008.7H160.3zM439.2 1003.1H450.4V1008.7H439.2zM597.4 1003.1H603.1V1008.7H597.4zM333.4 1025.7H338.9V1031.4H333.4zM608.8 1025.7H614.4V1031.4H608.8zM338.9 1031.4H344.5V1037.0H338.9zM327.8 1037.0H333.4V1042.7H327.8zM405.8 1037.0H411.4V1042.7H405.8zM405.8 1042.7H411.4V1048.4H405.8zM350.1 1048.4H355.7V1054.0H350.1zM272.1 1071.1H277.7V1076.8H272.1zM294.4 1071.1H299.9V1076.8H294.4zM489.8 1071.1H495.5V1076.8H489.8zM472.8 1088.2H478.5V1094.0H472.8zM512.4 1099.7H518.1V1105.4H512.4zM591.7 1099.7H597.4V1105.4H591.7zM372.4 1105.4H377.9V1111.1H372.4zM501.1 1111.1H506.8V1116.8H501.1zM249.8 1122.5H255.4V1128.2H249.8zM361.2 1122.5H366.8V1128.2H361.2zM529.4 1128.2H535.1V1133.9H529.4zM540.7 1128.2H546.4V1133.9H540.7zM535.1 1133.9H540.7V1139.6H535.1zM529.4 1139.6H535.1V1145.4H529.4zM344.5 1151.1H350.1V1156.8H344.5zM355.7 1156.8H361.2V1162.5H355.7zM603.1 1156.8H608.8V1162.5H603.1zM338.9 1162.5H344.5V1168.2H338.9zM597.4 1168.2H603.1V1173.9H597.4zM501.1 1190.8H506.8V1196.4H501.1zM405.8 1196.4H411.4V1202.1H405.8zM569.0 1196.4H574.7V1202.1H569.0zM637.1 1196.4H642.8V1202.1H637.1zM557.7 1202.1H563.4V1207.7H557.7zM428.1 1207.7H433.6V1213.3H428.1zM597.4 1235.9H603.1V1241.5H597.4zM597.4 1247.2H603.1V1252.8H597.4z"/><path fill="#f9dede" d="M194.1 679.3H199.7V685.0H194.1zM194.1 696.4H199.7V702.2H194.1zM194.1 719.3H199.7V725.0H194.1zM574.7 719.3H580.4V725.0H574.7zM194.1 725.0H199.7V730.7H194.1zM461.5 730.7H467.2V736.5H461.5zM87.1 787.9H92.8V793.6H87.1zM104.0 787.9H109.7V793.6H104.0zM126.5 787.9H137.8V793.6H126.5zM199.7 787.9H205.2V793.6H199.7zM238.7 787.9H249.8V793.6H238.7zM272.1 787.9H277.7V793.6H272.1zM350.1 787.9H355.7V793.6H350.1zM383.5 787.9H389.1V793.6H383.5zM400.2 787.9H405.8V793.6H400.2zM428.1 787.9H433.6V793.6H428.1zM546.4 787.9H552.1V793.6H546.4zM591.7 787.9H597.4V793.6H591.7zM194.1 793.6H199.7V799.2H194.1zM574.7 821.9H580.4V827.5H574.7zM194.1 833.2H199.7V838.9H194.1zM194.1 838.9H199.7V844.5H194.1zM574.7 838.9H580.4V844.5H574.7zM461.5 855.9H467.2V861.5H461.5zM194.1 867.2H199.7V872.8H194.1zM574.7 872.8H580.4V878.5H574.7zM574.7 901.1H580.4V906.8H574.7zM194.1 946.5H199.7V952.1H194.1zM461.5 957.8H467.2V963.4H461.5zM194.1 980.4H199.7V986.1H194.1zM461.5 986.1H467.2V991.8H461.5zM194.1 997.4H199.7V1003.1H194.1zM574.7 1014.4H580.4V1020.1H574.7zM194.1 1025.7H199.7V1031.4H194.1zM574.7 1048.4H580.4V1054.0H574.7zM137.8 1059.7H143.4V1065.4H137.8zM260.9 1059.7H266.5V1065.4H260.9zM361.2 1059.7H366.8V1065.4H361.2zM389.1 1059.7H394.6V1065.4H389.1zM484.1 1059.7H489.8V1065.4H484.1zM518.1 1059.7H523.8V1065.4H518.1zM563.4 1059.7H574.7V1065.4H563.4zM591.7 1059.7H597.4V1065.4H591.7zM603.1 1059.7H614.4V1065.4H603.1zM642.8 1059.7H648.5V1065.4H642.8zM461.5 1082.5H467.2V1088.2H461.5zM574.7 1082.5H580.4V1088.2H574.7zM574.7 1099.7H580.4V1105.4H574.7zM461.5 1116.8H467.2V1122.5H461.5zM194.1 1145.4H199.7V1151.1H194.1zM574.7 1156.8H580.4V1162.5H574.7zM461.5 1162.5H467.2V1168.2H461.5zM461.5 1168.2H467.2V1173.9H461.5zM126.5 1173.9H132.2V1179.5H126.5zM227.5 1173.9H233.1V1179.5H227.5zM244.2 1173.9H249.8V1179.5H244.2zM277.7 1173.9H283.2V1179.5H277.7zM305.5 1173.9H311.1V1179.5H305.5zM416.9 1173.9H422.5V1179.5H416.9zM450.4 1173.9H455.9V1179.5H450.4zM484.1 1173.9H489.8V1179.5H484.1zM501.1 1173.9H506.8V1179.5H501.1zM557.7 1173.9H563.4V1179.5H557.7zM580.4 1173.9H586.1V1179.5H580.4zM597.4 1173.9H603.1V1179.5H597.4zM574.7 1179.5H580.4V1185.2H574.7zM194.1 1190.8H199.7V1196.4H194.1zM461.5 1190.8H467.2V1196.4H461.5zM574.7 1196.4H580.4V1202.1H574.7zM461.5 1202.1H467.2V1207.7H461.5zM461.5 1207.7H467.2V1213.3H461.5zM461.5 1241.5H467.2V1247.2H461.5z"/><path fill="#fbf8f8" d="M194.1 685.0H199.7V690.7H194.1zM194.1 690.7H199.7V696.4H194.1zM574.7 696.4H580.4V702.2H574.7zM194.1 702.2H199.7V707.9H194.1zM461.5 702.2H467.2V707.9H461.5zM574.7 702.2H580.4V707.9H574.7zM194.1 707.9H199.7V713.6H194.1zM461.5 713.6H467.2V719.3H461.5zM461.5 725.0H467.2V730.7H461.5zM194.1 730.7H199.7V736.5H194.1zM194.1 736.5H199.7V742.2H194.1zM461.5 736.5H467.2V742.2H461.5zM574.7 736.5H580.4V742.2H574.7zM194.1 742.2H199.7V747.9H194.1zM461.5 742.2H467.2V747.9H461.5zM194.1 747.9H199.7V753.6H194.1zM194.1 753.6H199.7V759.3H194.1zM574.7 753.6H580.4V759.3H574.7zM194.1 759.3H199.7V765.0H194.1zM461.5 759.3H467.2V765.0H461.5zM574.7 759.3H580.4V765.0H574.7zM194.1 765.0H199.7V770.8H194.1zM461.5 765.0H467.2V770.8H461.5zM574.7 765.0H580.4V770.8H574.7zM194.1 770.8H199.7V776.5H194.1zM574.7 770.8H580.4V776.5H574.7zM194.1 776.5H199.7V782.2H194.1zM461.5 776.5H467.2V782.2H461.5zM194.1 782.2H199.7V787.9H194.1zM574.7 782.2H580.4V787.9H574.7zM81.5 787.9H87.1V793.6H81.5zM92.8 787.9H104.0V793.6H92.8zM109.7 787.9H120.9V793.6H109.7zM137.8 787.9H199.7V793.6H137.8zM205.2 787.9H210.8V793.6H205.2zM216.4 787.9H233.1V793.6H216.4zM249.8 787.9H272.1V793.6H249.8zM277.7 787.9H299.9V793.6H277.7zM305.5 787.9H327.8V793.6H305.5zM338.9 787.9H350.1V793.6H338.9zM355.7 787.9H366.8V793.6H355.7zM372.4 787.9H383.5V793.6H372.4zM394.6 787.9H400.2V793.6H394.6zM405.8 787.9H416.9V793.6H405.8zM433.6 787.9H444.8V793.6H433.6zM455.9 787.9H461.5V793.6H455.9zM467.2 787.9H472.8V793.6H467.2zM501.1 787.9H540.7V793.6H501.1zM552.1 787.9H574.7V793.6H552.1zM580.4 787.9H586.1V793.6H580.4zM597.4 787.9H603.1V793.6H597.4zM608.8 787.9H614.4V793.6H608.8zM620.1 787.9H631.5V793.6H620.1zM642.8 787.9H648.5V793.6H642.8zM461.5 793.6H467.2V799.2H461.5zM194.1 799.2H199.7V804.9H194.1zM205.2 799.2H210.8V804.9H205.2zM461.5 799.2H467.2V804.9H461.5zM574.7 799.2H580.4V804.9H574.7zM574.7 804.9H580.4V810.5H574.7zM194.1 810.5H199.7V816.2H194.1zM216.4 810.5H222.0V816.2H216.4zM194.1 816.2H199.7V821.9H194.1zM222.0 816.2H227.5V821.9H222.0zM461.5 816.2H467.2V821.9H461.5zM574.7 816.2H580.4V821.9H574.7zM194.1 821.9H199.7V827.5H194.1zM461.5 821.9H467.2V827.5H461.5zM233.1 827.5H238.7V833.2H233.1zM461.5 827.5H467.2V833.2H461.5zM238.7 833.2H244.2V838.9H238.7zM461.5 833.2H467.2V838.9H461.5zM574.7 833.2H580.4V838.9H574.7zM244.2 838.9H249.8V844.5H244.2zM461.5 838.9H467.2V844.5H461.5zM194.1 844.5H199.7V850.2H194.1zM249.8 844.5H255.4V850.2H249.8zM461.5 844.5H467.2V850.2H461.5zM194.1 850.2H199.7V855.9H194.1zM461.5 850.2H467.2V855.9H461.5zM574.7 850.2H580.4V855.9H574.7zM194.1 855.9H199.7V861.5H194.1zM574.7 855.9H580.4V861.5H574.7zM194.1 861.5H199.7V867.2H194.1zM461.5 861.5H467.2V867.2H461.5zM574.7 861.5H580.4V867.2H574.7zM461.5 867.2H467.2V872.8H461.5zM194.1 872.8H199.7V878.5H194.1zM194.1 878.5H199.7V884.2H194.1zM461.5 878.5H467.2V884.2H461.5zM194.1 884.2H199.7V889.8H194.1zM461.5 884.2H467.2V889.8H461.5zM194.1 889.8H199.7V895.5H194.1zM461.5 889.8H467.2V895.5H461.5zM574.7 889.8H580.4V895.5H574.7zM461.5 895.5H467.2V901.1H461.5zM194.1 901.1H199.7V906.8H194.1zM305.5 901.1H311.1V906.8H305.5zM461.5 901.1H467.2V906.8H461.5zM194.1 906.8H199.7V912.5H194.1zM461.5 906.8H467.2V912.5H461.5zM574.7 906.8H580.4V912.5H574.7zM194.1 912.5H199.7V918.1H194.1zM461.5 912.5H467.2V918.1H461.5zM574.7 912.5H580.4V918.1H574.7zM194.1 918.1H199.7V923.8H194.1zM461.5 918.1H467.2V923.8H461.5zM461.5 923.8H467.2V929.5H461.5zM574.7 923.8H580.4V929.5H574.7zM461.5 929.5H467.2V935.1H461.5zM574.7 929.5H580.4V935.1H574.7zM194.1 935.1H199.7V940.8H194.1zM461.5 935.1H467.2V940.8H461.5zM574.7 935.1H580.4V940.8H574.7zM194.1 940.8H199.7V946.5H194.1zM461.5 940.8H467.2V946.5H461.5zM574.7 940.8H580.4V946.5H574.7zM461.5 946.5H467.2V952.1H461.5zM194.1 952.1H199.7V957.8H194.1zM461.5 952.1H467.2V957.8H461.5zM574.7 952.1H580.4V957.8H574.7zM194.1 957.8H199.7V963.4H194.1zM574.7 957.8H580.4V963.4H574.7zM461.5 963.4H467.2V969.1H461.5zM194.1 969.1H199.7V974.8H194.1zM461.5 969.1H467.2V974.8H461.5zM194.1 974.8H199.7V980.4H194.1zM461.5 974.8H467.2V980.4H461.5zM574.7 974.8H580.4V980.4H574.7zM461.5 980.4H467.2V986.1H461.5zM574.7 980.4H580.4V986.1H574.7zM574.7 986.1H580.4V991.8H574.7zM194.1 991.8H199.7V997.4H194.1zM461.5 991.8H467.2V997.4H461.5zM574.7 991.8H580.4V997.4H574.7zM461.5 997.4H467.2V1003.1H461.5zM574.7 997.4H580.4V1003.1H574.7zM194.1 1003.1H199.7V1008.7H194.1zM461.5 1003.1H467.2V1008.7H461.5zM574.7 1003.1H580.4V1008.7H574.7zM194.1 1008.7H199.7V1014.4H194.1zM461.5 1008.7H467.2V1014.4H461.5zM574.7 1008.7H580.4V1014.4H574.7zM461.5 1014.4H467.2V1020.1H461.5zM461.5 1020.1H467.2V1025.7H461.5zM574.7 1020.1H580.4V1025.7H574.7zM461.5 1025.7H467.2V1031.4H461.5zM574.7 1025.7H580.4V1031.4H574.7zM194.1 1031.4H199.7V1037.0H194.1zM574.7 1031.4H580.4V1037.0H574.7zM194.1 1037.0H199.7V1042.7H194.1zM461.5 1037.0H467.2V1042.7H461.5zM574.7 1037.0H580.4V1042.7H574.7zM444.8 1042.7H450.4V1048.4H444.8zM461.5 1042.7H467.2V1048.4H461.5zM574.7 1042.7H580.4V1048.4H574.7zM194.1 1054.0H199.7V1059.7H194.1zM461.5 1054.0H467.2V1059.7H461.5zM574.7 1054.0H580.4V1059.7H574.7zM81.5 1059.7H87.1V1065.4H81.5zM109.7 1059.7H115.3V1065.4H109.7zM120.9 1059.7H126.5V1065.4H120.9zM132.2 1059.7H137.8V1065.4H132.2zM143.4 1059.7H154.7V1065.4H143.4zM165.9 1059.7H177.2V1065.4H165.9zM182.8 1059.7H188.5V1065.4H182.8zM199.7 1059.7H210.8V1065.4H199.7zM222.0 1059.7H260.9V1065.4H222.0zM266.5 1059.7H277.7V1065.4H266.5zM283.2 1059.7H361.2V1065.4H283.2zM366.8 1059.7H389.1V1065.4H366.8zM394.6 1059.7H433.6V1065.4H394.6zM439.2 1059.7H450.4V1065.4H439.2zM455.9 1059.7H461.5V1065.4H455.9zM467.2 1059.7H472.8V1065.4H467.2zM478.5 1059.7H484.1V1065.4H478.5zM489.8 1059.7H506.8V1065.4H489.8zM529.4 1059.7H563.4V1065.4H529.4zM574.7 1059.7H591.7V1065.4H574.7zM597.4 1059.7H603.1V1065.4H597.4zM614.4 1059.7H620.1V1065.4H614.4zM625.8 1059.7H637.1V1065.4H625.8zM194.1 1065.4H199.7V1071.1H194.1zM461.5 1065.4H467.2V1071.1H461.5zM574.7 1065.4H580.4V1071.1H574.7zM574.7 1071.1H580.4V1076.8H574.7zM461.5 1076.8H467.2V1082.5H461.5zM574.7 1076.8H580.4V1082.5H574.7zM461.5 1088.2H467.2V1094.0H461.5zM574.7 1088.2H580.4V1094.0H574.7zM461.5 1094.0H467.2V1099.7H461.5zM574.7 1094.0H580.4V1099.7H574.7zM194.1 1099.7H199.7V1105.4H194.1zM461.5 1099.7H467.2V1105.4H461.5zM194.1 1105.4H199.7V1111.1H194.1zM506.8 1105.4H512.4V1111.1H506.8zM574.7 1105.4H580.4V1111.1H574.7zM194.1 1111.1H199.7V1116.8H194.1zM574.7 1111.1H580.4V1116.8H574.7zM194.1 1116.8H199.7V1122.5H194.1zM518.1 1116.8H523.8V1122.5H518.1zM574.7 1116.8H580.4V1122.5H574.7zM194.1 1122.5H199.7V1128.2H194.1zM523.8 1122.5H529.4V1128.2H523.8zM574.7 1122.5H580.4V1128.2H574.7zM194.1 1128.2H199.7V1133.9H194.1zM461.5 1128.2H467.2V1133.9H461.5zM574.7 1128.2H580.4V1133.9H574.7zM194.1 1133.9H199.7V1139.6H194.1zM461.5 1133.9H467.2V1139.6H461.5zM574.7 1133.9H580.4V1139.6H574.7zM461.5 1139.6H467.2V1145.4H461.5zM540.7 1139.6H546.4V1145.4H540.7zM461.5 1145.4H467.2V1151.1H461.5zM574.7 1145.4H580.4V1151.1H574.7zM194.1 1151.1H199.7V1156.8H194.1zM461.5 1151.1H467.2V1156.8H461.5zM574.7 1151.1H580.4V1156.8H574.7zM194.1 1156.8H199.7V1162.5H194.1zM461.5 1156.8H467.2V1162.5H461.5zM194.1 1162.5H199.7V1168.2H194.1zM194.1 1168.2H199.7V1173.9H194.1zM574.7 1168.2H580.4V1173.9H574.7zM104.0 1173.9H115.3V1179.5H104.0zM143.4 1173.9H149.1V1179.5H143.4zM160.3 1173.9H182.8V1179.5H160.3zM188.5 1173.9H194.1V1179.5H188.5zM205.2 1173.9H216.4V1179.5H205.2zM222.0 1173.9H227.5V1179.5H222.0zM238.7 1173.9H244.2V1179.5H238.7zM255.4 1173.9H272.1V1179.5H255.4zM294.4 1173.9H299.9V1179.5H294.4zM311.1 1173.9H322.2V1179.5H311.1zM327.8 1173.9H350.1V1179.5H327.8zM355.7 1173.9H366.8V1179.5H355.7zM377.9 1173.9H416.9V1179.5H377.9zM422.5 1173.9H450.4V1179.5H422.5zM455.9 1173.9H484.1V1179.5H455.9zM489.8 1173.9H501.1V1179.5H489.8zM506.8 1173.9H540.7V1179.5H506.8zM546.4 1173.9H557.7V1179.5H546.4zM569.0 1173.9H580.4V1179.5H569.0zM591.7 1173.9H597.4V1179.5H591.7zM603.1 1173.9H625.8V1179.5H603.1zM631.5 1173.9H637.1V1179.5H631.5zM642.8 1173.9H648.5V1179.5H642.8zM194.1 1179.5H199.7V1185.2H194.1zM461.5 1179.5H467.2V1185.2H461.5zM461.5 1185.2H467.2V1190.8H461.5zM574.7 1190.8H580.4V1196.4H574.7zM591.7 1190.8H597.4V1196.4H591.7zM194.1 1196.4H199.7V1202.1H194.1zM461.5 1196.4H467.2V1202.1H461.5zM574.7 1202.1H580.4V1207.7H574.7zM194.1 1207.7H199.7V1213.3H194.1zM574.7 1207.7H580.4V1213.3H574.7zM608.8 1207.7H614.4V1213.3H608.8zM461.5 1213.3H467.2V1219.0H461.5zM574.7 1213.3H580.4V1219.0H574.7zM194.1 1219.0H199.7V1224.6H194.1zM574.7 1219.0H580.4V1224.6H574.7zM194.1 1224.6H199.7V1230.3H194.1zM461.5 1224.6H467.2V1230.3H461.5zM461.5 1230.3H467.2V1235.9H461.5zM574.7 1230.3H580.4V1235.9H574.7zM194.1 1241.5H199.7V1247.2H194.1zM574.7 1241.5H580.4V1247.2H574.7zM574.7 1247.2H580.4V1252.8H574.7z"/></g><rect x="81.5" y="679.3" width="579.9" height="580.9" fill="none" stroke="#3a3a3a" stroke-width="1.6"/><rect x="789.8" y="679.1" width="581.7" height="581.0" fill="#eef0ef"/><g shape-rendering="crispEdges"><path fill="#f1959a" d="M789.8 679.1H795.3V684.7H789.8zM850.4 679.1H855.9V684.7H850.4zM927.9 679.1H933.4V684.7H927.9zM972.4 679.1H978.0V684.7H972.4zM1011.4 679.1H1022.6V684.7H1011.4zM1050.4 679.1H1061.6V684.7H1050.4zM1078.3 679.1H1083.8V684.7H1078.3zM1134.0 679.1H1145.1V684.7H1134.0zM1150.7 679.1H1167.4V684.7H1150.7zM1201.5 679.1H1207.2V684.7H1201.5zM1258.3 679.1H1269.6V684.7H1258.3zM1275.3 679.1H1281.0V684.7H1275.3zM822.9 684.7H828.4V690.4H822.9zM855.9 684.7H861.4V690.4H855.9zM944.6 684.7H950.1V690.4H944.6zM955.7 684.7H961.3V690.4H955.7zM972.4 684.7H978.0V690.4H972.4zM1017.0 684.7H1022.6V690.4H1017.0zM1039.3 684.7H1056.0V690.4H1039.3zM1061.6 684.7H1067.1V690.4H1061.6zM1252.6 684.7H1258.3V690.4H1252.6zM1264.0 684.7H1269.6V690.4H1264.0zM789.8 690.4H795.3V696.0H789.8zM817.3 690.4H822.9V696.0H817.3zM855.9 690.4H866.9V696.0H855.9zM894.5 690.4H900.0V696.0H894.5zM950.1 690.4H955.7V696.0H950.1zM961.3 690.4H966.9V696.0H961.3zM989.1 690.4H994.7V696.0H989.1zM1000.3 690.4H1005.8V696.0H1000.3zM1056.0 690.4H1061.6V696.0H1056.0zM1083.8 690.4H1089.4V696.0H1083.8zM1100.6 690.4H1106.1V696.0H1100.6zM1139.5 690.4H1145.1V696.0H1139.5zM1201.5 690.4H1207.2V696.0H1201.5zM1224.2 690.4H1229.9V696.0H1224.2zM855.9 696.0H861.4V701.6H855.9zM878.0 696.0H883.5V701.6H878.0zM927.9 696.0H933.4V701.6H927.9zM955.7 696.0H961.3V701.6H955.7zM1000.3 696.0H1005.8V701.6H1000.3zM1011.4 696.0H1017.0V701.6H1011.4zM1028.1 696.0H1033.7V701.6H1028.1zM1044.8 696.0H1050.4V701.6H1044.8zM1067.1 696.0H1078.3V701.6H1067.1zM1106.1 696.0H1111.7V701.6H1106.1zM1161.8 696.0H1167.4V701.6H1161.8zM1252.6 696.0H1258.3V701.6H1252.6zM806.3 701.6H811.8V707.2H806.3zM817.3 701.6H822.9V707.2H817.3zM839.4 701.6H844.9V707.2H839.4zM894.5 701.6H900.0V707.2H894.5zM905.6 701.6H911.1V707.2H905.6zM922.3 701.6H927.9V707.2H922.3zM983.6 701.6H989.1V707.2H983.6zM1028.1 701.6H1033.7V707.2H1028.1zM1056.0 701.6H1061.6V707.2H1056.0zM1156.3 701.6H1161.8V707.2H1156.3zM1252.6 701.6H1258.3V707.2H1252.6zM1269.6 701.6H1275.3V707.2H1269.6zM1293.1 701.6H1299.1V707.2H1293.1zM800.8 707.2H806.3V712.9H800.8zM855.9 707.2H861.4V712.9H855.9zM911.1 707.2H916.7V712.9H911.1zM994.7 707.2H1000.3V712.9H994.7zM1072.7 707.2H1078.3V712.9H1072.7zM1095.0 707.2H1100.6V712.9H1095.0zM1122.8 707.2H1128.4V712.9H1122.8zM1145.1 707.2H1150.7V712.9H1145.1zM1264.0 707.2H1269.6V712.9H1264.0zM894.5 712.9H900.0V718.5H894.5zM966.9 712.9H972.4V718.5H966.9zM1044.8 712.9H1050.4V718.5H1044.8zM1106.1 712.9H1111.7V718.5H1106.1zM1201.5 712.9H1207.2V718.5H1201.5zM1347.4 718.5H1353.5V724.1H1347.4zM789.8 724.1H795.3V729.7H789.8zM817.3 724.1H822.9V729.7H817.3zM855.9 724.1H861.4V729.7H855.9zM1000.3 724.1H1005.8V729.7H1000.3zM1050.4 724.1H1056.0V729.7H1050.4zM1111.7 724.1H1117.3V729.7H1111.7zM1134.0 724.1H1139.5V729.7H1134.0zM1311.2 724.1H1317.2V729.7H1311.2zM905.6 729.7H916.7V735.4H905.6zM955.7 729.7H961.3V735.4H955.7zM1017.0 729.7H1022.6V735.4H1017.0zM1044.8 729.7H1056.0V735.4H1044.8zM1067.1 729.7H1072.7V735.4H1067.1zM1100.6 729.7H1106.1V735.4H1100.6zM1145.1 729.7H1150.7V735.4H1145.1zM1241.2 729.7H1246.9V735.4H1241.2zM1275.3 729.7H1281.0V735.4H1275.3zM1311.2 729.7H1323.3V735.4H1311.2zM789.8 735.4H800.8V741.0H789.8zM850.4 735.4H855.9V741.0H850.4zM972.4 735.4H978.0V741.0H972.4zM983.6 735.4H989.1V741.0H983.6zM1028.1 735.4H1033.7V741.0H1028.1zM1083.8 735.4H1095.0V741.0H1083.8zM1100.6 735.4H1106.1V741.0H1100.6zM1139.5 735.4H1145.1V741.0H1139.5zM800.8 741.0H817.3V746.6H800.8zM822.9 741.0H828.4V746.6H822.9zM839.4 741.0H844.9V746.6H839.4zM861.4 741.0H866.9V746.6H861.4zM927.9 741.0H933.4V746.6H927.9zM955.7 741.0H961.3V746.6H955.7zM989.1 741.0H994.7V746.6H989.1zM1005.8 741.0H1011.4V746.6H1005.8zM1106.1 741.0H1111.7V746.6H1106.1zM1173.1 741.0H1178.8V746.6H1173.1zM1190.1 741.0H1195.8V746.6H1190.1zM1218.5 741.0H1224.2V746.6H1218.5zM1246.9 741.0H1258.3V746.6H1246.9zM1335.3 741.0H1341.4V746.6H1335.3zM806.3 746.6H811.8V752.2H806.3zM855.9 746.6H861.4V752.2H855.9zM922.3 746.6H927.9V752.2H922.3zM933.4 746.6H944.6V752.2H933.4zM955.7 746.6H966.9V752.2H955.7zM972.4 746.6H1000.3V752.2H972.4zM1017.0 746.6H1028.1V752.2H1017.0zM1033.7 746.6H1039.3V752.2H1033.7zM1056.0 746.6H1061.6V752.2H1056.0zM1156.3 746.6H1161.8V752.2H1156.3zM1184.4 746.6H1190.1V752.2H1184.4zM1207.2 746.6H1212.8V752.2H1207.2zM1264.0 746.6H1269.6V752.2H1264.0zM1335.3 746.6H1341.4V752.2H1335.3zM1353.5 746.6H1359.5V752.2H1353.5zM872.5 752.2H878.0V757.9H872.5zM905.6 752.2H911.1V757.9H905.6zM955.7 752.2H966.9V757.9H955.7zM972.4 752.2H978.0V757.9H972.4zM994.7 752.2H1005.8V757.9H994.7zM1050.4 752.2H1056.0V757.9H1050.4zM1117.3 752.2H1122.8V757.9H1117.3zM1139.5 752.2H1145.1V757.9H1139.5zM1173.1 752.2H1178.8V757.9H1173.1zM1184.4 752.2H1195.8V757.9H1184.4zM1201.5 752.2H1207.2V757.9H1201.5zM1235.6 752.2H1241.2V757.9H1235.6zM1329.3 752.2H1335.3V757.9H1329.3zM1341.4 752.2H1347.4V757.9H1341.4zM866.9 757.9H872.5V763.5H866.9zM911.1 757.9H922.3V763.5H911.1zM933.4 757.9H939.0V763.5H933.4zM1067.1 757.9H1072.7V763.5H1067.1zM1100.6 757.9H1111.7V763.5H1100.6zM1145.1 757.9H1150.7V763.5H1145.1zM1190.1 757.9H1201.5V763.5H1190.1zM1275.3 757.9H1281.0V763.5H1275.3zM1353.5 757.9H1359.5V763.5H1353.5zM789.8 763.5H795.3V769.1H789.8zM811.8 763.5H817.3V769.1H811.8zM883.5 763.5H889.0V769.1H883.5zM922.3 763.5H927.9V769.1H922.3zM933.4 763.5H939.0V769.1H933.4zM944.6 763.5H955.7V769.1H944.6zM989.1 763.5H994.7V769.1H989.1zM1005.8 763.5H1011.4V769.1H1005.8zM1028.1 763.5H1033.7V769.1H1028.1zM1039.3 763.5H1044.8V769.1H1039.3zM1061.6 763.5H1067.1V769.1H1061.6zM1072.7 763.5H1078.3V769.1H1072.7zM1106.1 763.5H1122.8V769.1H1106.1zM1128.4 763.5H1134.0V769.1H1128.4zM1229.9 763.5H1235.6V769.1H1229.9zM1299.1 763.5H1311.2V769.1H1299.1zM789.8 769.1H795.3V774.7H789.8zM878.0 769.1H894.5V774.7H878.0zM922.3 769.1H927.9V774.7H922.3zM1022.6 769.1H1028.1V774.7H1022.6zM1039.3 769.1H1050.4V774.7H1039.3zM1078.3 769.1H1089.4V774.7H1078.3zM1111.7 769.1H1117.3V774.7H1111.7zM1122.8 769.1H1128.4V774.7H1122.8zM1145.1 769.1H1150.7V774.7H1145.1zM1224.2 769.1H1229.9V774.7H1224.2zM1241.2 769.1H1246.9V774.7H1241.2zM1252.6 769.1H1258.3V774.7H1252.6zM1299.1 769.1H1305.2V774.7H1299.1zM789.8 774.7H795.3V780.4H789.8zM883.5 774.7H889.0V780.4H883.5zM933.4 774.7H939.0V780.4H933.4zM955.7 774.7H961.3V780.4H955.7zM1022.6 774.7H1028.1V780.4H1022.6zM1033.7 774.7H1039.3V780.4H1033.7zM1056.0 774.7H1067.1V780.4H1056.0zM1078.3 774.7H1083.8V780.4H1078.3zM1095.0 774.7H1100.6V780.4H1095.0zM1122.8 774.7H1128.4V780.4H1122.8zM1139.5 774.7H1145.1V780.4H1139.5zM1173.1 774.7H1178.8V780.4H1173.1zM1195.8 774.7H1201.5V780.4H1195.8zM1235.6 774.7H1246.9V780.4H1235.6zM1258.3 774.7H1264.0V780.4H1258.3zM1269.6 774.7H1281.0V780.4H1269.6zM1299.1 774.7H1305.2V780.4H1299.1zM1323.3 774.7H1335.3V780.4H1323.3zM1347.4 774.7H1353.5V780.4H1347.4zM806.3 780.4H811.8V786.0H806.3zM817.3 780.4H822.9V786.0H817.3zM828.4 780.4H833.9V786.0H828.4zM983.6 780.4H994.7V786.0H983.6zM1017.0 780.4H1022.6V786.0H1017.0zM1033.7 780.4H1039.3V786.0H1033.7zM1067.1 780.4H1078.3V786.0H1067.1zM1089.4 780.4H1095.0V786.0H1089.4zM1106.1 780.4H1111.7V786.0H1106.1zM1122.8 780.4H1134.0V786.0H1122.8zM1201.5 780.4H1207.2V786.0H1201.5zM1212.8 780.4H1218.5V786.0H1212.8zM1229.9 780.4H1241.2V786.0H1229.9zM1246.9 780.4H1252.6V786.0H1246.9zM1275.3 780.4H1281.0V786.0H1275.3zM1293.1 780.4H1317.2V786.0H1293.1zM1335.3 780.4H1341.4V786.0H1335.3zM1347.4 780.4H1353.5V786.0H1347.4zM1359.5 780.4H1365.5V786.0H1359.5zM817.3 791.6H822.9V797.3H817.3zM844.9 791.6H850.4V797.3H844.9zM866.9 791.6H872.5V797.3H866.9zM916.7 791.6H922.3V797.3H916.7zM933.4 791.6H939.0V797.3H933.4zM972.4 791.6H994.7V797.3H972.4zM1022.6 791.6H1039.3V797.3H1022.6zM1056.0 791.6H1061.6V797.3H1056.0zM1078.3 791.6H1089.4V797.3H1078.3zM1111.7 791.6H1117.3V797.3H1111.7zM1122.8 791.6H1139.5V797.3H1122.8zM1178.8 791.6H1190.1V797.3H1178.8zM1212.8 791.6H1218.5V797.3H1212.8zM1235.6 791.6H1241.2V797.3H1235.6zM1246.9 791.6H1252.6V797.3H1246.9zM1287.0 791.6H1293.1V797.3H1287.0zM1311.2 791.6H1323.3V797.3H1311.2zM822.9 797.3H828.4V802.9H822.9zM844.9 797.3H850.4V802.9H844.9zM872.5 797.3H878.0V802.9H872.5zM933.4 797.3H939.0V802.9H933.4zM944.6 797.3H950.1V802.9H944.6zM978.0 797.3H983.6V802.9H978.0zM1005.8 797.3H1011.4V802.9H1005.8zM1033.7 797.3H1039.3V802.9H1033.7zM1089.4 797.3H1095.0V802.9H1089.4zM1100.6 797.3H1111.7V802.9H1100.6zM1128.4 797.3H1150.7V802.9H1128.4zM1184.4 797.3H1190.1V802.9H1184.4zM1212.8 797.3H1218.5V802.9H1212.8zM1241.2 797.3H1246.9V802.9H1241.2zM1258.3 797.3H1264.0V802.9H1258.3zM1275.3 797.3H1281.0V802.9H1275.3zM1287.0 797.3H1293.1V802.9H1287.0zM872.5 802.9H878.0V808.5H872.5zM905.6 802.9H911.1V808.5H905.6zM933.4 802.9H950.1V808.5H933.4zM955.7 802.9H961.3V808.5H955.7zM983.6 802.9H994.7V808.5H983.6zM1000.3 802.9H1011.4V808.5H1000.3zM1056.0 802.9H1061.6V808.5H1056.0zM1067.1 802.9H1072.7V808.5H1067.1zM1095.0 802.9H1100.6V808.5H1095.0zM1111.7 802.9H1117.3V808.5H1111.7zM1201.5 802.9H1212.8V808.5H1201.5zM1252.6 802.9H1258.3V808.5H1252.6zM1305.2 802.9H1311.2V808.5H1305.2zM817.3 808.5H822.9V814.2H817.3zM861.4 808.5H866.9V814.2H861.4zM878.0 808.5H889.0V814.2H878.0zM950.1 808.5H955.7V814.2H950.1zM989.1 808.5H994.7V814.2H989.1zM1011.4 808.5H1017.0V814.2H1011.4zM1028.1 808.5H1033.7V814.2H1028.1zM1039.3 808.5H1044.8V814.2H1039.3zM1100.6 808.5H1106.1V814.2H1100.6zM1111.7 808.5H1128.4V814.2H1111.7zM1139.5 808.5H1145.1V814.2H1139.5zM1150.7 808.5H1156.3V814.2H1150.7zM1178.8 808.5H1184.4V814.2H1178.8zM1224.2 808.5H1229.9V814.2H1224.2zM1258.3 808.5H1264.0V814.2H1258.3zM1287.0 808.5H1299.1V814.2H1287.0zM1305.2 808.5H1311.2V814.2H1305.2zM795.3 814.2H800.8V819.8H795.3zM811.8 814.2H817.3V819.8H811.8zM855.9 814.2H861.4V819.8H855.9zM933.4 814.2H939.0V819.8H933.4zM944.6 814.2H950.1V819.8H944.6zM961.3 814.2H966.9V819.8H961.3zM1005.8 814.2H1017.0V819.8H1005.8zM1072.7 814.2H1078.3V819.8H1072.7zM1083.8 814.2H1089.4V819.8H1083.8zM1095.0 814.2H1100.6V819.8H1095.0zM1106.1 814.2H1111.7V819.8H1106.1zM1128.4 814.2H1139.5V819.8H1128.4zM1156.3 814.2H1167.4V819.8H1156.3zM1173.1 814.2H1178.8V819.8H1173.1zM1195.8 814.2H1201.5V819.8H1195.8zM1207.2 814.2H1218.5V819.8H1207.2zM1269.6 814.2H1281.0V819.8H1269.6zM1323.3 814.2H1329.3V819.8H1323.3zM1335.3 814.2H1341.4V819.8H1335.3zM861.4 819.8H866.9V825.4H861.4zM872.5 819.8H883.5V825.4H872.5zM889.0 819.8H894.5V825.4H889.0zM905.6 819.8H922.3V825.4H905.6zM927.9 819.8H933.4V825.4H927.9zM983.6 819.8H1000.3V825.4H983.6zM1005.8 819.8H1011.4V825.4H1005.8zM1028.1 819.8H1033.7V825.4H1028.1zM1061.6 819.8H1067.1V825.4H1061.6zM1190.1 819.8H1195.8V825.4H1190.1zM1229.9 819.8H1235.6V825.4H1229.9zM1317.2 819.8H1323.3V825.4H1317.2zM1335.3 819.8H1341.4V825.4H1335.3zM789.8 825.4H795.3V831.1H789.8zM861.4 825.4H866.9V831.1H861.4zM916.7 825.4H922.3V831.1H916.7zM989.1 825.4H994.7V831.1H989.1zM1022.6 825.4H1033.7V831.1H1022.6zM1056.0 825.4H1067.1V831.1H1056.0zM1072.7 825.4H1078.3V831.1H1072.7zM1095.0 825.4H1100.6V831.1H1095.0zM1150.7 825.4H1156.3V831.1H1150.7zM1212.8 825.4H1218.5V831.1H1212.8zM1258.3 825.4H1275.3V831.1H1258.3zM1323.3 825.4H1329.3V831.1H1323.3zM1341.4 825.4H1347.4V831.1H1341.4zM1359.5 825.4H1365.5V831.1H1359.5zM800.8 831.1H806.3V836.7H800.8zM878.0 831.1H883.5V836.7H878.0zM911.1 831.1H922.3V836.7H911.1zM927.9 831.1H933.4V836.7H927.9zM983.6 831.1H989.1V836.7H983.6zM1005.8 831.1H1011.4V836.7H1005.8zM1017.0 831.1H1022.6V836.7H1017.0zM1039.3 831.1H1044.8V836.7H1039.3zM1072.7 831.1H1078.3V836.7H1072.7zM1106.1 831.1H1111.7V836.7H1106.1zM1122.8 831.1H1128.4V836.7H1122.8zM1145.1 831.1H1150.7V836.7H1145.1zM1178.8 831.1H1184.4V836.7H1178.8zM1195.8 831.1H1207.2V836.7H1195.8zM1212.8 831.1H1218.5V836.7H1212.8zM1258.3 831.1H1264.0V836.7H1258.3zM806.3 836.7H811.8V842.3H806.3zM878.0 836.7H883.5V842.3H878.0zM922.3 836.7H927.9V842.3H922.3zM955.7 836.7H966.9V842.3H955.7zM983.6 836.7H989.1V842.3H983.6zM1000.3 836.7H1005.8V842.3H1000.3zM1011.4 836.7H1017.0V842.3H1011.4zM1061.6 836.7H1067.1V842.3H1061.6zM1095.0 836.7H1106.1V842.3H1095.0zM1117.3 836.7H1122.8V842.3H1117.3zM1161.8 836.7H1167.4V842.3H1161.8zM1173.1 836.7H1178.8V842.3H1173.1zM1184.4 836.7H1190.1V842.3H1184.4zM1212.8 836.7H1218.5V842.3H1212.8zM1224.2 836.7H1229.9V842.3H1224.2zM1258.3 836.7H1275.3V842.3H1258.3zM1305.2 836.7H1311.2V842.3H1305.2zM1329.3 836.7H1341.4V842.3H1329.3zM800.8 842.3H806.3V848.0H800.8zM811.8 842.3H817.3V848.0H811.8zM844.9 842.3H850.4V848.0H844.9zM855.9 842.3H872.5V848.0H855.9zM889.0 842.3H894.5V848.0H889.0zM916.7 842.3H922.3V848.0H916.7zM950.1 842.3H955.7V848.0H950.1zM983.6 842.3H989.1V848.0H983.6zM994.7 842.3H1000.3V848.0H994.7zM1028.1 842.3H1050.4V848.0H1028.1zM1134.0 842.3H1139.5V848.0H1134.0zM1150.7 842.3H1161.8V848.0H1150.7zM1173.1 842.3H1178.8V848.0H1173.1zM1195.8 842.3H1201.5V848.0H1195.8zM1207.2 842.3H1212.8V848.0H1207.2zM1241.2 842.3H1252.6V848.0H1241.2zM1264.0 842.3H1269.6V848.0H1264.0zM1287.0 842.3H1299.1V848.0H1287.0zM1305.2 842.3H1311.2V848.0H1305.2zM1323.3 842.3H1329.3V848.0H1323.3zM1353.5 842.3H1359.5V848.0H1353.5zM789.8 848.0H795.3V853.6H789.8zM806.3 848.0H811.8V853.6H806.3zM861.4 848.0H872.5V853.6H861.4zM927.9 848.0H933.4V853.6H927.9zM950.1 848.0H955.7V853.6H950.1zM1022.6 848.0H1033.7V853.6H1022.6zM1039.3 848.0H1044.8V853.6H1039.3zM1089.4 848.0H1106.1V853.6H1089.4zM1122.8 848.0H1134.0V853.6H1122.8zM1145.1 848.0H1156.3V853.6H1145.1zM1190.1 848.0H1195.8V853.6H1190.1zM1207.2 848.0H1212.8V853.6H1207.2zM1264.0 848.0H1269.6V853.6H1264.0zM1275.3 848.0H1281.0V853.6H1275.3zM1353.5 848.0H1365.5V853.6H1353.5zM828.4 853.6H833.9V859.2H828.4zM1017.0 853.6H1022.6V859.2H1017.0zM1028.1 853.6H1033.7V859.2H1028.1zM1050.4 853.6H1056.0V859.2H1050.4zM1156.3 853.6H1161.8V859.2H1156.3zM1173.1 853.6H1178.8V859.2H1173.1zM1184.4 853.6H1190.1V859.2H1184.4zM1207.2 853.6H1218.5V859.2H1207.2zM1252.6 853.6H1258.3V859.2H1252.6zM1269.6 853.6H1275.3V859.2H1269.6zM795.3 859.2H806.3V864.9H795.3zM850.4 859.2H855.9V864.9H850.4zM861.4 859.2H872.5V864.9H861.4zM905.6 859.2H911.1V864.9H905.6zM972.4 859.2H983.6V864.9H972.4zM1000.3 859.2H1005.8V864.9H1000.3zM1033.7 859.2H1039.3V864.9H1033.7zM1044.8 859.2H1050.4V864.9H1044.8zM1134.0 859.2H1139.5V864.9H1134.0zM1150.7 859.2H1156.3V864.9H1150.7zM1184.4 859.2H1190.1V864.9H1184.4zM1201.5 859.2H1207.2V864.9H1201.5zM1246.9 859.2H1252.6V864.9H1246.9zM1258.3 859.2H1264.0V864.9H1258.3zM1305.2 859.2H1311.2V864.9H1305.2zM1335.3 859.2H1341.4V864.9H1335.3zM1347.4 859.2H1353.5V864.9H1347.4zM789.8 864.9H795.3V870.5H789.8zM861.4 864.9H866.9V870.5H861.4zM905.6 864.9H916.7V870.5H905.6zM972.4 864.9H978.0V870.5H972.4zM1000.3 864.9H1005.8V870.5H1000.3zM1039.3 864.9H1056.0V870.5H1039.3zM1067.1 864.9H1078.3V870.5H1067.1zM1100.6 864.9H1106.1V870.5H1100.6zM1128.4 864.9H1139.5V870.5H1128.4zM1190.1 864.9H1201.5V870.5H1190.1zM1212.8 864.9H1218.5V870.5H1212.8zM1224.2 864.9H1229.9V870.5H1224.2zM1241.2 864.9H1246.9V870.5H1241.2zM1275.3 864.9H1281.0V870.5H1275.3zM1293.1 864.9H1299.1V870.5H1293.1zM1311.2 864.9H1317.2V870.5H1311.2zM789.8 870.5H795.3V876.1H789.8zM817.3 870.5H822.9V876.1H817.3zM850.4 870.5H855.9V876.1H850.4zM861.4 870.5H866.9V876.1H861.4zM894.5 870.5H900.0V876.1H894.5zM905.6 870.5H911.1V876.1H905.6zM916.7 870.5H922.3V876.1H916.7zM933.4 870.5H939.0V876.1H933.4zM944.6 870.5H961.3V876.1H944.6zM983.6 870.5H989.1V876.1H983.6zM1000.3 870.5H1005.8V876.1H1000.3zM1011.4 870.5H1017.0V876.1H1011.4zM1033.7 870.5H1044.8V876.1H1033.7zM1061.6 870.5H1067.1V876.1H1061.6zM1089.4 870.5H1095.0V876.1H1089.4zM1178.8 870.5H1184.4V876.1H1178.8zM1229.9 870.5H1235.6V876.1H1229.9zM1241.2 870.5H1246.9V876.1H1241.2zM1264.0 870.5H1269.6V876.1H1264.0zM1275.3 870.5H1281.0V876.1H1275.3zM1341.4 870.5H1347.4V876.1H1341.4zM1359.5 870.5H1365.5V876.1H1359.5zM806.3 876.1H811.8V881.8H806.3zM855.9 876.1H866.9V881.8H855.9zM878.0 876.1H883.5V881.8H878.0zM894.5 876.1H900.0V881.8H894.5zM905.6 876.1H911.1V881.8H905.6zM916.7 876.1H927.9V881.8H916.7zM933.4 876.1H944.6V881.8H933.4zM1000.3 876.1H1005.8V881.8H1000.3zM1028.1 876.1H1033.7V881.8H1028.1zM1050.4 876.1H1056.0V881.8H1050.4zM1128.4 876.1H1134.0V881.8H1128.4zM1161.8 876.1H1167.4V881.8H1161.8zM1173.1 876.1H1178.8V881.8H1173.1zM1207.2 876.1H1212.8V881.8H1207.2zM1229.9 876.1H1235.6V881.8H1229.9zM1258.3 876.1H1264.0V881.8H1258.3zM1299.1 876.1H1311.2V881.8H1299.1zM822.9 881.8H828.4V887.4H822.9zM861.4 881.8H872.5V887.4H861.4zM933.4 881.8H939.0V887.4H933.4zM955.7 881.8H961.3V887.4H955.7zM1005.8 881.8H1011.4V887.4H1005.8zM1028.1 881.8H1033.7V887.4H1028.1zM1117.3 881.8H1122.8V887.4H1117.3zM1134.0 881.8H1145.1V887.4H1134.0zM1150.7 881.8H1161.8V887.4H1150.7zM1173.1 881.8H1178.8V887.4H1173.1zM1235.6 881.8H1246.9V887.4H1235.6zM1269.6 881.8H1275.3V887.4H1269.6zM1293.1 881.8H1299.1V887.4H1293.1zM806.3 887.4H817.3V893.0H806.3zM839.4 887.4H844.9V893.0H839.4zM866.9 887.4H872.5V893.0H866.9zM916.7 887.4H922.3V893.0H916.7zM950.1 887.4H955.7V893.0H950.1zM972.4 887.4H994.7V893.0H972.4zM1011.4 887.4H1017.0V893.0H1011.4zM1022.6 887.4H1033.7V893.0H1022.6zM1039.3 887.4H1044.8V893.0H1039.3zM1083.8 887.4H1089.4V893.0H1083.8zM1111.7 887.4H1117.3V893.0H1111.7zM1145.1 887.4H1156.3V893.0H1145.1zM1173.1 887.4H1178.8V893.0H1173.1zM1195.8 887.4H1201.5V893.0H1195.8zM1224.2 887.4H1229.9V893.0H1224.2zM1275.3 887.4H1281.0V893.0H1275.3zM1305.2 887.4H1311.2V893.0H1305.2zM855.9 893.0H861.4V898.7H855.9zM878.0 893.0H883.5V898.7H878.0zM911.1 893.0H922.3V898.7H911.1zM927.9 893.0H939.0V898.7H927.9zM944.6 893.0H950.1V898.7H944.6zM994.7 893.0H1000.3V898.7H994.7zM1011.4 893.0H1017.0V898.7H1011.4zM1028.1 893.0H1033.7V898.7H1028.1zM1039.3 893.0H1044.8V898.7H1039.3zM1083.8 893.0H1089.4V898.7H1083.8zM1095.0 893.0H1100.6V898.7H1095.0zM1122.8 893.0H1139.5V898.7H1122.8zM1161.8 893.0H1167.4V898.7H1161.8zM1184.4 893.0H1190.1V898.7H1184.4zM1235.6 893.0H1241.2V898.7H1235.6zM1252.6 893.0H1258.3V898.7H1252.6zM1275.3 893.0H1281.0V898.7H1275.3zM1311.2 893.0H1323.3V898.7H1311.2zM795.3 898.7H800.8V904.3H795.3zM811.8 898.7H817.3V904.3H811.8zM922.3 898.7H933.4V904.3H922.3zM950.1 898.7H955.7V904.3H950.1zM983.6 898.7H989.1V904.3H983.6zM1000.3 898.7H1011.4V904.3H1000.3zM1017.0 898.7H1022.6V904.3H1017.0zM1089.4 898.7H1095.0V904.3H1089.4zM1117.3 898.7H1122.8V904.3H1117.3zM1139.5 898.7H1150.7V904.3H1139.5zM1224.2 898.7H1229.9V904.3H1224.2zM1252.6 898.7H1264.0V904.3H1252.6zM1287.0 898.7H1293.1V904.3H1287.0zM1317.2 898.7H1323.3V904.3H1317.2zM795.3 904.3H806.3V909.9H795.3zM844.9 904.3H850.4V909.9H844.9zM861.4 904.3H866.9V909.9H861.4zM894.5 904.3H900.0V909.9H894.5zM944.6 904.3H950.1V909.9H944.6zM966.9 904.3H972.4V909.9H966.9zM1011.4 904.3H1017.0V909.9H1011.4zM1022.6 904.3H1028.1V909.9H1022.6zM1050.4 904.3H1061.6V909.9H1050.4zM1089.4 904.3H1095.0V909.9H1089.4zM1145.1 904.3H1156.3V909.9H1145.1zM1173.1 904.3H1178.8V909.9H1173.1zM1184.4 904.3H1190.1V909.9H1184.4zM1201.5 904.3H1207.2V909.9H1201.5zM1235.6 904.3H1241.2V909.9H1235.6zM1246.9 904.3H1252.6V909.9H1246.9zM1293.1 904.3H1305.2V909.9H1293.1zM1341.4 904.3H1347.4V909.9H1341.4zM861.4 909.9H866.9V915.6H861.4zM883.5 909.9H894.5V915.6H883.5zM905.6 909.9H911.1V915.6H905.6zM939.0 909.9H944.6V915.6H939.0zM961.3 909.9H966.9V915.6H961.3zM1000.3 909.9H1005.8V915.6H1000.3zM1017.0 909.9H1022.6V915.6H1017.0zM1028.1 909.9H1033.7V915.6H1028.1zM1145.1 909.9H1150.7V915.6H1145.1zM1190.1 909.9H1195.8V915.6H1190.1zM1212.8 909.9H1218.5V915.6H1212.8zM1252.6 909.9H1258.3V915.6H1252.6zM1275.3 909.9H1281.0V915.6H1275.3zM1293.1 909.9H1299.1V915.6H1293.1zM1317.2 909.9H1323.3V915.6H1317.2zM789.8 915.6H795.3V921.2H789.8zM811.8 915.6H822.9V921.2H811.8zM850.4 915.6H855.9V921.2H850.4zM878.0 915.6H883.5V921.2H878.0zM905.6 915.6H911.1V921.2H905.6zM922.3 915.6H927.9V921.2H922.3zM933.4 915.6H944.6V921.2H933.4zM955.7 915.6H972.4V921.2H955.7zM989.1 915.6H1011.4V921.2H989.1zM1022.6 915.6H1028.1V921.2H1022.6zM1067.1 915.6H1072.7V921.2H1067.1zM1106.1 915.6H1111.7V921.2H1106.1zM1128.4 915.6H1134.0V921.2H1128.4zM1207.2 915.6H1212.8V921.2H1207.2zM1258.3 915.6H1264.0V921.2H1258.3zM1287.0 915.6H1293.1V921.2H1287.0zM1317.2 915.6H1323.3V921.2H1317.2zM1329.3 915.6H1335.3V921.2H1329.3zM861.4 921.2H866.9V926.8H861.4zM889.0 921.2H900.0V926.8H889.0zM905.6 921.2H916.7V926.8H905.6zM955.7 921.2H961.3V926.8H955.7zM972.4 921.2H978.0V926.8H972.4zM983.6 921.2H989.1V926.8H983.6zM1044.8 921.2H1050.4V926.8H1044.8zM1067.1 921.2H1072.7V926.8H1067.1zM1106.1 921.2H1111.7V926.8H1106.1zM1134.0 921.2H1145.1V926.8H1134.0zM1150.7 921.2H1156.3V926.8H1150.7zM1229.9 921.2H1246.9V926.8H1229.9zM1258.3 921.2H1264.0V926.8H1258.3zM800.8 926.8H806.3V932.5H800.8zM878.0 926.8H889.0V932.5H878.0zM922.3 926.8H927.9V932.5H922.3zM944.6 926.8H950.1V932.5H944.6zM955.7 926.8H966.9V932.5H955.7zM978.0 926.8H989.1V932.5H978.0zM1000.3 926.8H1011.4V932.5H1000.3zM1067.1 926.8H1072.7V932.5H1067.1zM1178.8 926.8H1184.4V932.5H1178.8zM1218.5 926.8H1224.2V932.5H1218.5zM1246.9 926.8H1252.6V932.5H1246.9zM1287.0 926.8H1299.1V932.5H1287.0zM800.8 932.5H806.3V938.1H800.8zM811.8 932.5H817.3V938.1H811.8zM828.4 932.5H833.9V938.1H828.4zM844.9 932.5H850.4V938.1H844.9zM883.5 932.5H889.0V938.1H883.5zM955.7 932.5H961.3V938.1H955.7zM972.4 932.5H983.6V938.1H972.4zM1033.7 932.5H1039.3V938.1H1033.7zM1100.6 932.5H1106.1V938.1H1100.6zM1150.7 932.5H1156.3V938.1H1150.7zM1161.8 932.5H1167.4V938.1H1161.8zM1190.1 932.5H1195.8V938.1H1190.1zM1207.2 932.5H1212.8V938.1H1207.2zM1224.2 932.5H1229.9V938.1H1224.2zM1235.6 932.5H1241.2V938.1H1235.6zM1305.2 932.5H1317.2V938.1H1305.2zM1323.3 932.5H1329.3V938.1H1323.3zM795.3 938.1H806.3V943.7H795.3zM839.4 938.1H850.4V943.7H839.4zM866.9 938.1H872.5V943.7H866.9zM966.9 938.1H972.4V943.7H966.9zM978.0 938.1H983.6V943.7H978.0zM989.1 938.1H994.7V943.7H989.1zM1017.0 938.1H1022.6V943.7H1017.0zM1067.1 938.1H1072.7V943.7H1067.1zM1134.0 938.1H1139.5V943.7H1134.0zM1161.8 938.1H1167.4V943.7H1161.8zM1178.8 938.1H1184.4V943.7H1178.8zM1201.5 938.1H1207.2V943.7H1201.5zM1229.9 938.1H1235.6V943.7H1229.9zM1275.3 938.1H1281.0V943.7H1275.3zM1299.1 938.1H1305.2V943.7H1299.1zM795.3 943.7H800.8V949.4H795.3zM806.3 943.7H811.8V949.4H806.3zM817.3 943.7H822.9V949.4H817.3zM861.4 943.7H866.9V949.4H861.4zM889.0 943.7H894.5V949.4H889.0zM905.6 943.7H911.1V949.4H905.6zM916.7 943.7H922.3V949.4H916.7zM939.0 943.7H944.6V949.4H939.0zM1017.0 943.7H1022.6V949.4H1017.0zM1122.8 943.7H1128.4V949.4H1122.8zM1145.1 943.7H1156.3V949.4H1145.1zM1201.5 943.7H1207.2V949.4H1201.5zM1218.5 943.7H1224.2V949.4H1218.5zM1299.1 943.7H1305.2V949.4H1299.1zM1317.2 943.7H1323.3V949.4H1317.2zM1347.4 943.7H1353.5V949.4H1347.4zM800.8 949.4H806.3V955.0H800.8zM878.0 949.4H883.5V955.0H878.0zM889.0 949.4H894.5V955.0H889.0zM933.4 949.4H944.6V955.0H933.4zM950.1 949.4H955.7V955.0H950.1zM983.6 949.4H989.1V955.0H983.6zM1111.7 949.4H1117.3V955.0H1111.7zM1178.8 949.4H1184.4V955.0H1178.8zM1201.5 949.4H1218.5V955.0H1201.5zM1311.2 949.4H1323.3V955.0H1311.2zM1353.5 949.4H1365.5V955.0H1353.5zM811.8 955.0H817.3V960.6H811.8zM844.9 955.0H850.4V960.6H844.9zM872.5 955.0H878.0V960.6H872.5zM894.5 955.0H900.0V960.6H894.5zM916.7 955.0H922.3V960.6H916.7zM978.0 955.0H983.6V960.6H978.0zM1028.1 955.0H1044.8V960.6H1028.1zM1050.4 955.0H1056.0V960.6H1050.4zM1072.7 955.0H1078.3V960.6H1072.7zM1139.5 955.0H1145.1V960.6H1139.5zM1156.3 955.0H1161.8V960.6H1156.3zM1173.1 955.0H1178.8V960.6H1173.1zM1184.4 955.0H1195.8V960.6H1184.4zM1212.8 955.0H1224.2V960.6H1212.8zM1229.9 955.0H1235.6V960.6H1229.9zM1241.2 955.0H1246.9V960.6H1241.2zM1252.6 955.0H1258.3V960.6H1252.6zM1287.0 955.0H1293.1V960.6H1287.0zM1299.1 955.0H1311.2V960.6H1299.1zM1341.4 955.0H1347.4V960.6H1341.4zM789.8 960.6H795.3V966.3H789.8zM811.8 960.6H817.3V966.3H811.8zM822.9 960.6H828.4V966.3H822.9zM878.0 960.6H883.5V966.3H878.0zM894.5 960.6H900.0V966.3H894.5zM927.9 960.6H933.4V966.3H927.9zM939.0 960.6H950.1V966.3H939.0zM978.0 960.6H983.6V966.3H978.0zM1067.1 960.6H1072.7V966.3H1067.1zM1128.4 960.6H1134.0V966.3H1128.4zM1139.5 960.6H1145.1V966.3H1139.5zM1150.7 960.6H1161.8V966.3H1150.7zM1173.1 960.6H1178.8V966.3H1173.1zM1190.1 960.6H1195.8V966.3H1190.1zM1235.6 960.6H1241.2V966.3H1235.6zM1246.9 960.6H1252.6V966.3H1246.9zM795.3 966.3H800.8V971.9H795.3zM883.5 966.3H894.5V971.9H883.5zM905.6 966.3H911.1V971.9H905.6zM1100.6 966.3H1106.1V971.9H1100.6zM1161.8 966.3H1167.4V971.9H1161.8zM1184.4 966.3H1190.1V971.9H1184.4zM1207.2 966.3H1218.5V971.9H1207.2zM1229.9 966.3H1235.6V971.9H1229.9zM1264.0 966.3H1275.3V971.9H1264.0zM1293.1 966.3H1299.1V971.9H1293.1zM1305.2 966.3H1311.2V971.9H1305.2zM1335.3 966.3H1347.4V971.9H1335.3zM806.3 971.9H811.8V977.5H806.3zM850.4 971.9H855.9V977.5H850.4zM883.5 971.9H889.0V977.5H883.5zM905.6 971.9H911.1V977.5H905.6zM927.9 971.9H933.4V977.5H927.9zM1000.3 971.9H1011.4V977.5H1000.3zM1089.4 971.9H1100.6V977.5H1089.4zM1156.3 971.9H1161.8V977.5H1156.3zM1190.1 971.9H1195.8V977.5H1190.1zM1201.5 971.9H1207.2V977.5H1201.5zM1218.5 971.9H1229.9V977.5H1218.5zM1275.3 971.9H1281.0V977.5H1275.3zM1311.2 971.9H1323.3V977.5H1311.2zM1329.3 971.9H1335.3V977.5H1329.3zM1347.4 971.9H1353.5V977.5H1347.4zM850.4 977.5H855.9V983.2H850.4zM894.5 977.5H900.0V983.2H894.5zM911.1 977.5H916.7V983.2H911.1zM961.3 977.5H966.9V983.2H961.3zM983.6 977.5H989.1V983.2H983.6zM1011.4 977.5H1022.6V983.2H1011.4zM1083.8 977.5H1089.4V983.2H1083.8zM1150.7 977.5H1167.4V983.2H1150.7zM1173.1 977.5H1195.8V983.2H1173.1zM1212.8 977.5H1218.5V983.2H1212.8zM1252.6 977.5H1258.3V983.2H1252.6zM1269.6 977.5H1275.3V983.2H1269.6zM1347.4 977.5H1353.5V983.2H1347.4zM822.9 983.2H828.4V988.8H822.9zM889.0 983.2H894.5V988.8H889.0zM916.7 983.2H922.3V988.8H916.7zM927.9 983.2H933.4V988.8H927.9zM939.0 983.2H944.6V988.8H939.0zM950.1 983.2H955.7V988.8H950.1zM961.3 983.2H966.9V988.8H961.3zM1005.8 983.2H1011.4V988.8H1005.8zM1083.8 983.2H1089.4V988.8H1083.8zM1111.7 983.2H1117.3V988.8H1111.7zM1139.5 983.2H1145.1V988.8H1139.5zM1161.8 983.2H1167.4V988.8H1161.8zM1184.4 983.2H1195.8V988.8H1184.4zM1201.5 983.2H1207.2V988.8H1201.5zM1229.9 983.2H1235.6V988.8H1229.9zM1241.2 983.2H1246.9V988.8H1241.2zM1252.6 983.2H1258.3V988.8H1252.6zM1264.0 983.2H1269.6V988.8H1264.0zM1275.3 983.2H1281.0V988.8H1275.3zM1293.1 983.2H1299.1V988.8H1293.1zM1323.3 983.2H1329.3V988.8H1323.3zM1353.5 983.2H1359.5V988.8H1353.5zM806.3 988.8H811.8V994.4H806.3zM844.9 988.8H855.9V994.4H844.9zM872.5 988.8H878.0V994.4H872.5zM911.1 988.8H916.7V994.4H911.1zM922.3 988.8H927.9V994.4H922.3zM950.1 988.8H955.7V994.4H950.1zM961.3 988.8H966.9V994.4H961.3zM978.0 988.8H983.6V994.4H978.0zM1044.8 988.8H1050.4V994.4H1044.8zM1078.3 988.8H1083.8V994.4H1078.3zM1145.1 988.8H1150.7V994.4H1145.1zM1161.8 988.8H1167.4V994.4H1161.8zM1218.5 988.8H1224.2V994.4H1218.5zM1252.6 988.8H1269.6V994.4H1252.6zM1293.1 988.8H1299.1V994.4H1293.1zM1305.2 988.8H1311.2V994.4H1305.2zM1347.4 988.8H1353.5V994.4H1347.4zM811.8 994.4H817.3V1000.1H811.8zM828.4 994.4H833.9V1000.1H828.4zM855.9 994.4H861.4V1000.1H855.9zM872.5 994.4H883.5V1000.1H872.5zM894.5 994.4H900.0V1000.1H894.5zM911.1 994.4H916.7V1000.1H911.1zM927.9 994.4H933.4V1000.1H927.9zM944.6 994.4H950.1V1000.1H944.6zM1028.1 994.4H1039.3V1000.1H1028.1zM1173.1 994.4H1178.8V1000.1H1173.1zM1218.5 994.4H1224.2V1000.1H1218.5zM1235.6 994.4H1241.2V1000.1H1235.6zM1275.3 994.4H1281.0V1000.1H1275.3zM1311.2 994.4H1317.2V1000.1H1311.2zM1335.3 994.4H1341.4V1000.1H1335.3zM839.4 1000.1H844.9V1005.7H839.4zM878.0 1000.1H889.0V1005.7H878.0zM905.6 1000.1H911.1V1005.7H905.6zM916.7 1000.1H927.9V1005.7H916.7zM1000.3 1000.1H1005.8V1005.7H1000.3zM1061.6 1000.1H1067.1V1005.7H1061.6zM1095.0 1000.1H1100.6V1005.7H1095.0zM1150.7 1000.1H1156.3V1005.7H1150.7zM1173.1 1000.1H1178.8V1005.7H1173.1zM1184.4 1000.1H1195.8V1005.7H1184.4zM1258.3 1000.1H1264.0V1005.7H1258.3zM1341.4 1000.1H1347.4V1005.7H1341.4zM866.9 1005.7H872.5V1011.3H866.9zM878.0 1005.7H883.5V1011.3H878.0zM922.3 1005.7H927.9V1011.3H922.3zM950.1 1005.7H955.7V1011.3H950.1zM994.7 1005.7H1000.3V1011.3H994.7zM1011.4 1005.7H1017.0V1011.3H1011.4zM1178.8 1005.7H1184.4V1011.3H1178.8zM1190.1 1005.7H1207.2V1011.3H1190.1zM1224.2 1005.7H1229.9V1011.3H1224.2zM1241.2 1005.7H1246.9V1011.3H1241.2zM1252.6 1005.7H1258.3V1011.3H1252.6zM1287.0 1005.7H1293.1V1011.3H1287.0zM1329.3 1005.7H1341.4V1011.3H1329.3zM822.9 1011.3H828.4V1017.0H822.9zM883.5 1011.3H900.0V1017.0H883.5zM905.6 1011.3H911.1V1017.0H905.6zM922.3 1011.3H927.9V1017.0H922.3zM944.6 1011.3H950.1V1017.0H944.6zM961.3 1011.3H966.9V1017.0H961.3zM1005.8 1011.3H1011.4V1017.0H1005.8zM1056.0 1011.3H1061.6V1017.0H1056.0zM1145.1 1011.3H1150.7V1017.0H1145.1zM1156.3 1011.3H1161.8V1017.0H1156.3zM1190.1 1011.3H1195.8V1017.0H1190.1zM1201.5 1011.3H1212.8V1017.0H1201.5zM1218.5 1011.3H1224.2V1017.0H1218.5zM1269.6 1011.3H1275.3V1017.0H1269.6zM1317.2 1011.3H1323.3V1017.0H1317.2zM1335.3 1011.3H1341.4V1017.0H1335.3zM878.0 1017.0H883.5V1022.6H878.0zM894.5 1017.0H900.0V1022.6H894.5zM905.6 1017.0H916.7V1022.6H905.6zM927.9 1017.0H933.4V1022.6H927.9zM961.3 1017.0H966.9V1022.6H961.3zM978.0 1017.0H983.6V1022.6H978.0zM989.1 1017.0H994.7V1022.6H989.1zM1005.8 1017.0H1011.4V1022.6H1005.8zM1028.1 1017.0H1033.7V1022.6H1028.1zM1072.7 1017.0H1078.3V1022.6H1072.7zM1156.3 1017.0H1167.4V1022.6H1156.3zM1173.1 1017.0H1178.8V1022.6H1173.1zM1184.4 1017.0H1190.1V1022.6H1184.4zM1195.8 1017.0H1201.5V1022.6H1195.8zM1218.5 1017.0H1224.2V1022.6H1218.5zM1246.9 1017.0H1258.3V1022.6H1246.9zM1269.6 1017.0H1275.3V1022.6H1269.6zM1347.4 1017.0H1353.5V1022.6H1347.4zM795.3 1022.6H800.8V1028.2H795.3zM839.4 1022.6H844.9V1028.2H839.4zM905.6 1022.6H916.7V1028.2H905.6zM927.9 1022.6H933.4V1028.2H927.9zM955.7 1022.6H961.3V1028.2H955.7zM972.4 1022.6H983.6V1028.2H972.4zM994.7 1022.6H1000.3V1028.2H994.7zM1005.8 1022.6H1011.4V1028.2H1005.8zM1033.7 1022.6H1039.3V1028.2H1033.7zM1050.4 1022.6H1056.0V1028.2H1050.4zM1134.0 1022.6H1139.5V1028.2H1134.0zM1145.1 1022.6H1150.7V1028.2H1145.1zM1156.3 1022.6H1167.4V1028.2H1156.3zM1178.8 1022.6H1190.1V1028.2H1178.8zM1212.8 1022.6H1224.2V1028.2H1212.8zM1252.6 1022.6H1258.3V1028.2H1252.6zM1299.1 1022.6H1311.2V1028.2H1299.1zM1341.4 1022.6H1347.4V1028.2H1341.4zM1359.5 1022.6H1365.5V1028.2H1359.5zM795.3 1028.2H800.8V1033.9H795.3zM806.3 1028.2H811.8V1033.9H806.3zM850.4 1028.2H855.9V1033.9H850.4zM866.9 1028.2H872.5V1033.9H866.9zM889.0 1028.2H894.5V1033.9H889.0zM911.1 1028.2H916.7V1033.9H911.1zM922.3 1028.2H927.9V1033.9H922.3zM994.7 1028.2H1000.3V1033.9H994.7zM1011.4 1028.2H1017.0V1033.9H1011.4zM1033.7 1028.2H1039.3V1033.9H1033.7zM1067.1 1028.2H1078.3V1033.9H1067.1zM1095.0 1028.2H1100.6V1033.9H1095.0zM1145.1 1028.2H1150.7V1033.9H1145.1zM1184.4 1028.2H1190.1V1033.9H1184.4zM1195.8 1028.2H1207.2V1033.9H1195.8zM1224.2 1028.2H1229.9V1033.9H1224.2zM1269.6 1028.2H1275.3V1033.9H1269.6zM1287.0 1028.2H1293.1V1033.9H1287.0zM1299.1 1028.2H1305.2V1033.9H1299.1zM1335.3 1028.2H1341.4V1033.9H1335.3zM789.8 1033.9H795.3V1039.5H789.8zM822.9 1033.9H828.4V1039.5H822.9zM844.9 1033.9H850.4V1039.5H844.9zM872.5 1033.9H878.0V1039.5H872.5zM883.5 1033.9H889.0V1039.5H883.5zM911.1 1033.9H916.7V1039.5H911.1zM944.6 1033.9H950.1V1039.5H944.6zM961.3 1033.9H966.9V1039.5H961.3zM1000.3 1033.9H1005.8V1039.5H1000.3zM1011.4 1033.9H1028.1V1039.5H1011.4zM1056.0 1033.9H1061.6V1039.5H1056.0zM1100.6 1033.9H1106.1V1039.5H1100.6zM1122.8 1033.9H1128.4V1039.5H1122.8zM1134.0 1033.9H1145.1V1039.5H1134.0zM1173.1 1033.9H1178.8V1039.5H1173.1zM1190.1 1033.9H1201.5V1039.5H1190.1zM1229.9 1033.9H1235.6V1039.5H1229.9zM1264.0 1033.9H1269.6V1039.5H1264.0zM1287.0 1033.9H1293.1V1039.5H1287.0zM1329.3 1033.9H1335.3V1039.5H1329.3zM795.3 1039.5H800.8V1045.1H795.3zM922.3 1039.5H927.9V1045.1H922.3zM939.0 1039.5H944.6V1045.1H939.0zM955.7 1039.5H966.9V1045.1H955.7zM972.4 1039.5H978.0V1045.1H972.4zM994.7 1039.5H1005.8V1045.1H994.7zM1017.0 1039.5H1022.6V1045.1H1017.0zM1033.7 1039.5H1039.3V1045.1H1033.7zM1044.8 1039.5H1050.4V1045.1H1044.8zM1056.0 1039.5H1061.6V1045.1H1056.0zM1072.7 1039.5H1078.3V1045.1H1072.7zM1089.4 1039.5H1095.0V1045.1H1089.4zM1111.7 1039.5H1117.3V1045.1H1111.7zM1173.1 1039.5H1178.8V1045.1H1173.1zM1224.2 1039.5H1229.9V1045.1H1224.2zM1264.0 1039.5H1269.6V1045.1H1264.0zM1287.0 1039.5H1293.1V1045.1H1287.0zM1305.2 1039.5H1323.3V1045.1H1305.2zM1335.3 1039.5H1341.4V1045.1H1335.3zM795.3 1045.1H800.8V1050.8H795.3zM817.3 1045.1H822.9V1050.8H817.3zM861.4 1045.1H866.9V1050.8H861.4zM927.9 1045.1H933.4V1050.8H927.9zM955.7 1045.1H961.3V1050.8H955.7zM966.9 1045.1H972.4V1050.8H966.9zM994.7 1045.1H1000.3V1050.8H994.7zM1067.1 1045.1H1078.3V1050.8H1067.1zM1083.8 1045.1H1095.0V1050.8H1083.8zM1122.8 1045.1H1139.5V1050.8H1122.8zM1184.4 1045.1H1195.8V1050.8H1184.4zM1224.2 1045.1H1229.9V1050.8H1224.2zM1241.2 1045.1H1252.6V1050.8H1241.2zM1269.6 1045.1H1275.3V1050.8H1269.6zM1329.3 1045.1H1335.3V1050.8H1329.3zM795.3 1050.8H800.8V1056.4H795.3zM811.8 1050.8H817.3V1056.4H811.8zM927.9 1050.8H933.4V1056.4H927.9zM950.1 1050.8H955.7V1056.4H950.1zM989.1 1050.8H994.7V1056.4H989.1zM1005.8 1050.8H1011.4V1056.4H1005.8zM1044.8 1050.8H1056.0V1056.4H1044.8zM1078.3 1050.8H1083.8V1056.4H1078.3zM1089.4 1050.8H1106.1V1056.4H1089.4zM1128.4 1050.8H1139.5V1056.4H1128.4zM1173.1 1050.8H1178.8V1056.4H1173.1zM1190.1 1050.8H1195.8V1056.4H1190.1zM1212.8 1050.8H1218.5V1056.4H1212.8zM1246.9 1050.8H1252.6V1056.4H1246.9zM1317.2 1050.8H1329.3V1056.4H1317.2zM789.8 1062.1H795.3V1067.8H789.8zM855.9 1062.1H861.4V1067.8H855.9zM866.9 1062.1H872.5V1067.8H866.9zM889.0 1062.1H894.5V1067.8H889.0zM927.9 1062.1H933.4V1067.8H927.9zM950.1 1062.1H961.3V1067.8H950.1zM966.9 1062.1H972.4V1067.8H966.9zM989.1 1062.1H1005.8V1067.8H989.1zM1017.0 1062.1H1022.6V1067.8H1017.0zM1067.1 1062.1H1078.3V1067.8H1067.1zM1089.4 1062.1H1095.0V1067.8H1089.4zM1106.1 1062.1H1117.3V1067.8H1106.1zM1128.4 1062.1H1134.0V1067.8H1128.4zM1145.1 1062.1H1156.3V1067.8H1145.1zM1161.8 1062.1H1167.4V1067.8H1161.8zM1173.1 1062.1H1190.1V1067.8H1173.1zM1207.2 1062.1H1212.8V1067.8H1207.2zM1258.3 1062.1H1264.0V1067.8H1258.3zM1305.2 1062.1H1311.2V1067.8H1305.2zM1335.3 1062.1H1341.4V1067.8H1335.3zM1353.5 1062.1H1359.5V1067.8H1353.5zM905.6 1067.8H911.1V1073.4H905.6zM922.3 1067.8H927.9V1073.4H922.3zM944.6 1067.8H950.1V1073.4H944.6zM983.6 1067.8H989.1V1073.4H983.6zM1039.3 1067.8H1044.8V1073.4H1039.3zM1050.4 1067.8H1056.0V1073.4H1050.4zM1061.6 1067.8H1067.1V1073.4H1061.6zM1089.4 1067.8H1095.0V1073.4H1089.4zM1117.3 1067.8H1122.8V1073.4H1117.3zM1134.0 1067.8H1139.5V1073.4H1134.0zM1173.1 1067.8H1178.8V1073.4H1173.1zM1207.2 1067.8H1212.8V1073.4H1207.2zM1218.5 1067.8H1224.2V1073.4H1218.5zM1235.6 1067.8H1246.9V1073.4H1235.6zM1258.3 1067.8H1264.0V1073.4H1258.3zM1341.4 1067.8H1347.4V1073.4H1341.4zM1353.5 1067.8H1359.5V1073.4H1353.5zM861.4 1073.4H872.5V1079.1H861.4zM905.6 1073.4H916.7V1079.1H905.6zM950.1 1073.4H955.7V1079.1H950.1zM966.9 1073.4H978.0V1079.1H966.9zM1005.8 1073.4H1011.4V1079.1H1005.8zM1017.0 1073.4H1022.6V1079.1H1017.0zM1067.1 1073.4H1072.7V1079.1H1067.1zM1078.3 1073.4H1083.8V1079.1H1078.3zM1089.4 1073.4H1100.6V1079.1H1089.4zM1111.7 1073.4H1117.3V1079.1H1111.7zM1128.4 1073.4H1145.1V1079.1H1128.4zM1156.3 1073.4H1161.8V1079.1H1156.3zM1173.1 1073.4H1178.8V1079.1H1173.1zM1264.0 1073.4H1269.6V1079.1H1264.0zM1323.3 1073.4H1329.3V1079.1H1323.3zM855.9 1079.1H861.4V1084.8H855.9zM866.9 1079.1H878.0V1084.8H866.9zM933.4 1079.1H939.0V1084.8H933.4zM961.3 1079.1H966.9V1084.8H961.3zM978.0 1079.1H983.6V1084.8H978.0zM1022.6 1079.1H1028.1V1084.8H1022.6zM1044.8 1079.1H1050.4V1084.8H1044.8zM1067.1 1079.1H1078.3V1084.8H1067.1zM1083.8 1079.1H1100.6V1084.8H1083.8zM1111.7 1079.1H1128.4V1084.8H1111.7zM1145.1 1079.1H1150.7V1084.8H1145.1zM1156.3 1079.1H1167.4V1084.8H1156.3zM1207.2 1079.1H1212.8V1084.8H1207.2zM1252.6 1079.1H1258.3V1084.8H1252.6zM1287.0 1079.1H1299.1V1084.8H1287.0zM872.5 1084.8H878.0V1090.5H872.5zM889.0 1084.8H894.5V1090.5H889.0zM927.9 1084.8H933.4V1090.5H927.9zM944.6 1084.8H950.1V1090.5H944.6zM955.7 1084.8H961.3V1090.5H955.7zM978.0 1084.8H983.6V1090.5H978.0zM1000.3 1084.8H1005.8V1090.5H1000.3zM1117.3 1084.8H1122.8V1090.5H1117.3zM1128.4 1084.8H1134.0V1090.5H1128.4zM1139.5 1084.8H1150.7V1090.5H1139.5zM1335.3 1084.8H1341.4V1090.5H1335.3zM795.3 1090.5H800.8V1096.2H795.3zM806.3 1090.5H811.8V1096.2H806.3zM828.4 1090.5H833.9V1096.2H828.4zM866.9 1090.5H872.5V1096.2H866.9zM894.5 1090.5H900.0V1096.2H894.5zM916.7 1090.5H922.3V1096.2H916.7zM944.6 1090.5H950.1V1096.2H944.6zM972.4 1090.5H978.0V1096.2H972.4zM1017.0 1090.5H1022.6V1096.2H1017.0zM1050.4 1090.5H1067.1V1096.2H1050.4zM1083.8 1090.5H1089.4V1096.2H1083.8zM1095.0 1090.5H1100.6V1096.2H1095.0zM1117.3 1090.5H1128.4V1096.2H1117.3zM1139.5 1090.5H1145.1V1096.2H1139.5zM1212.8 1090.5H1218.5V1096.2H1212.8zM1275.3 1090.5H1281.0V1096.2H1275.3zM861.4 1096.2H866.9V1101.8H861.4zM916.7 1096.2H922.3V1101.8H916.7zM927.9 1096.2H933.4V1101.8H927.9zM955.7 1096.2H972.4V1101.8H955.7zM989.1 1096.2H994.7V1101.8H989.1zM1028.1 1096.2H1033.7V1101.8H1028.1zM1044.8 1096.2H1050.4V1101.8H1044.8zM1061.6 1096.2H1067.1V1101.8H1061.6zM1078.3 1096.2H1083.8V1101.8H1078.3zM1122.8 1096.2H1128.4V1101.8H1122.8zM1173.1 1096.2H1184.4V1101.8H1173.1zM1190.1 1096.2H1195.8V1101.8H1190.1zM1258.3 1096.2H1264.0V1101.8H1258.3zM1269.6 1096.2H1275.3V1101.8H1269.6zM1293.1 1096.2H1299.1V1101.8H1293.1zM1317.2 1096.2H1323.3V1101.8H1317.2zM1329.3 1096.2H1335.3V1101.8H1329.3zM894.5 1101.8H900.0V1107.5H894.5zM905.6 1101.8H916.7V1107.5H905.6zM927.9 1101.8H933.4V1107.5H927.9zM939.0 1101.8H955.7V1107.5H939.0zM966.9 1101.8H972.4V1107.5H966.9zM978.0 1101.8H983.6V1107.5H978.0zM1022.6 1101.8H1028.1V1107.5H1022.6zM1061.6 1101.8H1072.7V1107.5H1061.6zM1078.3 1101.8H1083.8V1107.5H1078.3zM1089.4 1101.8H1095.0V1107.5H1089.4zM1134.0 1101.8H1139.5V1107.5H1134.0zM1161.8 1101.8H1167.4V1107.5H1161.8zM1201.5 1101.8H1207.2V1107.5H1201.5zM1218.5 1101.8H1224.2V1107.5H1218.5zM1299.1 1101.8H1311.2V1107.5H1299.1zM1329.3 1101.8H1335.3V1107.5H1329.3zM855.9 1107.5H861.4V1113.2H855.9zM1039.3 1107.5H1044.8V1113.2H1039.3zM1056.0 1107.5H1061.6V1113.2H1056.0zM1067.1 1107.5H1072.7V1113.2H1067.1zM1083.8 1107.5H1089.4V1113.2H1083.8zM1100.6 1107.5H1111.7V1113.2H1100.6zM1122.8 1107.5H1139.5V1113.2H1122.8zM1178.8 1107.5H1184.4V1113.2H1178.8zM1212.8 1107.5H1218.5V1113.2H1212.8zM1275.3 1107.5H1281.0V1113.2H1275.3zM1287.0 1107.5H1293.1V1113.2H1287.0zM1299.1 1107.5H1305.2V1113.2H1299.1zM1347.4 1107.5H1353.5V1113.2H1347.4zM806.3 1113.2H811.8V1118.9H806.3zM883.5 1113.2H889.0V1118.9H883.5zM922.3 1113.2H927.9V1118.9H922.3zM950.1 1113.2H955.7V1118.9H950.1zM978.0 1113.2H983.6V1118.9H978.0zM1000.3 1113.2H1005.8V1118.9H1000.3zM1011.4 1113.2H1017.0V1118.9H1011.4zM1044.8 1113.2H1050.4V1118.9H1044.8zM1083.8 1113.2H1089.4V1118.9H1083.8zM1117.3 1113.2H1122.8V1118.9H1117.3zM1139.5 1113.2H1145.1V1118.9H1139.5zM1150.7 1113.2H1161.8V1118.9H1150.7zM1224.2 1113.2H1229.9V1118.9H1224.2zM1275.3 1113.2H1281.0V1118.9H1275.3zM1347.4 1113.2H1353.5V1118.9H1347.4zM878.0 1118.9H883.5V1124.6H878.0zM894.5 1118.9H900.0V1124.6H894.5zM933.4 1118.9H939.0V1124.6H933.4zM983.6 1118.9H994.7V1124.6H983.6zM1033.7 1118.9H1039.3V1124.6H1033.7zM1050.4 1118.9H1056.0V1124.6H1050.4zM1067.1 1118.9H1072.7V1124.6H1067.1zM1078.3 1118.9H1083.8V1124.6H1078.3zM1095.0 1118.9H1100.6V1124.6H1095.0zM1145.1 1118.9H1150.7V1124.6H1145.1zM1305.2 1118.9H1311.2V1124.6H1305.2zM866.9 1124.6H872.5V1130.2H866.9zM889.0 1124.6H900.0V1130.2H889.0zM905.6 1124.6H911.1V1130.2H905.6zM994.7 1124.6H1000.3V1130.2H994.7zM1005.8 1124.6H1011.4V1130.2H1005.8zM1017.0 1124.6H1022.6V1130.2H1017.0zM1033.7 1124.6H1039.3V1130.2H1033.7zM1044.8 1124.6H1050.4V1130.2H1044.8zM1072.7 1124.6H1078.3V1130.2H1072.7zM1106.1 1124.6H1111.7V1130.2H1106.1zM1178.8 1124.6H1184.4V1130.2H1178.8zM1311.2 1124.6H1317.2V1130.2H1311.2zM1323.3 1124.6H1329.3V1130.2H1323.3zM844.9 1130.2H850.4V1135.9H844.9zM883.5 1130.2H894.5V1135.9H883.5zM911.1 1130.2H916.7V1135.9H911.1zM955.7 1130.2H961.3V1135.9H955.7zM978.0 1130.2H989.1V1135.9H978.0zM994.7 1130.2H1000.3V1135.9H994.7zM1033.7 1130.2H1039.3V1135.9H1033.7zM1067.1 1130.2H1072.7V1135.9H1067.1zM1095.0 1130.2H1100.6V1135.9H1095.0zM1117.3 1130.2H1122.8V1135.9H1117.3zM1156.3 1130.2H1161.8V1135.9H1156.3zM1178.8 1130.2H1184.4V1135.9H1178.8zM1264.0 1130.2H1269.6V1135.9H1264.0zM1299.1 1130.2H1305.2V1135.9H1299.1zM1311.2 1130.2H1317.2V1135.9H1311.2zM789.8 1135.9H795.3V1141.6H789.8zM855.9 1135.9H861.4V1141.6H855.9zM894.5 1135.9H900.0V1141.6H894.5zM905.6 1135.9H911.1V1141.6H905.6zM955.7 1135.9H961.3V1141.6H955.7zM972.4 1135.9H978.0V1141.6H972.4zM1017.0 1135.9H1022.6V1141.6H1017.0zM1039.3 1135.9H1044.8V1141.6H1039.3zM1072.7 1135.9H1078.3V1141.6H1072.7zM1128.4 1135.9H1134.0V1141.6H1128.4zM1156.3 1135.9H1167.4V1141.6H1156.3zM1246.9 1135.9H1258.3V1141.6H1246.9zM1264.0 1135.9H1269.6V1141.6H1264.0zM1323.3 1135.9H1329.3V1141.6H1323.3zM800.8 1141.6H806.3V1147.3H800.8zM811.8 1141.6H822.9V1147.3H811.8zM855.9 1141.6H861.4V1147.3H855.9zM883.5 1141.6H889.0V1147.3H883.5zM916.7 1141.6H922.3V1147.3H916.7zM966.9 1141.6H972.4V1147.3H966.9zM1005.8 1141.6H1017.0V1147.3H1005.8zM1022.6 1141.6H1028.1V1147.3H1022.6zM1067.1 1141.6H1072.7V1147.3H1067.1zM1089.4 1141.6H1106.1V1147.3H1089.4zM1117.3 1141.6H1122.8V1147.3H1117.3zM1128.4 1141.6H1139.5V1147.3H1128.4zM1190.1 1141.6H1195.8V1147.3H1190.1zM1246.9 1141.6H1252.6V1147.3H1246.9zM1275.3 1141.6H1281.0V1147.3H1275.3zM1305.2 1141.6H1311.2V1147.3H1305.2zM1329.3 1141.6H1341.4V1147.3H1329.3zM1353.5 1141.6H1359.5V1147.3H1353.5zM795.3 1147.3H800.8V1153.0H795.3zM889.0 1147.3H894.5V1153.0H889.0zM911.1 1147.3H916.7V1153.0H911.1zM922.3 1147.3H927.9V1153.0H922.3zM939.0 1147.3H955.7V1153.0H939.0zM972.4 1147.3H978.0V1153.0H972.4zM989.1 1147.3H994.7V1153.0H989.1zM1011.4 1147.3H1017.0V1153.0H1011.4zM1028.1 1147.3H1039.3V1153.0H1028.1zM1100.6 1147.3H1106.1V1153.0H1100.6zM1111.7 1147.3H1117.3V1153.0H1111.7zM1173.1 1147.3H1184.4V1153.0H1173.1zM1207.2 1147.3H1212.8V1153.0H1207.2zM1293.1 1147.3H1305.2V1153.0H1293.1zM1347.4 1147.3H1353.5V1153.0H1347.4zM795.3 1153.0H806.3V1158.6H795.3zM822.9 1153.0H828.4V1158.6H822.9zM861.4 1153.0H866.9V1158.6H861.4zM939.0 1153.0H944.6V1158.6H939.0zM950.1 1153.0H966.9V1158.6H950.1zM983.6 1153.0H989.1V1158.6H983.6zM1078.3 1153.0H1083.8V1158.6H1078.3zM1095.0 1153.0H1106.1V1158.6H1095.0zM1145.1 1153.0H1156.3V1158.6H1145.1zM1184.4 1153.0H1190.1V1158.6H1184.4zM1241.2 1153.0H1252.6V1158.6H1241.2zM1287.0 1153.0H1293.1V1158.6H1287.0zM1323.3 1153.0H1329.3V1158.6H1323.3zM817.3 1158.6H822.9V1164.3H817.3zM889.0 1158.6H894.5V1164.3H889.0zM927.9 1158.6H933.4V1164.3H927.9zM939.0 1158.6H944.6V1164.3H939.0zM950.1 1158.6H955.7V1164.3H950.1zM966.9 1158.6H972.4V1164.3H966.9zM994.7 1158.6H1000.3V1164.3H994.7zM1078.3 1158.6H1083.8V1164.3H1078.3zM1089.4 1158.6H1095.0V1164.3H1089.4zM1122.8 1158.6H1134.0V1164.3H1122.8zM1139.5 1158.6H1145.1V1164.3H1139.5zM1156.3 1158.6H1161.8V1164.3H1156.3zM1207.2 1158.6H1212.8V1164.3H1207.2zM1341.4 1158.6H1347.4V1164.3H1341.4zM1353.5 1158.6H1359.5V1164.3H1353.5zM795.3 1164.3H800.8V1170.0H795.3zM844.9 1164.3H850.4V1170.0H844.9zM872.5 1164.3H878.0V1170.0H872.5zM889.0 1164.3H900.0V1170.0H889.0zM911.1 1164.3H916.7V1170.0H911.1zM927.9 1164.3H933.4V1170.0H927.9zM961.3 1164.3H966.9V1170.0H961.3zM978.0 1164.3H989.1V1170.0H978.0zM1000.3 1164.3H1011.4V1170.0H1000.3zM1022.6 1164.3H1028.1V1170.0H1022.6zM1050.4 1164.3H1056.0V1170.0H1050.4zM1083.8 1164.3H1089.4V1170.0H1083.8zM1095.0 1164.3H1100.6V1170.0H1095.0zM1106.1 1164.3H1111.7V1170.0H1106.1zM1201.5 1164.3H1207.2V1170.0H1201.5zM1218.5 1164.3H1229.9V1170.0H1218.5zM1252.6 1164.3H1258.3V1170.0H1252.6zM1287.0 1164.3H1293.1V1170.0H1287.0zM1299.1 1164.3H1317.2V1170.0H1299.1zM1335.3 1164.3H1347.4V1170.0H1335.3zM1359.5 1164.3H1365.5V1170.0H1359.5zM905.6 1175.6H916.7V1181.2H905.6zM922.3 1175.6H927.9V1181.2H922.3zM955.7 1175.6H961.3V1181.2H955.7zM1011.4 1175.6H1017.0V1181.2H1011.4zM1028.1 1175.6H1033.7V1181.2H1028.1zM1039.3 1175.6H1044.8V1181.2H1039.3zM1067.1 1175.6H1072.7V1181.2H1067.1zM1117.3 1175.6H1122.8V1181.2H1117.3zM1139.5 1175.6H1156.3V1181.2H1139.5zM1190.1 1175.6H1195.8V1181.2H1190.1zM1218.5 1175.6H1224.2V1181.2H1218.5zM1264.0 1175.6H1269.6V1181.2H1264.0zM1275.3 1175.6H1281.0V1181.2H1275.3zM1293.1 1175.6H1305.2V1181.2H1293.1zM1317.2 1175.6H1335.3V1181.2H1317.2zM817.3 1181.2H822.9V1186.8H817.3zM894.5 1181.2H900.0V1186.8H894.5zM922.3 1181.2H927.9V1186.8H922.3zM955.7 1181.2H961.3V1186.8H955.7zM978.0 1181.2H983.6V1186.8H978.0zM994.7 1181.2H1000.3V1186.8H994.7zM1017.0 1181.2H1028.1V1186.8H1017.0zM1039.3 1181.2H1044.8V1186.8H1039.3zM1078.3 1181.2H1083.8V1186.8H1078.3zM1095.0 1181.2H1106.1V1186.8H1095.0zM1190.1 1181.2H1195.8V1186.8H1190.1zM1207.2 1181.2H1212.8V1186.8H1207.2zM1258.3 1181.2H1264.0V1186.8H1258.3zM1287.0 1181.2H1305.2V1186.8H1287.0zM1347.4 1181.2H1359.5V1186.8H1347.4zM878.0 1186.8H900.0V1192.4H878.0zM989.1 1186.8H994.7V1192.4H989.1zM1017.0 1186.8H1022.6V1192.4H1017.0zM1050.4 1186.8H1061.6V1192.4H1050.4zM1067.1 1186.8H1072.7V1192.4H1067.1zM1134.0 1186.8H1145.1V1192.4H1134.0zM1212.8 1186.8H1224.2V1192.4H1212.8zM1241.2 1186.8H1246.9V1192.4H1241.2zM1258.3 1186.8H1264.0V1192.4H1258.3zM1275.3 1186.8H1281.0V1192.4H1275.3zM1287.0 1186.8H1299.1V1192.4H1287.0zM1305.2 1186.8H1311.2V1192.4H1305.2zM1329.3 1186.8H1335.3V1192.4H1329.3zM1341.4 1186.8H1347.4V1192.4H1341.4zM878.0 1192.4H883.5V1198.0H878.0zM894.5 1192.4H900.0V1198.0H894.5zM916.7 1192.4H927.9V1198.0H916.7zM950.1 1192.4H961.3V1198.0H950.1zM972.4 1192.4H978.0V1198.0H972.4zM989.1 1192.4H994.7V1198.0H989.1zM1000.3 1192.4H1005.8V1198.0H1000.3zM1044.8 1192.4H1050.4V1198.0H1044.8zM1067.1 1192.4H1072.7V1198.0H1067.1zM1078.3 1192.4H1083.8V1198.0H1078.3zM1100.6 1192.4H1106.1V1198.0H1100.6zM1134.0 1192.4H1139.5V1198.0H1134.0zM1150.7 1192.4H1156.3V1198.0H1150.7zM1173.1 1192.4H1178.8V1198.0H1173.1zM1212.8 1192.4H1218.5V1198.0H1212.8zM1229.9 1192.4H1235.6V1198.0H1229.9zM1252.6 1192.4H1258.3V1198.0H1252.6zM1275.3 1192.4H1281.0V1198.0H1275.3zM1299.1 1192.4H1305.2V1198.0H1299.1zM1311.2 1192.4H1317.2V1198.0H1311.2zM1353.5 1192.4H1365.5V1198.0H1353.5zM839.4 1198.0H850.4V1203.6H839.4zM894.5 1198.0H900.0V1203.6H894.5zM905.6 1198.0H911.1V1203.6H905.6zM978.0 1198.0H983.6V1203.6H978.0zM1005.8 1198.0H1011.4V1203.6H1005.8zM1044.8 1198.0H1050.4V1203.6H1044.8zM1061.6 1198.0H1067.1V1203.6H1061.6zM1083.8 1198.0H1089.4V1203.6H1083.8zM1106.1 1198.0H1111.7V1203.6H1106.1zM1150.7 1198.0H1156.3V1203.6H1150.7zM1235.6 1198.0H1246.9V1203.6H1235.6zM1275.3 1198.0H1281.0V1203.6H1275.3zM1305.2 1198.0H1311.2V1203.6H1305.2zM844.9 1203.6H850.4V1209.2H844.9zM905.6 1203.6H911.1V1209.2H905.6zM933.4 1203.6H939.0V1209.2H933.4zM1005.8 1203.6H1017.0V1209.2H1005.8zM1022.6 1203.6H1033.7V1209.2H1022.6zM1056.0 1203.6H1067.1V1209.2H1056.0zM1083.8 1203.6H1089.4V1209.2H1083.8zM1122.8 1203.6H1128.4V1209.2H1122.8zM1150.7 1203.6H1156.3V1209.2H1150.7zM1161.8 1203.6H1167.4V1209.2H1161.8zM1207.2 1203.6H1212.8V1209.2H1207.2zM1287.0 1203.6H1293.1V1209.2H1287.0zM889.0 1209.2H894.5V1214.8H889.0zM927.9 1209.2H933.4V1214.8H927.9zM939.0 1209.2H944.6V1214.8H939.0zM955.7 1209.2H961.3V1214.8H955.7zM1044.8 1209.2H1050.4V1214.8H1044.8zM1095.0 1209.2H1100.6V1214.8H1095.0zM1161.8 1209.2H1167.4V1214.8H1161.8zM1184.4 1209.2H1190.1V1214.8H1184.4zM1235.6 1209.2H1241.2V1214.8H1235.6zM1246.9 1209.2H1252.6V1214.8H1246.9zM1264.0 1209.2H1269.6V1214.8H1264.0zM1287.0 1209.2H1293.1V1214.8H1287.0zM1329.3 1209.2H1335.3V1214.8H1329.3zM1341.4 1209.2H1347.4V1214.8H1341.4zM866.9 1214.8H872.5V1220.4H866.9zM889.0 1214.8H894.5V1220.4H889.0zM950.1 1214.8H955.7V1220.4H950.1zM1028.1 1214.8H1033.7V1220.4H1028.1zM1083.8 1214.8H1089.4V1220.4H1083.8zM1117.3 1214.8H1122.8V1220.4H1117.3zM1145.1 1214.8H1150.7V1220.4H1145.1zM1156.3 1214.8H1161.8V1220.4H1156.3zM1207.2 1214.8H1218.5V1220.4H1207.2zM1252.6 1214.8H1258.3V1220.4H1252.6zM1287.0 1214.8H1293.1V1220.4H1287.0zM1299.1 1214.8H1305.2V1220.4H1299.1zM1323.3 1214.8H1329.3V1220.4H1323.3zM1335.3 1214.8H1341.4V1220.4H1335.3zM855.9 1220.4H866.9V1226.0H855.9zM894.5 1220.4H900.0V1226.0H894.5zM927.9 1220.4H939.0V1226.0H927.9zM950.1 1220.4H955.7V1226.0H950.1zM972.4 1220.4H978.0V1226.0H972.4zM1078.3 1220.4H1083.8V1226.0H1078.3zM1106.1 1220.4H1111.7V1226.0H1106.1zM1117.3 1220.4H1128.4V1226.0H1117.3zM1139.5 1220.4H1145.1V1226.0H1139.5zM1150.7 1220.4H1156.3V1226.0H1150.7zM1173.1 1220.4H1178.8V1226.0H1173.1zM1195.8 1220.4H1201.5V1226.0H1195.8zM1252.6 1220.4H1258.3V1226.0H1252.6zM1275.3 1220.4H1281.0V1226.0H1275.3zM1329.3 1220.4H1335.3V1226.0H1329.3zM1353.5 1220.4H1359.5V1226.0H1353.5zM866.9 1226.0H872.5V1231.6H866.9zM939.0 1226.0H944.6V1231.6H939.0zM983.6 1226.0H989.1V1231.6H983.6zM1017.0 1226.0H1022.6V1231.6H1017.0zM1067.1 1226.0H1072.7V1231.6H1067.1zM1078.3 1226.0H1083.8V1231.6H1078.3zM1111.7 1226.0H1117.3V1231.6H1111.7zM1134.0 1226.0H1139.5V1231.6H1134.0zM1178.8 1226.0H1184.4V1231.6H1178.8zM1269.6 1226.0H1281.0V1231.6H1269.6zM1299.1 1226.0H1305.2V1231.6H1299.1zM1323.3 1226.0H1329.3V1231.6H1323.3zM1341.4 1226.0H1353.5V1231.6H1341.4zM833.9 1231.6H839.4V1237.2H833.9zM889.0 1231.6H900.0V1237.2H889.0zM972.4 1231.6H978.0V1237.2H972.4zM1056.0 1231.6H1061.6V1237.2H1056.0zM1083.8 1231.6H1095.0V1237.2H1083.8zM1100.6 1231.6H1106.1V1237.2H1100.6zM1128.4 1231.6H1134.0V1237.2H1128.4zM1218.5 1231.6H1229.9V1237.2H1218.5zM1258.3 1231.6H1264.0V1237.2H1258.3zM1293.1 1231.6H1299.1V1237.2H1293.1zM1341.4 1231.6H1347.4V1237.2H1341.4zM861.4 1237.2H866.9V1242.8H861.4zM872.5 1237.2H878.0V1242.8H872.5zM955.7 1237.2H966.9V1242.8H955.7zM1061.6 1237.2H1067.1V1242.8H1061.6zM1095.0 1237.2H1100.6V1242.8H1095.0zM1173.1 1237.2H1184.4V1242.8H1173.1zM1252.6 1237.2H1258.3V1242.8H1252.6zM1269.6 1237.2H1275.3V1242.8H1269.6zM1293.1 1237.2H1299.1V1242.8H1293.1zM1305.2 1237.2H1311.2V1242.8H1305.2zM1335.3 1237.2H1341.4V1242.8H1335.3zM1353.5 1237.2H1359.5V1242.8H1353.5zM861.4 1242.8H866.9V1248.4H861.4zM905.6 1242.8H911.1V1248.4H905.6zM916.7 1242.8H927.9V1248.4H916.7zM950.1 1242.8H955.7V1248.4H950.1zM1033.7 1242.8H1044.8V1248.4H1033.7zM1106.1 1242.8H1111.7V1248.4H1106.1zM1173.1 1242.8H1178.8V1248.4H1173.1zM1195.8 1242.8H1201.5V1248.4H1195.8zM1218.5 1242.8H1224.2V1248.4H1218.5zM1235.6 1242.8H1241.2V1248.4H1235.6zM1299.1 1242.8H1305.2V1248.4H1299.1zM1317.2 1242.8H1329.3V1248.4H1317.2zM872.5 1248.4H883.5V1254.2H872.5zM889.0 1248.4H894.5V1254.2H889.0zM927.9 1248.4H933.4V1254.2H927.9zM1111.7 1248.4H1117.3V1254.2H1111.7zM1128.4 1248.4H1134.0V1254.2H1128.4zM1229.9 1248.4H1241.2V1254.2H1229.9zM1311.2 1248.4H1323.3V1254.2H1311.2zM1335.3 1248.4H1341.4V1254.2H1335.3z"/><path fill="#f9dede" d="M900.0 696.0H905.6V701.6H900.0zM900.0 741.0H905.6V746.6H900.0zM1167.4 746.6H1173.1V752.2H1167.4zM811.8 786.0H817.3V791.6H811.8zM855.9 786.0H861.4V791.6H855.9zM916.7 786.0H922.3V791.6H916.7zM950.1 786.0H955.7V791.6H950.1zM1083.8 786.0H1089.4V791.6H1083.8zM1111.7 786.0H1117.3V791.6H1111.7zM1128.4 786.0H1139.5V791.6H1128.4zM1224.2 786.0H1229.9V791.6H1224.2zM1264.0 786.0H1269.6V791.6H1264.0zM900.0 802.9H905.6V808.5H900.0zM1167.4 802.9H1173.1V808.5H1167.4zM1167.4 808.5H1173.1V814.2H1167.4zM1281.0 819.8H1287.0V825.4H1281.0zM900.0 836.7H905.6V842.3H900.0zM1281.0 836.7H1287.0V842.3H1281.0zM1281.0 887.4H1287.0V893.0H1281.0zM1281.0 893.0H1287.0V898.7H1281.0zM1281.0 938.1H1287.0V943.7H1281.0zM900.0 971.9H905.6V977.5H900.0zM1281.0 988.8H1287.0V994.4H1281.0zM900.0 1000.1H905.6V1005.7H900.0zM900.0 1017.0H905.6V1022.6H900.0zM900.0 1022.6H905.6V1028.2H900.0zM1281.0 1028.2H1287.0V1033.9H1281.0zM1167.4 1039.5H1173.1V1045.1H1167.4zM1281.0 1050.8H1287.0V1056.4H1281.0zM861.4 1056.4H866.9V1062.1H861.4zM916.7 1056.4H927.9V1062.1H916.7zM1150.7 1056.4H1156.3V1062.1H1150.7zM1224.2 1056.4H1229.9V1062.1H1224.2zM1241.2 1056.4H1246.9V1062.1H1241.2zM900.0 1113.2H905.6V1118.9H900.0zM1167.4 1113.2H1173.1V1118.9H1167.4zM1167.4 1130.2H1173.1V1135.9H1167.4zM1281.0 1147.3H1287.0V1153.0H1281.0zM900.0 1153.0H905.6V1158.6H900.0zM1281.0 1158.6H1287.0V1164.3H1281.0zM933.4 1170.0H939.0V1175.6H933.4zM950.1 1170.0H955.7V1175.6H950.1zM1000.3 1170.0H1011.4V1175.6H1000.3zM1050.4 1170.0H1056.0V1175.6H1050.4zM1100.6 1170.0H1106.1V1175.6H1100.6zM1139.5 1170.0H1145.1V1175.6H1139.5zM1161.8 1170.0H1167.4V1175.6H1161.8zM1258.3 1170.0H1264.0V1175.6H1258.3zM1269.6 1170.0H1275.3V1175.6H1269.6zM1341.4 1170.0H1347.4V1175.6H1341.4zM1281.0 1226.0H1287.0V1231.6H1281.0z"/><path fill="#fd1d12" d="M822.9 679.1H828.4V684.7H822.9zM922.3 679.1H927.9V684.7H922.3zM1028.1 679.1H1033.7V684.7H1028.1zM1117.3 679.1H1128.4V684.7H1117.3zM1207.2 679.1H1212.8V684.7H1207.2zM1252.6 679.1H1258.3V684.7H1252.6zM844.9 684.7H850.4V690.4H844.9zM894.5 684.7H900.0V690.4H894.5zM905.6 684.7H911.1V690.4H905.6zM916.7 684.7H922.3V690.4H916.7zM978.0 684.7H983.6V690.4H978.0zM1005.8 684.7H1011.4V690.4H1005.8zM1128.4 684.7H1134.0V690.4H1128.4zM1150.7 684.7H1156.3V690.4H1150.7zM1161.8 684.7H1167.4V690.4H1161.8zM1207.2 684.7H1212.8V690.4H1207.2zM1258.3 684.7H1264.0V690.4H1258.3zM850.4 690.4H855.9V696.0H850.4zM872.5 690.4H878.0V696.0H872.5zM889.0 690.4H894.5V696.0H889.0zM927.9 690.4H933.4V696.0H927.9zM983.6 690.4H989.1V696.0H983.6zM994.7 690.4H1000.3V696.0H994.7zM1022.6 690.4H1033.7V696.0H1022.6zM1044.8 690.4H1050.4V696.0H1044.8zM1145.1 690.4H1150.7V696.0H1145.1zM1275.3 690.4H1281.0V696.0H1275.3zM894.5 696.0H900.0V701.6H894.5zM994.7 696.0H1000.3V701.6H994.7zM1017.0 696.0H1028.1V701.6H1017.0zM1039.3 696.0H1044.8V701.6H1039.3zM1050.4 696.0H1056.0V701.6H1050.4zM1145.1 696.0H1150.7V701.6H1145.1zM1173.1 696.0H1178.8V701.6H1173.1zM1190.1 696.0H1201.5V701.6H1190.1zM1269.6 696.0H1275.3V701.6H1269.6zM866.9 701.6H878.0V707.2H866.9zM889.0 701.6H894.5V707.2H889.0zM1000.3 701.6H1005.8V707.2H1000.3zM1089.4 701.6H1095.0V707.2H1089.4zM1100.6 701.6H1106.1V707.2H1100.6zM1299.1 701.6H1305.2V707.2H1299.1zM795.3 707.2H800.8V712.9H795.3zM872.5 707.2H878.0V712.9H872.5zM889.0 707.2H894.5V712.9H889.0zM944.6 707.2H950.1V712.9H944.6zM961.3 707.2H966.9V712.9H961.3zM1022.6 707.2H1028.1V712.9H1022.6zM1275.3 707.2H1281.0V712.9H1275.3zM850.4 724.1H855.9V729.7H850.4zM861.4 724.1H872.5V729.7H861.4zM878.0 724.1H883.5V729.7H878.0zM894.5 724.1H900.0V729.7H894.5zM905.6 724.1H911.1V729.7H905.6zM944.6 724.1H950.1V729.7H944.6zM955.7 724.1H961.3V729.7H955.7zM1044.8 724.1H1050.4V729.7H1044.8zM1067.1 724.1H1078.3V729.7H1067.1zM1122.8 724.1H1134.0V729.7H1122.8zM1184.4 724.1H1190.1V729.7H1184.4zM1218.5 724.1H1224.2V729.7H1218.5zM800.8 729.7H806.3V735.4H800.8zM850.4 729.7H883.5V735.4H850.4zM889.0 729.7H900.0V735.4H889.0zM916.7 729.7H922.3V735.4H916.7zM1000.3 729.7H1011.4V735.4H1000.3zM1072.7 729.7H1078.3V735.4H1072.7zM1083.8 729.7H1089.4V735.4H1083.8zM1111.7 729.7H1117.3V735.4H1111.7zM1122.8 729.7H1128.4V735.4H1122.8zM1224.2 729.7H1229.9V735.4H1224.2zM1299.1 729.7H1305.2V735.4H1299.1zM806.3 735.4H811.8V741.0H806.3zM839.4 735.4H850.4V741.0H839.4zM861.4 735.4H866.9V741.0H861.4zM872.5 735.4H900.0V741.0H872.5zM922.3 735.4H933.4V741.0H922.3zM950.1 735.4H966.9V741.0H950.1zM978.0 735.4H983.6V741.0H978.0zM1005.8 735.4H1011.4V741.0H1005.8zM1017.0 735.4H1022.6V741.0H1017.0zM1056.0 735.4H1061.6V741.0H1056.0zM1078.3 735.4H1083.8V741.0H1078.3zM1117.3 735.4H1122.8V741.0H1117.3zM1145.1 735.4H1161.8V741.0H1145.1zM1212.8 735.4H1218.5V741.0H1212.8zM1264.0 735.4H1269.6V741.0H1264.0zM1293.1 735.4H1299.1V741.0H1293.1zM844.9 741.0H850.4V746.6H844.9zM855.9 741.0H861.4V746.6H855.9zM866.9 741.0H878.0V746.6H866.9zM883.5 741.0H900.0V746.6H883.5zM994.7 741.0H1000.3V746.6H994.7zM1022.6 741.0H1028.1V746.6H1022.6zM1072.7 741.0H1078.3V746.6H1072.7zM1122.8 741.0H1128.4V746.6H1122.8zM1139.5 741.0H1145.1V746.6H1139.5zM1264.0 741.0H1269.6V746.6H1264.0zM839.4 746.6H855.9V752.2H839.4zM861.4 746.6H900.0V752.2H861.4zM905.6 746.6H916.7V752.2H905.6zM927.9 746.6H933.4V752.2H927.9zM966.9 746.6H972.4V752.2H966.9zM1005.8 746.6H1017.0V752.2H1005.8zM1050.4 746.6H1056.0V752.2H1050.4zM1061.6 746.6H1072.7V752.2H1061.6zM1083.8 746.6H1089.4V752.2H1083.8zM1100.6 746.6H1111.7V752.2H1100.6zM1150.7 746.6H1156.3V752.2H1150.7zM1212.8 746.6H1218.5V752.2H1212.8zM1287.0 746.6H1293.1V752.2H1287.0zM817.3 752.2H822.9V757.9H817.3zM839.4 752.2H850.4V757.9H839.4zM855.9 752.2H872.5V757.9H855.9zM889.0 752.2H900.0V757.9H889.0zM911.1 752.2H916.7V757.9H911.1zM922.3 752.2H950.1V757.9H922.3zM966.9 752.2H972.4V757.9H966.9zM1011.4 752.2H1017.0V757.9H1011.4zM1044.8 752.2H1050.4V757.9H1044.8zM1056.0 752.2H1067.1V757.9H1056.0zM1089.4 752.2H1095.0V757.9H1089.4zM1111.7 752.2H1117.3V757.9H1111.7zM1134.0 752.2H1139.5V757.9H1134.0zM1156.3 752.2H1161.8V757.9H1156.3zM1241.2 752.2H1246.9V757.9H1241.2zM1258.3 752.2H1264.0V757.9H1258.3zM1305.2 752.2H1317.2V757.9H1305.2zM1347.4 752.2H1359.5V757.9H1347.4zM806.3 757.9H811.8V763.5H806.3zM817.3 757.9H828.4V763.5H817.3zM844.9 757.9H866.9V763.5H844.9zM872.5 757.9H878.0V763.5H872.5zM883.5 757.9H900.0V763.5H883.5zM922.3 757.9H927.9V763.5H922.3zM944.6 757.9H961.3V763.5H944.6zM989.1 757.9H994.7V763.5H989.1zM1000.3 757.9H1011.4V763.5H1000.3zM1022.6 757.9H1033.7V763.5H1022.6zM1050.4 757.9H1056.0V763.5H1050.4zM1061.6 757.9H1067.1V763.5H1061.6zM1072.7 757.9H1078.3V763.5H1072.7zM1095.0 757.9H1100.6V763.5H1095.0zM1111.7 757.9H1139.5V763.5H1111.7zM1224.2 757.9H1229.9V763.5H1224.2zM1235.6 757.9H1241.2V763.5H1235.6zM1252.6 757.9H1258.3V763.5H1252.6zM1264.0 757.9H1275.3V763.5H1264.0zM839.4 763.5H855.9V769.1H839.4zM861.4 763.5H866.9V769.1H861.4zM878.0 763.5H883.5V769.1H878.0zM889.0 763.5H900.0V769.1H889.0zM916.7 763.5H922.3V769.1H916.7zM927.9 763.5H933.4V769.1H927.9zM961.3 763.5H966.9V769.1H961.3zM994.7 763.5H1000.3V769.1H994.7zM1044.8 763.5H1061.6V769.1H1044.8zM1122.8 763.5H1128.4V769.1H1122.8zM1134.0 763.5H1145.1V769.1H1134.0zM1161.8 763.5H1167.4V769.1H1161.8zM1173.1 763.5H1178.8V769.1H1173.1zM1195.8 763.5H1201.5V769.1H1195.8zM1317.2 763.5H1323.3V769.1H1317.2zM850.4 769.1H866.9V774.7H850.4zM872.5 769.1H878.0V774.7H872.5zM894.5 769.1H900.0V774.7H894.5zM944.6 769.1H955.7V774.7H944.6zM961.3 769.1H972.4V774.7H961.3zM983.6 769.1H989.1V774.7H983.6zM1005.8 769.1H1011.4V774.7H1005.8zM1017.0 769.1H1022.6V774.7H1017.0zM1061.6 769.1H1067.1V774.7H1061.6zM1089.4 769.1H1095.0V774.7H1089.4zM1117.3 769.1H1122.8V774.7H1117.3zM1128.4 769.1H1134.0V774.7H1128.4zM1156.3 769.1H1161.8V774.7H1156.3zM1184.4 769.1H1195.8V774.7H1184.4zM1212.8 769.1H1218.5V774.7H1212.8zM1287.0 769.1H1293.1V774.7H1287.0zM1329.3 769.1H1335.3V774.7H1329.3zM806.3 774.7H811.8V780.4H806.3zM817.3 774.7H828.4V780.4H817.3zM844.9 774.7H883.5V780.4H844.9zM889.0 774.7H900.0V780.4H889.0zM905.6 774.7H922.3V780.4H905.6zM927.9 774.7H933.4V780.4H927.9zM939.0 774.7H944.6V780.4H939.0zM950.1 774.7H955.7V780.4H950.1zM961.3 774.7H966.9V780.4H961.3zM972.4 774.7H983.6V780.4H972.4zM989.1 774.7H1000.3V780.4H989.1zM1005.8 774.7H1011.4V780.4H1005.8zM1039.3 774.7H1044.8V780.4H1039.3zM1050.4 774.7H1056.0V780.4H1050.4zM1067.1 774.7H1078.3V780.4H1067.1zM1083.8 774.7H1095.0V780.4H1083.8zM1106.1 774.7H1122.8V780.4H1106.1zM1134.0 774.7H1139.5V780.4H1134.0zM1150.7 774.7H1156.3V780.4H1150.7zM1161.8 774.7H1167.4V780.4H1161.8zM1178.8 774.7H1184.4V780.4H1178.8zM1207.2 774.7H1212.8V780.4H1207.2zM1246.9 774.7H1258.3V780.4H1246.9zM789.8 780.4H795.3V786.0H789.8zM800.8 780.4H806.3V786.0H800.8zM811.8 780.4H817.3V786.0H811.8zM839.4 780.4H900.0V786.0H839.4zM905.6 780.4H911.1V786.0H905.6zM916.7 780.4H983.6V786.0H916.7zM1000.3 780.4H1017.0V786.0H1000.3zM1028.1 780.4H1033.7V786.0H1028.1zM1044.8 780.4H1050.4V786.0H1044.8zM1056.0 780.4H1067.1V786.0H1056.0zM1083.8 780.4H1089.4V786.0H1083.8zM1100.6 780.4H1106.1V786.0H1100.6zM1111.7 780.4H1117.3V786.0H1111.7zM1134.0 780.4H1145.1V786.0H1134.0zM1150.7 780.4H1156.3V786.0H1150.7zM1173.1 780.4H1195.8V786.0H1173.1zM1207.2 780.4H1212.8V786.0H1207.2zM1224.2 780.4H1229.9V786.0H1224.2zM1252.6 780.4H1258.3V786.0H1252.6zM1287.0 780.4H1293.1V786.0H1287.0zM1323.3 780.4H1335.3V786.0H1323.3zM1341.4 780.4H1347.4V786.0H1341.4zM1353.5 780.4H1359.5V786.0H1353.5zM800.8 791.6H806.3V797.3H800.8zM839.4 791.6H844.9V797.3H839.4zM861.4 791.6H866.9V797.3H861.4zM889.0 791.6H900.0V797.3H889.0zM905.6 791.6H911.1V797.3H905.6zM922.3 791.6H933.4V797.3H922.3zM939.0 791.6H955.7V797.3H939.0zM961.3 791.6H972.4V797.3H961.3zM1005.8 791.6H1017.0V797.3H1005.8zM1044.8 791.6H1056.0V797.3H1044.8zM1067.1 791.6H1072.7V797.3H1067.1zM1095.0 791.6H1106.1V797.3H1095.0zM1139.5 791.6H1156.3V797.3H1139.5zM1173.1 791.6H1178.8V797.3H1173.1zM1190.1 791.6H1201.5V797.3H1190.1zM1207.2 791.6H1212.8V797.3H1207.2zM1264.0 791.6H1275.3V797.3H1264.0zM861.4 797.3H872.5V802.9H861.4zM889.0 797.3H894.5V802.9H889.0zM911.1 797.3H927.9V802.9H911.1zM939.0 797.3H944.6V802.9H939.0zM950.1 797.3H966.9V802.9H950.1zM983.6 797.3H1005.8V802.9H983.6zM1017.0 797.3H1028.1V802.9H1017.0zM1044.8 797.3H1056.0V802.9H1044.8zM1061.6 797.3H1083.8V802.9H1061.6zM1095.0 797.3H1100.6V802.9H1095.0zM1111.7 797.3H1122.8V802.9H1111.7zM1150.7 797.3H1167.4V802.9H1150.7zM1173.1 797.3H1184.4V802.9H1173.1zM1235.6 797.3H1241.2V802.9H1235.6zM1264.0 797.3H1269.6V802.9H1264.0zM1305.2 797.3H1311.2V802.9H1305.2zM1323.3 797.3H1329.3V802.9H1323.3zM800.8 802.9H806.3V808.5H800.8zM844.9 802.9H850.4V808.5H844.9zM878.0 802.9H883.5V808.5H878.0zM889.0 802.9H900.0V808.5H889.0zM911.1 802.9H933.4V808.5H911.1zM961.3 802.9H978.0V808.5H961.3zM994.7 802.9H1000.3V808.5H994.7zM1011.4 802.9H1017.0V808.5H1011.4zM1039.3 802.9H1050.4V808.5H1039.3zM1089.4 802.9H1095.0V808.5H1089.4zM1145.1 802.9H1150.7V808.5H1145.1zM1156.3 802.9H1161.8V808.5H1156.3zM1190.1 802.9H1201.5V808.5H1190.1zM1212.8 802.9H1218.5V808.5H1212.8zM1235.6 802.9H1246.9V808.5H1235.6zM1293.1 802.9H1305.2V808.5H1293.1zM1341.4 802.9H1347.4V808.5H1341.4zM1353.5 802.9H1359.5V808.5H1353.5zM795.3 808.5H800.8V814.2H795.3zM850.4 808.5H855.9V814.2H850.4zM866.9 808.5H878.0V814.2H866.9zM894.5 808.5H900.0V814.2H894.5zM905.6 808.5H922.3V814.2H905.6zM933.4 808.5H950.1V814.2H933.4zM955.7 808.5H972.4V814.2H955.7zM978.0 808.5H983.6V814.2H978.0zM994.7 808.5H1005.8V814.2H994.7zM1017.0 808.5H1028.1V814.2H1017.0zM1033.7 808.5H1039.3V814.2H1033.7zM1044.8 808.5H1056.0V814.2H1044.8zM1061.6 808.5H1067.1V814.2H1061.6zM1078.3 808.5H1083.8V814.2H1078.3zM1095.0 808.5H1100.6V814.2H1095.0zM1156.3 808.5H1161.8V814.2H1156.3zM1201.5 808.5H1207.2V814.2H1201.5zM1235.6 808.5H1241.2V814.2H1235.6zM1252.6 808.5H1258.3V814.2H1252.6zM1347.4 808.5H1353.5V814.2H1347.4zM806.3 814.2H811.8V819.8H806.3zM850.4 814.2H855.9V819.8H850.4zM861.4 814.2H872.5V819.8H861.4zM878.0 814.2H883.5V819.8H878.0zM889.0 814.2H900.0V819.8H889.0zM905.6 814.2H911.1V819.8H905.6zM916.7 814.2H922.3V819.8H916.7zM939.0 814.2H944.6V819.8H939.0zM950.1 814.2H955.7V819.8H950.1zM966.9 814.2H978.0V819.8H966.9zM989.1 814.2H1005.8V819.8H989.1zM1022.6 814.2H1028.1V819.8H1022.6zM1039.3 814.2H1044.8V819.8H1039.3zM1050.4 814.2H1056.0V819.8H1050.4zM1061.6 814.2H1072.7V819.8H1061.6zM1078.3 814.2H1083.8V819.8H1078.3zM1089.4 814.2H1095.0V819.8H1089.4zM1111.7 814.2H1117.3V819.8H1111.7zM1122.8 814.2H1128.4V819.8H1122.8zM1145.1 814.2H1150.7V819.8H1145.1zM1218.5 814.2H1224.2V819.8H1218.5zM1258.3 814.2H1269.6V819.8H1258.3zM866.9 819.8H872.5V825.4H866.9zM894.5 819.8H900.0V825.4H894.5zM922.3 819.8H927.9V825.4H922.3zM933.4 819.8H983.6V825.4H933.4zM1011.4 819.8H1017.0V825.4H1011.4zM1033.7 819.8H1039.3V825.4H1033.7zM1044.8 819.8H1056.0V825.4H1044.8zM1067.1 819.8H1078.3V825.4H1067.1zM1083.8 819.8H1089.4V825.4H1083.8zM1100.6 819.8H1111.7V825.4H1100.6zM1156.3 819.8H1167.4V825.4H1156.3zM1224.2 819.8H1229.9V825.4H1224.2zM1235.6 819.8H1241.2V825.4H1235.6zM1258.3 819.8H1275.3V825.4H1258.3zM1287.0 819.8H1299.1V825.4H1287.0zM1323.3 819.8H1335.3V825.4H1323.3zM866.9 825.4H872.5V831.1H866.9zM889.0 825.4H900.0V831.1H889.0zM905.6 825.4H916.7V831.1H905.6zM922.3 825.4H955.7V831.1H922.3zM961.3 825.4H978.0V831.1H961.3zM983.6 825.4H989.1V831.1H983.6zM994.7 825.4H1005.8V831.1H994.7zM1050.4 825.4H1056.0V831.1H1050.4zM1078.3 825.4H1095.0V831.1H1078.3zM1100.6 825.4H1117.3V831.1H1100.6zM1122.8 825.4H1128.4V831.1H1122.8zM1161.8 825.4H1167.4V831.1H1161.8zM1178.8 825.4H1184.4V831.1H1178.8zM1201.5 825.4H1207.2V831.1H1201.5zM1224.2 825.4H1229.9V831.1H1224.2zM1241.2 825.4H1246.9V831.1H1241.2zM1299.1 825.4H1305.2V831.1H1299.1zM1317.2 825.4H1323.3V831.1H1317.2zM1329.3 825.4H1335.3V831.1H1329.3zM822.9 831.1H828.4V836.7H822.9zM839.4 831.1H844.9V836.7H839.4zM866.9 831.1H878.0V836.7H866.9zM883.5 831.1H889.0V836.7H883.5zM894.5 831.1H900.0V836.7H894.5zM905.6 831.1H911.1V836.7H905.6zM922.3 831.1H927.9V836.7H922.3zM933.4 831.1H966.9V836.7H933.4zM972.4 831.1H983.6V836.7H972.4zM994.7 831.1H1000.3V836.7H994.7zM1011.4 831.1H1017.0V836.7H1011.4zM1022.6 831.1H1028.1V836.7H1022.6zM1033.7 831.1H1039.3V836.7H1033.7zM1044.8 831.1H1050.4V836.7H1044.8zM1056.0 831.1H1072.7V836.7H1056.0zM1083.8 831.1H1089.4V836.7H1083.8zM1095.0 831.1H1100.6V836.7H1095.0zM1128.4 831.1H1139.5V836.7H1128.4zM1156.3 831.1H1161.8V836.7H1156.3zM1173.1 831.1H1178.8V836.7H1173.1zM1190.1 831.1H1195.8V836.7H1190.1zM1207.2 831.1H1212.8V836.7H1207.2zM1229.9 831.1H1235.6V836.7H1229.9zM1252.6 831.1H1258.3V836.7H1252.6zM1335.3 831.1H1341.4V836.7H1335.3zM850.4 836.7H855.9V842.3H850.4zM872.5 836.7H878.0V842.3H872.5zM883.5 836.7H900.0V842.3H883.5zM905.6 836.7H916.7V842.3H905.6zM927.9 836.7H950.1V842.3H927.9zM966.9 836.7H983.6V842.3H966.9zM994.7 836.7H1000.3V842.3H994.7zM1022.6 836.7H1028.1V842.3H1022.6zM1033.7 836.7H1039.3V842.3H1033.7zM1044.8 836.7H1061.6V842.3H1044.8zM1072.7 836.7H1083.8V842.3H1072.7zM1089.4 836.7H1095.0V842.3H1089.4zM1111.7 836.7H1117.3V842.3H1111.7zM1134.0 836.7H1139.5V842.3H1134.0zM1145.1 836.7H1150.7V842.3H1145.1zM1156.3 836.7H1161.8V842.3H1156.3zM1201.5 836.7H1207.2V842.3H1201.5zM1229.9 836.7H1241.2V842.3H1229.9zM839.4 842.3H844.9V848.0H839.4zM850.4 842.3H855.9V848.0H850.4zM872.5 842.3H878.0V848.0H872.5zM894.5 842.3H900.0V848.0H894.5zM911.1 842.3H916.7V848.0H911.1zM922.3 842.3H927.9V848.0H922.3zM933.4 842.3H939.0V848.0H933.4zM944.6 842.3H950.1V848.0H944.6zM961.3 842.3H972.4V848.0H961.3zM989.1 842.3H994.7V848.0H989.1zM1000.3 842.3H1028.1V848.0H1000.3zM1050.4 842.3H1061.6V848.0H1050.4zM1067.1 842.3H1072.7V848.0H1067.1zM1078.3 842.3H1083.8V848.0H1078.3zM1106.1 842.3H1134.0V848.0H1106.1zM1139.5 842.3H1145.1V848.0H1139.5zM1212.8 842.3H1218.5V848.0H1212.8zM1229.9 842.3H1235.6V848.0H1229.9zM1317.2 842.3H1323.3V848.0H1317.2zM822.9 848.0H828.4V853.6H822.9zM850.4 848.0H855.9V853.6H850.4zM878.0 848.0H900.0V853.6H878.0zM905.6 848.0H927.9V853.6H905.6zM933.4 848.0H950.1V853.6H933.4zM955.7 848.0H1000.3V853.6H955.7zM1005.8 848.0H1011.4V853.6H1005.8zM1017.0 848.0H1022.6V853.6H1017.0zM1044.8 848.0H1061.6V853.6H1044.8zM1072.7 848.0H1089.4V853.6H1072.7zM1106.1 848.0H1111.7V853.6H1106.1zM1117.3 848.0H1122.8V853.6H1117.3zM1156.3 848.0H1161.8V853.6H1156.3zM1218.5 848.0H1224.2V853.6H1218.5zM1235.6 848.0H1241.2V853.6H1235.6zM1269.6 848.0H1275.3V853.6H1269.6zM1335.3 848.0H1341.4V853.6H1335.3zM861.4 853.6H872.5V859.2H861.4zM883.5 853.6H889.0V859.2H883.5zM894.5 853.6H900.0V859.2H894.5zM905.6 853.6H911.1V859.2H905.6zM916.7 853.6H944.6V859.2H916.7zM950.1 853.6H978.0V859.2H950.1zM983.6 853.6H989.1V859.2H983.6zM994.7 853.6H1011.4V859.2H994.7zM1022.6 853.6H1028.1V859.2H1022.6zM1033.7 853.6H1039.3V859.2H1033.7zM1044.8 853.6H1050.4V859.2H1044.8zM1056.0 853.6H1067.1V859.2H1056.0zM1072.7 853.6H1095.0V859.2H1072.7zM1106.1 853.6H1111.7V859.2H1106.1zM1122.8 853.6H1139.5V859.2H1122.8zM1150.7 853.6H1156.3V859.2H1150.7zM1218.5 853.6H1224.2V859.2H1218.5zM1241.2 853.6H1246.9V859.2H1241.2zM1335.3 853.6H1347.4V859.2H1335.3zM889.0 859.2H900.0V864.9H889.0zM916.7 859.2H922.3V864.9H916.7zM927.9 859.2H955.7V864.9H927.9zM961.3 859.2H972.4V864.9H961.3zM983.6 859.2H1000.3V864.9H983.6zM1017.0 859.2H1022.6V864.9H1017.0zM1028.1 859.2H1033.7V864.9H1028.1zM1039.3 859.2H1044.8V864.9H1039.3zM1050.4 859.2H1067.1V864.9H1050.4zM1078.3 859.2H1089.4V864.9H1078.3zM1095.0 859.2H1100.6V864.9H1095.0zM1111.7 859.2H1128.4V864.9H1111.7zM1139.5 859.2H1145.1V864.9H1139.5zM1212.8 859.2H1218.5V864.9H1212.8zM1241.2 859.2H1246.9V864.9H1241.2zM1264.0 859.2H1275.3V864.9H1264.0zM1287.0 859.2H1293.1V864.9H1287.0zM1341.4 859.2H1347.4V864.9H1341.4zM800.8 864.9H806.3V870.5H800.8zM850.4 864.9H855.9V870.5H850.4zM889.0 864.9H900.0V870.5H889.0zM922.3 864.9H927.9V870.5H922.3zM933.4 864.9H939.0V870.5H933.4zM944.6 864.9H955.7V870.5H944.6zM961.3 864.9H966.9V870.5H961.3zM978.0 864.9H983.6V870.5H978.0zM989.1 864.9H994.7V870.5H989.1zM1011.4 864.9H1028.1V870.5H1011.4zM1061.6 864.9H1067.1V870.5H1061.6zM1078.3 864.9H1083.8V870.5H1078.3zM1089.4 864.9H1100.6V870.5H1089.4zM1117.3 864.9H1128.4V870.5H1117.3zM1145.1 864.9H1150.7V870.5H1145.1zM1161.8 864.9H1167.4V870.5H1161.8zM1173.1 864.9H1178.8V870.5H1173.1zM1218.5 864.9H1224.2V870.5H1218.5zM1252.6 864.9H1258.3V870.5H1252.6zM1317.2 864.9H1323.3V870.5H1317.2zM1353.5 864.9H1359.5V870.5H1353.5zM806.3 870.5H811.8V876.1H806.3zM883.5 870.5H889.0V876.1H883.5zM911.1 870.5H916.7V876.1H911.1zM939.0 870.5H944.6V876.1H939.0zM961.3 870.5H978.0V876.1H961.3zM989.1 870.5H1000.3V876.1H989.1zM1005.8 870.5H1011.4V876.1H1005.8zM1017.0 870.5H1022.6V876.1H1017.0zM1028.1 870.5H1033.7V876.1H1028.1zM1044.8 870.5H1061.6V876.1H1044.8zM1072.7 870.5H1078.3V876.1H1072.7zM1083.8 870.5H1089.4V876.1H1083.8zM1095.0 870.5H1106.1V876.1H1095.0zM1117.3 870.5H1122.8V876.1H1117.3zM1128.4 870.5H1145.1V876.1H1128.4zM1156.3 870.5H1161.8V876.1H1156.3zM1195.8 870.5H1207.2V876.1H1195.8zM1258.3 870.5H1264.0V876.1H1258.3zM1293.1 870.5H1299.1V876.1H1293.1zM1305.2 870.5H1311.2V876.1H1305.2zM1347.4 870.5H1353.5V876.1H1347.4zM872.5 876.1H878.0V881.8H872.5zM889.0 876.1H894.5V881.8H889.0zM911.1 876.1H916.7V881.8H911.1zM927.9 876.1H933.4V881.8H927.9zM955.7 876.1H966.9V881.8H955.7zM972.4 876.1H989.1V881.8H972.4zM994.7 876.1H1000.3V881.8H994.7zM1005.8 876.1H1011.4V881.8H1005.8zM1017.0 876.1H1022.6V881.8H1017.0zM1033.7 876.1H1050.4V881.8H1033.7zM1061.6 876.1H1067.1V881.8H1061.6zM1072.7 876.1H1089.4V881.8H1072.7zM1095.0 876.1H1100.6V881.8H1095.0zM1106.1 876.1H1117.3V881.8H1106.1zM1134.0 876.1H1139.5V881.8H1134.0zM1145.1 876.1H1161.8V881.8H1145.1zM1184.4 876.1H1201.5V881.8H1184.4zM1212.8 876.1H1218.5V881.8H1212.8zM1293.1 876.1H1299.1V881.8H1293.1zM1317.2 876.1H1329.3V881.8H1317.2zM806.3 881.8H817.3V887.4H806.3zM855.9 881.8H861.4V887.4H855.9zM878.0 881.8H883.5V887.4H878.0zM889.0 881.8H894.5V887.4H889.0zM911.1 881.8H933.4V887.4H911.1zM939.0 881.8H955.7V887.4H939.0zM961.3 881.8H978.0V887.4H961.3zM983.6 881.8H1000.3V887.4H983.6zM1017.0 881.8H1028.1V887.4H1017.0zM1039.3 881.8H1061.6V887.4H1039.3zM1067.1 881.8H1072.7V887.4H1067.1zM1083.8 881.8H1111.7V887.4H1083.8zM1128.4 881.8H1134.0V887.4H1128.4zM1145.1 881.8H1150.7V887.4H1145.1zM1178.8 881.8H1184.4V887.4H1178.8zM1195.8 881.8H1201.5V887.4H1195.8zM1212.8 881.8H1224.2V887.4H1212.8zM1229.9 881.8H1235.6V887.4H1229.9zM1258.3 881.8H1264.0V887.4H1258.3zM1287.0 881.8H1293.1V887.4H1287.0zM1329.3 881.8H1335.3V887.4H1329.3zM1353.5 881.8H1359.5V887.4H1353.5zM817.3 887.4H822.9V893.0H817.3zM844.9 887.4H850.4V893.0H844.9zM872.5 887.4H878.0V893.0H872.5zM894.5 887.4H900.0V893.0H894.5zM911.1 887.4H916.7V893.0H911.1zM922.3 887.4H933.4V893.0H922.3zM939.0 887.4H944.6V893.0H939.0zM955.7 887.4H961.3V893.0H955.7zM966.9 887.4H972.4V893.0H966.9zM1000.3 887.4H1011.4V893.0H1000.3zM1017.0 887.4H1022.6V893.0H1017.0zM1033.7 887.4H1039.3V893.0H1033.7zM1050.4 887.4H1056.0V893.0H1050.4zM1067.1 887.4H1078.3V893.0H1067.1zM1089.4 887.4H1095.0V893.0H1089.4zM1100.6 887.4H1111.7V893.0H1100.6zM1122.8 887.4H1128.4V893.0H1122.8zM1134.0 887.4H1145.1V893.0H1134.0zM1156.3 887.4H1161.8V893.0H1156.3zM1201.5 887.4H1212.8V893.0H1201.5zM1229.9 887.4H1235.6V893.0H1229.9zM1258.3 887.4H1269.6V893.0H1258.3zM1287.0 887.4H1305.2V893.0H1287.0zM800.8 893.0H806.3V898.7H800.8zM844.9 893.0H855.9V898.7H844.9zM861.4 893.0H866.9V898.7H861.4zM872.5 893.0H878.0V898.7H872.5zM883.5 893.0H900.0V898.7H883.5zM905.6 893.0H911.1V898.7H905.6zM955.7 893.0H972.4V898.7H955.7zM983.6 893.0H994.7V898.7H983.6zM1000.3 893.0H1011.4V898.7H1000.3zM1017.0 893.0H1028.1V898.7H1017.0zM1033.7 893.0H1039.3V898.7H1033.7zM1061.6 893.0H1067.1V898.7H1061.6zM1072.7 893.0H1083.8V898.7H1072.7zM1089.4 893.0H1095.0V898.7H1089.4zM1100.6 893.0H1122.8V898.7H1100.6zM1150.7 893.0H1161.8V898.7H1150.7zM1212.8 893.0H1218.5V898.7H1212.8zM1241.2 893.0H1252.6V898.7H1241.2zM1264.0 893.0H1269.6V898.7H1264.0zM1299.1 893.0H1305.2V898.7H1299.1zM1341.4 893.0H1347.4V898.7H1341.4zM1353.5 893.0H1359.5V898.7H1353.5zM789.8 898.7H795.3V904.3H789.8zM861.4 898.7H872.5V904.3H861.4zM894.5 898.7H900.0V904.3H894.5zM905.6 898.7H911.1V904.3H905.6zM916.7 898.7H922.3V904.3H916.7zM933.4 898.7H939.0V904.3H933.4zM944.6 898.7H950.1V904.3H944.6zM955.7 898.7H961.3V904.3H955.7zM978.0 898.7H983.6V904.3H978.0zM1033.7 898.7H1044.8V904.3H1033.7zM1056.0 898.7H1072.7V904.3H1056.0zM1078.3 898.7H1089.4V904.3H1078.3zM1095.0 898.7H1106.1V904.3H1095.0zM1111.7 898.7H1117.3V904.3H1111.7zM1128.4 898.7H1139.5V904.3H1128.4zM1150.7 898.7H1156.3V904.3H1150.7zM1190.1 898.7H1195.8V904.3H1190.1zM1201.5 898.7H1207.2V904.3H1201.5zM1229.9 898.7H1235.6V904.3H1229.9zM1241.2 898.7H1252.6V904.3H1241.2zM1275.3 898.7H1281.0V904.3H1275.3zM1293.1 898.7H1299.1V904.3H1293.1zM1305.2 898.7H1311.2V904.3H1305.2zM1335.3 898.7H1341.4V904.3H1335.3zM811.8 904.3H817.3V909.9H811.8zM850.4 904.3H855.9V909.9H850.4zM883.5 904.3H889.0V909.9H883.5zM911.1 904.3H916.7V909.9H911.1zM922.3 904.3H927.9V909.9H922.3zM955.7 904.3H966.9V909.9H955.7zM972.4 904.3H1011.4V909.9H972.4zM1044.8 904.3H1050.4V909.9H1044.8zM1061.6 904.3H1089.4V909.9H1061.6zM1095.0 904.3H1117.3V909.9H1095.0zM1122.8 904.3H1145.1V909.9H1122.8zM1156.3 904.3H1161.8V909.9H1156.3zM1195.8 904.3H1201.5V909.9H1195.8zM1264.0 904.3H1269.6V909.9H1264.0zM1335.3 904.3H1341.4V909.9H1335.3zM806.3 909.9H817.3V915.6H806.3zM822.9 909.9H828.4V915.6H822.9zM855.9 909.9H861.4V915.6H855.9zM872.5 909.9H878.0V915.6H872.5zM911.1 909.9H916.7V915.6H911.1zM922.3 909.9H933.4V915.6H922.3zM944.6 909.9H961.3V915.6H944.6zM966.9 909.9H972.4V915.6H966.9zM978.0 909.9H983.6V915.6H978.0zM994.7 909.9H1000.3V915.6H994.7zM1005.8 909.9H1011.4V915.6H1005.8zM1022.6 909.9H1028.1V915.6H1022.6zM1033.7 909.9H1039.3V915.6H1033.7zM1044.8 909.9H1106.1V915.6H1044.8zM1111.7 909.9H1117.3V915.6H1111.7zM1128.4 909.9H1145.1V915.6H1128.4zM1156.3 909.9H1167.4V915.6H1156.3zM1184.4 909.9H1190.1V915.6H1184.4zM1224.2 909.9H1241.2V915.6H1224.2zM1341.4 909.9H1347.4V915.6H1341.4zM1353.5 909.9H1359.5V915.6H1353.5zM795.3 915.6H800.8V921.2H795.3zM806.3 915.6H811.8V921.2H806.3zM872.5 915.6H878.0V921.2H872.5zM894.5 915.6H900.0V921.2H894.5zM972.4 915.6H978.0V921.2H972.4zM983.6 915.6H989.1V921.2H983.6zM1033.7 915.6H1050.4V921.2H1033.7zM1056.0 915.6H1067.1V921.2H1056.0zM1072.7 915.6H1083.8V921.2H1072.7zM1089.4 915.6H1106.1V921.2H1089.4zM1111.7 915.6H1117.3V921.2H1111.7zM1122.8 915.6H1128.4V921.2H1122.8zM1134.0 915.6H1139.5V921.2H1134.0zM1156.3 915.6H1167.4V921.2H1156.3zM1173.1 915.6H1184.4V921.2H1173.1zM1190.1 915.6H1201.5V921.2H1190.1zM1212.8 915.6H1218.5V921.2H1212.8zM1224.2 915.6H1235.6V921.2H1224.2zM1246.9 915.6H1252.6V921.2H1246.9zM1269.6 915.6H1281.0V921.2H1269.6zM1347.4 915.6H1353.5V921.2H1347.4zM922.3 921.2H927.9V926.8H922.3zM933.4 921.2H939.0V926.8H933.4zM944.6 921.2H955.7V926.8H944.6zM966.9 921.2H972.4V926.8H966.9zM989.1 921.2H994.7V926.8H989.1zM1000.3 921.2H1017.0V926.8H1000.3zM1022.6 921.2H1044.8V926.8H1022.6zM1050.4 921.2H1061.6V926.8H1050.4zM1078.3 921.2H1106.1V926.8H1078.3zM1111.7 921.2H1117.3V926.8H1111.7zM1122.8 921.2H1128.4V926.8H1122.8zM1145.1 921.2H1150.7V926.8H1145.1zM1156.3 921.2H1167.4V926.8H1156.3zM1178.8 921.2H1195.8V926.8H1178.8zM1201.5 921.2H1207.2V926.8H1201.5zM1218.5 921.2H1229.9V926.8H1218.5zM1275.3 921.2H1281.0V926.8H1275.3zM1311.2 921.2H1317.2V926.8H1311.2zM1329.3 921.2H1335.3V926.8H1329.3zM811.8 926.8H817.3V932.5H811.8zM889.0 926.8H894.5V932.5H889.0zM916.7 926.8H922.3V932.5H916.7zM927.9 926.8H933.4V932.5H927.9zM972.4 926.8H978.0V932.5H972.4zM989.1 926.8H1000.3V932.5H989.1zM1011.4 926.8H1017.0V932.5H1011.4zM1028.1 926.8H1067.1V932.5H1028.1zM1072.7 926.8H1145.1V932.5H1072.7zM1150.7 926.8H1156.3V932.5H1150.7zM1161.8 926.8H1167.4V932.5H1161.8zM1184.4 926.8H1190.1V932.5H1184.4zM1195.8 926.8H1201.5V932.5H1195.8zM1207.2 926.8H1212.8V932.5H1207.2zM1252.6 926.8H1258.3V932.5H1252.6zM1317.2 926.8H1323.3V932.5H1317.2zM1341.4 926.8H1347.4V932.5H1341.4zM1353.5 926.8H1359.5V932.5H1353.5zM806.3 932.5H811.8V938.1H806.3zM839.4 932.5H844.9V938.1H839.4zM866.9 932.5H872.5V938.1H866.9zM878.0 932.5H883.5V938.1H878.0zM894.5 932.5H900.0V938.1H894.5zM905.6 932.5H927.9V938.1H905.6zM933.4 932.5H939.0V938.1H933.4zM944.6 932.5H955.7V938.1H944.6zM961.3 932.5H972.4V938.1H961.3zM983.6 932.5H1000.3V938.1H983.6zM1017.0 932.5H1033.7V938.1H1017.0zM1039.3 932.5H1100.6V938.1H1039.3zM1117.3 932.5H1139.5V938.1H1117.3zM1145.1 932.5H1150.7V938.1H1145.1zM1184.4 932.5H1190.1V938.1H1184.4zM1195.8 932.5H1201.5V938.1H1195.8zM1241.2 932.5H1252.6V938.1H1241.2zM1275.3 932.5H1281.0V938.1H1275.3zM1293.1 932.5H1305.2V938.1H1293.1zM1329.3 932.5H1335.3V938.1H1329.3zM1347.4 932.5H1359.5V938.1H1347.4zM789.8 938.1H795.3V943.7H789.8zM811.8 938.1H817.3V943.7H811.8zM861.4 938.1H866.9V943.7H861.4zM872.5 938.1H883.5V943.7H872.5zM889.0 938.1H894.5V943.7H889.0zM905.6 938.1H916.7V943.7H905.6zM922.3 938.1H944.6V943.7H922.3zM950.1 938.1H966.9V943.7H950.1zM972.4 938.1H978.0V943.7H972.4zM983.6 938.1H989.1V943.7H983.6zM994.7 938.1H1005.8V943.7H994.7zM1022.6 938.1H1028.1V943.7H1022.6zM1033.7 938.1H1067.1V943.7H1033.7zM1072.7 938.1H1128.4V943.7H1072.7zM1139.5 938.1H1161.8V943.7H1139.5zM1173.1 938.1H1178.8V943.7H1173.1zM1184.4 938.1H1190.1V943.7H1184.4zM1195.8 938.1H1201.5V943.7H1195.8zM1207.2 938.1H1212.8V943.7H1207.2zM1224.2 938.1H1229.9V943.7H1224.2zM1264.0 938.1H1269.6V943.7H1264.0zM1305.2 938.1H1311.2V943.7H1305.2zM1317.2 938.1H1323.3V943.7H1317.2zM850.4 943.7H855.9V949.4H850.4zM866.9 943.7H872.5V949.4H866.9zM878.0 943.7H883.5V949.4H878.0zM894.5 943.7H900.0V949.4H894.5zM944.6 943.7H978.0V949.4H944.6zM983.6 943.7H989.1V949.4H983.6zM994.7 943.7H1000.3V949.4H994.7zM1011.4 943.7H1017.0V949.4H1011.4zM1022.6 943.7H1122.8V949.4H1022.6zM1128.4 943.7H1145.1V949.4H1128.4zM1156.3 943.7H1161.8V949.4H1156.3zM1195.8 943.7H1201.5V949.4H1195.8zM1246.9 943.7H1252.6V949.4H1246.9zM1335.3 943.7H1341.4V949.4H1335.3zM861.4 949.4H878.0V955.0H861.4zM883.5 949.4H889.0V955.0H883.5zM894.5 949.4H900.0V955.0H894.5zM911.1 949.4H916.7V955.0H911.1zM922.3 949.4H933.4V955.0H922.3zM944.6 949.4H950.1V955.0H944.6zM966.9 949.4H983.6V955.0H966.9zM989.1 949.4H994.7V955.0H989.1zM1005.8 949.4H1033.7V955.0H1005.8zM1039.3 949.4H1106.1V955.0H1039.3zM1122.8 949.4H1161.8V955.0H1122.8zM1235.6 949.4H1241.2V955.0H1235.6zM1264.0 949.4H1269.6V955.0H1264.0zM1299.1 949.4H1305.2V955.0H1299.1zM839.4 955.0H844.9V960.6H839.4zM861.4 955.0H866.9V960.6H861.4zM889.0 955.0H894.5V960.6H889.0zM905.6 955.0H916.7V960.6H905.6zM927.9 955.0H939.0V960.6H927.9zM944.6 955.0H950.1V960.6H944.6zM955.7 955.0H961.3V960.6H955.7zM994.7 955.0H1005.8V960.6H994.7zM1011.4 955.0H1028.1V960.6H1011.4zM1044.8 955.0H1050.4V960.6H1044.8zM1056.0 955.0H1072.7V960.6H1056.0zM1078.3 955.0H1139.5V960.6H1078.3zM1145.1 955.0H1156.3V960.6H1145.1zM1161.8 955.0H1167.4V960.6H1161.8zM1178.8 955.0H1184.4V960.6H1178.8zM1195.8 955.0H1201.5V960.6H1195.8zM839.4 960.6H850.4V966.3H839.4zM855.9 960.6H861.4V966.3H855.9zM872.5 960.6H878.0V966.3H872.5zM889.0 960.6H894.5V966.3H889.0zM911.1 960.6H916.7V966.3H911.1zM933.4 960.6H939.0V966.3H933.4zM950.1 960.6H955.7V966.3H950.1zM961.3 960.6H972.4V966.3H961.3zM983.6 960.6H994.7V966.3H983.6zM1000.3 960.6H1011.4V966.3H1000.3zM1017.0 960.6H1033.7V966.3H1017.0zM1039.3 960.6H1067.1V966.3H1039.3zM1072.7 960.6H1083.8V966.3H1072.7zM1089.4 960.6H1128.4V966.3H1089.4zM1134.0 960.6H1139.5V966.3H1134.0zM1145.1 960.6H1150.7V966.3H1145.1zM1218.5 960.6H1224.2V966.3H1218.5zM1264.0 960.6H1269.6V966.3H1264.0zM1293.1 960.6H1299.1V966.3H1293.1zM1305.2 960.6H1311.2V966.3H1305.2zM1317.2 960.6H1323.3V966.3H1317.2zM850.4 966.3H855.9V971.9H850.4zM911.1 966.3H916.7V971.9H911.1zM922.3 966.3H933.4V971.9H922.3zM939.0 966.3H944.6V971.9H939.0zM950.1 966.3H983.6V971.9H950.1zM989.1 966.3H994.7V971.9H989.1zM1005.8 966.3H1100.6V971.9H1005.8zM1117.3 966.3H1150.7V971.9H1117.3zM1156.3 966.3H1161.8V971.9H1156.3zM1173.1 966.3H1178.8V971.9H1173.1zM1201.5 966.3H1207.2V971.9H1201.5zM1235.6 966.3H1241.2V971.9H1235.6zM1252.6 966.3H1258.3V971.9H1252.6zM1275.3 966.3H1281.0V971.9H1275.3zM1323.3 966.3H1329.3V971.9H1323.3zM844.9 971.9H850.4V977.5H844.9zM861.4 971.9H866.9V977.5H861.4zM889.0 971.9H900.0V977.5H889.0zM933.4 971.9H950.1V977.5H933.4zM961.3 971.9H978.0V977.5H961.3zM983.6 971.9H1000.3V977.5H983.6zM1011.4 971.9H1028.1V977.5H1011.4zM1033.7 971.9H1072.7V977.5H1033.7zM1078.3 971.9H1089.4V977.5H1078.3zM1100.6 971.9H1122.8V977.5H1100.6zM1128.4 971.9H1150.7V977.5H1128.4zM1173.1 971.9H1178.8V977.5H1173.1zM1229.9 971.9H1235.6V977.5H1229.9zM1323.3 971.9H1329.3V977.5H1323.3zM1341.4 971.9H1347.4V977.5H1341.4zM817.3 977.5H822.9V983.2H817.3zM866.9 977.5H872.5V983.2H866.9zM883.5 977.5H894.5V983.2H883.5zM916.7 977.5H922.3V983.2H916.7zM927.9 977.5H933.4V983.2H927.9zM939.0 977.5H944.6V983.2H939.0zM950.1 977.5H955.7V983.2H950.1zM966.9 977.5H972.4V983.2H966.9zM978.0 977.5H983.6V983.2H978.0zM994.7 977.5H1011.4V983.2H994.7zM1022.6 977.5H1083.8V983.2H1022.6zM1089.4 977.5H1150.7V983.2H1089.4zM1195.8 977.5H1201.5V983.2H1195.8zM1218.5 977.5H1224.2V983.2H1218.5zM1229.9 977.5H1235.6V983.2H1229.9zM1241.2 977.5H1246.9V983.2H1241.2zM872.5 983.2H878.0V988.8H872.5zM905.6 983.2H916.7V988.8H905.6zM922.3 983.2H927.9V988.8H922.3zM944.6 983.2H950.1V988.8H944.6zM972.4 983.2H1000.3V988.8H972.4zM1011.4 983.2H1083.8V988.8H1011.4zM1089.4 983.2H1111.7V988.8H1089.4zM1145.1 983.2H1161.8V988.8H1145.1zM1173.1 983.2H1178.8V988.8H1173.1zM1224.2 983.2H1229.9V988.8H1224.2zM1235.6 983.2H1241.2V988.8H1235.6zM1246.9 983.2H1252.6V988.8H1246.9zM1287.0 983.2H1293.1V988.8H1287.0zM817.3 988.8H822.9V994.4H817.3zM861.4 988.8H866.9V994.4H861.4zM894.5 988.8H900.0V994.4H894.5zM905.6 988.8H911.1V994.4H905.6zM933.4 988.8H944.6V994.4H933.4zM983.6 988.8H989.1V994.4H983.6zM994.7 988.8H1044.8V994.4H994.7zM1050.4 988.8H1078.3V994.4H1050.4zM1083.8 988.8H1111.7V994.4H1083.8zM1117.3 988.8H1145.1V994.4H1117.3zM1150.7 988.8H1156.3V994.4H1150.7zM1178.8 988.8H1190.1V994.4H1178.8zM1269.6 988.8H1275.3V994.4H1269.6zM1287.0 988.8H1293.1V994.4H1287.0zM1329.3 988.8H1335.3V994.4H1329.3zM861.4 994.4H866.9V1000.1H861.4zM889.0 994.4H894.5V1000.1H889.0zM933.4 994.4H944.6V1000.1H933.4zM955.7 994.4H972.4V1000.1H955.7zM989.1 994.4H1011.4V1000.1H989.1zM1017.0 994.4H1022.6V1000.1H1017.0zM1039.3 994.4H1044.8V1000.1H1039.3zM1050.4 994.4H1061.6V1000.1H1050.4zM1067.1 994.4H1078.3V1000.1H1067.1zM1083.8 994.4H1111.7V1000.1H1083.8zM1117.3 994.4H1139.5V1000.1H1117.3zM1145.1 994.4H1167.4V1000.1H1145.1zM1287.0 994.4H1293.1V1000.1H1287.0zM1323.3 994.4H1329.3V1000.1H1323.3zM1353.5 994.4H1359.5V1000.1H1353.5zM844.9 1000.1H850.4V1005.7H844.9zM866.9 1000.1H878.0V1005.7H866.9zM889.0 1000.1H900.0V1005.7H889.0zM911.1 1000.1H916.7V1005.7H911.1zM927.9 1000.1H933.4V1005.7H927.9zM939.0 1000.1H944.6V1005.7H939.0zM950.1 1000.1H961.3V1005.7H950.1zM972.4 1000.1H978.0V1005.7H972.4zM989.1 1000.1H994.7V1005.7H989.1zM1005.8 1000.1H1044.8V1005.7H1005.8zM1050.4 1000.1H1061.6V1005.7H1050.4zM1067.1 1000.1H1078.3V1005.7H1067.1zM1083.8 1000.1H1095.0V1005.7H1083.8zM1111.7 1000.1H1145.1V1005.7H1111.7zM1178.8 1000.1H1184.4V1005.7H1178.8zM1195.8 1000.1H1201.5V1005.7H1195.8zM1218.5 1000.1H1229.9V1005.7H1218.5zM1323.3 1000.1H1335.3V1005.7H1323.3zM1359.5 1000.1H1365.5V1005.7H1359.5zM795.3 1005.7H800.8V1011.3H795.3zM850.4 1005.7H855.9V1011.3H850.4zM872.5 1005.7H878.0V1011.3H872.5zM883.5 1005.7H894.5V1011.3H883.5zM911.1 1005.7H916.7V1011.3H911.1zM955.7 1005.7H966.9V1011.3H955.7zM972.4 1005.7H989.1V1011.3H972.4zM1005.8 1005.7H1011.4V1011.3H1005.8zM1039.3 1005.7H1061.6V1011.3H1039.3zM1067.1 1005.7H1095.0V1011.3H1067.1zM1100.6 1005.7H1134.0V1011.3H1100.6zM1139.5 1005.7H1156.3V1011.3H1139.5zM1161.8 1005.7H1167.4V1011.3H1161.8zM1173.1 1005.7H1178.8V1011.3H1173.1zM1207.2 1005.7H1218.5V1011.3H1207.2zM1229.9 1005.7H1241.2V1011.3H1229.9zM1246.9 1005.7H1252.6V1011.3H1246.9zM1258.3 1005.7H1264.0V1011.3H1258.3zM1293.1 1005.7H1305.2V1011.3H1293.1zM1311.2 1005.7H1329.3V1011.3H1311.2zM795.3 1011.3H800.8V1017.0H795.3zM839.4 1011.3H850.4V1017.0H839.4zM855.9 1011.3H861.4V1017.0H855.9zM872.5 1011.3H883.5V1017.0H872.5zM927.9 1011.3H933.4V1017.0H927.9zM939.0 1011.3H944.6V1017.0H939.0zM955.7 1011.3H961.3V1017.0H955.7zM966.9 1011.3H983.6V1017.0H966.9zM1000.3 1011.3H1005.8V1017.0H1000.3zM1017.0 1011.3H1022.6V1017.0H1017.0zM1028.1 1011.3H1056.0V1017.0H1028.1zM1061.6 1011.3H1083.8V1017.0H1061.6zM1089.4 1011.3H1095.0V1017.0H1089.4zM1100.6 1011.3H1122.8V1017.0H1100.6zM1134.0 1011.3H1145.1V1017.0H1134.0zM1150.7 1011.3H1156.3V1017.0H1150.7zM1161.8 1011.3H1167.4V1017.0H1161.8zM1178.8 1011.3H1190.1V1017.0H1178.8zM1212.8 1011.3H1218.5V1017.0H1212.8zM1235.6 1011.3H1241.2V1017.0H1235.6zM1246.9 1011.3H1252.6V1017.0H1246.9zM1258.3 1011.3H1264.0V1017.0H1258.3zM1293.1 1011.3H1299.1V1017.0H1293.1zM1305.2 1011.3H1311.2V1017.0H1305.2zM1329.3 1011.3H1335.3V1017.0H1329.3zM800.8 1017.0H806.3V1022.6H800.8zM839.4 1017.0H844.9V1022.6H839.4zM872.5 1017.0H878.0V1022.6H872.5zM883.5 1017.0H889.0V1022.6H883.5zM944.6 1017.0H950.1V1022.6H944.6zM955.7 1017.0H961.3V1022.6H955.7zM966.9 1017.0H972.4V1022.6H966.9zM983.6 1017.0H989.1V1022.6H983.6zM994.7 1017.0H1000.3V1022.6H994.7zM1011.4 1017.0H1028.1V1022.6H1011.4zM1039.3 1017.0H1050.4V1022.6H1039.3zM1056.0 1017.0H1072.7V1022.6H1056.0zM1078.3 1017.0H1095.0V1022.6H1078.3zM1100.6 1017.0H1122.8V1022.6H1100.6zM1128.4 1017.0H1156.3V1022.6H1128.4zM1178.8 1017.0H1184.4V1022.6H1178.8zM1229.9 1017.0H1235.6V1022.6H1229.9zM1258.3 1017.0H1264.0V1022.6H1258.3zM1287.0 1017.0H1305.2V1022.6H1287.0zM1317.2 1017.0H1323.3V1022.6H1317.2zM1329.3 1017.0H1335.3V1022.6H1329.3zM1353.5 1017.0H1359.5V1022.6H1353.5zM866.9 1022.6H883.5V1028.2H866.9zM889.0 1022.6H900.0V1028.2H889.0zM944.6 1022.6H955.7V1028.2H944.6zM966.9 1022.6H972.4V1028.2H966.9zM983.6 1022.6H994.7V1028.2H983.6zM1000.3 1022.6H1005.8V1028.2H1000.3zM1011.4 1022.6H1033.7V1028.2H1011.4zM1039.3 1022.6H1050.4V1028.2H1039.3zM1056.0 1022.6H1095.0V1028.2H1056.0zM1100.6 1022.6H1117.3V1028.2H1100.6zM1122.8 1022.6H1134.0V1028.2H1122.8zM1139.5 1022.6H1145.1V1028.2H1139.5zM1190.1 1022.6H1195.8V1028.2H1190.1zM1201.5 1022.6H1207.2V1028.2H1201.5zM1224.2 1022.6H1229.9V1028.2H1224.2zM1235.6 1022.6H1246.9V1028.2H1235.6zM1269.6 1022.6H1281.0V1028.2H1269.6zM1293.1 1022.6H1299.1V1028.2H1293.1zM1311.2 1022.6H1317.2V1028.2H1311.2zM1329.3 1022.6H1335.3V1028.2H1329.3zM855.9 1028.2H861.4V1033.9H855.9zM878.0 1028.2H883.5V1033.9H878.0zM894.5 1028.2H900.0V1033.9H894.5zM905.6 1028.2H911.1V1033.9H905.6zM955.7 1028.2H961.3V1033.9H955.7zM972.4 1028.2H978.0V1033.9H972.4zM983.6 1028.2H989.1V1033.9H983.6zM1000.3 1028.2H1005.8V1033.9H1000.3zM1017.0 1028.2H1028.1V1033.9H1017.0zM1039.3 1028.2H1044.8V1033.9H1039.3zM1050.4 1028.2H1067.1V1033.9H1050.4zM1078.3 1028.2H1095.0V1033.9H1078.3zM1100.6 1028.2H1106.1V1033.9H1100.6zM1111.7 1028.2H1145.1V1033.9H1111.7zM1156.3 1028.2H1167.4V1033.9H1156.3zM1173.1 1028.2H1184.4V1033.9H1173.1zM1190.1 1028.2H1195.8V1033.9H1190.1zM1207.2 1028.2H1218.5V1033.9H1207.2zM1246.9 1028.2H1252.6V1033.9H1246.9zM1264.0 1028.2H1269.6V1033.9H1264.0zM1275.3 1028.2H1281.0V1033.9H1275.3zM1305.2 1028.2H1317.2V1033.9H1305.2zM1323.3 1028.2H1335.3V1033.9H1323.3zM1353.5 1028.2H1359.5V1033.9H1353.5zM806.3 1033.9H817.3V1039.5H806.3zM850.4 1033.9H855.9V1039.5H850.4zM905.6 1033.9H911.1V1039.5H905.6zM916.7 1033.9H922.3V1039.5H916.7zM927.9 1033.9H933.4V1039.5H927.9zM950.1 1033.9H955.7V1039.5H950.1zM978.0 1033.9H983.6V1039.5H978.0zM989.1 1033.9H1000.3V1039.5H989.1zM1033.7 1033.9H1039.3V1039.5H1033.7zM1044.8 1033.9H1056.0V1039.5H1044.8zM1061.6 1033.9H1100.6V1039.5H1061.6zM1106.1 1033.9H1111.7V1039.5H1106.1zM1117.3 1033.9H1122.8V1039.5H1117.3zM1128.4 1033.9H1134.0V1039.5H1128.4zM1145.1 1033.9H1150.7V1039.5H1145.1zM1156.3 1033.9H1167.4V1039.5H1156.3zM1178.8 1033.9H1190.1V1039.5H1178.8zM1201.5 1033.9H1229.9V1039.5H1201.5zM1235.6 1033.9H1241.2V1039.5H1235.6zM1258.3 1033.9H1264.0V1039.5H1258.3zM1269.6 1033.9H1281.0V1039.5H1269.6zM1293.1 1033.9H1311.2V1039.5H1293.1zM1317.2 1033.9H1323.3V1039.5H1317.2zM1335.3 1033.9H1341.4V1039.5H1335.3zM1353.5 1033.9H1359.5V1039.5H1353.5zM800.8 1039.5H806.3V1045.1H800.8zM850.4 1039.5H855.9V1045.1H850.4zM861.4 1039.5H866.9V1045.1H861.4zM889.0 1039.5H900.0V1045.1H889.0zM905.6 1039.5H916.7V1045.1H905.6zM966.9 1039.5H972.4V1045.1H966.9zM989.1 1039.5H994.7V1045.1H989.1zM1005.8 1039.5H1017.0V1045.1H1005.8zM1039.3 1039.5H1044.8V1045.1H1039.3zM1050.4 1039.5H1056.0V1045.1H1050.4zM1061.6 1039.5H1072.7V1045.1H1061.6zM1095.0 1039.5H1111.7V1045.1H1095.0zM1117.3 1039.5H1134.0V1045.1H1117.3zM1150.7 1039.5H1167.4V1045.1H1150.7zM1178.8 1039.5H1195.8V1045.1H1178.8zM1218.5 1039.5H1224.2V1045.1H1218.5zM1241.2 1039.5H1252.6V1045.1H1241.2zM1258.3 1039.5H1264.0V1045.1H1258.3zM1269.6 1039.5H1275.3V1045.1H1269.6zM1299.1 1039.5H1305.2V1045.1H1299.1zM1323.3 1039.5H1329.3V1045.1H1323.3zM1341.4 1039.5H1347.4V1045.1H1341.4zM850.4 1045.1H855.9V1050.8H850.4zM866.9 1045.1H872.5V1050.8H866.9zM883.5 1045.1H889.0V1050.8H883.5zM911.1 1045.1H927.9V1050.8H911.1zM933.4 1045.1H939.0V1050.8H933.4zM944.6 1045.1H955.7V1050.8H944.6zM961.3 1045.1H966.9V1050.8H961.3zM983.6 1045.1H994.7V1050.8H983.6zM1000.3 1045.1H1011.4V1050.8H1000.3zM1017.0 1045.1H1039.3V1050.8H1017.0zM1050.4 1045.1H1067.1V1050.8H1050.4zM1078.3 1045.1H1083.8V1050.8H1078.3zM1095.0 1045.1H1100.6V1050.8H1095.0zM1106.1 1045.1H1111.7V1050.8H1106.1zM1139.5 1045.1H1167.4V1050.8H1139.5zM1178.8 1045.1H1184.4V1050.8H1178.8zM1212.8 1045.1H1218.5V1050.8H1212.8zM1229.9 1045.1H1235.6V1050.8H1229.9zM1258.3 1045.1H1264.0V1050.8H1258.3zM1305.2 1045.1H1329.3V1050.8H1305.2zM1353.5 1045.1H1359.5V1050.8H1353.5zM800.8 1050.8H806.3V1056.4H800.8zM878.0 1050.8H883.5V1056.4H878.0zM889.0 1050.8H894.5V1056.4H889.0zM911.1 1050.8H916.7V1056.4H911.1zM933.4 1050.8H944.6V1056.4H933.4zM978.0 1050.8H983.6V1056.4H978.0zM1022.6 1050.8H1044.8V1056.4H1022.6zM1067.1 1050.8H1072.7V1056.4H1067.1zM1106.1 1050.8H1111.7V1056.4H1106.1zM1117.3 1050.8H1128.4V1056.4H1117.3zM1139.5 1050.8H1161.8V1056.4H1139.5zM1178.8 1050.8H1184.4V1056.4H1178.8zM1195.8 1050.8H1207.2V1056.4H1195.8zM1218.5 1050.8H1241.2V1056.4H1218.5zM1252.6 1050.8H1281.0V1056.4H1252.6zM1293.1 1050.8H1317.2V1056.4H1293.1zM1329.3 1050.8H1341.4V1056.4H1329.3zM811.8 1062.1H817.3V1067.8H811.8zM878.0 1062.1H883.5V1067.8H878.0zM894.5 1062.1H900.0V1067.8H894.5zM905.6 1062.1H916.7V1067.8H905.6zM944.6 1062.1H950.1V1067.8H944.6zM978.0 1062.1H983.6V1067.8H978.0zM1028.1 1062.1H1033.7V1067.8H1028.1zM1050.4 1062.1H1056.0V1067.8H1050.4zM1078.3 1062.1H1089.4V1067.8H1078.3zM1095.0 1062.1H1100.6V1067.8H1095.0zM1117.3 1062.1H1122.8V1067.8H1117.3zM1139.5 1062.1H1145.1V1067.8H1139.5zM1190.1 1062.1H1195.8V1067.8H1190.1zM1212.8 1062.1H1229.9V1067.8H1212.8zM1235.6 1062.1H1252.6V1067.8H1235.6zM1264.0 1062.1H1281.0V1067.8H1264.0zM1299.1 1062.1H1305.2V1067.8H1299.1zM1317.2 1062.1H1329.3V1067.8H1317.2zM1341.4 1062.1H1347.4V1067.8H1341.4zM889.0 1067.8H900.0V1073.4H889.0zM911.1 1067.8H916.7V1073.4H911.1zM939.0 1067.8H944.6V1073.4H939.0zM994.7 1067.8H1000.3V1073.4H994.7zM1028.1 1067.8H1039.3V1073.4H1028.1zM1067.1 1067.8H1072.7V1073.4H1067.1zM1100.6 1067.8H1106.1V1073.4H1100.6zM1111.7 1067.8H1117.3V1073.4H1111.7zM1122.8 1067.8H1134.0V1073.4H1122.8zM1139.5 1067.8H1167.4V1073.4H1139.5zM1178.8 1067.8H1207.2V1073.4H1178.8zM1229.9 1067.8H1235.6V1073.4H1229.9zM1246.9 1067.8H1252.6V1073.4H1246.9zM1269.6 1067.8H1275.3V1073.4H1269.6zM1287.0 1067.8H1311.2V1073.4H1287.0zM1329.3 1067.8H1341.4V1073.4H1329.3zM1347.4 1067.8H1353.5V1073.4H1347.4zM839.4 1073.4H844.9V1079.1H839.4zM883.5 1073.4H889.0V1079.1H883.5zM894.5 1073.4H900.0V1079.1H894.5zM989.1 1073.4H994.7V1079.1H989.1zM1022.6 1073.4H1028.1V1079.1H1022.6zM1033.7 1073.4H1056.0V1079.1H1033.7zM1100.6 1073.4H1106.1V1079.1H1100.6zM1122.8 1073.4H1128.4V1079.1H1122.8zM1145.1 1073.4H1156.3V1079.1H1145.1zM1178.8 1073.4H1201.5V1079.1H1178.8zM1207.2 1073.4H1212.8V1079.1H1207.2zM1224.2 1073.4H1264.0V1079.1H1224.2zM1287.0 1073.4H1311.2V1079.1H1287.0zM1317.2 1073.4H1323.3V1079.1H1317.2zM1329.3 1073.4H1335.3V1079.1H1329.3zM811.8 1079.1H817.3V1084.8H811.8zM883.5 1079.1H889.0V1084.8H883.5zM894.5 1079.1H900.0V1084.8H894.5zM905.6 1079.1H911.1V1084.8H905.6zM916.7 1079.1H922.3V1084.8H916.7zM944.6 1079.1H950.1V1084.8H944.6zM989.1 1079.1H994.7V1084.8H989.1zM1011.4 1079.1H1017.0V1084.8H1011.4zM1028.1 1079.1H1039.3V1084.8H1028.1zM1134.0 1079.1H1145.1V1084.8H1134.0zM1150.7 1079.1H1156.3V1084.8H1150.7zM1173.1 1079.1H1190.1V1084.8H1173.1zM1195.8 1079.1H1207.2V1084.8H1195.8zM1212.8 1079.1H1252.6V1084.8H1212.8zM1264.0 1079.1H1275.3V1084.8H1264.0zM1299.1 1079.1H1305.2V1084.8H1299.1zM1311.2 1079.1H1317.2V1084.8H1311.2zM1323.3 1079.1H1335.3V1084.8H1323.3zM811.8 1084.8H817.3V1090.5H811.8zM878.0 1084.8H883.5V1090.5H878.0zM905.6 1084.8H911.1V1090.5H905.6zM916.7 1084.8H922.3V1090.5H916.7zM983.6 1084.8H1000.3V1090.5H983.6zM1017.0 1084.8H1022.6V1090.5H1017.0zM1028.1 1084.8H1033.7V1090.5H1028.1zM1039.3 1084.8H1061.6V1090.5H1039.3zM1067.1 1084.8H1072.7V1090.5H1067.1zM1089.4 1084.8H1095.0V1090.5H1089.4zM1111.7 1084.8H1117.3V1090.5H1111.7zM1161.8 1084.8H1167.4V1090.5H1161.8zM1178.8 1084.8H1201.5V1090.5H1178.8zM1207.2 1084.8H1281.0V1090.5H1207.2zM1287.0 1084.8H1293.1V1090.5H1287.0zM1299.1 1084.8H1305.2V1090.5H1299.1zM1317.2 1084.8H1329.3V1090.5H1317.2zM922.3 1090.5H927.9V1096.2H922.3zM939.0 1090.5H944.6V1096.2H939.0zM950.1 1090.5H955.7V1096.2H950.1zM983.6 1090.5H989.1V1096.2H983.6zM1000.3 1090.5H1005.8V1096.2H1000.3zM1011.4 1090.5H1017.0V1096.2H1011.4zM1033.7 1090.5H1039.3V1096.2H1033.7zM1078.3 1090.5H1083.8V1096.2H1078.3zM1134.0 1090.5H1139.5V1096.2H1134.0zM1145.1 1090.5H1150.7V1096.2H1145.1zM1161.8 1090.5H1167.4V1096.2H1161.8zM1178.8 1090.5H1184.4V1096.2H1178.8zM1190.1 1090.5H1195.8V1096.2H1190.1zM1201.5 1090.5H1212.8V1096.2H1201.5zM1218.5 1090.5H1246.9V1096.2H1218.5zM1258.3 1090.5H1275.3V1096.2H1258.3zM1293.1 1090.5H1311.2V1096.2H1293.1zM1317.2 1090.5H1323.3V1096.2H1317.2zM1329.3 1090.5H1341.4V1096.2H1329.3zM795.3 1096.2H806.3V1101.8H795.3zM889.0 1096.2H900.0V1101.8H889.0zM905.6 1096.2H911.1V1101.8H905.6zM944.6 1096.2H950.1V1101.8H944.6zM1000.3 1096.2H1005.8V1101.8H1000.3zM1039.3 1096.2H1044.8V1101.8H1039.3zM1050.4 1096.2H1056.0V1101.8H1050.4zM1117.3 1096.2H1122.8V1101.8H1117.3zM1139.5 1096.2H1150.7V1101.8H1139.5zM1184.4 1096.2H1190.1V1101.8H1184.4zM1195.8 1096.2H1258.3V1101.8H1195.8zM1264.0 1096.2H1269.6V1101.8H1264.0zM1287.0 1096.2H1293.1V1101.8H1287.0zM1299.1 1096.2H1305.2V1101.8H1299.1zM1311.2 1096.2H1317.2V1101.8H1311.2zM850.4 1101.8H855.9V1107.5H850.4zM861.4 1101.8H866.9V1107.5H861.4zM883.5 1101.8H889.0V1107.5H883.5zM916.7 1101.8H922.3V1107.5H916.7zM955.7 1101.8H961.3V1107.5H955.7zM972.4 1101.8H978.0V1107.5H972.4zM989.1 1101.8H1000.3V1107.5H989.1zM1005.8 1101.8H1011.4V1107.5H1005.8zM1028.1 1101.8H1033.7V1107.5H1028.1zM1117.3 1101.8H1128.4V1107.5H1117.3zM1139.5 1101.8H1150.7V1107.5H1139.5zM1156.3 1101.8H1161.8V1107.5H1156.3zM1173.1 1101.8H1178.8V1107.5H1173.1zM1190.1 1101.8H1201.5V1107.5H1190.1zM1207.2 1101.8H1212.8V1107.5H1207.2zM1224.2 1101.8H1235.6V1107.5H1224.2zM1241.2 1101.8H1252.6V1107.5H1241.2zM1258.3 1101.8H1264.0V1107.5H1258.3zM1269.6 1101.8H1275.3V1107.5H1269.6zM1287.0 1101.8H1299.1V1107.5H1287.0zM1341.4 1101.8H1347.4V1107.5H1341.4zM839.4 1107.5H844.9V1113.2H839.4zM927.9 1107.5H933.4V1113.2H927.9zM961.3 1107.5H972.4V1113.2H961.3zM978.0 1107.5H983.6V1113.2H978.0zM994.7 1107.5H1000.3V1113.2H994.7zM1033.7 1107.5H1039.3V1113.2H1033.7zM1072.7 1107.5H1078.3V1113.2H1072.7zM1089.4 1107.5H1095.0V1113.2H1089.4zM1111.7 1107.5H1117.3V1113.2H1111.7zM1145.1 1107.5H1156.3V1113.2H1145.1zM1161.8 1107.5H1167.4V1113.2H1161.8zM1173.1 1107.5H1178.8V1113.2H1173.1zM1190.1 1107.5H1212.8V1113.2H1190.1zM1224.2 1107.5H1275.3V1113.2H1224.2zM1293.1 1107.5H1299.1V1113.2H1293.1zM1311.2 1107.5H1317.2V1113.2H1311.2zM1329.3 1107.5H1347.4V1113.2H1329.3zM844.9 1113.2H850.4V1118.9H844.9zM872.5 1113.2H878.0V1118.9H872.5zM894.5 1113.2H900.0V1118.9H894.5zM933.4 1113.2H944.6V1118.9H933.4zM1022.6 1113.2H1039.3V1118.9H1022.6zM1050.4 1113.2H1056.0V1118.9H1050.4zM1095.0 1113.2H1100.6V1118.9H1095.0zM1111.7 1113.2H1117.3V1118.9H1111.7zM1134.0 1113.2H1139.5V1118.9H1134.0zM1145.1 1113.2H1150.7V1118.9H1145.1zM1161.8 1113.2H1167.4V1118.9H1161.8zM1173.1 1113.2H1178.8V1118.9H1173.1zM1184.4 1113.2H1224.2V1118.9H1184.4zM1229.9 1113.2H1275.3V1118.9H1229.9zM1287.0 1113.2H1293.1V1118.9H1287.0zM1323.3 1113.2H1329.3V1118.9H1323.3zM1335.3 1113.2H1341.4V1118.9H1335.3zM1359.5 1113.2H1365.5V1118.9H1359.5zM944.6 1118.9H961.3V1124.6H944.6zM994.7 1118.9H1005.8V1124.6H994.7zM1011.4 1118.9H1017.0V1124.6H1011.4zM1022.6 1118.9H1033.7V1124.6H1022.6zM1083.8 1118.9H1095.0V1124.6H1083.8zM1117.3 1118.9H1122.8V1124.6H1117.3zM1128.4 1118.9H1134.0V1124.6H1128.4zM1156.3 1118.9H1167.4V1124.6H1156.3zM1178.8 1118.9H1229.9V1124.6H1178.8zM1235.6 1118.9H1281.0V1124.6H1235.6zM1293.1 1118.9H1305.2V1124.6H1293.1zM1329.3 1118.9H1341.4V1124.6H1329.3zM1353.5 1118.9H1359.5V1124.6H1353.5zM872.5 1124.6H878.0V1130.2H872.5zM911.1 1124.6H927.9V1130.2H911.1zM933.4 1124.6H939.0V1130.2H933.4zM950.1 1124.6H955.7V1130.2H950.1zM961.3 1124.6H966.9V1130.2H961.3zM1022.6 1124.6H1028.1V1130.2H1022.6zM1061.6 1124.6H1067.1V1130.2H1061.6zM1078.3 1124.6H1083.8V1130.2H1078.3zM1095.0 1124.6H1100.6V1130.2H1095.0zM1117.3 1124.6H1128.4V1130.2H1117.3zM1134.0 1124.6H1139.5V1130.2H1134.0zM1145.1 1124.6H1150.7V1130.2H1145.1zM1161.8 1124.6H1167.4V1130.2H1161.8zM1173.1 1124.6H1178.8V1130.2H1173.1zM1184.4 1124.6H1212.8V1130.2H1184.4zM1218.5 1124.6H1235.6V1130.2H1218.5zM1241.2 1124.6H1269.6V1130.2H1241.2zM1275.3 1124.6H1281.0V1130.2H1275.3zM1287.0 1124.6H1293.1V1130.2H1287.0zM1305.2 1124.6H1311.2V1130.2H1305.2zM1329.3 1124.6H1335.3V1130.2H1329.3zM1341.4 1124.6H1347.4V1130.2H1341.4zM1353.5 1124.6H1359.5V1130.2H1353.5zM789.8 1130.2H795.3V1135.9H789.8zM866.9 1130.2H872.5V1135.9H866.9zM916.7 1130.2H922.3V1135.9H916.7zM939.0 1130.2H944.6V1135.9H939.0zM966.9 1130.2H978.0V1135.9H966.9zM1005.8 1130.2H1017.0V1135.9H1005.8zM1044.8 1130.2H1050.4V1135.9H1044.8zM1089.4 1130.2H1095.0V1135.9H1089.4zM1134.0 1130.2H1139.5V1135.9H1134.0zM1150.7 1130.2H1156.3V1135.9H1150.7zM1173.1 1130.2H1178.8V1135.9H1173.1zM1184.4 1130.2H1241.2V1135.9H1184.4zM1246.9 1130.2H1264.0V1135.9H1246.9zM1269.6 1130.2H1281.0V1135.9H1269.6zM1293.1 1130.2H1299.1V1135.9H1293.1zM1305.2 1130.2H1311.2V1135.9H1305.2zM1317.2 1130.2H1323.3V1135.9H1317.2zM1335.3 1130.2H1347.4V1135.9H1335.3zM889.0 1135.9H894.5V1141.6H889.0zM1005.8 1135.9H1017.0V1141.6H1005.8zM1028.1 1135.9H1033.7V1141.6H1028.1zM1044.8 1135.9H1050.4V1141.6H1044.8zM1056.0 1135.9H1061.6V1141.6H1056.0zM1095.0 1135.9H1100.6V1141.6H1095.0zM1117.3 1135.9H1128.4V1141.6H1117.3zM1139.5 1135.9H1145.1V1141.6H1139.5zM1150.7 1135.9H1156.3V1141.6H1150.7zM1173.1 1135.9H1201.5V1141.6H1173.1zM1207.2 1135.9H1246.9V1141.6H1207.2zM1258.3 1135.9H1264.0V1141.6H1258.3zM1269.6 1135.9H1281.0V1141.6H1269.6zM1287.0 1135.9H1293.1V1141.6H1287.0zM1299.1 1135.9H1305.2V1141.6H1299.1zM1329.3 1135.9H1335.3V1141.6H1329.3zM1341.4 1135.9H1347.4V1141.6H1341.4zM795.3 1141.6H800.8V1147.3H795.3zM872.5 1141.6H878.0V1147.3H872.5zM889.0 1141.6H900.0V1147.3H889.0zM922.3 1141.6H927.9V1147.3H922.3zM944.6 1141.6H950.1V1147.3H944.6zM978.0 1141.6H983.6V1147.3H978.0zM1039.3 1141.6H1044.8V1147.3H1039.3zM1078.3 1141.6H1083.8V1147.3H1078.3zM1161.8 1141.6H1167.4V1147.3H1161.8zM1184.4 1141.6H1190.1V1147.3H1184.4zM1195.8 1141.6H1201.5V1147.3H1195.8zM1207.2 1141.6H1212.8V1147.3H1207.2zM1218.5 1141.6H1246.9V1147.3H1218.5zM1252.6 1141.6H1275.3V1147.3H1252.6zM1287.0 1141.6H1299.1V1147.3H1287.0zM1311.2 1141.6H1317.2V1147.3H1311.2zM1323.3 1141.6H1329.3V1147.3H1323.3zM800.8 1147.3H806.3V1153.0H800.8zM866.9 1147.3H872.5V1153.0H866.9zM927.9 1147.3H939.0V1153.0H927.9zM983.6 1147.3H989.1V1153.0H983.6zM994.7 1147.3H1005.8V1153.0H994.7zM1117.3 1147.3H1134.0V1153.0H1117.3zM1145.1 1147.3H1167.4V1153.0H1145.1zM1184.4 1147.3H1190.1V1153.0H1184.4zM1195.8 1147.3H1207.2V1153.0H1195.8zM1212.8 1147.3H1258.3V1153.0H1212.8zM1264.0 1147.3H1281.0V1153.0H1264.0zM1311.2 1147.3H1323.3V1153.0H1311.2zM850.4 1153.0H861.4V1158.6H850.4zM872.5 1153.0H878.0V1158.6H872.5zM905.6 1153.0H916.7V1158.6H905.6zM927.9 1153.0H939.0V1158.6H927.9zM972.4 1153.0H978.0V1158.6H972.4zM1000.3 1153.0H1011.4V1158.6H1000.3zM1017.0 1153.0H1022.6V1158.6H1017.0zM1050.4 1153.0H1056.0V1158.6H1050.4zM1061.6 1153.0H1067.1V1158.6H1061.6zM1072.7 1153.0H1078.3V1158.6H1072.7zM1139.5 1153.0H1145.1V1158.6H1139.5zM1161.8 1153.0H1167.4V1158.6H1161.8zM1173.1 1153.0H1178.8V1158.6H1173.1zM1190.1 1153.0H1212.8V1158.6H1190.1zM1218.5 1153.0H1241.2V1158.6H1218.5zM1252.6 1153.0H1281.0V1158.6H1252.6zM1293.1 1153.0H1299.1V1158.6H1293.1zM1317.2 1153.0H1323.3V1158.6H1317.2zM811.8 1158.6H817.3V1164.3H811.8zM872.5 1158.6H878.0V1164.3H872.5zM905.6 1158.6H911.1V1164.3H905.6zM933.4 1158.6H939.0V1164.3H933.4zM961.3 1158.6H966.9V1164.3H961.3zM972.4 1158.6H978.0V1164.3H972.4zM1028.1 1158.6H1033.7V1164.3H1028.1zM1100.6 1158.6H1106.1V1164.3H1100.6zM1134.0 1158.6H1139.5V1164.3H1134.0zM1145.1 1158.6H1156.3V1164.3H1145.1zM1161.8 1158.6H1167.4V1164.3H1161.8zM1173.1 1158.6H1184.4V1164.3H1173.1zM1190.1 1158.6H1207.2V1164.3H1190.1zM1212.8 1158.6H1235.6V1164.3H1212.8zM1241.2 1158.6H1281.0V1164.3H1241.2zM1299.1 1158.6H1323.3V1164.3H1299.1zM1359.5 1158.6H1365.5V1164.3H1359.5zM806.3 1164.3H811.8V1170.0H806.3zM822.9 1164.3H828.4V1170.0H822.9zM1011.4 1164.3H1017.0V1170.0H1011.4zM1028.1 1164.3H1039.3V1170.0H1028.1zM1044.8 1164.3H1050.4V1170.0H1044.8zM1078.3 1164.3H1083.8V1170.0H1078.3zM1134.0 1164.3H1150.7V1170.0H1134.0zM1161.8 1164.3H1167.4V1170.0H1161.8zM1173.1 1164.3H1178.8V1170.0H1173.1zM1195.8 1164.3H1201.5V1170.0H1195.8zM1229.9 1164.3H1252.6V1170.0H1229.9zM1258.3 1164.3H1281.0V1170.0H1258.3zM1317.2 1164.3H1329.3V1170.0H1317.2zM1347.4 1164.3H1359.5V1170.0H1347.4zM789.8 1175.6H795.3V1181.2H789.8zM861.4 1175.6H866.9V1181.2H861.4zM883.5 1175.6H889.0V1181.2H883.5zM894.5 1175.6H900.0V1181.2H894.5zM933.4 1175.6H939.0V1181.2H933.4zM972.4 1175.6H978.0V1181.2H972.4zM994.7 1175.6H1005.8V1181.2H994.7zM1095.0 1175.6H1111.7V1181.2H1095.0zM1128.4 1175.6H1134.0V1181.2H1128.4zM1178.8 1175.6H1190.1V1181.2H1178.8zM1195.8 1175.6H1201.5V1181.2H1195.8zM1207.2 1175.6H1218.5V1181.2H1207.2zM1224.2 1175.6H1229.9V1181.2H1224.2zM1235.6 1175.6H1241.2V1181.2H1235.6zM1246.9 1175.6H1258.3V1181.2H1246.9zM1287.0 1175.6H1293.1V1181.2H1287.0zM1305.2 1175.6H1311.2V1181.2H1305.2zM1335.3 1175.6H1347.4V1181.2H1335.3zM850.4 1181.2H855.9V1186.8H850.4zM916.7 1181.2H922.3V1186.8H916.7zM933.4 1181.2H939.0V1186.8H933.4zM983.6 1181.2H994.7V1186.8H983.6zM1000.3 1181.2H1005.8V1186.8H1000.3zM1011.4 1181.2H1017.0V1186.8H1011.4zM1044.8 1181.2H1050.4V1186.8H1044.8zM1072.7 1181.2H1078.3V1186.8H1072.7zM1117.3 1181.2H1139.5V1186.8H1117.3zM1145.1 1181.2H1150.7V1186.8H1145.1zM1161.8 1181.2H1167.4V1186.8H1161.8zM1178.8 1181.2H1190.1V1186.8H1178.8zM1201.5 1181.2H1207.2V1186.8H1201.5zM1212.8 1181.2H1224.2V1186.8H1212.8zM1229.9 1181.2H1235.6V1186.8H1229.9zM1241.2 1181.2H1246.9V1186.8H1241.2zM1252.6 1181.2H1258.3V1186.8H1252.6zM1264.0 1181.2H1269.6V1186.8H1264.0zM1311.2 1181.2H1335.3V1186.8H1311.2zM1341.4 1181.2H1347.4V1186.8H1341.4zM817.3 1186.8H822.9V1192.4H817.3zM844.9 1186.8H850.4V1192.4H844.9zM916.7 1186.8H922.3V1192.4H916.7zM939.0 1186.8H944.6V1192.4H939.0zM1000.3 1186.8H1011.4V1192.4H1000.3zM1044.8 1186.8H1050.4V1192.4H1044.8zM1061.6 1186.8H1067.1V1192.4H1061.6zM1117.3 1186.8H1122.8V1192.4H1117.3zM1128.4 1186.8H1134.0V1192.4H1128.4zM1145.1 1186.8H1156.3V1192.4H1145.1zM1161.8 1186.8H1167.4V1192.4H1161.8zM1173.1 1186.8H1212.8V1192.4H1173.1zM1229.9 1186.8H1235.6V1192.4H1229.9zM1246.9 1186.8H1252.6V1192.4H1246.9zM1269.6 1186.8H1275.3V1192.4H1269.6zM1311.2 1186.8H1317.2V1192.4H1311.2zM1323.3 1186.8H1329.3V1192.4H1323.3zM1335.3 1186.8H1341.4V1192.4H1335.3zM1347.4 1186.8H1353.5V1192.4H1347.4zM866.9 1192.4H872.5V1198.0H866.9zM911.1 1192.4H916.7V1198.0H911.1zM983.6 1192.4H989.1V1198.0H983.6zM1011.4 1192.4H1017.0V1198.0H1011.4zM1050.4 1192.4H1056.0V1198.0H1050.4zM1072.7 1192.4H1078.3V1198.0H1072.7zM1122.8 1192.4H1128.4V1198.0H1122.8zM1139.5 1192.4H1150.7V1198.0H1139.5zM1156.3 1192.4H1167.4V1198.0H1156.3zM1178.8 1192.4H1190.1V1198.0H1178.8zM1201.5 1192.4H1207.2V1198.0H1201.5zM1235.6 1192.4H1246.9V1198.0H1235.6zM1269.6 1192.4H1275.3V1198.0H1269.6zM1287.0 1192.4H1293.1V1198.0H1287.0zM1317.2 1192.4H1335.3V1198.0H1317.2zM1341.4 1192.4H1347.4V1198.0H1341.4zM866.9 1198.0H872.5V1203.6H866.9zM1033.7 1198.0H1039.3V1203.6H1033.7zM1117.3 1198.0H1122.8V1203.6H1117.3zM1134.0 1198.0H1145.1V1203.6H1134.0zM1156.3 1198.0H1167.4V1203.6H1156.3zM1190.1 1198.0H1195.8V1203.6H1190.1zM1207.2 1198.0H1212.8V1203.6H1207.2zM1218.5 1198.0H1224.2V1203.6H1218.5zM1252.6 1198.0H1264.0V1203.6H1252.6zM1269.6 1198.0H1275.3V1203.6H1269.6zM1293.1 1198.0H1305.2V1203.6H1293.1zM1311.2 1198.0H1359.5V1203.6H1311.2zM878.0 1203.6H883.5V1209.2H878.0zM939.0 1203.6H944.6V1209.2H939.0zM955.7 1203.6H961.3V1209.2H955.7zM978.0 1203.6H983.6V1209.2H978.0zM989.1 1203.6H994.7V1209.2H989.1zM1039.3 1203.6H1044.8V1209.2H1039.3zM1050.4 1203.6H1056.0V1209.2H1050.4zM1072.7 1203.6H1078.3V1209.2H1072.7zM1117.3 1203.6H1122.8V1209.2H1117.3zM1128.4 1203.6H1134.0V1209.2H1128.4zM1145.1 1203.6H1150.7V1209.2H1145.1zM1156.3 1203.6H1161.8V1209.2H1156.3zM1173.1 1203.6H1178.8V1209.2H1173.1zM1184.4 1203.6H1190.1V1209.2H1184.4zM1195.8 1203.6H1207.2V1209.2H1195.8zM1241.2 1203.6H1246.9V1209.2H1241.2zM1258.3 1203.6H1281.0V1209.2H1258.3zM1293.1 1203.6H1299.1V1209.2H1293.1zM1305.2 1203.6H1359.5V1209.2H1305.2zM894.5 1209.2H900.0V1214.8H894.5zM911.1 1209.2H916.7V1214.8H911.1zM933.4 1209.2H939.0V1214.8H933.4zM989.1 1209.2H994.7V1214.8H989.1zM1078.3 1209.2H1089.4V1214.8H1078.3zM1106.1 1209.2H1122.8V1214.8H1106.1zM1139.5 1209.2H1145.1V1214.8H1139.5zM1150.7 1209.2H1161.8V1214.8H1150.7zM1173.1 1209.2H1178.8V1214.8H1173.1zM1190.1 1209.2H1201.5V1214.8H1190.1zM1224.2 1209.2H1229.9V1214.8H1224.2zM1252.6 1209.2H1258.3V1214.8H1252.6zM1275.3 1209.2H1281.0V1214.8H1275.3zM1293.1 1209.2H1329.3V1214.8H1293.1zM1335.3 1209.2H1341.4V1214.8H1335.3zM1347.4 1209.2H1359.5V1214.8H1347.4zM883.5 1214.8H889.0V1220.4H883.5zM894.5 1214.8H900.0V1220.4H894.5zM933.4 1214.8H944.6V1220.4H933.4zM994.7 1214.8H1000.3V1220.4H994.7zM1033.7 1214.8H1039.3V1220.4H1033.7zM1044.8 1214.8H1050.4V1220.4H1044.8zM1100.6 1214.8H1106.1V1220.4H1100.6zM1111.7 1214.8H1117.3V1220.4H1111.7zM1122.8 1214.8H1145.1V1220.4H1122.8zM1161.8 1214.8H1167.4V1220.4H1161.8zM1178.8 1214.8H1195.8V1220.4H1178.8zM1201.5 1214.8H1207.2V1220.4H1201.5zM1218.5 1214.8H1224.2V1220.4H1218.5zM1229.9 1214.8H1241.2V1220.4H1229.9zM1246.9 1214.8H1252.6V1220.4H1246.9zM1293.1 1214.8H1299.1V1220.4H1293.1zM1305.2 1214.8H1323.3V1220.4H1305.2zM1329.3 1214.8H1335.3V1220.4H1329.3zM1341.4 1214.8H1365.5V1220.4H1341.4zM944.6 1220.4H950.1V1226.0H944.6zM961.3 1220.4H972.4V1226.0H961.3zM1011.4 1220.4H1022.6V1226.0H1011.4zM1056.0 1220.4H1061.6V1226.0H1056.0zM1145.1 1220.4H1150.7V1226.0H1145.1zM1161.8 1220.4H1167.4V1226.0H1161.8zM1178.8 1220.4H1184.4V1226.0H1178.8zM1201.5 1220.4H1207.2V1226.0H1201.5zM1218.5 1220.4H1235.6V1226.0H1218.5zM1241.2 1220.4H1246.9V1226.0H1241.2zM1287.0 1220.4H1293.1V1226.0H1287.0zM1299.1 1220.4H1305.2V1226.0H1299.1zM1311.2 1220.4H1329.3V1226.0H1311.2zM1335.3 1220.4H1341.4V1226.0H1335.3zM1347.4 1220.4H1353.5V1226.0H1347.4zM894.5 1226.0H900.0V1231.6H894.5zM916.7 1226.0H922.3V1231.6H916.7zM966.9 1226.0H978.0V1231.6H966.9zM1005.8 1226.0H1011.4V1231.6H1005.8zM1022.6 1226.0H1028.1V1231.6H1022.6zM1039.3 1226.0H1044.8V1231.6H1039.3zM1083.8 1226.0H1089.4V1231.6H1083.8zM1150.7 1226.0H1156.3V1231.6H1150.7zM1173.1 1226.0H1178.8V1231.6H1173.1zM1212.8 1226.0H1224.2V1231.6H1212.8zM1235.6 1226.0H1252.6V1231.6H1235.6zM1287.0 1226.0H1299.1V1231.6H1287.0zM1305.2 1226.0H1323.3V1231.6H1305.2zM1329.3 1226.0H1335.3V1231.6H1329.3zM1353.5 1226.0H1359.5V1231.6H1353.5zM866.9 1231.6H872.5V1237.2H866.9zM922.3 1231.6H927.9V1237.2H922.3zM983.6 1231.6H989.1V1237.2H983.6zM1028.1 1231.6H1033.7V1237.2H1028.1zM1044.8 1231.6H1050.4V1237.2H1044.8zM1178.8 1231.6H1184.4V1237.2H1178.8zM1275.3 1231.6H1281.0V1237.2H1275.3zM1299.1 1231.6H1305.2V1237.2H1299.1zM1311.2 1231.6H1341.4V1237.2H1311.2zM1347.4 1231.6H1359.5V1237.2H1347.4zM866.9 1237.2H872.5V1242.8H866.9zM894.5 1237.2H900.0V1242.8H894.5zM916.7 1237.2H922.3V1242.8H916.7zM978.0 1237.2H983.6V1242.8H978.0zM994.7 1237.2H1000.3V1242.8H994.7zM1005.8 1237.2H1011.4V1242.8H1005.8zM1022.6 1237.2H1028.1V1242.8H1022.6zM1039.3 1237.2H1050.4V1242.8H1039.3zM1106.1 1237.2H1111.7V1242.8H1106.1zM1128.4 1237.2H1134.0V1242.8H1128.4zM1139.5 1237.2H1150.7V1242.8H1139.5zM1156.3 1237.2H1161.8V1242.8H1156.3zM1229.9 1237.2H1241.2V1242.8H1229.9zM1275.3 1237.2H1281.0V1242.8H1275.3zM1311.2 1237.2H1335.3V1242.8H1311.2zM1341.4 1237.2H1353.5V1242.8H1341.4zM894.5 1242.8H900.0V1248.4H894.5zM939.0 1242.8H944.6V1248.4H939.0zM961.3 1242.8H966.9V1248.4H961.3zM983.6 1242.8H989.1V1248.4H983.6zM1011.4 1242.8H1017.0V1248.4H1011.4zM1061.6 1242.8H1067.1V1248.4H1061.6zM1111.7 1242.8H1117.3V1248.4H1111.7zM1128.4 1242.8H1139.5V1248.4H1128.4zM1224.2 1242.8H1229.9V1248.4H1224.2zM1269.6 1242.8H1281.0V1248.4H1269.6zM1305.2 1242.8H1317.2V1248.4H1305.2zM1329.3 1242.8H1335.3V1248.4H1329.3zM1347.4 1242.8H1365.5V1248.4H1347.4zM855.9 1248.4H861.4V1254.2H855.9zM922.3 1248.4H927.9V1254.2H922.3zM1161.8 1248.4H1167.4V1254.2H1161.8zM1246.9 1248.4H1252.6V1254.2H1246.9zM1281.0 1248.4H1287.0V1254.2H1281.0z"/><path fill="#fbf8f8" d="M900.0 684.7H905.6V690.4H900.0zM1281.0 684.7H1287.0V690.4H1281.0zM900.0 690.4H905.6V696.0H900.0zM1281.0 690.4H1287.0V696.0H1281.0zM1281.0 701.6H1287.0V707.2H1281.0zM900.0 707.2H905.6V712.9H900.0zM1281.0 712.9H1287.0V718.5H1281.0zM883.5 724.1H889.0V729.7H883.5zM900.0 724.1H905.6V729.7H900.0zM900.0 729.7H905.6V735.4H900.0zM900.0 735.4H905.6V741.0H900.0zM1167.4 735.4H1173.1V741.0H1167.4zM900.0 746.6H905.6V752.2H900.0zM1281.0 746.6H1287.0V752.2H1281.0zM900.0 752.2H905.6V757.9H900.0zM1167.4 752.2H1173.1V757.9H1167.4zM1281.0 752.2H1287.0V757.9H1281.0zM900.0 757.9H905.6V763.5H900.0zM900.0 763.5H905.6V769.1H900.0zM839.4 769.1H844.9V774.7H839.4zM900.0 769.1H905.6V774.7H900.0zM1167.4 769.1H1173.1V774.7H1167.4zM900.0 774.7H905.6V780.4H900.0zM922.3 774.7H927.9V780.4H922.3zM900.0 780.4H905.6V786.0H900.0zM911.1 780.4H916.7V786.0H911.1zM1145.1 780.4H1150.7V786.0H1145.1zM1167.4 780.4H1173.1V786.0H1167.4zM800.8 786.0H811.8V791.6H800.8zM822.9 786.0H828.4V791.6H822.9zM839.4 786.0H855.9V791.6H839.4zM861.4 786.0H916.7V791.6H861.4zM922.3 786.0H950.1V791.6H922.3zM955.7 786.0H961.3V791.6H955.7zM966.9 786.0H972.4V791.6H966.9zM978.0 786.0H994.7V791.6H978.0zM1005.8 786.0H1017.0V791.6H1005.8zM1050.4 786.0H1061.6V791.6H1050.4zM1078.3 786.0H1083.8V791.6H1078.3zM1100.6 786.0H1106.1V791.6H1100.6zM1139.5 786.0H1145.1V791.6H1139.5zM1150.7 786.0H1161.8V791.6H1150.7zM1167.4 786.0H1173.1V791.6H1167.4zM1190.1 786.0H1195.8V791.6H1190.1zM1246.9 786.0H1252.6V791.6H1246.9zM1258.3 786.0H1264.0V791.6H1258.3zM1269.6 786.0H1293.1V791.6H1269.6zM1299.1 786.0H1305.2V791.6H1299.1zM1323.3 786.0H1329.3V791.6H1323.3zM1341.4 786.0H1347.4V791.6H1341.4zM900.0 791.6H905.6V797.3H900.0zM1167.4 791.6H1173.1V797.3H1167.4zM1281.0 791.6H1287.0V797.3H1281.0zM894.5 797.3H905.6V802.9H894.5zM1281.0 797.3H1287.0V802.9H1281.0zM1281.0 802.9H1287.0V808.5H1281.0zM889.0 808.5H894.5V814.2H889.0zM900.0 808.5H905.6V814.2H900.0zM900.0 814.2H905.6V819.8H900.0zM927.9 814.2H933.4V819.8H927.9zM900.0 819.8H905.6V825.4H900.0zM900.0 825.4H905.6V831.1H900.0zM900.0 831.1H905.6V836.7H900.0zM1167.4 831.1H1173.1V836.7H1167.4zM1281.0 831.1H1287.0V836.7H1281.0zM950.1 836.7H955.7V842.3H950.1zM900.0 842.3H905.6V848.0H900.0zM955.7 842.3H961.3V848.0H955.7zM972.4 842.3H978.0V848.0H972.4zM1072.7 842.3H1078.3V848.0H1072.7zM1167.4 842.3H1173.1V848.0H1167.4zM1167.4 848.0H1173.1V853.6H1167.4zM900.0 853.6H905.6V859.2H900.0zM1011.4 853.6H1017.0V859.2H1011.4zM1167.4 853.6H1173.1V859.2H1167.4zM1281.0 853.6H1287.0V859.2H1281.0zM955.7 859.2H961.3V864.9H955.7zM1067.1 859.2H1072.7V864.9H1067.1zM1106.1 859.2H1111.7V864.9H1106.1zM900.0 864.9H905.6V870.5H900.0zM1111.7 864.9H1117.3V870.5H1111.7zM1281.0 864.9H1287.0V870.5H1281.0zM900.0 870.5H905.6V876.1H900.0zM1167.4 870.5H1173.1V876.1H1167.4zM900.0 876.1H905.6V881.8H900.0zM1167.4 876.1H1173.1V881.8H1167.4zM1167.4 881.8H1173.1V887.4H1167.4zM1117.3 887.4H1122.8V893.0H1117.3zM900.0 893.0H905.6V898.7H900.0zM900.0 898.7H905.6V904.3H900.0zM966.9 898.7H972.4V904.3H966.9zM1281.0 898.7H1287.0V904.3H1281.0zM1017.0 904.3H1022.6V909.9H1017.0zM1167.4 904.3H1173.1V909.9H1167.4zM1167.4 909.9H1173.1V915.6H1167.4zM1117.3 915.6H1122.8V921.2H1117.3zM1167.4 915.6H1173.1V921.2H1167.4zM1281.0 915.6H1287.0V921.2H1281.0zM1128.4 921.2H1134.0V926.8H1128.4zM1281.0 921.2H1287.0V926.8H1281.0zM1281.0 926.8H1287.0V932.5H1281.0zM1167.4 932.5H1173.1V938.1H1167.4zM900.0 938.1H905.6V943.7H900.0zM900.0 943.7H905.6V949.4H900.0zM1281.0 943.7H1287.0V949.4H1281.0zM972.4 955.0H978.0V960.6H972.4zM1281.0 955.0H1287.0V960.6H1281.0zM955.7 960.6H961.3V966.3H955.7zM1281.0 960.6H1287.0V966.3H1281.0zM900.0 966.3H905.6V971.9H900.0zM1167.4 966.3H1173.1V971.9H1167.4zM1281.0 966.3H1287.0V971.9H1281.0zM1281.0 971.9H1287.0V977.5H1281.0zM1167.4 977.5H1173.1V983.2H1167.4zM1128.4 983.2H1134.0V988.8H1128.4zM900.0 988.8H905.6V994.4H900.0zM1167.4 988.8H1173.1V994.4H1167.4zM972.4 994.4H978.0V1000.1H972.4zM978.0 1000.1H983.6V1005.7H978.0zM1167.4 1000.1H1173.1V1005.7H1167.4zM1000.3 1005.7H1005.8V1011.3H1000.3zM1028.1 1005.7H1033.7V1011.3H1028.1zM1122.8 1011.3H1128.4V1017.0H1122.8zM1281.0 1011.3H1287.0V1017.0H1281.0zM1033.7 1017.0H1039.3V1022.6H1033.7zM1095.0 1017.0H1100.6V1022.6H1095.0zM1167.4 1017.0H1173.1V1022.6H1167.4zM1281.0 1017.0H1287.0V1022.6H1281.0zM1281.0 1022.6H1287.0V1028.2H1281.0zM900.0 1028.2H905.6V1033.9H900.0zM1167.4 1028.2H1173.1V1033.9H1167.4zM894.5 1033.9H900.0V1039.5H894.5zM900.0 1039.5H905.6V1045.1H900.0zM1281.0 1039.5H1287.0V1045.1H1281.0zM900.0 1045.1H905.6V1050.8H900.0zM1167.4 1045.1H1173.1V1050.8H1167.4zM1281.0 1045.1H1287.0V1050.8H1281.0zM1167.4 1050.8H1173.1V1056.4H1167.4zM850.4 1056.4H855.9V1062.1H850.4zM866.9 1056.4H872.5V1062.1H866.9zM883.5 1056.4H889.0V1062.1H883.5zM894.5 1056.4H911.1V1062.1H894.5zM944.6 1056.4H950.1V1062.1H944.6zM955.7 1056.4H972.4V1062.1H955.7zM983.6 1056.4H1000.3V1062.1H983.6zM1017.0 1056.4H1033.7V1062.1H1017.0zM1044.8 1056.4H1050.4V1062.1H1044.8zM1078.3 1056.4H1083.8V1062.1H1078.3zM1089.4 1056.4H1095.0V1062.1H1089.4zM1100.6 1056.4H1106.1V1062.1H1100.6zM1111.7 1056.4H1117.3V1062.1H1111.7zM1128.4 1056.4H1134.0V1062.1H1128.4zM1139.5 1056.4H1145.1V1062.1H1139.5zM1156.3 1056.4H1224.2V1062.1H1156.3zM1235.6 1056.4H1241.2V1062.1H1235.6zM1264.0 1056.4H1281.0V1062.1H1264.0zM1287.0 1056.4H1305.2V1062.1H1287.0zM1317.2 1056.4H1347.4V1062.1H1317.2zM1167.4 1062.1H1173.1V1067.8H1167.4zM1281.0 1062.1H1287.0V1067.8H1281.0zM1167.4 1067.8H1173.1V1073.4H1167.4zM1167.4 1073.4H1173.1V1079.1H1167.4zM900.0 1079.1H905.6V1084.8H900.0zM1167.4 1079.1H1173.1V1084.8H1167.4zM1190.1 1079.1H1195.8V1084.8H1190.1zM1281.0 1079.1H1287.0V1084.8H1281.0zM1167.4 1084.8H1173.1V1090.5H1167.4zM1281.0 1084.8H1287.0V1090.5H1281.0zM1293.1 1084.8H1299.1V1090.5H1293.1zM1167.4 1090.5H1173.1V1096.2H1167.4zM1281.0 1090.5H1287.0V1096.2H1281.0zM1167.4 1096.2H1173.1V1101.8H1167.4zM1281.0 1096.2H1287.0V1101.8H1281.0zM1167.4 1101.8H1173.1V1107.5H1167.4zM1167.4 1107.5H1173.1V1113.2H1167.4zM1218.5 1107.5H1224.2V1113.2H1218.5zM1281.0 1113.2H1287.0V1118.9H1281.0zM1229.9 1118.9H1235.6V1124.6H1229.9zM1167.4 1124.6H1173.1V1130.2H1167.4zM1235.6 1124.6H1241.2V1130.2H1235.6zM1281.0 1124.6H1287.0V1130.2H1281.0zM1241.2 1130.2H1246.9V1135.9H1241.2zM1281.0 1130.2H1287.0V1135.9H1281.0zM900.0 1135.9H905.6V1141.6H900.0zM1281.0 1135.9H1287.0V1141.6H1281.0zM900.0 1147.3H905.6V1153.0H900.0zM1258.3 1147.3H1264.0V1153.0H1258.3zM1167.4 1153.0H1173.1V1158.6H1167.4zM900.0 1158.6H905.6V1164.3H900.0zM1167.4 1158.6H1173.1V1164.3H1167.4zM900.0 1164.3H905.6V1170.0H900.0zM1167.4 1164.3H1173.1V1170.0H1167.4zM1281.0 1164.3H1287.0V1170.0H1281.0zM800.8 1170.0H811.8V1175.6H800.8zM817.3 1170.0H822.9V1175.6H817.3zM828.4 1170.0H833.9V1175.6H828.4zM861.4 1170.0H872.5V1175.6H861.4zM900.0 1170.0H922.3V1175.6H900.0zM944.6 1170.0H950.1V1175.6H944.6zM966.9 1170.0H972.4V1175.6H966.9zM978.0 1170.0H983.6V1175.6H978.0zM1011.4 1170.0H1017.0V1175.6H1011.4zM1028.1 1170.0H1044.8V1175.6H1028.1zM1056.0 1170.0H1061.6V1175.6H1056.0zM1067.1 1170.0H1089.4V1175.6H1067.1zM1122.8 1170.0H1139.5V1175.6H1122.8zM1150.7 1170.0H1161.8V1175.6H1150.7zM1173.1 1170.0H1178.8V1175.6H1173.1zM1190.1 1170.0H1212.8V1175.6H1190.1zM1224.2 1170.0H1229.9V1175.6H1224.2zM1235.6 1170.0H1252.6V1175.6H1235.6zM1275.3 1170.0H1335.3V1175.6H1275.3zM1347.4 1170.0H1353.5V1175.6H1347.4zM900.0 1175.6H905.6V1181.2H900.0zM1167.4 1175.6H1173.1V1181.2H1167.4zM1281.0 1175.6H1287.0V1181.2H1281.0zM1167.4 1181.2H1173.1V1186.8H1167.4zM1195.8 1181.2H1201.5V1186.8H1195.8zM1281.0 1181.2H1287.0V1186.8H1281.0zM900.0 1186.8H905.6V1192.4H900.0zM1167.4 1186.8H1173.1V1192.4H1167.4zM1281.0 1186.8H1287.0V1192.4H1281.0zM1281.0 1192.4H1287.0V1198.0H1281.0zM1305.2 1192.4H1311.2V1198.0H1305.2zM1281.0 1198.0H1287.0V1203.6H1281.0zM1167.4 1203.6H1173.1V1209.2H1167.4zM1281.0 1203.6H1287.0V1209.2H1281.0zM900.0 1209.2H905.6V1214.8H900.0zM1167.4 1209.2H1173.1V1214.8H1167.4zM1281.0 1209.2H1287.0V1214.8H1281.0zM1167.4 1214.8H1173.1V1220.4H1167.4zM1281.0 1214.8H1287.0V1220.4H1281.0zM1167.4 1220.4H1173.1V1226.0H1167.4zM900.0 1226.0H905.6V1231.6H900.0zM1167.4 1226.0H1173.1V1231.6H1167.4zM1281.0 1231.6H1287.0V1237.2H1281.0zM900.0 1242.8H905.6V1248.4H900.0z"/></g><rect x="789.8" y="679.1" width="581.7" height="581.0" fill="none" stroke="#3a3a3a" stroke-width="1.6"/><text x="67.1" y="665" font-size="21" font-family="Liberation Sans, sans-serif">19,540 KB</text><path d="M118.6 670V679" stroke="#333" stroke-width="1.3"/><text x="314.5" y="665" font-size="21" font-family="Liberation Sans, sans-serif">19,580 KB</text><path d="M358.6 670V679" stroke="#333" stroke-width="1.3"/><text x="562.4" y="665" font-size="21" font-family="Liberation Sans, sans-serif">19,620 KB</text><path d="M622.2 670V679" stroke="#333" stroke-width="1.3"/><text transform="translate(65.8,729.4) rotate(-90)" text-anchor="middle" font-size="21" font-family="Liberation Sans, sans-serif">19,540 KB</text><path d="M71.5 717.3H81.5" stroke="#333" stroke-width="1.3"/><text transform="translate(65.8,947.8) rotate(-90)" text-anchor="middle" font-size="21" font-family="Liberation Sans, sans-serif">19,580 KB</text><path d="M71.5 954.3H81.5" stroke="#333" stroke-width="1.3"/><text transform="translate(65.8,1220.6) rotate(-90)" text-anchor="middle" font-size="21" font-family="Liberation Sans, sans-serif">19,620 KB</text><path d="M71.5 1224.7H81.5" stroke="#333" stroke-width="1.3"/><text x="91.3" y="1248" font-size="21" font-family="Liberation Sans, sans-serif">1 KB resolution</text><text x="254" y="1286.2" font-size="21" font-family="Liberation Sans, sans-serif">Chr2:19,530-19,630 KB</text><text x="775.4" y="665" font-size="21" font-family="Liberation Sans, sans-serif">19,540 KB</text><path d="M826.9 670V679" stroke="#333" stroke-width="1.3"/><text x="1022.8" y="665" font-size="21" font-family="Liberation Sans, sans-serif">19,580 KB</text><path d="M1066.9 670V679" stroke="#333" stroke-width="1.3"/><text x="1270.7" y="665" font-size="21" font-family="Liberation Sans, sans-serif">19,620 KB</text><path d="M1330.5 670V679" stroke="#333" stroke-width="1.3"/><text transform="translate(775.5,729.4) rotate(-90)" text-anchor="middle" font-size="21" font-family="Liberation Sans, sans-serif">19,540 KB</text><path d="M779.8 717.3H789.8" stroke="#333" stroke-width="1.3"/><text transform="translate(775.5,947.8) rotate(-90)" text-anchor="middle" font-size="21" font-family="Liberation Sans, sans-serif">19,580 KB</text><path d="M779.8 954.3H789.8" stroke="#333" stroke-width="1.3"/><text transform="translate(775.5,1220.6) rotate(-90)" text-anchor="middle" font-size="21" font-family="Liberation Sans, sans-serif">19,620 KB</text><path d="M779.8 1224.7H789.8" stroke="#333" stroke-width="1.3"/><text x="801.6" y="1248" font-size="21" font-family="Liberation Sans, sans-serif">1 KB resolution</text><text x="994.9" y="1286.2" font-size="21" font-family="Liberation Sans, sans-serif">Chr2:19,530-19,630 KB</text><rect x="249.3" y="843.3" width="61.7" height="61.2" fill="none" stroke="#000" stroke-width="1.8"/><rect x="970.5" y="857" width="60.9" height="60.7" fill="none" stroke="#000" stroke-width="1.8"/><path d="M310.2 902.6L341.5 905.4L321.4 910L316.6 914.6L312 933.1Z" fill="#000"/><path d="M317.0 910.3L390.2 985.2" stroke="#000" stroke-width="4.2"/><path d="M1031 912L1062.3 915.2L1042 920.3L1037.4 924L1032.4 943.3Z" fill="#000"/><path d="M1037.7 920.1L1111.5 995.9" stroke="#000" stroke-width="4.2"/></svg></body></html>
